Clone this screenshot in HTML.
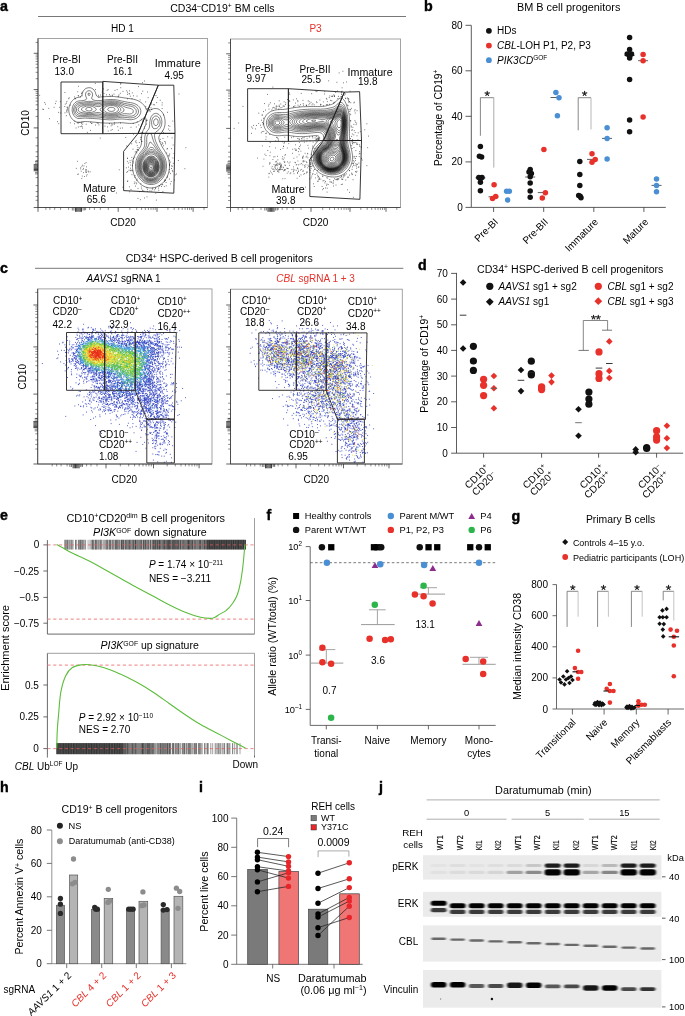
<!DOCTYPE html>
<html><head><meta charset="utf-8"><style>
html,body{margin:0;padding:0;background:#fff;}
svg{display:block;will-change:transform;opacity:0.999;font-family:"Liberation Sans", sans-serif;font-size:10px;}
</style></head><body>
<svg width="685" height="1016" viewBox="0 0 685 1016">
<defs>
<filter id="blur1" x="-20%" y="-50%" width="140%" height="200%"><feGaussianBlur stdDeviation="1.2"/></filter>
<filter id="bb" x="-5%" y="-20%" width="110%" height="140%"><feGaussianBlur stdDeviation="0.9 0.7"/></filter>
<filter id="blur2" x="-20%" y="-50%" width="140%" height="200%"><feGaussianBlur stdDeviation="0.7"/></filter>
</defs>
<text transform="translate(0.0 10.6) scale(0.92 1)" font-size="15.5" font-weight="bold" fill="#000" stroke="#000" stroke-width="0.45">a</text>
<text x="170.2" y="11.6" textLength="104.3" lengthAdjust="spacingAndGlyphs">CD34<tspan dy="-3.5" font-size="6.5">–</tspan><tspan dy="3.5">CD19</tspan><tspan dy="-3.5" font-size="6.5">+</tspan><tspan dy="3.5">  BM cells</tspan></text>
<line x1="38.0" y1="16.5" x2="406.0" y2="16.5" stroke="#555" stroke-width="0.8"/>
<text x="122.5" y="32.0" text-anchor="middle">HD 1</text>
<text x="315.5" y="32.0" text-anchor="middle" fill="#e8312a">P3</text>
<rect x="38" y="38.5" width="169.5" height="169.0" fill="none" stroke="#9a9a9a" stroke-width="0.9"/>
<line x1="38.0" y1="38.5" x2="38.0" y2="207.5" stroke="#444" stroke-width="0.9"/>
<line x1="38.0" y1="207.5" x2="207.5" y2="207.5" stroke="#444" stroke-width="0.9"/>
<line x1="33.7" y1="53.3" x2="38.0" y2="53.3" stroke="#231f20" stroke-width="0.7"/>
<line x1="33.7" y1="89.6" x2="38.0" y2="89.6" stroke="#231f20" stroke-width="0.7"/>
<line x1="33.7" y1="127.9" x2="38.0" y2="127.9" stroke="#231f20" stroke-width="0.7"/>
<line x1="33.7" y1="207.5" x2="38.0" y2="207.5" stroke="#231f20" stroke-width="0.7"/>
<line x1="35.6" y1="78.7" x2="38.0" y2="78.7" stroke="#231f20" stroke-width="0.5"/>
<line x1="35.6" y1="72.3" x2="38.0" y2="72.3" stroke="#231f20" stroke-width="0.5"/>
<line x1="35.6" y1="67.7" x2="38.0" y2="67.7" stroke="#231f20" stroke-width="0.5"/>
<line x1="35.6" y1="64.2" x2="38.0" y2="64.2" stroke="#231f20" stroke-width="0.5"/>
<line x1="35.6" y1="61.4" x2="38.0" y2="61.4" stroke="#231f20" stroke-width="0.5"/>
<line x1="35.6" y1="58.9" x2="38.0" y2="58.9" stroke="#231f20" stroke-width="0.5"/>
<line x1="35.6" y1="56.8" x2="38.0" y2="56.8" stroke="#231f20" stroke-width="0.5"/>
<line x1="35.6" y1="55.0" x2="38.0" y2="55.0" stroke="#231f20" stroke-width="0.5"/>
<line x1="35.6" y1="116.4" x2="38.0" y2="116.4" stroke="#231f20" stroke-width="0.5"/>
<line x1="35.6" y1="109.6" x2="38.0" y2="109.6" stroke="#231f20" stroke-width="0.5"/>
<line x1="35.6" y1="104.8" x2="38.0" y2="104.8" stroke="#231f20" stroke-width="0.5"/>
<line x1="35.6" y1="101.1" x2="38.0" y2="101.1" stroke="#231f20" stroke-width="0.5"/>
<line x1="35.6" y1="98.1" x2="38.0" y2="98.1" stroke="#231f20" stroke-width="0.5"/>
<line x1="35.6" y1="95.5" x2="38.0" y2="95.5" stroke="#231f20" stroke-width="0.5"/>
<line x1="35.6" y1="93.3" x2="38.0" y2="93.3" stroke="#231f20" stroke-width="0.5"/>
<line x1="35.6" y1="91.4" x2="38.0" y2="91.4" stroke="#231f20" stroke-width="0.5"/>
<line x1="35.6" y1="42.4" x2="38.0" y2="42.4" stroke="#231f20" stroke-width="0.5"/>
<line x1="35.6" y1="137.8" x2="38.0" y2="137.8" stroke="#231f20" stroke-width="0.5"/>
<line x1="35.6" y1="177.6" x2="38.0" y2="177.6" stroke="#231f20" stroke-width="0.5"/>
<line x1="35.6" y1="145.8" x2="38.0" y2="145.8" stroke="#231f20" stroke-width="0.5"/>
<line x1="35.6" y1="185.6" x2="38.0" y2="185.6" stroke="#231f20" stroke-width="0.5"/>
<line x1="35.6" y1="151.8" x2="38.0" y2="151.8" stroke="#231f20" stroke-width="0.5"/>
<line x1="35.6" y1="191.6" x2="38.0" y2="191.6" stroke="#231f20" stroke-width="0.5"/>
<line x1="35.6" y1="156.6" x2="38.0" y2="156.6" stroke="#231f20" stroke-width="0.5"/>
<line x1="35.6" y1="196.4" x2="38.0" y2="196.4" stroke="#231f20" stroke-width="0.5"/>
<line x1="35.6" y1="160.5" x2="38.0" y2="160.5" stroke="#231f20" stroke-width="0.5"/>
<line x1="35.6" y1="200.3" x2="38.0" y2="200.3" stroke="#231f20" stroke-width="0.5"/>
<line x1="33.7" y1="164.7" x2="38.0" y2="164.7" stroke="#111" stroke-width="0.8"/>
<line x1="33.7" y1="165.9" x2="38.0" y2="165.9" stroke="#111" stroke-width="0.8"/>
<line x1="33.7" y1="167.1" x2="38.0" y2="167.1" stroke="#111" stroke-width="0.8"/>
<line x1="33.7" y1="168.3" x2="38.0" y2="168.3" stroke="#111" stroke-width="0.8"/>
<line x1="33.7" y1="169.5" x2="38.0" y2="169.5" stroke="#111" stroke-width="0.8"/>
<line x1="33.7" y1="170.7" x2="38.0" y2="170.7" stroke="#111" stroke-width="0.8"/>
<line x1="35.0" y1="161.5" x2="38.0" y2="161.5" stroke="#222" stroke-width="0.6"/>
<line x1="35.0" y1="163.1" x2="38.0" y2="163.1" stroke="#222" stroke-width="0.6"/>
<line x1="35.0" y1="172.3" x2="38.0" y2="172.3" stroke="#222" stroke-width="0.6"/>
<line x1="35.0" y1="173.9" x2="38.0" y2="173.9" stroke="#222" stroke-width="0.6"/>
<line x1="118.2" y1="207.5" x2="118.2" y2="211.8" stroke="#231f20" stroke-width="0.7"/>
<line x1="157.0" y1="207.5" x2="157.0" y2="211.8" stroke="#231f20" stroke-width="0.7"/>
<line x1="193.1" y1="207.5" x2="193.1" y2="211.8" stroke="#231f20" stroke-width="0.7"/>
<line x1="38.0" y1="207.5" x2="38.0" y2="211.8" stroke="#231f20" stroke-width="0.7"/>
<line x1="129.9" y1="207.5" x2="129.9" y2="209.9" stroke="#231f20" stroke-width="0.5"/>
<line x1="136.7" y1="207.5" x2="136.7" y2="209.9" stroke="#231f20" stroke-width="0.5"/>
<line x1="141.6" y1="207.5" x2="141.6" y2="209.9" stroke="#231f20" stroke-width="0.5"/>
<line x1="145.3" y1="207.5" x2="145.3" y2="209.9" stroke="#231f20" stroke-width="0.5"/>
<line x1="148.4" y1="207.5" x2="148.4" y2="209.9" stroke="#231f20" stroke-width="0.5"/>
<line x1="151.0" y1="207.5" x2="151.0" y2="209.9" stroke="#231f20" stroke-width="0.5"/>
<line x1="153.2" y1="207.5" x2="153.2" y2="209.9" stroke="#231f20" stroke-width="0.5"/>
<line x1="155.2" y1="207.5" x2="155.2" y2="209.9" stroke="#231f20" stroke-width="0.5"/>
<line x1="167.9" y1="207.5" x2="167.9" y2="209.9" stroke="#231f20" stroke-width="0.5"/>
<line x1="174.2" y1="207.5" x2="174.2" y2="209.9" stroke="#231f20" stroke-width="0.5"/>
<line x1="178.7" y1="207.5" x2="178.7" y2="209.9" stroke="#231f20" stroke-width="0.5"/>
<line x1="182.2" y1="207.5" x2="182.2" y2="209.9" stroke="#231f20" stroke-width="0.5"/>
<line x1="185.1" y1="207.5" x2="185.1" y2="209.9" stroke="#231f20" stroke-width="0.5"/>
<line x1="187.5" y1="207.5" x2="187.5" y2="209.9" stroke="#231f20" stroke-width="0.5"/>
<line x1="189.6" y1="207.5" x2="189.6" y2="209.9" stroke="#231f20" stroke-width="0.5"/>
<line x1="191.4" y1="207.5" x2="191.4" y2="209.9" stroke="#231f20" stroke-width="0.5"/>
<line x1="204.0" y1="207.5" x2="204.0" y2="209.9" stroke="#231f20" stroke-width="0.5"/>
<line x1="108.3" y1="207.5" x2="108.3" y2="209.9" stroke="#231f20" stroke-width="0.5"/>
<line x1="68.6" y1="207.5" x2="68.6" y2="209.9" stroke="#231f20" stroke-width="0.5"/>
<line x1="100.3" y1="207.5" x2="100.3" y2="209.9" stroke="#231f20" stroke-width="0.5"/>
<line x1="60.6" y1="207.5" x2="60.6" y2="209.9" stroke="#231f20" stroke-width="0.5"/>
<line x1="94.4" y1="207.5" x2="94.4" y2="209.9" stroke="#231f20" stroke-width="0.5"/>
<line x1="54.7" y1="207.5" x2="54.7" y2="209.9" stroke="#231f20" stroke-width="0.5"/>
<line x1="89.6" y1="207.5" x2="89.6" y2="209.9" stroke="#231f20" stroke-width="0.5"/>
<line x1="49.9" y1="207.5" x2="49.9" y2="209.9" stroke="#231f20" stroke-width="0.5"/>
<line x1="85.6" y1="207.5" x2="85.6" y2="209.9" stroke="#231f20" stroke-width="0.5"/>
<line x1="45.9" y1="207.5" x2="45.9" y2="209.9" stroke="#231f20" stroke-width="0.5"/>
<line x1="75.5" y1="207.5" x2="75.5" y2="211.8" stroke="#111" stroke-width="0.8"/>
<line x1="76.7" y1="207.5" x2="76.7" y2="211.8" stroke="#111" stroke-width="0.8"/>
<line x1="77.9" y1="207.5" x2="77.9" y2="211.8" stroke="#111" stroke-width="0.8"/>
<line x1="79.1" y1="207.5" x2="79.1" y2="211.8" stroke="#111" stroke-width="0.8"/>
<line x1="80.3" y1="207.5" x2="80.3" y2="211.8" stroke="#111" stroke-width="0.8"/>
<line x1="81.5" y1="207.5" x2="81.5" y2="211.8" stroke="#111" stroke-width="0.8"/>
<line x1="72.3" y1="207.5" x2="72.3" y2="210.5" stroke="#222" stroke-width="0.6"/>
<line x1="73.9" y1="207.5" x2="73.9" y2="210.5" stroke="#222" stroke-width="0.6"/>
<line x1="83.1" y1="207.5" x2="83.1" y2="210.5" stroke="#222" stroke-width="0.6"/>
<line x1="84.7" y1="207.5" x2="84.7" y2="210.5" stroke="#222" stroke-width="0.6"/>
<path d="M146.9 191.3h.8m-99.3-82.9h.8m6-4.8h.8m39.1 21.5h.8m-21.1-26.2h.8m95.6 49.8h.8m-94.6-56.9h.8m39.8 4.3h.8m50.3 64.2h.8m-6.9-14.5h.8m-33.4 24.9h.8m-61.2-65.6h.8m63.8 70.4h.8m20.2-79.9h.8m-30.1 50.4h.8m40.1-33.7h.8m-31.3 66.8h.8m-8.2 12.7h.8m6.4-11.4h.8m-2.1 5.7h.8m8.2-105.1h.8m-12.6 89.7h.8m-84.2-52h.8m17.1-11.6h.8m98 75.4h.8m-38.6-19.4h.8m22.6-53.5h.8m-14.5 37.9h.8m30.1 9.3h.8m-42 14.7h.8m-61.3-64h.8m84.7 80.7h.8m21.7-13.4h.8m-55.1-91.3h.8m31.6 21.2h.8m8.5 26.4h.8m-96.3-21.4h.8m79.5-17.7h.8m-.1 5.6h.8m-30.6 32.7h.8m12.6 39.9h.8m-9.5-78.8h.8m36.3 50.2h.8m-18.5-58.9h.8m-10 40.7h.8m-33.4-28.4h.8m60.8 47.6h.8m-31.3 1.2h.8m14.6-23.5h.8m-73.4 3.5h.8m2-1.1h.8m94.7-1.6h.8m-1.5 16.8h.8m-35.9-41.8h.8m27 45.4h.8m-32-45.7h.8m10.3 32.8h.8m-15.5 32.1h.8m-50.5-63.8h.8m-35.5 7.3h.8m18.6 8.6h.8m61.6 45.5h.8m34.8-19.8h.8m-81.1-14.3h.8m66.1-14.7h.8m-23.6 62.9h.8m-71.5-71.2h.8m79.8 82.6h.8m21.3 6.5h.8m3.2-46.7h.8m-27.4 7.8h.8m22 34.4h.8m-79.8-63.4h.8m54.4 29.6h.8m2 46.4h.8m-3.4-56.5h.8m-26.1-45.9h.8m58.7 83.1h.8m-15.9-74.3h.8m10.9 81h.8m-22.6-58.9h.8m-2.4-35.7h.8m26.8 82.4h.8m5.2 .4h.8m-123.1-66.7h.8m77.1-8.7h.8m-66.5 17.1h.8m71.3-29.1h.8m-72.3 14.8h.8m100 35.4h.8m-87.1-14.6h.8m59.8 10.2h.8m8.7-28.5h.8m-47.3 22.2h.8m-29.7 1.9h.8m95.9 43.6h.8m-4-7.1h.8m-42.6 16.4h.8m-61.6-68.7h.8m79.6 77.1h.8m-17.8-21.1h.8m21.1 21h.8m-87.8-85.1h.8m51.7 22.6h.8m14.4 22.5h.8m-1.5-56.3h.8m24.2 4.6h.8m-21.8 29.5h.8m9.3-2.9h.8m-19.7-29.8h.8m-83.6 8.3h.8m89.3 54.6h.8m-5.4 5.4h.8m31.2 22.2h.8m-35.5-86h.8m-18.8-4.3h.8m-41.6 4.2h.8m97.2 54.3h.8m2.3-22.4h.8m-59.6-.3h.8m67.2-36.3h.8m-28 97.1h.8m-10.7-49.7h.8m-16.4 26.4h.8m3.9-40.5h.8m-92.1-32h.8m113.8 94.6h.8m-5-78.3h.8m12 79.8h.8m-96.3-82.6h.8m105.1 54.5h.8m-59.6-39.1h.8m-37.1-28.7h.8m11.6 34.9h.8m68.8-30.1h.8m-57.9-3.9h.8m-45.2 16h.8m70 74.4h.8m-63.7-83.7h.8m65 62.4h.8m36.1 4h.8m-67.9-77.5h.8m64 57.1h.8m-5.9-4.7h.8m-44.6-47.8h.8m-26.9 26.7h.8m77.5 38.8h.8m-33.9-40.4h.8m-79.2 2h.8m114.4 29.8h.8m-6.4-24.4h.8m-3.7 14.7h.8m-26.2-43.9h.8m-53.6 32.5h.8m76.8 47.8h.8m-27.7 8.2h.8m-27-64.3h.8m-34.3 2.9h.8m28.5-.1h.8m55.3-11.9h.8m-99.7-8.5h.8m54.7-13.2h.8m7.9 76.9h.8m28.8 17.9h.8m-89.1-65.3h.8m85.6-20.2h.8m-97.8 4.7h.8m78 43h.8m1 49.4h.8m-6.8-16.1h.8m-4.8-87.4h.8m.7 61.2h.8m39.7 13h.8m-40.1-8.8h.8m-51.3-33.5h.8m-16.6-16.9h.8m60.1-19h.8m10.4 32.7h.8m-27.4-29.3h.8m-1.8 30.2h.8m47.5 60.1h.8m-23.6-43.1h.8m9.5 54.1h.8m-66.3-103.4h.8m17.9 44.6h.8m44.8-31.5h.8m-16.3 63.7h.8m-24.5-75.5h.8m70.9 65.7h.8m-23.3 32.7h.8m-81.4-94.7h.8m43-3.6h.8m13.5 68h.8m-25.9-31.9h.8m-10.9-7.7h.8m43.6-2.4h.8m-3.6 70.8h.8m.4-7.9h.8m-63.3-87.8h.8m49.2 71.1h.8m32.9-62.1h.8m-19.1 85.9h.8m-27.5-101.3h.8m51.3 65.6h.8m-87.9-59.4h.8m61.2 22.2h.8m11.4 82.1h.8m-20-50.5h.8m-5.9 25.1h.8m31.5 11.9h.8m-104.3-73.6h.8m100.6-10.2h.8m-88.5-5.8h.8m94.4 66.9h.8m-3.4 13.6h.8m1.4-5.4h.8m-49.6-49h.8m-43.2 .2h.8m83.8 61h.8m-22.2 2.7h.8m-.8-67.7h.8m-61.9 7.3h.8m83.9 53.5h.8m-23.1 10.2h.8m29.5-32.3h.8m-130.3-48.5h.8m100.3 88.5h.8m1.5-77.9h.8m-18.5-26.5h.8m35.6 48.6h.8m-54-47.1h.8m28.6 93.7h.8m-.7-47.4h.8m-59.7-19.3h.8m69-23h.8m10.1 33.6h.8m-23.3 4.5h.8m-60.4-13.5h.8m86.5 31.9h.8m-7.5-47.1h.8m10.2 36.5h.8m-131.1-35.8h.8m111.8 78.8h.8m13.7-61.7h.8m-15.3 62.4h.8m-26.6-94.8h.8m-23.3-3.6h.8m-3.9 3.2h.8m21.9-2.7h.8m15.2 41.8h.8m-39.9-43.7h.8m-23 37.2h.8m52.6 55.9h.8m-16.4-12.2h.8m17.2-24.2h.8m31.7 8.4h.8m-49.9-69.9h.8m24.3 17.8h.8m-14.5 58.2h.8m-54.4-73.8h.8m57.6 66.6h.8m34.6 13.4h.8m-12.7-26.9h.8m-38.6-11.4h.8m24.4-19.4h.8m-69.6 13.7h.8m61.7-28.6h.8m-60.1-1.4h.8m12.5-2.8h.8m37.4 44.6h.8m-76.8-12.4h.8m92.6-13.9h.8m-12.5 34.7h.8m.4-2.8h.8m-26.9-16.9h.8m-24.8-.5h.8m78.4 43.4h.8m-73.2-42.8h.8m18.4 70.1h.8m10.1-31.6h.8m40.5-35.7h.8m-104.5-33.2h.8m70.4 48.2h.8m13 50.2h.8m-14.6-8.1h.8m24.5 3.7h.8m-49.4-61.6h.8m17.1 40.2h.8m-5.7-27.6h.8m39 42.9h.8m-25.6-42.7h.8m-46.3-54.2h.8m31.5 98h.8m6.5-4.3h.8m1.8-27.6h.8m-63.5-28.6h.8m85.3 63.3h.8m-34.1-26h.8m2.6 31.2h.8m-2.3-98.6h.8m-18.1 38.6h.8m-26.8-5.3h.8m4.6-.8h.8m17.2 .3h.8m4.6-33.3h.8m69.1 78.3h.8m-15.3 15.2h.8m-104.2-73.6h.8m99.8 38.2h.8m-54.4-54.4h.8m-32.7 32.6h.8m40 60.5h.8m-2.9-99.5h.8m49.9 80.8h.8m-73.4-43.6h.8m3.1-28.6h.8m67.6 85.2h.8m-.3-15.7h.8m-103.3-68h.8m50.3 30.4h.8m53.4 51.8h.8m-10.9 1.6h.8m-18.3 6.2h.8m-1.1-67h.8m38.5 26.9h.8m-87.9-50.4h.8m34 61.2h.8m11.6-49.7h.8m20.8 67.4h.8m-60.3-86.5h.8m-48.6 12h.8m37.5-6.4h.8" stroke="#333" stroke-width="0.8" fill="none"/>
<path d="M83 172.6h.8m-.7-4.2h.8m-3.6 .5h.8m7.3 3.2h.8m-1.1-.9h.8m-3.3-.3h.8m-9.1 3.4h.8m7.9-1.8h.8m-9.6-11.2h.8m2.4 6.4h.8m4 2.1h.8m.1-3h.8m-1.7 5.2h.8m-4.6 6.6h.8m4-2.6h.8m-5.5-9.7h.8m.3 3.2h.8m3.1 1.7h.8m-5.1-6h.8m-1.1 10.9h.8m-1.9-4.9h.8m4.1-8.6h.8m-2.3 13.9h.8m-9.1-8.1h.8m6.9-2.5h.8m1.6 3.8h.8m-8.7 4.4h.8m7.8 .6h.8m2.3-2.9h.8m-6.1-8.3h.8" stroke="#444" stroke-width="0.8" fill="none"/>
<path d="M153 187.8l-1.8 .2 -1.8-.1 -1.2-.2 -1.8-.4 -1.2-.4 -1.2-.6 -1.2-.6 -1.2-.8 -1-.7 -.8-.7 -1.1-1.1 -.7-.8 -.8-1 -.9-1.2 -.7-1.2 -.6-1.2 -.6-1.2 -.5-1.2 -.4-1.2 -.3-1.3 -.4-1.7 -.2-1.8 -.1-1.2 0-1.8 .1-1.8 .1-1.2 .3-1.8 .3-1.2 .5-1.7 .5-1.3 .5-1.2 .6-1.2 .7-1.2 .7-1.1 .6-.9 .8-1 .9-1.2 .7-1 .6-1 .6-1.4 .3-1.4 .2-1.8 0-1.8 0-1.8 .1-1.8 .1-1.2 .3-1.8 .3-1.2 .5-1.6 .6-1.4 .6-1.2 .6-1.2 .6-1.2 .4-1.2 .3-1.2 .1-1.8 0-1.8 -.2-1.7 -.6-.8 -1.2 .5 -1.2 .8 -.7 .6 -1.1 .8 -1.2 .7 -1.2 .7 -1.2 .6 -1.2 .4 -1.5 .4 -1.5 .3 -1.8 .1 -1.8 0 -1.8-.1 -1.8-.2 -1.2-.1 -1.8-.2 -1.8-.1 -1.8 0 -1.8 .1 -1.8 .1 -1.7 .1 -1.3 .1 -1.8 0 -1.8 0 -1.8 0 -1.8 0 -1.4-.1 -1.6-.1 -1.8-.1 -1.8-.2 -1.8-.1 -1.2-.2 -1.8-.1 -1.8-.2 -1.8-.2 -1.2-.1 -1.8-.1 -1.8-.1 -1.8 .1 -1.2 .2 -1.8 .4 -1.8 .2 -1.8-.2 -1.5-.4 -1.2-.6 -.9-.6 -1.2-1.1 -.6-.7 -.9-1.2 -.7-1.2 -.5-1.2 -.5-1.2 -.4-1.7 -.2-1.3 0-1.8 .2-1.7 .3-1.3 .4-1.2 .6-1.2 .6-1.2 .8-1.2 .9-1 .8-.8 1-.8 1.2-.6 1.2-.5 1.8-.4 1.2-.2 1.2-.5 .8-1.2 .4-1.3 .5-1.7 .5-1.2 .8-1.2 .6-.6 1.2-.9 1.2-.5 1.8-.3 1.8 .1 1.2 .5 1.2 .7 1 1 .8 1.2 .6 1.2 .3 1.2 .4 1.2 .6 1.2 1.1 .8 1.8 .2 1.8-.1 1.8-.1 1.8-.1 1.2-.1 1.8-.1 1.8-.1 1.8 .1 1.8 0 1.2 .1 1.8 .2 1.8 .2 1.6 .2 1.4 .2 1.8 .3 1.2 .2 1.8 .2 1.8 .3 1.2 .1 1.8 .3 1.4 .2 1.6 .3 1.2 .3 1.7 .6 1.3 .5 1.2 .6 1.1 .7 .9 .6 1 .8 1 1 .8 .9 .7 .9 .7 1.2 .7 1.2 .5 1.2 1 1.2 .6 0 1.4-.6 1.1-.6 1.3-.6 1.6-.5 1.2-.2 1.8 .1 1.2 .2 1.2 .6 1.2 .8 .9 .8 .9 1 .6 .8 .7 1.2 .5 1.2 .6 1.7 .3 1.3 .3 1.8 .1 1.2 0 1.8 -.1 1.2 -.3 1.8 -.3 1.2 -.6 1.6 -.6 1.3 -.6 1 -.6 .9 -.9 1.2 -.9 1.1 -.6 .9 -.6 1.3 -.2 1.5 .2 1.4 .5 1.6 .4 1.2 .6 1.2 .5 1.2 .6 1.2 .7 1.2 .7 1.2 .7 1.2 .7 1 .6 1 .6 1 .7 1.2 .7 1.2 .5 1.2 .5 1.3 .6 1.7 .3 1.2 .3 1.7 .2 1.3 .1 1.8 0 1.8 -.1 1.8 -.2 1.5 -.3 1.5 -.3 1.2 -.6 1.8 -.4 1.2 -.6 1.2 -.6 1.2 -.7 1.2 -.7 1 -.6 .8 -1.1 1.2 -.7 .7 -1.2 1.1 -.8 .6 -1 .6 -1.2 .7 -1.2 .6 -1.4 .5 -1.6 .4 -1.2 .2zM133.2 119.4l-1.8 .3 -1.8 0 -1.8-.2 -1.2-.1 -1.8-.2 -1.8-.2 -1.8 0 -1.8 .1 -1.8 .2 -1.2 .1 -1.8 .2 -1.8 .1 -1.8 .1 -1.8 0 -1.8-.1 -1.8-.1 -1.8-.2 -1.2-.1 -1.8-.2 -1.8-.2 -1.2-.1 -1.8-.1 -1.8-.1 -1.8-.1 -1.8-.1 -1.8-.1 -1.7-.1 -1.3-.1 -1.8 0 -1.2 .1 -1.8 .2 -1.8 .1 -1.8-.2 -1.2-.6 -1-.7 -.8-.8 -.8-1 -.6-1.2 -.4-1.2 -.4-1.8 0-1.8 .2-1.8 .4-1.2 .5-1.2 .8-1.2 .9-1 1.1-.8 1.1-.6 1.4-.4 1.6-.2 1.4-.1 1.8-.2 1.4-.3 1.3-.6 .6-1.2 -.5-1.2 -.5-1.2 -.2-1.8 .3-1.4 .7-1 1.1-.8 1.8-.3 1.4 .5 1 .9 .6 1.2 .2 1.5 -.2 1.2 -.6 1.7 0 1.3 .7 .6 1.6 .6 1.3 .3 1.8 .1 1.8 0 1.8-.1 1.8-.3 1.2-.1 1.8-.3 1.8-.1 1.2-.1 1.8-.1 1.8 0 1.3 .1 1.7 .1 1.8 .3 1.2 .2 1.8 .4 1.2 .3 1.8 .4 1.2 .2 1.8 .4 1.2 .2 1.8 .3 1.5 .2 1.5 .3 1.2 .3 1.7 .6 1.3 .6 1 .6 .8 .6 1.1 1.2 .7 .9 .6 1.3 .4 1.4 0 1.8 -.4 1.6 -.6 1.2 -.6 .9 -1 1.1 -.8 .6 -1.2 .8 -1.2 .5 -1.6 .5zM153.6 184.3l-1.8 .2 -1.8 0 -1.8-.3 -1.2-.3 -1.2-.5 -1.2-.5 -1.2-.8 -1.2-.9 -.7-.6 -1.1-1.1 -.6-.7 -.9-1.2 -.7-1.2 -.6-1.2 -.6-1.2 -.4-1.2 -.4-1.4 -.4-1.6 -.2-1.8 -.1-1.2 0-1.8 .1-1.2 .3-1.8 .3-1.4 .5-1.6 .4-1.2 .6-1.2 .7-1.2 .7-1.2 .7-1 .6-.8 1-1.2 .8-1 .6-.8 .8-1.2 .6-1.2 .4-1.4 .2-1.6 0-1.8 0-1.8 -.1-1.8 .1-1.8 .4-1.8 .3-1.2 .6-1.2 .8-1.2 .7-1 .7-.8 .7-1.2 .4-1.2 .2-1.8 .1-1.8 .1-1.8 .2-1.3 .4-1.7 .4-1.2 .5-1.2 .9-1.2 .8-.8 1.2-.7 1.2-.3 1.2 0 1.5 .6 .9 .6 1.1 1.2 .7 1.2 .5 1.2 .3 1.2 .3 1.8 -.1 1.8 -.2 1.8 -.4 1.2 -.5 1.2 -.8 1.2 -.9 1.1 -.8 .7 -1 .8 -1.2 .9 -.7 .7 -.6 1.2 -.2 1.8 .2 1.8 .2 1.2 .5 1.8 .4 1.2 .6 1.2 .5 1.2 .6 1.2 .6 1.2 .7 1.2 .7 1.2 .7 1.2 .6 .9 .6 .9 .8 1.2 .8 1.2 .7 1.2 .6 1.2 .6 1.2 .4 1.2 .4 1.2 .4 1.8 .2 1.2 .2 1.8 0 1.8 -.2 1.8 -.1 1.2 -.4 1.8 -.4 1.2 -.4 1.2 -.6 1.3 -.6 1.1 -.7 1.2 -.9 1.2 -.8 .9 -.9 .9 -.9 .8 -1.2 .9 -1.2 .7 -1.2 .5 -1.2 .5 -1.2 .3zM89.4 95.5l-1.2-.3 -.2-1.6 1.4-.5 .8 1.1 -.6 1.2zM113.4 118.2l-1.8 .1 -1.8 0 -1.8 0 -1.2-.1 -1.8-.2 -1.8-.3 -1.2-.1 -1.8-.3 -1.8-.2 -1.8-.1 -1.2 0 -1.8 0 -1.2 0 -1.6 0 -1.4 0 -1.8-.2 -1.8-.1 -1.8-.1 -1.8 .1 -1.8 .1 -1.8-.1 -1.2-.3 -1.2-.8 -1-1 -.8-1.2 -.4-1.2 -.3-1.2 -.1-1.8 .2-1.2 .6-1.7 .6-1.1 .7-.8 1.1-.9 1.2-.6 1.2-.4 1.8-.2 1.8-.2 1.3-.1 1.7-.3 1.8-.2 1.2-.2 1.8 .1 1.2 .1 1.8 .3 1.2 .2 1.8 .2 1.8 0 1.8-.1 1.2-.2 1.8-.3 1.3-.2 1.7-.3 1.8-.2 1.8-.1 1.2 0 1.2 0 1.8 .1 1.8 .2 1.4 .3 1.6 .4 1.2 .3 1.8 .5 1.2 .3 1.2 .4 1.8 .4 1.2 .2 1.8 .3 1.2 .2 1.8 .4 1.2 .4 1.2 .5 1.2 .7 1.2 1 .6 .8 .6 1 .5 1.8 -.2 1.8 -.5 1.2 -.8 1.2 -.8 .8 -1.2 .8 -1.2 .5 -1.2 .3 -1.8 .3 -1.8-.1 -1.8-.2 -1.2-.1 -1.8-.2 -1.8-.1 -1.8 .2 -1.8 .2 -1.2 .2 -1.8 .2 -1.8 .2zM156 128.6l-1.8 .1 -1.2-.6 -.6-1 -.5-1.7 -.2-1.2 -.1-1.8 .2-1.7 .3-1.3 .6-1.2 .8-1.2 .8-.6 1.7-.5 1.6 .5 .8 .7 .8 1.1 .5 1.2 .4 1.8 0 1.8 -.4 1.8 -.6 1.2 -.7 1 -.9 .8 -1 .6zM152.4 183.1l-1.8 .1 -1.5-.2 -1.5-.3 -1.2-.5 -1.2-.5 -1.2-.8 -1.2-.9 -.7-.6 -1.1-1.2 -.6-.8 -.7-1 -.7-1.2 -.6-1.2 -.5-1.2 -.5-1.7 -.3-1.3 -.3-1.8 0-1.2 0-1.8 .1-1.2 .3-1.8 .3-1.2 .5-1.6 .6-1.4 .6-1.2 .6-1 .6-.9 .8-1.1 1-1.2 .6-.7 .9-1.1 .9-1.1 .6-.9 .6-1.1 .6-1.7 .2-1.2 .2-1.8 -.1-1.8 0-1.8 .1-1.8 .2-1.2 .6-1.3 1-1.1 1.4-.5 1.2 .7 .6 1.3 .4 1.5 .3 1.2 .5 1.6 .5 1.4 .5 1.2 .6 1.2 .6 1.2 .7 1.2 .7 1.2 .6 1 .6 .9 .7 1.1 .8 1.2 .9 1.2 .6 .9 .6 .9 .8 1.2 .7 1.2 .6 1.2 .5 1.2 .4 1.3 .4 1.7 .2 1.2 .2 1.8 0 1.8 -.1 1.8 -.2 1.2 -.4 1.8 -.4 1.2 -.5 1.2 -.6 1.2 -.7 1.2 -.8 1.2 -.7 .8 -.9 1 -.9 .8 -1.2 .9 -1.2 .7 -1.2 .5 -1.2 .4 -1.3 .3zM114 117.1l-1.8 .1 -1.8 0 -1.8 0 -1.8-.2 -1.2-.2 -1.8-.2 -1.2-.3 -1.8-.3 -1.4-.2 -1.6-.1 -1.8-.1 -1.8 .1 -1.6 .1 -1.4 0 -1.8 0 -1.2 0 -1.8-.2 -1.8-.1 -1.8-.1 -1.8 0 -1.8-.1 -1.2-.3 -1.2-.8 -.7-.8 -.7-1.2 -.4-1.4 -.1-1.6 .3-1.2 .4-1.2 .8-1.2 1-.8 1.2-.7 1.2-.3 1.8-.3 1.8-.2 1.2-.2 1.8-.3 1.8-.1 1.8-.1 1.8 .2 1.8 .3 1.2 .2 1.8 .2 1.8 .1 1.8-.2 1.3-.2 1.7-.4 1.2-.2 1.8-.4 1.7-.2 1.3-.1 1.8-.1 1.8 .1 1.5 .1 1.5 .2 1.8 .4 1.2 .3 1.2 .4 1.4 .5 1.6 .6 1.2 .4 1.2 .4 1.8 .4 1.2 .2 1.8 .3 1.2 .3 1.2 .4 1.2 .6 1.2 1 .7 .8 .5 1.2 .1 1.8 -.5 1.2 -.8 1.1 -1 .7 -1.3 .6 -1.3 .3 -1.8 .1 -1.8-.2 -1.7-.2 -1.3-.1 -1.8 0 -1.2 .1 -1.8 .3 -1.7 .3 -1.3 .3 -1.8 .2 -1.2 .2zM156 125.6l-1.2-.3 -.8-1.1 -.4-1.5 0-.9 .5-1.8 .7-.8 1.2-.5 1.2 .5 .6 .8 .4 1.8 -.2 1.8 -.7 1.2 -.8 .6zM153.6 181.8l-1.8 .3 -1.8 0 -1.8-.3 -1.2-.4 -1.2-.5 -1.2-.7 -1-.8 -.8-.7 -1-1.1 -.8-1 -.6-.9 -.7-1.1 -.5-1.2 -.6-1.5 -.4-1.5 -.2-1.2 -.3-1.8 0-1.8 .1-1.8 .2-1.2 .5-1.8 .4-1.2 .5-1.2 .6-1.2 .7-1.2 .9-1.2 .6-.8 .9-1 .9-1 .7-.8 1.1-1.2 .6-.8 .7-1 .7-1.2 .5-1.2 .5-1.3 .6-1.6 .6-.9 1.2 .6 .8 .8 1 1.2 .6 .7 .8 1.1 .9 1.2 .7 1 .6 .8 .9 1.2 .9 1.2 .6 .8 .7 1 .9 1.2 .8 1.2 .6 1.1 .6 1.2 .5 1.3 .4 1.2 .4 1.2 .3 1.8 .1 1.8 0 1.8 -.2 1.8 -.3 1.2 -.5 1.8 -.5 1.2 -.5 1.2 -.7 1.2 -.8 1.1 -.6 .7 -1.1 1.2 -.7 .6 -1.2 .9 -1.2 .7 -1.2 .5 -1.2 .3zM114.6 115.9l-1.8 .2 -1.8 0 -1.8 0 -1.8-.2 -1.2-.2 -1.8-.3 -1.2-.3 -1.8-.4 -1.2-.3 -1.8-.3 -1.8 0 -1.8 .2 -1.8 .2 -1.2 .1 -1.8 .1 -1.8-.1 -1.2-.1 -1.8-.2 -1.8-.2 -1.6-.1 -1.4-.1 -1.8-.5 -.9-.6 -.9-1.2 -.3-1.2 0-1.8 .5-1.2 1-1.1 1.1-.7 1.3-.5 1.2-.2 1.8-.4 1.2-.2 1.8-.3 1.8-.2 1.2 0 1.2 .1 1.8 .2 1.5 .3 1.5 .3 1.8 .3 1.2 0 1.2 0 1.8-.4 1.2-.3 1.7-.5 1.3-.3 1.3-.3 1.7-.2 1.8-.2 1.8 0 1.8 .2 1.4 .2 1.6 .4 1.2 .3 1.2 .5 1.4 .6 1.3 .6 1.2 .6 1.3 .6 1.4 .6 1.2 .3 1.4 .3 1.6 .4 1.2 .4 1.2 .9 .6 .8 0 1.7 -.6 .8 -1.2 .7 -1.8 .3 -1.8-.1 -1.8-.2 -1.8 0 -1.6 .3 -1.4 .3 -1.2 .4 -1.8 .5 -1.2 .3 -1.8 .3zM151.2 181.2l-1.2 0 -1.8-.4 -1.2-.4 -1.2-.6 -1.2-.8 -1-.8 -.8-.8 -.9-1 -.8-1.2 -.7-1.2 -.5-1.2 -.5-1.2 -.3-1.2 -.4-1.8 -.1-1.5 0-1.5 .1-1.2 .2-1.8 .3-1.2 .6-1.7 .6-1.3 .6-1.1 .6-.9 .7-1 1-1.2 .7-.7 1.1-1.1 .7-.7 1.1-1.1 .7-.7 1.1-1.1 .7-.7 1.2-.8 1.8 .2 1.1 .7 .7 .6 1.1 1.2 .7 .7 .9 1.1 .9 1 .7 .8 .9 1.2 .8 1.1 .6 1 .6 1 .6 1.3 .6 1.6 .3 1.2 .3 1.3 .2 1.7 0 1.8 -.1 1.8 -.2 1.2 -.5 1.7 -.5 1.3 -.5 1.2 -.7 1.2 -.7 1 -.6 .8 -1.2 1.2 -.7 .6 -1.1 .8 -1.2 .6 -1.2 .5 -1.8 .4 -1.2 .1zM111.6 115.2l-1.6 0 -1.4-.1 -1.8-.3 -1.2-.2 -1.8-.5 -1.2-.4 -1.2-.5 -1.5-.4 -1.5-.3 -1.8 .1 -1.2 .2 -1.8 .4 -1.2 .3 -1.8 .2 -1.8 0 -1.8-.2 -1.2-.2 -1.8-.3 -1.2-.2 -1.8-.4 -1.2-.4 -1.2-.9 -.5-1.3 .5-1.7 .6-.7 1.2-.7 1.3-.5 1.7-.5 1.2-.3 1.8-.4 1.2-.1 1.8-.1 1.8 .2 1.2 .2 1.5 .4 1.5 .5 1.2 .3 1.8 .2 1.8-.3 1.2-.4 1.2-.4 1.4-.5 1.6-.5 1.2-.3 1.8-.4 1.2-.1 1.8 0 1.8 .1 1.2 .2 1.8 .4 1.2 .4 1.2 .5 1.2 .6 1.2 .8 1 .7 .8 .8 .9 1 0 1.8 -.9 .7 -1.2 .7 -1.2 .7 -1.2 .5 -1.2 .4 -1.8 .6 -1.2 .2 -1.8 .3 -1.4 .1zM153.6 180.1l-1.8 .4 -1.8 0 -1.8-.4 -1.2-.5 -1.2-.6 -1.1-.8 -.7-.6 -1.2-1.2 -.6-.8 -.7-1 -.6-1.2 -.5-1.2 -.6-1.8 -.3-1.2 -.2-1.8 0-1.8 .1-1.8 .4-1.8 .4-1.2 .4-1.2 .6-1.2 .8-1.2 .8-1.2 .6-.7 1.1-1.1 .7-.7 1.2-1.1 .7-.6 1.1-.9 1.2-.8 1.2-.5 1.8 0 1.2 .6 1.2 .9 .8 .7 1 1 .7 .8 1.1 1.2 .6 .8 .7 1 .8 1.2 .6 1.2 .5 1.2 .4 1.2 .5 1.8 .1 1.2 .1 1.8 -.1 1.8 -.1 1.2 -.5 1.8 -.4 1.2 -.5 1.2 -.6 1.2 -.8 1.2 -.7 .8 -1 1 -.8 .7 -1.2 .8 -1.2 .6 -1.2 .4zM114 114l-1.8 .3 -1.8 0 -1.8-.2 -1.2-.2 -1.8-.5 -1.2-.5 -1.2-.5 -1.2-.7 -.9-.7 -.9-1.1 0-.7 1.1-1.2 .8-.6 1.1-.7 1.2-.6 1.2-.5 1.8-.6 1.2-.2 1.8-.2 1.8 0 1.8 .2 1.2 .2 1.6 .6 1.3 .6 .9 .6 1 .9 .6 .9 .2 1.8 -.8 1.1 -.9 .7 -1.1 .6 -1.4 .6 -1.4 .4 -1.2 .2zM91.8 112.3l-1.8 .2 -1.8 0 -1.8-.3 -1.2-.3 -1.2-.4 -1.2-.5 -1.2-.9 0-1.5 .7-.6 1.1-.7 1.2-.5 1.8-.6 1.2-.2 1.8-.1 1.8 .2 1.2 .4 1.2 .5 1.2 .7 1.2 .9 .3 1.2 -.9 .9 -1.2 .7 -1.2 .5 -1.2 .4zM153.6 179.4l-1.8 .4 -1.8 0 -1.7-.4 -1.3-.5 -1.2-.7 -.8-.6 -1-.9 -.8-.9 -.9-1.2 -.7-1.2 -.5-1.2 -.5-1.2 -.3-1.2 -.3-1.8 -.1-1.8 .1-1.8 .4-1.8 .3-1.2 .4-1.2 .6-1.2 .7-1.2 .9-1.2 .7-.8 1-1 .8-.8 1.2-.9 1-.7 1-.6 1.4-.6 1.4-.1 1.2 .3 1.2 .6 1.2 .9 .7 .7 1.1 1 .7 .8 .9 1.2 .8 1.1 .6 1.1 .6 1.2 .5 1.4 .4 1.2 .3 1.8 .1 1.2 -.1 1.8 -.1 1.2 -.4 1.8 -.3 1.2 -.5 1.2 -.6 1.2 -.8 1.2 -.9 1.1 -.7 .7 -1.1 .9 -1.2 .8 -1.2 .5zM114 112.9l-1.8 .3 -1.8 0 -1.8-.2 -1.2-.3 -1.2-.5 -1.2-.7 -1.1-1.1 -.2-1.2 .7-1.2 .6-.6 1.2-.7 1.2-.5 1.8-.5 1.2-.1 1.8 0 1.2 .1 1.8 .5 1.2 .5 1 .7 .8 1 .3 1.4 -.6 1.2 -.9 .7 -1.2 .7 -1.2 .4zM89.4 111l-1.2-.1 -1.6-.5 -.8-.7 0-1.1 1.2-.8 1.8-.4 1.8 .3 1.2 .7 .3 1.4 -.9 .7 -1.8 .5zM153 178.9l-1.8 .3 -1.8-.2 -1.2-.3 -1.2-.5 -1.2-.8 -1.2-1 -.6-.6 -.9-1.2 -.8-1.2 -.6-1.2 -.4-1.2 -.3-1.2 -.3-1.8 -.1-1.8 .1-1.8 .3-1.6 .4-1.4 .5-1.2 .6-1.2 .8-1.2 .7-.9 .8-.9 1-.9 1.1-.9 .9-.6 1.2-.6 1.6-.5 .9-.1 1.5 .3 1.2 .6 1.2 .8 .8 .7 1 1 .7 .8 .9 1.2 .7 1.2 .6 1.2 .5 1.2 .4 1.2 .3 1.8 .1 1.2 0 1.6 -.1 1.4 -.4 1.8 -.4 1.2 -.5 1.2 -.7 1.2 -.8 1.2 -.7 .8 -1.1 1 -.8 .6 -1.1 .7 -1.4 .5zM113.4 111.1l-1.8 .3 -1.8-.2 -1.2-.4 -1-1 .4-1.3 1.2-.8 1.2-.3 1.8 0 1.2 .3 1.2 .7 .4 1.4 -1 1zM151.8 178.3l-1.8-.1 -1.2-.2 -1.2-.5 -1.2-.7 -1.2-.9 -.7-.7 -.9-1.2 -.7-1.2 -.5-1.2 -.5-1.2 -.3-1.6 -.2-1.4 0-1.8 .2-1.6 .3-1.4 .4-1.2 .6-1.2 .7-1.2 .9-1.2 .7-.8 1.1-1 .8-.6 1.1-.7 1.2-.5 1.8-.3 1.8 .3 1.2 .5 1 .7 .8 .6 1.1 1.2 .7 .8 .7 1 .7 1.2 .5 1.2 .5 1.6 .3 1.4 .1 1.8 -.1 1.8 -.3 1.8 -.3 1.2 -.5 1.2 -.6 1.2 -.8 1.2 -.8 .9 -1 .9 -.8 .6 -1.2 .6 -1.8 .6zM153.6 176.5l-1.8 .4 -1.8 0 -1.8-.5 -1.1-.6 -.8-.6 -1.1-1.2 -.6-.8 -.6-1 -.6-1.4 -.5-1.6 -.2-1.2 0-1.8 .1-1.4 .3-1.6 .5-1.2 .5-1.2 .8-1.2 .9-1 .8-.8 1-.7 1.2-.6 1.7-.5 1.3 0 1.2 .3 1.2 .5 1.2 .9 .7 .7 1 1.2 .7 1 .6 1.3 .5 1.3 .2 1.2 .2 1.8 0 1.8 -.3 1.5 -.5 1.5 -.5 1.2 -.7 1.2 -.7 .9 -.9 .9 -.9 .6 -1.2 .7zM151.8 176.4l-1.6 0 -1.4-.3 -1.2-.6 -1.2-.9 -.6-.6 -.9-1.2 -.6-1.2 -.5-1.2 -.4-1.5 -.2-1.5 0-1.8 .2-1.2 .5-1.8 .6-1.2 .7-1.2 .6-.7 1.1-1.1 .8-.6 1.2-.6 1.7-.4 1.8 .1 1.2 .4 1.2 .8 1 .9 .8 .9 .6 .9 .6 1.2 .6 1.6 .3 1.4 .1 1.8 -.1 1.8 -.3 1.2 -.6 1.7 -.6 1.1 -.6 .9 -1 1.1 -.8 .6 -1.2 .7 -1.8 .5zM151.8 175.9l-1.8-.1 -1.2-.3 -1.2-.6 -1.1-.9 -.7-.8 -.7-1 -.6-1.2 -.5-1.7 -.2-1.3 -.1-1.8 .3-1.8 .3-1.2 .5-1.2 .7-1.2 .9-1.1 .8-.7 1-.7 1.2-.5 1.8-.3 1.6 .3 1.2 .6 .9 .6 1.1 1.1 .6 .8 .6 1.1 .6 1.5 .4 1.5 .1 1.8 -.2 1.8 -.3 1.4 -.6 1.6 -.6 1 -.6 .8 -1.2 1.2 -1 .6 -1.4 .5zM152.4 175.3l-1.8 .1 -1.2-.2 -1.3-.6 -1.1-.8 -.9-1 -.8-1.2 -.5-1.2 -.4-1.2 -.2-1.8 0-1.8 .4-1.7 .5-1.3 .7-1.2 .6-.8 1-1 .8-.6 1.5-.6 1.5-.2 1.3 .2 1.3 .6 1 .7 1 1.1 .8 1.2 .6 1.2 .3 1.2 .3 1.6 0 1.4 -.1 1.2 -.5 1.8 -.5 1.2 -.7 1.1 -.6 .7 -1.2 1 -1.2 .7zM152.4 174.7l-1.8 .2 -1.4-.3 -1.2-.6 -1-.8 -.8-1 -.7-1.2 -.4-1.2 -.4-1.8 0-1.8 .3-1.8 .4-1.2 .6-1.2 .9-1.2 .7-.6 1.2-.8 1.2-.4 1.8-.1 1.2 .4 1.2 .7 .9 .8 .9 1.2 .6 1.1 .4 1.3 .3 1.2 .1 1.8 -.2 1.4 -.5 1.6 -.5 1.2 -.8 1.1 -.6 .7 -1.2 .8 -1.2 .5zM153 174l-1.8 .5 -1.8-.3 -1.2-.6 -.9-.8 -.9-1.1 -.6-1.2 -.5-1.3 -.2-1.2 0-1.8 .2-1.2 .5-1.5 .6-1.1 .7-1 1.1-.9 1.2-.7 1.2-.3 1.3 .1 1.5 .6 .9 .6 1.1 1.2 .6 1 .5 1.4 .3 1.2 .1 1.8 -.2 1.8 -.4 1.2 -.6 1.2 -.9 1.1 -.8 .7 -1 .6zM153 173.4l-1.8 .5 -1.8-.3 -1.2-.7 -.8-.7 -.8-1.2 -.6-1.2 -.3-1.2 -.1-1.8 .2-1.6 .5-1.4 .6-1.2 .7-.8 1.2-.9 1.2-.5 1.8-.1 1.3 .5 1.1 .8 .9 1 .6 1.2 .5 1.2 .2 1.8 -.1 1.8 -.3 1.2 -.6 1.3 -.8 1.1 -1 .9zM151.2 173.4l-1.2-.1 -1.2-.5 -1.2-1.1 -.6-.9 -.6-1.4 -.3-1.4 0-1.8 .3-1.3 .6-1.4 .6-.9 1.2-1 1.2-.6 1.8 0 1.2 .4 1.2 1 .6 .8 .6 1.2 .5 1.8 0 1.8 -.4 1.8 -.6 1.2 -.7 .9 -1.1 .9 -1.3 .5zM151.2 172.9l-1.2-.2 -1.2-.5 -1.1-1.2 -.7-1.2 -.3-1.2 -.2-1.8 .4-1.8 .6-1.2 .7-1 1.1-.8 1.3-.4 1.8 .3 1.2 .7 .6 .7 .7 1.1 .5 1.8 .1 1.2 -.2 1.2 -.5 1.6 -.6 1 -1.1 1 -1.3 .6zM151.8 172.2l-1.6 0 -1.2-.6 -.8-.8 -.6-1 -.5-1.8 0-1.8 .5-1.4 .6-1 1.2-1.1 1.2-.4 1.8 .3 .9 .6 .9 1.2 .5 1.2 .2 1.2 -.1 1.8 -.4 1.2 -.7 1.2 -.7 .6 -1.2 .6zM151.2 171.7l-1.2-.2 -1.2-.9 -.6-.8 -.6-1.8 0-.6 .3-1.8 .7-1.2 .8-.8 1.2-.5 1.2 .1 1.2 .7 .8 1.1 .5 1.2 .1 1.8 -.3 1.2 -.7 1.2 -1 .9 -1.2 .4zM152.4 170.5l-1.8 .4 -1.2-.6 -.8-1.1 -.4-1.8 .4-1.8 .8-1 1.2-.6 1.8 .4 .6 .6 .6 1.2 .1 1.8 -.3 1.2 -.9 1.2zM151.8 169.9l-1.8-.1 -.6-.6 -.5-1.8 .5-1.6 1-.8 1.2 0 .8 .6 .6 1.2 0 1.4 -.6 1.2zM151.2 168.5l-.9-1.1 .9-.7 .4 1.3z" fill="none" stroke="#000" stroke-width="0.5"/>
<polygon points="61.0,82.0 102.8,82.0 102.8,133.7 61.0,133.7" fill="none" stroke="#231f20" stroke-width="0.9"/>
<polygon points="102.8,81.4 158.3,85.2 138.1,133.4 102.8,133.7" fill="none" stroke="#231f20" stroke-width="0.9"/>
<polygon points="158.3,85.2 173.8,85.2 175.0,133.4 138.1,133.4" fill="none" stroke="#231f20" stroke-width="0.9"/>
<polygon points="138.1,133.4 175.0,133.4 173.8,193.2 123.6,190.6 123.6,151.4" fill="none" stroke="#231f20" stroke-width="0.9"/>
<text x="52.5" y="62.8">Pre-BI</text>
<text x="54.5" y="74.9">13.0</text>
<text x="107.0" y="62.8">Pre-BII</text>
<text x="113.0" y="74.9">16.1</text>
<text x="154.8" y="67.0" textLength="45.9" lengthAdjust="spacingAndGlyphs">Immature</text>
<text x="164.4" y="78.8">4.95</text>
<text x="82.9" y="192.2" textLength="32.9" lengthAdjust="spacingAndGlyphs">Mature</text>
<text x="86.7" y="203.4">65.6</text>
<text x="28.7" y="123.0" text-anchor="middle" transform="rotate(-90 28.7 123.0)">CD10</text>
<text x="123.0" y="225.5" text-anchor="middle">CD20</text>
<rect x="230.5" y="39" width="170.0" height="168.5" fill="none" stroke="#9a9a9a" stroke-width="0.9"/>
<line x1="230.5" y1="39.0" x2="230.5" y2="207.5" stroke="#444" stroke-width="0.9"/>
<line x1="230.5" y1="207.5" x2="400.5" y2="207.5" stroke="#444" stroke-width="0.9"/>
<line x1="226.2" y1="53.8" x2="230.5" y2="53.8" stroke="#231f20" stroke-width="0.7"/>
<line x1="226.2" y1="90.1" x2="230.5" y2="90.1" stroke="#231f20" stroke-width="0.7"/>
<line x1="226.2" y1="128.4" x2="230.5" y2="128.4" stroke="#231f20" stroke-width="0.7"/>
<line x1="226.2" y1="207.5" x2="230.5" y2="207.5" stroke="#231f20" stroke-width="0.7"/>
<line x1="228.1" y1="79.2" x2="230.5" y2="79.2" stroke="#231f20" stroke-width="0.5"/>
<line x1="228.1" y1="72.8" x2="230.5" y2="72.8" stroke="#231f20" stroke-width="0.5"/>
<line x1="228.1" y1="68.2" x2="230.5" y2="68.2" stroke="#231f20" stroke-width="0.5"/>
<line x1="228.1" y1="64.7" x2="230.5" y2="64.7" stroke="#231f20" stroke-width="0.5"/>
<line x1="228.1" y1="61.9" x2="230.5" y2="61.9" stroke="#231f20" stroke-width="0.5"/>
<line x1="228.1" y1="59.4" x2="230.5" y2="59.4" stroke="#231f20" stroke-width="0.5"/>
<line x1="228.1" y1="57.3" x2="230.5" y2="57.3" stroke="#231f20" stroke-width="0.5"/>
<line x1="228.1" y1="55.5" x2="230.5" y2="55.5" stroke="#231f20" stroke-width="0.5"/>
<line x1="228.1" y1="116.9" x2="230.5" y2="116.9" stroke="#231f20" stroke-width="0.5"/>
<line x1="228.1" y1="110.1" x2="230.5" y2="110.1" stroke="#231f20" stroke-width="0.5"/>
<line x1="228.1" y1="105.3" x2="230.5" y2="105.3" stroke="#231f20" stroke-width="0.5"/>
<line x1="228.1" y1="101.6" x2="230.5" y2="101.6" stroke="#231f20" stroke-width="0.5"/>
<line x1="228.1" y1="98.6" x2="230.5" y2="98.6" stroke="#231f20" stroke-width="0.5"/>
<line x1="228.1" y1="96.0" x2="230.5" y2="96.0" stroke="#231f20" stroke-width="0.5"/>
<line x1="228.1" y1="93.8" x2="230.5" y2="93.8" stroke="#231f20" stroke-width="0.5"/>
<line x1="228.1" y1="91.9" x2="230.5" y2="91.9" stroke="#231f20" stroke-width="0.5"/>
<line x1="228.1" y1="42.9" x2="230.5" y2="42.9" stroke="#231f20" stroke-width="0.5"/>
<line x1="228.1" y1="138.3" x2="230.5" y2="138.3" stroke="#231f20" stroke-width="0.5"/>
<line x1="228.1" y1="177.9" x2="230.5" y2="177.9" stroke="#231f20" stroke-width="0.5"/>
<line x1="228.1" y1="146.2" x2="230.5" y2="146.2" stroke="#231f20" stroke-width="0.5"/>
<line x1="228.1" y1="185.8" x2="230.5" y2="185.8" stroke="#231f20" stroke-width="0.5"/>
<line x1="228.1" y1="152.2" x2="230.5" y2="152.2" stroke="#231f20" stroke-width="0.5"/>
<line x1="228.1" y1="191.8" x2="230.5" y2="191.8" stroke="#231f20" stroke-width="0.5"/>
<line x1="228.1" y1="156.9" x2="230.5" y2="156.9" stroke="#231f20" stroke-width="0.5"/>
<line x1="228.1" y1="196.5" x2="230.5" y2="196.5" stroke="#231f20" stroke-width="0.5"/>
<line x1="228.1" y1="160.9" x2="230.5" y2="160.9" stroke="#231f20" stroke-width="0.5"/>
<line x1="228.1" y1="200.5" x2="230.5" y2="200.5" stroke="#231f20" stroke-width="0.5"/>
<line x1="226.2" y1="165.0" x2="230.5" y2="165.0" stroke="#111" stroke-width="0.8"/>
<line x1="226.2" y1="166.2" x2="230.5" y2="166.2" stroke="#111" stroke-width="0.8"/>
<line x1="226.2" y1="167.4" x2="230.5" y2="167.4" stroke="#111" stroke-width="0.8"/>
<line x1="226.2" y1="168.6" x2="230.5" y2="168.6" stroke="#111" stroke-width="0.8"/>
<line x1="226.2" y1="169.8" x2="230.5" y2="169.8" stroke="#111" stroke-width="0.8"/>
<line x1="226.2" y1="171.0" x2="230.5" y2="171.0" stroke="#111" stroke-width="0.8"/>
<line x1="227.5" y1="161.8" x2="230.5" y2="161.8" stroke="#222" stroke-width="0.6"/>
<line x1="227.5" y1="163.4" x2="230.5" y2="163.4" stroke="#222" stroke-width="0.6"/>
<line x1="227.5" y1="172.6" x2="230.5" y2="172.6" stroke="#222" stroke-width="0.6"/>
<line x1="227.5" y1="174.2" x2="230.5" y2="174.2" stroke="#222" stroke-width="0.6"/>
<line x1="311.0" y1="207.5" x2="311.0" y2="211.8" stroke="#231f20" stroke-width="0.7"/>
<line x1="350.0" y1="207.5" x2="350.0" y2="211.8" stroke="#231f20" stroke-width="0.7"/>
<line x1="386.0" y1="207.5" x2="386.0" y2="211.8" stroke="#231f20" stroke-width="0.7"/>
<line x1="230.5" y1="207.5" x2="230.5" y2="211.8" stroke="#231f20" stroke-width="0.7"/>
<line x1="322.7" y1="207.5" x2="322.7" y2="209.9" stroke="#231f20" stroke-width="0.5"/>
<line x1="329.6" y1="207.5" x2="329.6" y2="209.9" stroke="#231f20" stroke-width="0.5"/>
<line x1="334.5" y1="207.5" x2="334.5" y2="209.9" stroke="#231f20" stroke-width="0.5"/>
<line x1="338.3" y1="207.5" x2="338.3" y2="209.9" stroke="#231f20" stroke-width="0.5"/>
<line x1="341.3" y1="207.5" x2="341.3" y2="209.9" stroke="#231f20" stroke-width="0.5"/>
<line x1="344.0" y1="207.5" x2="344.0" y2="209.9" stroke="#231f20" stroke-width="0.5"/>
<line x1="346.2" y1="207.5" x2="346.2" y2="209.9" stroke="#231f20" stroke-width="0.5"/>
<line x1="348.2" y1="207.5" x2="348.2" y2="209.9" stroke="#231f20" stroke-width="0.5"/>
<line x1="360.8" y1="207.5" x2="360.8" y2="209.9" stroke="#231f20" stroke-width="0.5"/>
<line x1="367.2" y1="207.5" x2="367.2" y2="209.9" stroke="#231f20" stroke-width="0.5"/>
<line x1="371.7" y1="207.5" x2="371.7" y2="209.9" stroke="#231f20" stroke-width="0.5"/>
<line x1="375.2" y1="207.5" x2="375.2" y2="209.9" stroke="#231f20" stroke-width="0.5"/>
<line x1="378.0" y1="207.5" x2="378.0" y2="209.9" stroke="#231f20" stroke-width="0.5"/>
<line x1="380.4" y1="207.5" x2="380.4" y2="209.9" stroke="#231f20" stroke-width="0.5"/>
<line x1="382.5" y1="207.5" x2="382.5" y2="209.9" stroke="#231f20" stroke-width="0.5"/>
<line x1="384.4" y1="207.5" x2="384.4" y2="209.9" stroke="#231f20" stroke-width="0.5"/>
<line x1="396.8" y1="207.5" x2="396.8" y2="209.9" stroke="#231f20" stroke-width="0.5"/>
<line x1="301.0" y1="207.5" x2="301.0" y2="209.9" stroke="#231f20" stroke-width="0.5"/>
<line x1="261.0" y1="207.5" x2="261.0" y2="209.9" stroke="#231f20" stroke-width="0.5"/>
<line x1="293.0" y1="207.5" x2="293.0" y2="209.9" stroke="#231f20" stroke-width="0.5"/>
<line x1="253.0" y1="207.5" x2="253.0" y2="209.9" stroke="#231f20" stroke-width="0.5"/>
<line x1="287.0" y1="207.5" x2="287.0" y2="209.9" stroke="#231f20" stroke-width="0.5"/>
<line x1="247.0" y1="207.5" x2="247.0" y2="209.9" stroke="#231f20" stroke-width="0.5"/>
<line x1="282.2" y1="207.5" x2="282.2" y2="209.9" stroke="#231f20" stroke-width="0.5"/>
<line x1="242.2" y1="207.5" x2="242.2" y2="209.9" stroke="#231f20" stroke-width="0.5"/>
<line x1="278.2" y1="207.5" x2="278.2" y2="209.9" stroke="#231f20" stroke-width="0.5"/>
<line x1="238.2" y1="207.5" x2="238.2" y2="209.9" stroke="#231f20" stroke-width="0.5"/>
<line x1="268.0" y1="207.5" x2="268.0" y2="211.8" stroke="#111" stroke-width="0.8"/>
<line x1="269.2" y1="207.5" x2="269.2" y2="211.8" stroke="#111" stroke-width="0.8"/>
<line x1="270.4" y1="207.5" x2="270.4" y2="211.8" stroke="#111" stroke-width="0.8"/>
<line x1="271.6" y1="207.5" x2="271.6" y2="211.8" stroke="#111" stroke-width="0.8"/>
<line x1="272.8" y1="207.5" x2="272.8" y2="211.8" stroke="#111" stroke-width="0.8"/>
<line x1="274.0" y1="207.5" x2="274.0" y2="211.8" stroke="#111" stroke-width="0.8"/>
<line x1="264.8" y1="207.5" x2="264.8" y2="210.5" stroke="#222" stroke-width="0.6"/>
<line x1="266.4" y1="207.5" x2="266.4" y2="210.5" stroke="#222" stroke-width="0.6"/>
<line x1="275.6" y1="207.5" x2="275.6" y2="210.5" stroke="#222" stroke-width="0.6"/>
<line x1="277.2" y1="207.5" x2="277.2" y2="210.5" stroke="#222" stroke-width="0.6"/>
<path d="M350.3 114.7h.8m-48.2 56.1h.8m14.1-31.9h.8m15.4-42.5h.8m-31.8 8.8h.8m50.6 5.7h.8m-29 74.4h.8m25.1-18.4h.8m-5.3-61.2h.8m12.2 41h.8m-4.9 24.6h.8m-1-27.1h.8m-6.7-23.3h.8m9.8 37.4h.8m-43.3 21.1h.8m31.9-6.2h.8m-18.1-70.9h.8m-7.8 2.3h.8m26.2 57.3h.8m-2.3-18h.8m-55.6-38.7h.8m68.1 18.6h.8m-108.9-10.7h.8m69.1-32.3h.8m11.9 11.1h.8m-39.2 8.5h.8m-42.6 27h.8m99.6 31.4h.8m-20.3-67.4h.8m12.6 69h.8m-48.5-6.5h.8m-8.2-8.8h.8m13.9-7.2h.8m-11.8 2.1h.8m-15.6-47.1h.8m30.5 12.2h.8m28.2 70h.8m-5.7-80.1h.8m-28.6 78.1h.8m-9.5-72.3h.8m44.2 62.4h.8m3.4 1.1h.8m-26.7-68h.8m-19.8 77.9h.8m31.4 .6h.8m-13.7-74.1h.8m22.5 9h.8m-66.1-8.3h.8m28.9 76.7h.8m34-75.9h.8m-55.8 40.1h.8m41.3 36.8h.8m24.7-13.5h.8m-16-29.2h.8m-32.1-32.1h.8m-31.4-9.9h.8m15.8 67.5h.8m42.7-48h.8m17 33.8h.8m-36-51.4h.8m-9.7 92.2h.8m14-92.1h.8m14.1 100.9h.8m-51.3-59.5h.8m55.8 8.4h.8m-10.8-44.3h.8m-2.7-3.9h.8m-62.5 4.8h.8m-20.9 30.8h.8m45.2 32.9h.8m6.8 12.9h.8m-5-4.9h.8m42-34.7h.8m-28.3-39.4h.8m-46.9 5.9h.8m70.7 36h.8m-22.8-47.4h.8m-39.1 8.2h.8m16.7 70.6h.8m-57.4-48.2h.8m62.7-25.5h.8m33.3 47.5h.8m3.4-14.7h.8m-3.2 31h.8m-57-24.4h.8m22.3 50.3h.8m33-23.7h.8m-1.8-43.8h.8m-10 51.6h.8m-108.4-50.8h.8m121.8 24.8h.8m-50.1-42.9h.8m3.3 36.8h.8m-28.5-33.9h.8m48.4-16.8h.8m-13 90.5h.8m15.3-88.6h.8m-81 39.9h.8m86.3 44.4h.8m-83.3-37.8h.8m31.1-38.9h.8m60.8 51.2h.8m-76.2-8.4h.8m74.1 23.6h.8m-50.5-65.2h.8m-6.2 59.9h.8m-34.9-15h.8m-19.1-13.2h.8m31.3 12.9h.8m44.9-48.7h.8m-13 5h.8m-8.9 2.2h.8m-46.3 13.5h.8m90 12.4h.8m-12.4 48.5h.8m-4.6-.8h.8m-40.2-29.4h.8m-17.8-7.3h.8m14.5-3.3h.8m-45.8-10.2h.8m24.5-21.9h.8m25.3 31.4h.8m-25.5-31.2h.8m-11.1-2.2h.8m87.5 40.1h.8m-1.5-21.3h.8m-7.4-31.9h.8m1.2 78.2h.8m-20.2-73.2h.8m20.5 61.8h.8m-.9-33.6h.8m-41.8-20.6h.8m4.7 35.4h.8m22.4-44.7h.8m9.8 46.6h.8m6.2 12.8h.8m-89.6-51.1h.8m3.2 1h.8m85.1 27.9h.8m-88.3-23.7h.8m53.7-6.4h.8m-40.7-2.1h.8m9.7 2.2h.8m54.2 25.6h.8m-84.7-18.2h.8m82.3 65.5h.8m-36.3-72.8h.8m-32.9 40.5h.8m25.6 15.6h.8m44.6 14.4h.8m-65.7-34.6h.8m30.7 38.5h.8m26.9-55.5h.8m-89.1 25.2h.8m47.6 16.9h.8m-12.2-56.5h.8m37.3 73h.8m-72.7-69.3h.8m76.1 74.2h.8m-49.7-47.3h.8m16.8-34.6h.8m-32.7 2.9h.8m61.5 70.9h.8m9.8-27.6h.8m-25.1 29.6h.8m-44.8-72.2h.8m28.2 42.1h.8m38.8-8.4h.8m-29.9-33.9h.8m13.7 74.2h.8m-75.3-56.4h.8m29.2-23.6h.8m70.7 29.9h.8m-3.4 30.3h.8m-62.6-55.4h.8m-6.3 1.2h.8m49.3 69.1h.8m-58.5-27h.8m68.9-12.2h.8m-31.3-31.1h.8m-2.4 78.2h.8m-24.5-89.5h.8m4.5 12.2h.8m-22.5 31.5h.8m13.3 1.7h.8m23.6-36.9h.8m-45.8 38h.8m30.3-2.9h.8m-37.4 32.2h.8m82.8-28.7h.8m-82.5-32.7h.8m1.5 55.1h.8m39.5-24.3h.8m-41.8-32.4h.8m-14.8 8.8h.8m51.1 71.5h.8m7.1 0h.8m-4.2-48.3h.8m7.7 50h.8m26.9-67.5h.8m-2.3 40h.8m-92.8-40.5h.8m90.4 9.6h.8m1.3 12.9h.8m-21-47h.8m-101.2 32.7h.8m43.9-19.4h.8m63.2 70.4h.8m-67.4-71.5h.8m-7.2 26.6h.8m63.8-38.2h.8m33.2 39.8h.8m-18.4-33.4h.8m-96.2 26.2h.8m58-24h.8m33.5-2.8h.8m-46.7 55h.8m21.4-65.4h.8m-59.2 41.4h.8m-5-1.6h.8m58-26.9h.8m-58 26.8h.8m86.7-4.4h.8m-44.2 30.8h.8m48.2-14.6h.8m-1.1 25h.8m-2.5-11.5h.8m-17 22.5h.8m-12.6-1.5h.8m26.2-74.8h.8m-24.7 78.9h.8m19.3-71.8h.8m-1.1 1.5h.8m-88 11h.8m39.8-18.8h.8m9.1 38.4h.8m39.6 21.7h.8m-18.3 21.2h.8m13.7-46.4h.8m-21.8-34.3h.8m-15.9 65.2h.8m.7-78.3h.8m-.2 48.4h.8m34.7 2.3h.8m-2.1-32.3h.8m-38.9 26.9h.8m41.6 29.1h.8m-6.4-64h.8m3.6 33.3h.8m-47.7 6.2h.8m-6-2.6h.8m15.5 1h.8m-8.3 26.9h.8m42.7-10h.8m-48.5-51.2h.8m45.7 58.3h.8m-8-64.9h.8m12.8 58h.8m-31.8 27.9h.8m11.2-7.1h.8m-28.2-39.5h.8m5.5 40.2h.8m-3-86.5h.8m-7.3 68.4h.8m38.3 32.4h.8m5.3-33.9h.8m-60-59.7h.8m-21.5 42.1h.8m19.5 8.4h.8m51.6-48.6h.8m-75.9 68.5h.8m59.5 16.8h.8m-1.3-2.4h.8m25.4-38.9h.8m-91.7-38.7h.8m46.7 33.3h.8m43.2 14.2h.8m-18.6-65.7h.8m5.3 10.9h.8m-3.2 81.3h.8m-37-10.8h.8m37.8-70.2h.8m-24.4-5h.8m-52.1 13.4h.8m35.9 33.5h.8m40.9 4.8h.8m2.7-32.7h.8m-79.3 24.4h.8m75.5 42.3h.8m-75.9-19.8h.8m14.9-53h.8m49-24.1h.8m-65 18h.8m71.2 25.2h.8m4.8 38.4h.8m-55.7-24.3h.8m49.6-6.1h.8m-9.1 42.3h.8m2.9-71.2h.8m-44.2 37.1h.8m32.6-43.5h.8m-11.4 93.4h.8m9-109.8h.8m18.8 74.1h.8m-103.8-31h.8m17.6-15.5h.8m70.2-38.6h.8m11.9 104h.8m-65.6-2.5h.8m44.9 6.8h.8m15-5.5h.8m-27.5 13.9h.8m-61.8-84.4h.8m52.8 33.8h.8m-.7 1.4h.8m-42-1.3h.8m71-28.1h.8m-69.5-1.6h.8m53.5 71h.8m20.3-7.2h.8m-10.6-73.5h.8m-30.3 38.5h.8m41.8 26.5h.8m-28.7 18.9h.8m17-82.9h.8m-71.6 39.4h.8m77.1 12.1h.8m-50.6 6.5h.8m-63.9-50.7h.8m111.4 26.2h.8m1.1-21.9h.8m-99.2 12.7h.8m96.6 1.2h.8m-4.4 18.7h.8m5 24h.8m-11.5 22.5h.8m1-19.1h.8m-39-16.5h.8m35.6 23h.8m2.9-68.8h.8m-20.6 73.8h.8m.9 0h.8m-67.9-45.3h.8m6-49.8h.8m-13.1 38.1h.8m92.3 17.3h.8m-36.8 38.8h.8m23.1-4.5h.8m-39.2-16.3h.8m-21-54.4h.8m43.1-6.9h.8m13.3-2.6h.8m-8.3 6.3h.8m-27.4 53.3h.8m36.1 19.2h.8m-81-63.8h.8m35.3 34.9h.8m2.5 15.3h.8m-41.7-46.7h.8m80.3 62.1h.8m-34.1-73.6h.8m-28.8 4h.8m62.6-13.7h.8m-4.8 90.6h.8m-3-111.6h.8m9.7 97.6h.8m-44.1-65.2h.8m19.9 78.8h.8m-34-77.6h.8m41.2 72.9h.8m-6.8-83.4h.8m-54.4 10.1h.8m6.7 40.3h.8m-.4-44.6h.8m37.5 74.4h.8m29.6-34.2h.8m-68.2-37.5h.8m27.3 79.3h.8m-62.6-56.8h.8m70.5 53.9h.8m-35-75.5h.8m-26.4 19.2h.8m89.7 40.7h.8m-8-83.3h.8m-23.3 98.5h.8m-8-41.7h.8m34.1-8.6h.8m-74.2 10.7h.8m1.7-36.9h.8m31.2 61.7h.8m4.4 11.3h.8m-29.3-76.2h.8m19.6 65.9h.8m-43.1-72.3h.8m61.4 85.2h.8m10.8-83.1h.8m-5 81.9h.8m-2.3-86h.8m-29.4 46.3h.8m10.5 37.7h.8m-1.5-1.2h.8m-29.4-69.4h.8m36.4-7.4h.8m-56.9 44.2h.8m41.7 3.5h.8m20.1 34.6h.8m-58.4-72.1h.8m34.9-14.9h.8m-44.7 56.8h.8" stroke="#333" stroke-width="0.8" fill="none"/>
<path d="M336.4 176.8l-1.8 .2 -1.8 0 -1.8-.1 -1.2-.2 -1.8-.3 -1.2-.3 -1.6-.5 -1.4-.5 -1.2-.5 -1.2-.6 -1.2-.7 -1-.7 -.8-.6 -1.2-1 -.8-.8 -1-1.2 -.6-.8 -.7-1 -.6-1.2 -.6-1.2 -.5-1.4 -.5-1.6 -.3-1.2 -.2-1.8 -.1-1.8 0-1.8 .2-1.8 .3-1.8 .3-1.2 .4-1.2 .5-1.2 .6-1.2 .7-1.2 .8-1.2 .9-1.1 .6-.7 1.1-1.2 .7-.8 .8-1 .5-1.2 -.1-1.2 -1.2-1.2 -1.2-.3 -1.8-.1 -1.8 .1 -1.8 .2 -1.2 .1 -1.8 .2 -1.8 .2 -1.8 .1 -1.8 .1 -1.6 0 -1.3 0 -1.3 0 -1.8-.1 -1.8-.1 -1.8-.2 -1.2-.2 -1.8-.2 -1.8-.3 -1.2-.1 -1.8-.1 -1.8 0 -1.2 .1 -1.8 .2 -1.8 .1 -1.8 0 -1.8-.1 -1.4-.2 -1.6-.4 -1.2-.4 -1.2-.6 -1.2-.7 -1.1-.9 -.7-.6 -1.1-1.2 -.7-1 -.6-1 -.6-1.4 -.5-1.4 -.2-1.2 -.1-1.8 .1-1.8 .3-1.2 .4-1.3 .6-1.3 .6-1 .8-1.2 1-1 .8-.8 1-.7 1.2-.8 1.2-.6 1.2-.4 1.7-.5 1.3-.3 1.8-.2 1.7-.1 1.3-.1 1.8 0 1.8-.2 1.8-.2 1.2-.2 1.8-.3 1.2-.3 1.8-.3 1.2-.2 1.8-.3 1.8-.2 1.2-.1 1.8-.2 1.8-.2 1.8-.1 1.8 0 1.8-.1 1.2 0 1.8-.1 1.8 0 1.8 0 1.8 0 1.8 0 1.8 .1 1.8-.1 1.8-.1 1.8-.2 1.2-.2 1.8-.5 1.2-.3 1.7-.4 1.3-.4 1.2-.5 1.2-.6 1-.9 .8-.7 1-1.1 .8-.8 1.2-1 1.2-.6 1.2-.1 1.2 .4 1 .9 .8 .9 .6 .9 .6 1.2 .6 1.3 .6 1.6 .4 1.3 .4 1.2 .4 1.5 .4 1.5 .3 1.2 .4 1.8 .2 1.2 .2 1.8 .2 1.8 .1 1.2 .1 1.8 0 1.8 0 1.8 -.1 1.8 0 1.2 -.1 1.8 0 1.8 -.1 1.8 0 1.8 .1 1.8 .1 1.8 .1 1.2 .2 1.8 .3 1.8 .2 1.2 .4 1.8 .3 1.2 .3 1.3 .4 1.7 .2 1.2 .3 1.8 .2 1.8 0 1.8 -.1 1.8 -.2 1.8 -.3 1.2 -.5 1.6 -.5 1.4 -.6 1.2 -.7 1.2 -.6 1 -.6 .8 -1 1.2 -.8 .8 -1 1 -.8 .6 -1.2 .9 -1.2 .7 -1.2 .6 -1.2 .5 -1.2 .4 -1.8 .4zM279.4 169.7l-1.8 .4 -1.2-.5 -1.1-1.2 -.4-1.2 .3-1.5 .6-.9 1.2-.7 1.8-.1 1.2 .7 .6 .7 .5 1.8 -.5 1.4 -1 1zM336.4 174.5l-1.8 .2 -1.8 .1 -1.8 0 -1.8-.3 -1.2-.2 -1.8-.5 -1.2-.4 -1.2-.5 -1.2-.6 -1.2-.7 -1.2-.8 -.7-.6 -1.1-1 -.8-.8 -.9-1.2 -.7-1 -.6-1 -.6-1.3 -.6-1.5 -.3-1.2 -.3-1.4 -.2-1.6 -.1-1.8 .1-1.8 .2-1.2 .4-1.8 .4-1.2 .5-1.2 .7-1.2 .8-1.2 .8-1 .7-.8 1.1-1 1-.8 .8-.6 1.2-1.2 .6-.7 .6-1.1 .5-1.8 -.2-1.8 -.4-1.2 -1-1.2 -1-.6 -1.5-.4 -1.8-.2 -1.8 .1 -1.8 .2 -1.8 .2 -1.2 .1 -1.8 .2 -1.8 .2 -1.8 .1 -1.8 .1 -1.2 0 -1.6 0 -1.4 0 -1.8-.1 -1.8-.2 -1.8-.2 -1.2-.2 -1.8-.3 -1.2-.2 -1.8-.3 -1.8-.1 -1.8 .1 -1.8 .2 -1.2 .2 -1.8 .3 -1.8 .1 -1.8 0 -1.8-.3 -1.2-.3 -1.2-.5 -1.2-.7 -1.2-.9 -.8-.8 -1-1.2 -.6-1.1 -.5-1.3 -.3-1.2 -.2-1.8 .2-1.8 .4-1.2 .5-1.2 .7-1.2 .9-1.2 .7-.7 1.2-.9 1.2-.7 1.2-.5 1.2-.4 1.8-.3 1.2-.1 1.8-.1 1.8 .1 1.2 0 1.8 0 1.2-.1 1.8-.2 1.4-.3 1.6-.4 1.2-.2 1.8-.4 1.2-.3 1.8-.3 1.3-.2 1.7-.2 1.8-.2 1.8-.2 1.2-.1 1.8-.1 1.8-.1 1.8-.1 1.8-.1 1.8 0 1.8 0 1.8 0 1.8 0 1.8 .1 1.8-.1 1.8-.1 1.2-.1 1.8-.3 1.2-.2 1.8-.4 1.2-.2 1.8-.5 1.2-.4 1.2-.8 .9-.7 .9-.9 1-.9 .9-.6 1.6-.6 .7 0 1.2 .6 1.2 1.2 .6 1 .6 1.1 .6 1.4 .5 1.3 .3 1.2 .4 1.3 .4 1.7 .3 1.2 .3 1.8 .2 1.8 .1 1.2 .1 1.8 .1 1.8 0 1.8 -.1 1.8 -.1 1.8 -.1 1.8 -.1 1.2 -.1 1.8 0 1.8 -.1 1.8 0 1.8 .1 1.8 .1 1.8 .1 1.2 .3 1.8 .3 1.3 .4 1.7 .3 1.2 .4 1.8 .3 1.2 .3 1.8 .1 1.4 .1 1.6 -.1 1.6 -.1 1.4 -.4 1.8 -.4 1.2 -.4 1.2 -.6 1.2 -.6 1.2 -.8 1.2 -.9 1.1 -.7 .7 -1.1 1.1 -.9 .7 -.9 .6 -1.2 .7 -1.2 .6 -1.2 .5 -1.8 .5zM336.4 173.2l-1.8 .4 -1.8 .1 -1.8 0 -1.8-.3 -1.2-.2 -1.8-.5 -1.2-.4 -1.2-.6 -1.2-.6 -1.2-.8 -1-.7 -.8-.7 -1-1.1 -.8-.9 -.6-.9 -.7-1.2 -.6-1.2 -.5-1.3 -.5-1.7 -.2-1.2 -.2-1.8 0-1.8 .2-1.8 .2-1.2 .5-1.6 .6-1.4 .6-1 .6-.9 .9-1.1 .9-.9 1.1-.9 .8-.6 1.1-.8 1.2-1 .6-.7 .8-1.1 .5-1.2 .3-1.8 0-1.8 -.4-1.5 -.6-1.2 -.8-.9 -1-.8 -1.2-.5 -1.8-.3 -1.8 0 -1.8 .1 -1.8 .2 -1.2 .1 -1.8 .2 -1.8 .2 -1.8 .1 -1.4 .1 -1.6 .1 -1.8 0 -1.8 0 -1.5-.1 -1.5-.1 -1.8-.2 -1.7-.3 -1.3-.2 -1.7-.4 -1.3-.3 -1.8-.3 -1.2-.1 -1.5 .1 -1.5 .2 -1.8 .4 -1.2 .3 -1.8 .3 -1.2 .1 -1.8 0 -1.2-.2 -1.7-.5 -1.2-.6 -.9-.6 -1-.9 -.8-.9 -.7-1.2 -.4-1.2 -.4-1.8 .1-1.8 .4-1.4 .6-1.3 .6-.9 1.1-1.2 .7-.6 1.2-.7 1.2-.6 1.8-.5 1.2-.1 1.8-.1 1.8 .1 1.2 .2 1.8 .1 1.8 0 1.7-.2 1.3-.3 1.3-.3 1.7-.5 1.2-.3 1.7-.4 1.3-.3 1.6-.3 1.4-.2 1.8-.3 1.2-.1 1.8-.2 1.8-.2 1.8-.1 1.2-.1 1.8-.1 1.8-.1 1.8 0 1.8 0 1.8 0 1.8 0 1.8 0 1.8 0 1.8-.1 1.8-.2 1.2-.2 1.8-.3 1.4-.2 1.6-.3 1.2-.3 1.3-.6 1.1-.7 1.2-1 .9-.7 .9-.7 1.2-.5 1.2 0 1.2 .7 1 1.1 .7 1.2 .6 1.2 .5 1.2 .4 1.2 .4 1.6 .3 1.4 .3 1.5 .2 1.5 .2 1.8 .1 1.8 .1 1.8 0 1.8 -.1 1.8 -.1 1.8 -.1 1.8 -.1 1.8 -.2 1.8 -.1 1.2 -.1 1.8 0 1.8 0 1.8 .1 1.8 .1 1.2 .3 1.8 .3 1.4 .4 1.6 .3 1.2 .4 1.8 .3 1.2 .3 1.8 .1 1.2 .1 1.8 -.1 1.6 -.2 1.4 -.4 1.8 -.3 1.2 -.5 1.2 -.6 1.2 -.8 1.2 -.8 1.1 -.6 .7 -1.2 1.2 -.8 .6 -1 .8 -1.2 .7 -1.2 .6 -1.2 .4 -1.6 .5zM335.2 172.7l-1.8 .2 -1.8 0 -1.8-.1 -1.2-.2 -1.8-.5 -1.2-.4 -1.2-.5 -1.2-.6 -1.2-.8 -1.1-.8 -.7-.6 -1.1-1.2 -.7-.8 -.7-1 -.7-1.2 -.5-1.2 -.5-1.4 -.4-1.6 -.2-1.2 -.1-1.8 .1-1.8 .1-1.2 .5-1.8 .4-1.2 .7-1.2 .7-1.1 .6-.8 1.1-1.1 .7-.6 1.2-.9 1.2-.8 .9-.7 .9-.9 .8-.9 .7-1.2 .4-1.2 .3-1.8 0-1.8 -.4-1.8 -.5-1.2 -.7-1.1 -.7-.7 -1.1-.8 -1.2-.5 -1.8-.3 -1.8 0 -1.8 .1 -1.8 .2 -1.5 .1 -1.5 .2 -1.8 .1 -1.8 .2 -1.8 .1 -1.2 0 -1.8 0 -1.8 0 -1.2 0 -1.8-.2 -1.8-.2 -1.2-.2 -1.8-.4 -1.2-.3 -1.8-.5 -1.2-.2 -1.8-.3 -1.8 0 -1.8 .3 -1.2 .4 -1.5 .4 -1.5 .4 -1.3 .2 -1.7 .1 -1.2-.1 -1.8-.5 -1.2-.6 -.9-.7 -.9-.9 -.6-.9 -.6-1.2 -.4-1.8 .1-1.8 .4-1.2 .6-1.2 .9-1.2 .8-.7 1.2-.7 1.2-.6 1.8-.4 1.2-.1 1.8 .1 1.2 .1 1.8 .3 1.5 .2 1.5 .1 1.2-.1 1.8-.3 1.2-.4 1.5-.5 1.5-.5 1.2-.3 1.4-.4 1.6-.4 1.2-.2 1.8-.3 1.8-.3 1.2-.2 1.8-.2 1.8-.1 1.2-.1 1.8-.2 1.8-.1 1.8 0 1.8-.1 1.8 .1 1.8 0 1.8 0 1.8 0 1.8 0 1.8-.2 1.2-.1 1.8-.3 1.8-.3 1.2-.1 1.8-.4 1.2-.5 1.2-.7 1-.7 .8-.7 1.2-.8 1.2-.5 1.5 .2 .9 .6 .9 1.2 .7 1.2 .5 1.2 .5 1.2 .4 1.4 .4 1.6 .2 1.2 .3 1.8 .2 1.8 .1 1.8 0 1.8 -.1 1.8 0 1.8 -.2 1.8 -.1 1.8 -.2 1.8 -.1 1.2 -.1 1.8 -.2 1.8 0 1.8 0 1.8 .1 1.8 .2 1.8 .3 1.2 .4 1.8 .3 1.2 .3 1.3 .4 1.7 .3 1.2 .2 1.8 .2 1.8 -.1 1.8 -.2 1.8 -.3 1.2 -.5 1.6 -.6 1.4 -.6 1.1 -.6 1 -.7 .9 -1.1 1.2 -.6 .6 -1.2 .9 -1.2 .8 -1.2 .6 -1.2 .5 -1.2 .5 -1.5 .3zM335.2 172l-1.8 .3 -1.8 0 -1.8-.1 -1.2-.2 -1.8-.5 -1.2-.4 -1.2-.5 -1.2-.7 -1.2-.8 -.9-.7 -.9-.9 -.8-.9 -.9-1.2 -.7-1.1 -.6-1.3 -.5-1.2 -.3-1.2 -.4-1.8 -.1-1.2 .1-1.8 .1-1.2 .4-1.8 .5-1.2 .6-1.2 .8-1.2 .6-.8 1.1-1 .7-.6 1.2-.9 1.2-.8 .9-.7 .9-.8 .9-1 .7-1.2 .5-1.2 .4-1.2 .2-1.8 -.1-1.8 -.3-1.2 -.5-1.4 -.6-1.1 -.9-1.1 -.9-.8 -1.2-.6 -1.2-.4 -1.8-.2 -1.8 0 -1.8 .1 -1.2 .1 -1.8 .2 -1.8 .2 -1.8 .1 -1.2 .1 -1.8 .1 -1.8 .1 -1.8 0 -1.8-.1 -1.5-.1 -1.5-.2 -1.8-.2 -1.2-.3 -1.8-.4 -1.2-.4 -1.2-.4 -1.6-.5 -1.4-.3 -1.8-.2 -1.8 .4 -1.2 .4 -1.2 .5 -1.2 .4 -1.8 .5 -1.2 .2 -1.8 0 -1.2-.2 -1.3-.5 -1.1-.7 -1.1-1.1 -.7-1.2 -.3-1.2 -.1-1.8 .4-1.5 .6-1.1 .9-1 .9-.7 1.2-.7 1.5-.4 1.5-.2 1.8 .2 1.2 .2 1.8 .4 1.2 .3 1.8 .3 1.8-.1 1.6-.5 1.4-.5 1.2-.5 1.2-.5 1.2-.4 1.6-.5 1.4-.4 1.2-.3 1.8-.3 1.2-.3 1.8-.2 1.8-.3 1.2-.1 1.8-.2 1.8-.1 1.8-.1 1.7-.1 1.3 0 1.8 0 1.8 0 1.2 0 1.8 .1 1.8 0 1.8-.1 1.2-.1 1.8-.2 1.8-.3 1.2-.1 1.8-.3 1.2-.2 1.5-.6 1-.6 1.1-.8 1.2-.8 1.2-.7 1.2-.2 1.2 .4 .9 .9 .8 1.2 .6 1.2 .4 1.2 .4 1.2 .4 1.8 .3 1.2 .2 1.8 .2 1.8 .1 1.2 0 1.8 -.1 1.8 0 1.2 -.1 1.8 -.2 1.8 -.2 1.8 -.1 1.2 -.2 1.8 -.2 1.8 -.1 1.8 0 1.8 0 1.8 .2 1.8 .3 1.5 .3 1.5 .3 1.2 .5 1.8 .3 1.2 .4 1.8 .2 1.2 .2 1.8 0 1.8 -.2 1.8 -.2 1.2 -.5 1.8 -.5 1.2 -.7 1.2 -.7 1.1 -.6 .8 -1 1.1 -.8 .8 -1.2 .9 -1.1 .7 -1.1 .6 -1.4 .6 -1.2 .4 -1.2 .2zM335.2 171.5l-1.8 .3 -1.8 .1 -1.8-.1 -1.8-.4 -1.2-.3 -1.2-.5 -1.2-.5 -1.2-.7 -1.2-.9 -.9-.7 -.9-1 -.7-.8 -.8-1.2 -.7-1.2 -.5-1.2 -.4-1.2 -.5-1.8 -.1-1.2 0-1.8 .1-1.4 .3-1.6 .4-1.2 .6-1.2 .8-1.2 .9-1.1 .7-.7 1.1-.8 1.2-.9 1.1-.7 .8-.6 1.1-1 .7-.8 .8-1.2 .6-1.2 .4-1.2 .3-1.8 0-1.8 -.2-1.8 -.4-1.2 -.6-1.2 -.8-1.2 -.8-.9 -1.2-.9 -1.2-.6 -1.2-.3 -1.8-.2 -1.8 .1 -1.8 .1 -1.8 .2 -1.2 .1 -1.8 .2 -1.8 .1 -1.8 .1 -1.8 .1 -1.8 0 -1.8 0 -1.8-.2 -1.8-.2 -1.2-.1 -1.8-.4 -1.2-.4 -1.3-.4 -1.6-.6 -1.3-.6 -1.2-.5 -1.2-.5 -1.2-.2 -1.2 .1 -1.2 .5 -1.2 .6 -1.2 .7 -1.2 .6 -1.4 .5 -1.6 .3 -1.8 .1 -1.4-.4 -1.2-.6 -1-.9 -.6-.9 -.6-1.8 0-.9 .4-1.5 .7-1.2 .7-.7 1.2-.8 1.2-.4 1.8-.3 1.8 .2 1.2 .3 1.6 .5 1.4 .6 1.2 .4 1.2 .3 1.3-.1 1.5-.6 1.2-.6 1.1-.6 1.1-.6 1.3-.6 1.5-.6 1.2-.4 1.2-.3 1.8-.5 1.2-.2 1.8-.4 1.2-.2 1.8-.2 1.7-.2 1.3-.1 1.8-.2 1.8-.1 1.8-.1 1.8 0 1.8 0 1.8 .1 1.8 0 1.8 .1 1.8-.1 1.8-.2 1.2-.1 1.8-.3 1.8-.2 1.2-.2 1.8-.4 1.2-.5 1.2-.7 .9-.6 .9-.7 1.2-.6 1.8 0 1 .7 .8 1 .6 1.1 .6 1.5 .4 1.2 .3 1.2 .3 1.8 .2 1.2 .2 1.8 .1 1.8 0 1.8 -.1 1.8 -.1 1.8 -.1 1.2 -.2 1.8 -.2 1.8 -.2 1.5 -.2 1.5 -.1 1.8 -.2 1.8 0 1.8 .1 1.8 .3 1.8 .2 1.2 .4 1.8 .3 1.2 .4 1.3 .4 1.7 .3 1.2 .3 1.8 .1 1.8 -.1 1.8 -.2 1.8 -.3 1.2 -.5 1.5 -.6 1.3 -.6 1 -.7 1 -1 1.2 -.7 .7 -1.2 1 -1.1 .7 -1.1 .6 -1.3 .6 -1.3 .4 -1.2 .3zM333.4 171.4l-1.8 .1 -1.7-.1 -1.3-.2 -1.5-.4 -1.5-.5 -1.2-.6 -1.1-.7 -.9-.6 -1-.9 -.9-.9 -.9-1.1 -.6-.9 -.6-1.1 -.6-1.4 -.5-1.5 -.2-1.2 -.2-1.8 0-1.8 .3-1.6 .4-1.4 .5-1.2 .8-1.2 .7-.9 .8-.9 1-.8 1.2-.8 1.1-.8 .9-.6 1-.8 1-1 .8-1.1 .6-1.1 .6-1.4 .3-1.2 .2-1.8 0-1.8 -.4-1.8 -.4-1.2 -.6-1.2 -.8-1.2 -.7-.7 -1.2-1 -1.2-.6 -1.2-.4 -1.8-.2 -1.8 0 -1.8 .1 -1.8 .2 -1.8 .1 -1.2 .1 -1.8 .2 -1.8 .1 -1.8 0 -1.8 .1 -1.8-.1 -1.8-.1 -1.7-.2 -1.3-.2 -1.7-.4 -1.3-.4 -1.2-.5 -1.2-.5 -1.2-.7 -1.2-.9 -.6-.6 -.5-1.8 .7-1.2 1-1 1.1-.8 1-.6 1.2-.6 1.4-.6 1.3-.4 1.2-.4 1.6-.4 1.4-.3 1.7-.3 1.3-.2 1.8-.3 1.2-.1 1.8-.2 1.8-.1 1.8-.1 1.8-.1 1.8 .1 1.8 0 1.8 .1 1.8 0 1.8 0 1.8-.1 1.4-.2 1.6-.2 1.8-.3 1.2-.1 1.8-.3 1.2-.4 1.2-.5 1.2-.8 1.2-.9 1.2-.6 1.2-.1 1.2 .6 .6 .6 .8 1.2 .6 1.2 .4 1.3 .5 1.7 .2 1.2 .3 1.8 .1 1.8 .1 1.8 -.1 1.8 -.1 1.8 -.1 1.8 -.2 1.8 -.1 1.2 -.3 1.8 -.2 1.8 -.2 1.2 -.2 1.8 -.1 1.8 .1 1.8 .1 1.8 .2 1.3 .4 1.7 .3 1.2 .5 1.8 .3 1.2 .3 1.2 .4 1.8 .2 1.7 .1 1.3 -.1 1.8 -.1 1.2 -.4 1.8 -.4 1.2 -.6 1.2 -.6 1.2 -.9 1.2 -.6 .7 -1.1 1.1 -.7 .6 -1.2 .8 -1.2 .7 -1.2 .5 -1.2 .4 -1.8 .5 -1.2 .1zM278.2 127l-1.8 .1 -1.2-.4 -1.2-.7 -.7-.8 -.6-1.2 -.1-1.8 .4-1.2 1-1.2 .8-.6 1.6-.6 1.2-.1 1.2 .1 1.8 .6 1.2 .6 1 .6 .8 .9 .5 1.5 -.6 1.2 -1.1 1.1 -1 .7 -1.1 .6 -1.5 .5zM334.6 170.9l-1.8 .3 -1.8 0 -1.8-.2 -1.2-.3 -1.7-.5 -1.3-.6 -1.1-.6 -.9-.6 -1-.8 -1.1-1 -.7-.9 -.7-.9 -.7-1.2 -.5-1.2 -.5-1.4 -.4-1.6 -.1-1.8 0-1.8 .4-1.8 .4-1.2 .5-1.2 .8-1.2 .8-.9 1-.9 .8-.6 1.2-.9 1.2-.8 1-.7 .8-.7 1-1.1 .8-1.1 .6-1 .6-1.5 .3-1.2 .3-1.8 -.1-1.8 -.3-1.8 -.4-1.2 -.5-1.2 -.8-1.2 -.9-1.1 -.8-.7 -1-.7 -1.2-.6 -1.8-.4 -1.2-.1 -1.7 0 -1.3 .1 -1.8 .2 -1.8 .1 -1.8 .2 -1.2 .1 -1.8 .1 -1.8 0 -1.8 0 -1.8 0 -1.8-.1 -1.2-.2 -1.8-.3 -1.2-.3 -1.7-.5 -1.3-.6 -1-.6 -.8-.6 -.9-1.2 0-1.8 .9-1.2 .7-.6 1.1-.8 1.2-.6 1.2-.5 1.5-.5 1.5-.4 1.2-.3 1.8-.4 1.2-.2 1.8-.3 1.7-.2 1.3-.1 1.8-.2 1.8-.1 1.8 0 1.8 0 1.8 0 1.8 .1 1.8 .1 1.8-.1 1.8-.1 1.8-.2 1.2-.2 1.8-.2 1.6-.2 1.4-.2 1.3-.4 1.2-.6 1.1-.7 1.2-.8 1.2-.6 1.8 .1 1 .8 .8 1.2 .6 1.2 .4 1.2 .3 1.2 .4 1.8 .1 1.2 .2 1.8 .1 1.8 -.1 1.8 -.1 1.8 -.1 1.5 -.2 1.5 -.2 1.8 -.2 1.4 -.2 1.6 -.3 1.8 -.1 1.2 -.2 1.8 0 1.8 .1 1.8 .1 1.2 .4 1.8 .3 1.2 .5 1.8 .4 1.2 .3 1.2 .4 1.8 .2 1.2 .2 1.8 0 1.8 -.2 1.8 -.2 1.2 -.5 1.4 -.6 1.4 -.6 1.1 -.6 .9 -1 1.2 -.8 .8 -1.2 1 -1 .6 -1.1 .6 -1.4 .6 -1.3 .4 -1.2 .3zM278.8 125.9l-1.8 .2 -1.4-.3 -1-.6 -.8-1.2 -.1-1.8 .5-1.2 1-.9 1.2-.5 1.8 0 1.2 .3 1.2 .6 1 1.1 .3 1.2 -.5 1.2 -.8 .9 -1.2 .7zM332.8 170.8l-1.8 .1 -1.2-.1 -1.8-.4 -1.2-.3 -1.2-.5 -1.2-.6 -1.2-.8 -1.2-1 -.6-.6 -1-1.2 -.8-1.1 -.6-1.1 -.6-1.4 -.3-1.2 -.3-1.3 -.2-1.7 .1-1.8 .2-1.2 .5-1.5 .6-1.3 .6-.9 .9-1.1 .9-.8 1.2-.9 1-.7 .9-.6 1.1-.8 1.2-1 .6-.7 .9-1.1 .7-1.2 .6-1.2 .4-1.2 .4-1.8 0-1.2 0-1.3 -.3-1.7 -.4-1.2 -.5-1.2 -.7-1.2 -.9-1.2 -.8-.8 -1.2-1 -1.2-.6 -1.2-.4 -1.2-.2 -1.8-.1 -1.8 .1 -1.2 .1 -1.8 .2 -1.8 .1 -1.8 .2 -1.2 0 -1.8 .1 -1.8 0 -1.8 0 -1.6-.1 -1.4-.1 -1.8-.3 -1.2-.3 -1.5-.5 -1.3-.6 -.9-.6 -1-1.2 -.2-1.2 .5-1.2 .8-.8 1.2-.9 1.2-.6 1.2-.5 1.2-.4 1.6-.4 1.4-.3 1.3-.3 1.7-.3 1.8-.2 1.2-.2 1.8-.2 1.8-.1 1.8 0 1.8 0 1.8 .1 1.8 .1 1.8 0 1.8 0 1.8-.1 1.8-.2 1.2-.2 1.8-.3 1.8-.2 1.2-.2 1.4-.4 1.2-.6 1-.6 1.2-.8 1.2-.6 1.8 .2 .8 .6 .8 1.2 .6 1.2 .4 1.2 .4 1.6 .2 1.4 .3 1.8 0 1.8 0 1.8 0 1.8 -.2 1.8 -.2 1.8 -.2 1.2 -.2 1.8 -.3 1.7 -.2 1.3 -.3 1.8 -.1 1.3 -.1 1.7 .1 1.8 .1 1.2 .3 1.8 .3 1.2 .5 1.7 .4 1.3 .3 1.2 .5 1.8 .2 1.2 .3 1.8 .1 1.8 -.2 1.8 -.3 1.8 -.4 1.2 -.5 1.2 -.6 1.2 -.9 1.2 -.7 .9 -.9 .9 -.9 .7 -1.2 .8 -1.2 .7 -1.2 .5 -1.2 .4 -1.8 .4 -1.2 .1zM278.2 124.7l-1.8 0 -1-.7 -.4-1.2 .5-1.2 .9-.6 1.8-.1 1.2 .7 .5 1.2 -.6 1.2 -1.1 .7zM334.6 170.3l-1.8 .2 -1.8 .1 -1.8-.2 -1.2-.3 -1.7-.5 -1.3-.6 -1-.6 -.9-.6 -1.1-1 -.8-.8 -.9-1.2 -.7-1.2 -.6-1.2 -.4-1.2 -.3-1.2 -.3-1.8 0-1.8 .3-1.8 .4-1.2 .6-1.2 .7-1.2 .8-.9 1-.9 .8-.6 1.2-.8 1.2-.8 1-.8 .8-.6 1.2-1.2 .6-.8 .7-1 .6-1.2 .5-1.2 .5-1.8 .2-1.2 0-1.8 -.2-1.2 -.4-1.8 -.5-1.2 -.7-1.2 -.7-1 -.6-.8 -1.2-1.1 -.9-.7 -1-.6 -1.7-.6 -1.2-.2 -1.8 0 -1.8 .1 -1.2 .1 -1.8 .2 -1.8 .2 -1.8 .1 -1.8 .1 -1.2 0 -1.3 0 -1.7-.1 -1.8-.1 -1.8-.2 -1.2-.3 -1.7-.5 -1.3-.6 -.8-.6 -.8-1.2 .4-1.6 .7-.8 1.1-.7 1.2-.6 1.2-.5 1.8-.6 1.2-.3 1.6-.3 1.4-.3 1.8-.2 1.2-.2 1.8-.1 1.8-.2 1.8 0 1.8 .1 1.8 .1 1.8 .1 1.8 0 1.8 0 1.8-.2 1.8-.3 1.2-.2 1.8-.2 1.7-.2 1.3-.3 1.2-.4 1.2-.7 1.2-.8 1.2-.7 1.2-.3 1.2 .3 1.1 1.1 .6 1.2 .5 1.2 .4 1.2 .3 1.8 .2 1.2 .1 1.8 .1 1.8 -.1 1.8 -.1 1.8 -.2 1.2 -.2 1.8 -.3 1.8 -.2 1.2 -.3 1.8 -.2 1.2 -.3 1.8 -.1 1.8 0 1.8 .2 1.8 .3 1.7 .3 1.3 .4 1.2 .5 1.7 .4 1.3 .3 1.2 .4 1.8 .2 1.2 .1 1.8 0 1.8 -.2 1.3 -.4 1.7 -.5 1.2 -.6 1.2 -.7 1.2 -.8 1 -.8 .8 -1 .9 -1.2 .9 -1.1 .6 -1.3 .6 -1.2 .4 -1.2 .3zM332.8 170.2l-1.8 .1 -1.2-.1 -1.8-.4 -1.2-.4 -1.2-.5 -1.2-.6 -1.2-.9 -.9-.8 -.9-.9 -.7-.9 -.7-1.2 -.6-1.2 -.4-1.2 -.5-1.8 -.1-1.6 0-.8 .2-1.8 .4-1.3 .6-1.4 .6-.9 1-1.2 .8-.7 1.2-.9 1.1-.8 .9-.6 1-.7 1.2-1 .7-.7 1-1.2 .7-1 .6-1 .6-1.3 .5-1.5 .3-1.2 .2-1.8 -.2-1.8 -.2-1.2 -.6-1.6 -.6-1.2 -.6-.9 -.8-1.1 -1-1.1 -.7-.7 -1.1-.9 -1.2-.7 -1.2-.4 -1.8-.3 -1.8 0 -1.8 .1 -1.8 .2 -1.5 .2 -1.5 .1 -1.8 .1 -1.8 .1 -1.8 0 -1.8-.1 -1.7-.2 -1.3-.2 -1.4-.4 -1.5-.6 -.8-.6 -.5-1.2 .6-1.2 .7-.6 1.1-.7 1.3-.5 1.7-.5 1.2-.3 1.6-.4 1.4-.2 1.8-.3 1.2-.1 1.8-.1 1.8-.1 1.8 .1 1.8 .1 1.2 .1 1.8 .1 1.8 0 1.8-.1 1.2-.2 1.8-.4 1.2-.2 1.8-.2 1.8-.3 1.2-.3 1.2-.5 1.2-.8 1.2-.7 1.2-.6 1.8 .3 .8 .8 .7 1.2 .5 1.2 .4 1.5 .3 1.5 .2 1.8 0 1.8 0 1.8 -.1 1.8 -.2 1.8 -.2 1.3 -.3 1.7 -.3 1.6 -.3 1.4 -.3 1.5 -.3 1.5 -.2 1.8 0 1.8 .2 1.8 .3 1.8 .3 1.2 .4 1.2 .5 1.7 .4 1.3 .4 1.2 .4 1.7 .2 1.3 .2 1.8 .1 1.8 -.3 1.8 -.2 1.2 -.6 1.6 -.6 1.2 -.6 1 -.8 1 -1 1.1 -.8 .7 -1 .7 -1.2 .7 -1.2 .6 -1.2 .4 -1.8 .5 -1.2 .1zM334.6 169.6l-1.8 .3 -1.8 .1 -1.8-.2 -1.2-.3 -1.6-.5 -1.2-.6 -1-.6 -1-.7 -1.1-1.1 -.7-.8 -.7-1 -.7-1.2 -.5-1.2 -.5-1.8 -.2-1.2 0-1.8 .2-1.7 .4-1.3 .5-1.2 .8-1.2 .7-.8 1.1-1 .8-.6 1.1-.7 1.2-.8 1.2-.9 .7-.6 1.1-1.1 .7-.7 .9-1.2 .8-1.2 .6-1.2 .5-1.2 .4-1.2 .3-1.7 0-1.3 -.1-1.2 -.4-1.8 -.5-1.2 -.6-1.2 -.8-1.2 -.6-.9 -.8-.9 -1-1.1 -.8-.7 -1-.7 -1.2-.8 -1.2-.4 -1.8-.3 -1.8 0 -1.8 .3 -1.2 .1 -1.8 .3 -1.8 .1 -1.8 .1 -1.8 0 -1.8-.1 -1.8-.2 -1.2-.2 -1.6-.6 -.8-.6 0-1.5 1-.9 1.3-.6 1.3-.4 1.2-.4 1.8-.4 1.2-.2 1.8-.2 1.8-.1 1.8 0 1.8 .2 1.8 .1 1.5 .2 1.5 .1 1.8-.1 1.2-.2 1.8-.4 1.2-.2 1.8-.4 1.2-.1 1.8-.3 1.2-.3 1.2-.6 1.2-.7 1.2-.8 1.2-.5 1.7 .3 .7 .7 .7 1.1 .5 1.3 .4 1.7 .2 1.2 .2 1.8 0 1.8 0 1.8 -.2 1.7 -.2 1.3 -.3 1.8 -.2 1.2 -.4 1.8 -.3 1.2 -.4 1.8 -.2 1.2 -.3 1.8 0 1.8 .2 1.8 .3 1.3 .5 1.7 .3 1.2 .4 1.2 .6 1.7 .4 1.3 .3 1.2 .4 1.8 .2 1.2 0 1.8 -.1 1.8 -.2 1.2 -.4 1.3 -.6 1.4 -.6 1.1 -.7 1 -1.1 1.2 -.6 .6 -1.2 .9 -1.2 .8 -1.2 .6 -1.2 .4 -1.2 .3zM332.8 169.7l-1.8 0 -1.5-.1 -1.5-.3 -1.2-.4 -1.2-.5 -1.2-.7 -1.2-1 -.8-.7 -1-1.2 -.6-.9 -.6-1.2 -.6-1.5 -.3-1.2 -.2-1.8 0-1.8 .4-1.8 .5-1.2 .7-1.2 .7-.9 1-.9 .8-.7 1.2-.8 1.2-.8 1-.7 .8-.7 1.2-1 .6-.7 1.1-1.2 .7-1 .6-.9 .7-1.1 .5-1.2 .6-1.7 .3-1.3 0-1.8 -.3-1.6 -.4-1.4 -.6-1.2 -.7-1.2 -.7-1.1 -.6-.8 -1-1.1 -.8-.9 -.9-.9 -.9-.8 -1.2-1 -1-.6 -1.2-.6 -1.4-.3 -1.5 .3 -1.5 .3 -1.2 .3 -1.8 .4 -1.8 .2 -1.2 .1 -1.8 0 -1.2-.1 -1.8-.3 -1.2-.4 -.8-1.1 .8-.8 1.2-.6 1.2-.4 1.8-.4 1.3-.2 1.7-.1 1.8 0 1.2 .2 1.8 .3 1.2 .3 1.8 .4 1.8-.1 1.2-.4 1.7-.6 1.3-.4 1.2-.4 1.8-.3 1.2-.2 1.8-.3 1.2-.5 1.2-.7 1.2-.8 1.1-.6 1.3-.3 1.2 .5 .8 1 .6 1.2 .4 1.4 .3 1.6 .2 1.8 0 1.8 0 1.8 -.2 1.8 -.3 1.8 -.2 1.2 -.4 1.8 -.3 1.2 -.3 1.2 -.5 1.8 -.3 1.2 -.2 1.8 0 1.8 .2 1.8 .3 1.2 .5 1.6 .5 1.4 .4 1.2 .4 1.2 .5 1.5 .4 1.5 .3 1.2 .3 1.8 .1 1.8 -.2 1.8 -.3 1.5 -.5 1.5 -.6 1.2 -.7 1.2 -.6 .8 -.9 1 -.9 .8 -1.2 .8 -1.2 .7 -1.2 .5 -1.2 .4 -1.8 .4zM334.6 169.2l-1.8 .3 -1.8 0 -1.8-.1 -1.5-.4 -1.5-.6 -1.2-.6 -.9-.6 -.9-.7 -1-1.1 -.8-1 -.6-1 -.6-1.2 -.5-1.6 -.3-1.2 -.1-1.8 .2-1.8 .3-1.2 .5-1.2 .8-1.2 .9-1.1 .8-.7 1-.7 1.2-.9 1.2-.8 .8-.6 1-.8 1.1-1 .7-.7 .9-1.1 .9-1.1 .6-.9 .6-1 .7-1.2 .5-1.2 .5-1.8 0-1.8 -.3-1.8 -.4-1.2 -.6-1.2 -.7-1.2 -.8-1.2 -.7-.9 -.7-.9 -1.1-1.2 -.6-.7 -1-1.1 -.8-1 -.6-1 0-1 1.2-1 1.2-.6 1.2-.4 1.8-.3 1.2-.3 1.7-.4 1.2-.6 1-.6 .9-.6 1.2-.7 1.8-.1 .9 .8 .7 1.2 .5 1.2 .3 1.4 .2 1.6 .1 1.8 0 1.8 -.2 1.8 -.1 1.2 -.4 1.8 -.2 1.2 -.5 1.8 -.4 1.2 -.4 1.2 -.5 1.8 -.3 1.2 -.1 1.8 .2 1.8 .2 1.2 .5 1.8 .4 1.2 .5 1.2 .4 1.2 .6 1.6 .5 1.4 .3 1.2 .4 1.8 .2 1.2 0 1.8 -.1 1.8 -.2 1.2 -.5 1.4 -.6 1.4 -.6 1 -.7 1 -1.1 1.1 -.8 .7 -1 .8 -1.2 .6 -1.2 .6 -1.2 .4zM315.4 121.1l-1.8 .3 -1.8-.2 0-.9 1.8-.3 1.8 .1 .6 .5zM334 169.1l-1.8 .2 -1.8 0 -1.8-.2 -1.2-.4 -1.2-.5 -1.2-.6 -1.2-.9 -.8-.7 -1-1.1 -.6-.9 -.6-1 -.6-1.4 -.4-1.6 -.2-1.2 0-1.8 .2-1.2 .4-1.4 .6-1.3 .6-.9 1.2-1.2 .7-.6 1.1-.8 1.2-.8 1.1-.8 .8-.6 1.1-.9 .9-.9 .9-.9 .8-.9 1-1.2 .6-.8 .8-1 .8-1.2 .6-1.2 .4-1.2 .2-1.8 -.4-1.8 -.3-1.2 -.5-1.2 -.6-1.2 -.8-1.2 -.8-1.2 -.6-.7 -.9-1.1 -.9-1.1 -.6-.8 -.8-1.1 -.4-1.2 .3-1.2 .9-.7 1.2-.6 1.8-.4 1.2-.3 1.2-.4 1.2-.6 1.2-.8 1.2-.8 1.2-.5 1.5 .3 .9 1.1 .6 1.3 .3 1.2 .3 1.8 0 1.2 .1 1.8 -.1 1.2 -.2 1.8 -.3 1.8 -.3 1.2 -.4 1.4 -.6 1.6 -.4 1.2 -.5 1.2 -.4 1.2 -.4 1.8 .1 1.8 .4 1.8 .3 1.2 .4 1.2 .5 1.2 .6 1.5 .6 1.5 .4 1.2 .4 1.2 .4 1.3 .4 1.7 .2 1.8 0 1.2 -.1 1.2 -.3 1.8 -.3 1.2 -.6 1.2 -.6 1.2 -.9 1.2 -.8 .8 -1.1 1 -.9 .6 -1 .6 -1.3 .6 -1.7 .6zM338.8 135.1l-1.3-.3 -.7-1.2 -.6-1.2 -.6-1.2 -.6-1.2 -.7-1.2 -.7-1.2 -.8-1.1 -.6-.8 -.9-1.1 -.7-1.2 -.4-1.2 .4-1.2 1-.7 1.2-.5 1.5-.6 1.1-.6 1-.7 1.2-.9 1.2-.7 1.2-.2 1.2 .7 .6 1.1 .5 1.3 .2 1.2 .2 1.8 0 1.8 -.2 1.8 -.1 1.2 -.4 1.8 -.3 1.2 -.5 1.4 -.6 1.3 -.6 1 -.9 1.1zM332.8 169l-1.8 .1 -1.2-.1 -1.8-.4 -1.2-.4 -1.2-.6 -1.2-.7 -1-.9 -.8-.8 -.8-1 -.7-1.2 -.5-1.2 -.4-1.3 -.3-1.7 0-1.8 .3-1.4 .6-1.6 .6-1.1 .6-.7 1.2-1.2 .7-.6 1.1-.8 1.2-.8 1.1-.8 .8-.6 1.1-.9 .9-.9 .9-.9 .9-.9 .9-.9 .8-.9 1-1 .9-.8 .9-.6 1.3 0 .8 1.2 .6 1.2 .5 1.2 .6 1.2 .5 1.2 .5 1.2 .6 1.4 .6 1.5 .5 1.3 .3 1.2 .4 1.5 .2 1.5 .1 1.8 -.1 1.8 -.3 1.2 -.5 1.5 -.6 1.3 -.6 .9 -.8 1.1 -1 1 -1 .8 -.9 .6 -1.1 .6 -1.5 .6 -1.5 .4 -1.2 .2zM339.4 132.6l-1.5-.2 -.9-1 -.6-1 -.6-1.1 -.6-1.1 -.7-1.2 -.7-1.2 -.7-1.2 -.6-1.2 .3-1.6 .8-.8 1-.7 1.2-1 .8-.7 1-.8 1.2-.8 1.8 .2 .7 .8 .5 1.2 .4 1.8 .2 1.8 -.1 1.8 -.2 1.8 -.3 1.5 -.5 1.5 -.5 1.2 -.7 1.2 -.7 .8zM334.6 168.4l-1.8 .4 -1.8 .1 -1.8-.2 -1.2-.3 -1.6-.6 -1.1-.6 -.9-.6 -1.2-1.1 -.6-.7 -.8-1.2 -.7-1.2 -.4-1.2 -.4-1.8 -.1-1.2 .1-1.2 .3-1.8 .6-1.2 .7-1.2 .7-.8 1.1-1 .8-.6 1.1-.8 1.2-.8 1.1-.8 .7-.6 1.2-1 .9-.8 .9-.8 1-1 .8-.7 1.2-.9 1.2-.7 .9-.1 1.2 .6 .9 1.1 .6 .9 .6 1.2 .6 1.2 .6 1.2 .6 1.4 .6 1.4 .4 1.2 .3 1.2 .4 1.8 .1 1.2 0 1.8 -.1 1.2 -.4 1.8 -.5 1.2 -.6 1.2 -.8 1.1 -.6 .7 -1.2 1.2 -.8 .6 -1 .6 -1.2 .6 -1.7 .6zM338.8 130.7l-1-.7 -.8-1 -.6-1.1 -.6-1.2 -.6-1.4 -.3-1.3 .2-1.8 .7-1.2 .6-.8 .9-1 .9-.8 1.2-.5 1.2 .5 .6 .9 .5 1.7 .2 1.2 0 1.8 -.1 1.2 -.4 1.8 -.3 1.2 -.6 1.2 -1.1 1.2zM333.4 168.4l-1.8 .2 -1.8-.1 -1.2-.2 -1.5-.5 -1.3-.6 -.9-.6 -1.1-.9 -.8-.9 -.9-1.2 -.6-1.2 -.5-1.2 -.3-1.2 -.2-1.8 .2-1.8 .4-1.2 .5-1.2 .8-1.2 .8-.8 1.2-1 .8-.6 1-.7 1.2-.9 1.1-.8 .8-.6 1.1-.9 1-.9 .8-.7 1.2-.9 1.2-.8 1.2-.4 1.8 .4 .7 .6 .9 1.2 .8 1.2 .6 1.2 .6 1.2 .5 1.2 .5 1.2 .4 1.2 .4 1.5 .3 1.5 0 1.8 -.1 1.8 -.3 1.2 -.5 1.5 -.6 1.2 -.6 .9 -1 1.2 -.8 .8 -1.2 .9 -1.2 .7 -1.2 .5 -1.2 .4 -1.2 .3zM340 127.6l-1.8 0 -.6-.9 -.6-1.4 -.2-1.3 .2-1.8 .6-1.2 .6-.8 1.2-.6 1.2 .8 .4 1.2 .1 1.8 -.2 1.8 -.3 1.3 -.6 1.1zM334 167.9l-1.8 .3 -1.8 .1 -1.8-.3 -1.2-.4 -1.2-.6 -1.2-.7 -1-.9 -.8-.9 -.7-.9 -.6-1.2 -.5-1.3 -.4-1.7 0-1.8 .4-1.8 .5-1.2 .7-1.2 .6-.7 1.2-1.1 .8-.6 1-.7 1.2-.9 1.1-.8 .8-.6 1.1-.8 1.2-1 .9-.6 .9-.6 1.2-.6 1.8-.3 1.2 .5 1.1 1 .7 .9 .6 .9 .7 1.2 .5 1.2 .6 1.3 .6 1.7 .3 1.2 .2 1.8 0 1.8 -.2 1.8 -.4 1.2 -.5 1.3 -.6 1.1 -1 1.2 -.8 .9 -1.1 .9 -1 .6 -1.1 .6 -1.6 .6zM332.8 167.8l-1.8 .1 -1.5-.1 -1.5-.4 -1.2-.4 -1.2-.7 -1.1-.9 -.7-.7 -.8-1.1 -.7-1.2 -.5-1.2 -.3-1.8 0-1.8 .4-1.8 .5-1.2 .8-1.1 .6-.7 1.2-1 1-.8 .9-.6 1.1-.8 1.2-.9 1-.7 .8-.6 1.2-.8 1.2-.7 1.2-.5 1.8-.1 1.2 .5 1.1 1 .7 .8 .6 1 .7 1.2 .6 1.2 .5 1.4 .4 1.6 .2 1.2 .1 1.8 -.1 1.6 -.3 1.4 -.4 1.2 -.6 1.2 -.9 1.2 -.8 .9 -1 .9 -.8 .6 -1.2 .7 -1.2 .5 -1.8 .5zM332.8 167.3l-1.8 .1 -1.7-.2 -1.3-.3 -1.2-.6 -1.2-.7 -.9-.8 -.9-1.1 -.6-.9 -.6-1.4 -.3-1.4 -.1-1.8 .3-1.8 .6-1.2 .7-1.1 .6-.7 1.2-1.1 .9-.7 .9-.6 1.2-.9 1.2-.8 1-.7 1-.6 1-.6 1.7-.6 1.3-.1 1.2 .4 1.2 .8 .7 .7 .8 1.2 .7 1.2 .6 1.2 .4 1.2 .4 1.8 .1 1.2 -.1 1.8 -.2 1.2 -.4 1.2 -.6 1.3 -.7 1.1 -1.1 1.2 -.6 .6 -1.2 .9 -1.2 .6 -1.2 .5 -1.5 .4zM332.2 166.6l-1.8 0 -1.2-.1 -1.4-.5 -1.1-.6 -1.1-.8 -.9-1 -.8-1.2 -.5-1.2 -.2-1.2 -.1-1.8 .3-1.2 .5-1.2 .8-1.2 .9-.9 1-.9 .8-.6 1.2-.9 1.2-.8 1.1-.7 1.1-.6 1.4-.6 1.2-.3 1.8 .2 1.2 .7 .7 .6 .9 1.2 .7 1.2 .5 1.2 .3 1.2 .3 1.8 -.1 1.8 -.3 1.5 -.6 1.5 -.6 1.1 -.6 .8 -1.1 1.1 -.8 .6 -1.1 .7 -1.2 .5 -1.8 .5zM334 165.5l-1.8 .4 -1.8 0 -1.8-.3 -1.2-.6 -1.1-.8 -.7-.7 -.8-1.1 -.5-1.2 -.3-1.8 .2-1.8 .5-1.2 .8-1.2 .7-.8 1.1-1 .8-.6 1.1-.8 1.2-.8 1.2-.6 1.2-.5 1.2-.4 1.7 .1 1.3 .5 .8 .7 1 1.2 .6 1.2 .4 1.2 .3 1.2 .1 1.8 -.2 1.2 -.6 1.8 -.6 1.1 -.6 .9 -1 1 -.8 .6 -1.2 .8 -1.2 .5zM333.4 164.8l-1.8 .4 -1.8-.2 -1.2-.3 -1.2-.7 -1.1-1 -.7-1 -.5-1.4 -.1-1.2 .1-1.2 .5-1.2 .7-1.2 1.1-1.1 .8-.7 1-.8 1.2-.7 1.2-.7 1.2-.4 1.8-.3 1.7 .5 .9 .6 .9 1.2 .6 1.2 .4 1.2 .1 1.8 -.3 1.8 -.5 1.2 -.7 1.2 -.7 .8 -1.2 1 -.9 .6 -1.4 .6zM332.2 164.3l-1.8 0 -1.2-.2 -1.2-.7 -1.1-1 -.7-1.2 -.2-1.2 .2-1.8 .5-1.2 .7-1 .8-.8 1-.8 1.2-.8 1.2-.6 1.2-.4 1.8-.2 1.2 .4 1.2 1 .6 .9 .5 1.7 .1 1.2 -.1 1.2 -.5 1.4 -.6 1 -1 1.2 -.8 .6 -1.2 .7 -1.3 .5zM333.4 163.1l-1.8 .4 -1.8-.2 -1.2-.6 -.9-.9 -.6-1.2 0-1.8 .5-1.2 .8-1.2 .8-.7 1.2-.9 1.2-.6 1.2-.4 1.8 0 1.2 .7 .6 .7 .6 1.3 .1 1.7 -.2 1.2 -.6 1.2 -1 1.2 -.7 .6 -1.2 .7zM332.2 162.4l-1.8 0 -1.2-.6 -.6-.7 -.4-1.7 .4-1.3 .8-1.1 1-.9 1.2-.6 1.2-.3 1.2 0 1.2 .8 .6 1.2 0 1.6 -.4 1.2 -.8 1 -.9 .8 -1.4 .6zM332.8 160.6l-1.8 .3 -1-.9 .4-1.8 .7-.6 1.7-.5 1.2 1 0 .9 -.6 1.1z" fill="none" stroke="#000" stroke-width="0.5"/>
<path d="M280.8 164.2h.8m-5.6-2.9h.8m-3.2 3.3h.8m9.4-6.7h.8m-13.2 10.2h.8m12.3 1.5h.8m-15.8-13.9h.8m9.3 8h.8m-7.4 7.7h.8m9.2-3.7h.8m-4.7 1.3h.8m5.3 .8h.8m-5.7-.3h.8m-10.2 3.3h.8m10.6-3.4h.8m-14-5.3h.8m11.9-5.3h.8m-5.4 12.8h.8m-5.9 2.6h.8m7.6-7.9h.8m-1.8 3.6h.8m-1.8 2.3h.8m-4.3-7.1h.8m6.9 2h.8m-9.5 4.2h.8m9.8-6.3h.8m-13.6 1.4h.8m4.7-.7h.8m6.2-3.3h.8m-1.4-1.1h.8m-10 8.5h.8m7.8 1.1h.8m-4.3-3.3h.8m-1.7 2h.8m-2.3-1.4h.8m2.6-1.2h.8m0 2.5h.8m4.8-1h.8m-11.7-3.2h.8m1 5.9h.8" stroke="#444" stroke-width="0.8" fill="none"/>
<path d="M293 166.9h.8m-12.7-1.5h.8m22.1 0h.8m-13.3 4.2h.8m9.9-11.8h.8m-13.3 4.2h.8m4.1 .4h.8m-38.3-4.3h.8m55.2-6.8h.8m-16.9 21.2h.8m13 5.4h.8m-39.1-18.4h.8m19.6 9.7h.8m20.6-20.7h.8m-6.9-.4h.8m-8.4 26.8h.8m-5.6-10h.8m13.4-.5h.8m-14.1 13.9h.8m16.2-18.2h.8m-2.8 .2h.8m-12.5 9.8h.8m.5-.7h.8m-27-21.5h.8m31.3 5.5h.8m-25.4-5.1h.8m33.6 22.2h.8m2.3-16.9h.8m-22.9-2h.8m10.7 27.3h.8m-25.7-.3h.8m27.4-17.4h.8m-45.2 15.9h.8m27.4-20.1h.8m6.6 10.1h.8m15.7-14.3h.8m-6.3 25.1h.8m4-16.7h.8m-33.8 12h.8m12.1-9h.8m18.9-3.8h.8m-56.7-1.3h.8m5.9 12.1h.8m31.8-14.3h.8m-5.7 14.4h.8m.5 5h.8m-2.9-2.9h.8m22.5 5.7h.8m-33.3-7.3h.8m-18.8-19.6h.8m-2.1 21.5h.8m10.1-10.8h.8m14.8-.2h.8m-6.8 2.6h.8m16.1 7.7h.8m-11.8-22.6h.8m-6.1 23.3h.8m-17.2-16.7h.8m39 13.9h.8m-15.8 .2h.8m1.6-19.9h.8m-26.8 5.4h.8m36.5 .7h.8m-28.1-2h.8m-10.3 6.5h.8m4.5 4.8h.8m-18.5-.3h.8m25-22.7h.8m19.7 16.6h.8m-45.2-6h.8m37.1 4.2h.8m6.5 12.1h.8m-2.5-4.2h.8m9.2 3.3h.8m-7.4 6.5h.8m-18.7-17.8h.8m10.7 28.9h.8m-21.7-17.3h.8m21.5 2.1h.8m-22.8-9.9h.8m17.2 9.2h.8m-5.7-10.3h.8m-15.5-1.6h.8m27.8 4.6h.8m-27-9.4h.8m21.3 13.2h.8m-11.1 .4h.8m-29 5.1h.8m33.3-17.3h.8m14.2 25.1h.8m-41.7-24.8h.8m24.6 8.5h.8m-11.2-11.5h.8m-12.7-3.8h.8m4 16.1h.8m-20.1-10.1h.8m30.7 12.7h.8m-10.8-6.4h.8m17 5h.8m1.9-1.7h.8m-15.3 5.8h.8m4.8-16.2h.8m-10.9 8.3h.8m7 1.6h.8m.8 .2h.8m-2.8-14.4h.8m7.5 23.1h.8m-.6-12.4h.8m-.6-7.8h.8m-35.9 10.3h.8m13.6 6.8h.8m-2.4 8.4h.8m9.1-29.5h.8m-6.6 18.9h.8m18.2-3.4h.8m14 5.3h.8m-23.4-1.1h.8m14.9-16.8h.8m-18.4 18.1h.8m-3 3.4h.8m12.5-1.6h.8m-12.9 16.4h.8m21-27.7h.8m-18 28.2h.8m-7.3-17.3h.8m19-8.6h.8m-33 1.8h.8m22.1 9.4h.8m5.5-11.1h.8m.3 5.2h.8m-10.5-4.8h.8m-7.6 6.3h.8m-12.9-13.2h.8m15.1-8.3h.8m-11.1 20.3h.8m17.9-6.2h.8m-12.8-13.7h.8m19.1 5.4h.8m-20-9.4h.8m13.7 27.6h.8m-41-9.9h.8m37.2-17.1h.8" stroke="#444" stroke-width="0.8" fill="none"/>
<polygon points="247.6,88.7 288.4,88.7 288.4,141.4 247.6,141.4" fill="none" stroke="#231f20" stroke-width="0.9"/>
<polygon points="288.4,88.7 344.4,92.1 323.5,140.5 288.4,141.4" fill="none" stroke="#231f20" stroke-width="0.9"/>
<polygon points="344.4,92.1 359.6,91.7 361.5,140.5 323.5,140.5" fill="none" stroke="#231f20" stroke-width="0.9"/>
<polygon points="323.5,140.5 361.5,140.5 359.9,199.3 309.8,196.5 309.8,159.5" fill="none" stroke="#231f20" stroke-width="0.9"/>
<text x="245.0" y="71.8">Pre-BI</text>
<text x="246.5" y="81.6">9.97</text>
<text x="299.5" y="73.0">Pre-BII</text>
<text x="301.5" y="82.7">25.5</text>
<text x="347.6" y="76.0" textLength="45.0" lengthAdjust="spacingAndGlyphs">Immature</text>
<text x="358.0" y="85.4">19.8</text>
<text x="271.5" y="192.5" textLength="33.1" lengthAdjust="spacingAndGlyphs">Mature</text>
<text x="276.0" y="203.5">39.8</text>
<text x="315.5" y="225.5" text-anchor="middle">CD20</text>
<text transform="translate(424.0 10.6) scale(0.92 1)" font-size="15.5" font-weight="bold" fill="#000" stroke="#000" stroke-width="0.45">b</text>
<text x="517.0" y="11.3" textLength="103.4" lengthAdjust="spacingAndGlyphs">BM B cell progenitors</text>
<line x1="471.3" y1="25.4" x2="471.3" y2="207.4" stroke="#333" stroke-width="0.8"/>
<line x1="471.3" y1="207.4" x2="665.8" y2="207.4" stroke="#333" stroke-width="0.8"/>
<line x1="465.5" y1="207.4" x2="471.3" y2="207.4" stroke="#333" stroke-width="0.8"/>
<text x="462.7" y="210.9" text-anchor="end">0</text>
<line x1="465.5" y1="161.9" x2="471.3" y2="161.9" stroke="#333" stroke-width="0.8"/>
<text x="462.7" y="165.4" text-anchor="end">20</text>
<line x1="465.5" y1="116.3" x2="471.3" y2="116.3" stroke="#333" stroke-width="0.8"/>
<text x="462.7" y="119.8" text-anchor="end">40</text>
<line x1="465.5" y1="70.8" x2="471.3" y2="70.8" stroke="#333" stroke-width="0.8"/>
<text x="462.7" y="74.3" text-anchor="end">60</text>
<line x1="465.5" y1="25.3" x2="471.3" y2="25.3" stroke="#333" stroke-width="0.8"/>
<text x="462.7" y="28.8" text-anchor="end">80</text>
<line x1="493.6" y1="207.4" x2="493.6" y2="211.9" stroke="#333" stroke-width="0.8"/>
<line x1="543.7" y1="207.4" x2="543.7" y2="211.9" stroke="#333" stroke-width="0.8"/>
<line x1="593.8" y1="207.4" x2="593.8" y2="211.9" stroke="#333" stroke-width="0.8"/>
<line x1="643.9" y1="207.4" x2="643.9" y2="211.9" stroke="#333" stroke-width="0.8"/>
<text x="498.6" y="222.5" text-anchor="end" transform="rotate(-45 498.6 222.5)">Pre-BI</text>
<text x="548.7" y="222.5" text-anchor="end" transform="rotate(-45 548.7 222.5)">Pre-BII</text>
<text x="598.8" y="222.5" text-anchor="end" transform="rotate(-45 598.8 222.5)">Immature</text>
<text x="648.9" y="222.5" text-anchor="end" transform="rotate(-45 648.9 222.5)">Mature</text>
<text x="442.0" y="117.8" text-anchor="middle" transform="rotate(-90 442.0 117.8)" textLength="96.4" lengthAdjust="spacingAndGlyphs">Percentage of CD19<tspan dy="-3.5" font-size="6.5">+</tspan></text>
<circle cx="488.9" cy="30.8" r="2.9" fill="#111"/>
<text x="497.0" y="34.3">HDs</text>
<circle cx="488.9" cy="45.6" r="2.9" fill="#e8312a"/>
<text x="497.0" y="49.1"><tspan font-style="italic">CBL</tspan>-LOH P1, P2, P3</text>
<circle cx="488.9" cy="60.2" r="2.9" fill="#4a8fd4"/>
<text x="497.0" y="63.7"><tspan font-style="italic">PIK3CD</tspan><tspan dy="-3.5" font-size="6.5">GOF</tspan></text>
<line x1="475.4" y1="177.8" x2="485.4" y2="177.8" stroke="#333" stroke-width="0.8"/>
<line x1="488.5" y1="196.8" x2="498.5" y2="196.8" stroke="#333" stroke-width="0.8"/>
<line x1="525.2" y1="177.0" x2="535.2" y2="177.0" stroke="#333" stroke-width="0.8"/>
<line x1="537.8" y1="192.6" x2="547.8" y2="192.6" stroke="#333" stroke-width="0.8"/>
<line x1="550.5" y1="97.5" x2="560.5" y2="97.5" stroke="#333" stroke-width="0.8"/>
<line x1="587.0" y1="159.4" x2="597.0" y2="159.4" stroke="#333" stroke-width="0.8"/>
<line x1="602.0" y1="138.4" x2="612.0" y2="138.4" stroke="#333" stroke-width="0.8"/>
<line x1="624.6" y1="55.5" x2="634.6" y2="55.5" stroke="#333" stroke-width="0.8"/>
<line x1="638.1" y1="60.7" x2="648.1" y2="60.7" stroke="#333" stroke-width="0.8"/>
<line x1="651.5" y1="185.4" x2="661.5" y2="185.4" stroke="#333" stroke-width="0.8"/>
<circle cx="480.4" cy="146.5" r="2.75" fill="#111"/>
<circle cx="479.4" cy="156.3" r="2.75" fill="#111"/>
<circle cx="481.6" cy="157.1" r="2.75" fill="#111"/>
<circle cx="478.8" cy="177.5" r="2.75" fill="#111"/>
<circle cx="482.0" cy="177.5" r="2.75" fill="#111"/>
<circle cx="480.4" cy="178.5" r="2.75" fill="#111"/>
<circle cx="480.4" cy="182.3" r="2.75" fill="#111"/>
<circle cx="480.4" cy="190.7" r="2.75" fill="#111"/>
<circle cx="494.1" cy="184.7" r="2.75" fill="#e8312a"/>
<circle cx="492.5" cy="198.4" r="2.75" fill="#e8312a"/>
<circle cx="495.7" cy="196.5" r="2.75" fill="#e8312a"/>
<circle cx="506.6" cy="191.2" r="2.75" fill="#4a8fd4"/>
<circle cx="509.3" cy="191.2" r="2.75" fill="#4a8fd4"/>
<circle cx="507.7" cy="200.0" r="2.75" fill="#4a8fd4"/>
<circle cx="530.2" cy="169.5" r="2.75" fill="#111"/>
<circle cx="529.0" cy="171.9" r="2.75" fill="#111"/>
<circle cx="531.4" cy="173.5" r="2.75" fill="#111"/>
<circle cx="530.2" cy="176.7" r="2.75" fill="#111"/>
<circle cx="530.2" cy="183.1" r="2.75" fill="#111"/>
<circle cx="530.2" cy="190.9" r="2.75" fill="#111"/>
<circle cx="530.2" cy="197.3" r="2.75" fill="#111"/>
<circle cx="543.9" cy="149.4" r="2.75" fill="#e8312a"/>
<circle cx="545.4" cy="192.8" r="2.75" fill="#e8312a"/>
<circle cx="542.3" cy="197.9" r="2.75" fill="#e8312a"/>
<circle cx="555.9" cy="92.4" r="2.75" fill="#4a8fd4"/>
<circle cx="559.0" cy="97.7" r="2.75" fill="#4a8fd4"/>
<circle cx="557.4" cy="115.7" r="2.75" fill="#4a8fd4"/>
<circle cx="579.8" cy="161.4" r="2.75" fill="#111"/>
<circle cx="579.8" cy="174.5" r="2.75" fill="#111"/>
<circle cx="579.8" cy="185.4" r="2.75" fill="#111"/>
<circle cx="578.7" cy="195.4" r="2.75" fill="#111"/>
<circle cx="580.2" cy="196.2" r="2.75" fill="#111"/>
<circle cx="581.0" cy="197.8" r="2.75" fill="#111"/>
<circle cx="592.0" cy="153.7" r="2.75" fill="#e8312a"/>
<circle cx="595.2" cy="159.6" r="2.75" fill="#e8312a"/>
<circle cx="592.0" cy="162.2" r="2.75" fill="#e8312a"/>
<circle cx="607.1" cy="127.8" r="2.75" fill="#4a8fd4"/>
<circle cx="607.1" cy="138.4" r="2.75" fill="#4a8fd4"/>
<circle cx="607.1" cy="159.0" r="2.75" fill="#4a8fd4"/>
<circle cx="629.6" cy="37.4" r="2.75" fill="#111"/>
<circle cx="629.6" cy="49.4" r="2.75" fill="#111"/>
<circle cx="627.2" cy="53.9" r="2.75" fill="#111"/>
<circle cx="631.5" cy="53.9" r="2.75" fill="#111"/>
<circle cx="629.6" cy="56.3" r="2.75" fill="#111"/>
<circle cx="629.6" cy="57.9" r="2.75" fill="#111"/>
<circle cx="629.6" cy="79.6" r="2.75" fill="#111"/>
<circle cx="629.6" cy="120.1" r="2.75" fill="#111"/>
<circle cx="629.6" cy="131.8" r="2.75" fill="#111"/>
<circle cx="643.1" cy="54.4" r="2.75" fill="#e8312a"/>
<circle cx="643.1" cy="60.7" r="2.75" fill="#e8312a"/>
<circle cx="643.1" cy="116.9" r="2.75" fill="#e8312a"/>
<circle cx="656.5" cy="179.0" r="2.75" fill="#4a8fd4"/>
<circle cx="656.5" cy="185.4" r="2.75" fill="#4a8fd4"/>
<circle cx="656.5" cy="191.7" r="2.75" fill="#4a8fd4"/>
<polyline points="480.4,135.8 480.4,97.7 493.8,97.7" fill="none" stroke="#555" stroke-width="0.7"/>
<line x1="493.8" y1="97.7" x2="493.8" y2="167.6" stroke="#888" stroke-width="0.7"/>
<path d="M487.20 93.60L487.20 91.30M487.20 93.60L489.39 92.89M487.20 93.60L488.55 95.46M487.20 93.60L485.85 95.46M487.20 93.60L485.01 92.89" stroke="#222" stroke-width="1.1" stroke-linecap="round"/>
<polyline points="578.2,130.3 578.2,97.7 591.0,97.7" fill="none" stroke="#555" stroke-width="0.7"/>
<line x1="591.0" y1="97.7" x2="591.0" y2="129.4" stroke="#999" stroke-width="0.7"/>
<path d="M584.60 93.60L584.60 91.30M584.60 93.60L586.79 92.89M584.60 93.60L585.95 95.46M584.60 93.60L583.25 95.46M584.60 93.60L582.41 92.89" stroke="#222" stroke-width="1.1" stroke-linecap="round"/>
<text transform="translate(0.0 273.1) scale(0.92 1)" font-size="15.5" font-weight="bold" fill="#000" stroke="#000" stroke-width="0.45">c</text>
<text x="125.7" y="262.3" textLength="187.0" lengthAdjust="spacingAndGlyphs">CD34<tspan dy="-3.5" font-size="6.5">+</tspan><tspan dy="3.5"> HSPC-derived B cell progenitors</tspan></text>
<line x1="35.0" y1="268.3" x2="403.4" y2="268.3" stroke="#555" stroke-width="0.8"/>
<text x="123.6" y="282.0" text-anchor="middle"><tspan font-style="italic">AAVS1</tspan> sgRNA 1</text>
<text x="315.6" y="282.0" text-anchor="middle" fill="#e8312a"><tspan font-style="italic">CBL</tspan> sgRNA 1 + 3</text>
<rect x="37.7" y="288.9" width="174.3" height="175.10000000000002" fill="none" stroke="#9a9a9a" stroke-width="0.9"/>
<line x1="37.7" y1="288.9" x2="37.7" y2="464.0" stroke="#444" stroke-width="0.9"/>
<line x1="37.7" y1="464.0" x2="212.0" y2="464.0" stroke="#444" stroke-width="0.9"/>
<line x1="33.4" y1="305.0" x2="37.7" y2="305.0" stroke="#231f20" stroke-width="0.7"/>
<line x1="33.4" y1="346.9" x2="37.7" y2="346.9" stroke="#231f20" stroke-width="0.7"/>
<line x1="33.4" y1="394.1" x2="37.7" y2="394.1" stroke="#231f20" stroke-width="0.7"/>
<line x1="33.4" y1="464.0" x2="37.7" y2="464.0" stroke="#231f20" stroke-width="0.7"/>
<line x1="35.3" y1="334.3" x2="37.7" y2="334.3" stroke="#231f20" stroke-width="0.5"/>
<line x1="35.3" y1="326.9" x2="37.7" y2="326.9" stroke="#231f20" stroke-width="0.5"/>
<line x1="35.3" y1="321.7" x2="37.7" y2="321.7" stroke="#231f20" stroke-width="0.5"/>
<line x1="35.3" y1="317.6" x2="37.7" y2="317.6" stroke="#231f20" stroke-width="0.5"/>
<line x1="35.3" y1="314.3" x2="37.7" y2="314.3" stroke="#231f20" stroke-width="0.5"/>
<line x1="35.3" y1="311.5" x2="37.7" y2="311.5" stroke="#231f20" stroke-width="0.5"/>
<line x1="35.3" y1="309.1" x2="37.7" y2="309.1" stroke="#231f20" stroke-width="0.5"/>
<line x1="35.3" y1="306.9" x2="37.7" y2="306.9" stroke="#231f20" stroke-width="0.5"/>
<line x1="35.3" y1="379.9" x2="37.7" y2="379.9" stroke="#231f20" stroke-width="0.5"/>
<line x1="35.3" y1="371.6" x2="37.7" y2="371.6" stroke="#231f20" stroke-width="0.5"/>
<line x1="35.3" y1="365.7" x2="37.7" y2="365.7" stroke="#231f20" stroke-width="0.5"/>
<line x1="35.3" y1="361.1" x2="37.7" y2="361.1" stroke="#231f20" stroke-width="0.5"/>
<line x1="35.3" y1="357.4" x2="37.7" y2="357.4" stroke="#231f20" stroke-width="0.5"/>
<line x1="35.3" y1="354.2" x2="37.7" y2="354.2" stroke="#231f20" stroke-width="0.5"/>
<line x1="35.3" y1="351.5" x2="37.7" y2="351.5" stroke="#231f20" stroke-width="0.5"/>
<line x1="35.3" y1="349.1" x2="37.7" y2="349.1" stroke="#231f20" stroke-width="0.5"/>
<line x1="35.3" y1="292.4" x2="37.7" y2="292.4" stroke="#231f20" stroke-width="0.5"/>
<line x1="35.3" y1="403.2" x2="37.7" y2="403.2" stroke="#231f20" stroke-width="0.5"/>
<line x1="35.3" y1="433.8" x2="37.7" y2="433.8" stroke="#231f20" stroke-width="0.5"/>
<line x1="35.3" y1="409.4" x2="37.7" y2="409.4" stroke="#231f20" stroke-width="0.5"/>
<line x1="35.3" y1="439.9" x2="37.7" y2="439.9" stroke="#231f20" stroke-width="0.5"/>
<line x1="35.3" y1="413.9" x2="37.7" y2="413.9" stroke="#231f20" stroke-width="0.5"/>
<line x1="35.3" y1="444.4" x2="37.7" y2="444.4" stroke="#231f20" stroke-width="0.5"/>
<line x1="35.3" y1="418.5" x2="37.7" y2="418.5" stroke="#231f20" stroke-width="0.5"/>
<line x1="35.3" y1="449.0" x2="37.7" y2="449.0" stroke="#231f20" stroke-width="0.5"/>
<line x1="33.4" y1="421.6" x2="37.7" y2="421.6" stroke="#111" stroke-width="0.8"/>
<line x1="33.4" y1="422.8" x2="37.7" y2="422.8" stroke="#111" stroke-width="0.8"/>
<line x1="33.4" y1="424.0" x2="37.7" y2="424.0" stroke="#111" stroke-width="0.8"/>
<line x1="33.4" y1="425.2" x2="37.7" y2="425.2" stroke="#111" stroke-width="0.8"/>
<line x1="33.4" y1="426.4" x2="37.7" y2="426.4" stroke="#111" stroke-width="0.8"/>
<line x1="33.4" y1="427.6" x2="37.7" y2="427.6" stroke="#111" stroke-width="0.8"/>
<line x1="34.7" y1="418.4" x2="37.7" y2="418.4" stroke="#222" stroke-width="0.6"/>
<line x1="34.7" y1="420.0" x2="37.7" y2="420.0" stroke="#222" stroke-width="0.6"/>
<line x1="34.7" y1="429.2" x2="37.7" y2="429.2" stroke="#222" stroke-width="0.6"/>
<line x1="34.7" y1="430.8" x2="37.7" y2="430.8" stroke="#222" stroke-width="0.6"/>
<line x1="106.0" y1="464.0" x2="106.0" y2="468.3" stroke="#231f20" stroke-width="0.7"/>
<line x1="153.5" y1="464.0" x2="153.5" y2="468.3" stroke="#231f20" stroke-width="0.7"/>
<line x1="199.1" y1="464.0" x2="199.1" y2="468.3" stroke="#231f20" stroke-width="0.7"/>
<line x1="120.3" y1="464.0" x2="120.3" y2="466.4" stroke="#231f20" stroke-width="0.5"/>
<line x1="128.7" y1="464.0" x2="128.7" y2="466.4" stroke="#231f20" stroke-width="0.5"/>
<line x1="134.6" y1="464.0" x2="134.6" y2="466.4" stroke="#231f20" stroke-width="0.5"/>
<line x1="139.2" y1="464.0" x2="139.2" y2="466.4" stroke="#231f20" stroke-width="0.5"/>
<line x1="143.0" y1="464.0" x2="143.0" y2="466.4" stroke="#231f20" stroke-width="0.5"/>
<line x1="146.1" y1="464.0" x2="146.1" y2="466.4" stroke="#231f20" stroke-width="0.5"/>
<line x1="148.9" y1="464.0" x2="148.9" y2="466.4" stroke="#231f20" stroke-width="0.5"/>
<line x1="151.3" y1="464.0" x2="151.3" y2="466.4" stroke="#231f20" stroke-width="0.5"/>
<line x1="167.2" y1="464.0" x2="167.2" y2="466.4" stroke="#231f20" stroke-width="0.5"/>
<line x1="175.3" y1="464.0" x2="175.3" y2="466.4" stroke="#231f20" stroke-width="0.5"/>
<line x1="181.0" y1="464.0" x2="181.0" y2="466.4" stroke="#231f20" stroke-width="0.5"/>
<line x1="185.4" y1="464.0" x2="185.4" y2="466.4" stroke="#231f20" stroke-width="0.5"/>
<line x1="189.0" y1="464.0" x2="189.0" y2="466.4" stroke="#231f20" stroke-width="0.5"/>
<line x1="192.0" y1="464.0" x2="192.0" y2="466.4" stroke="#231f20" stroke-width="0.5"/>
<line x1="194.7" y1="464.0" x2="194.7" y2="466.4" stroke="#231f20" stroke-width="0.5"/>
<line x1="197.0" y1="464.0" x2="197.0" y2="466.4" stroke="#231f20" stroke-width="0.5"/>
<line x1="97.0" y1="464.0" x2="97.0" y2="466.4" stroke="#231f20" stroke-width="0.5"/>
<line x1="67.1" y1="464.0" x2="67.1" y2="466.4" stroke="#231f20" stroke-width="0.5"/>
<line x1="91.0" y1="464.0" x2="91.0" y2="466.4" stroke="#231f20" stroke-width="0.5"/>
<line x1="61.1" y1="464.0" x2="61.1" y2="466.4" stroke="#231f20" stroke-width="0.5"/>
<line x1="86.6" y1="464.0" x2="86.6" y2="466.4" stroke="#231f20" stroke-width="0.5"/>
<line x1="56.7" y1="464.0" x2="56.7" y2="466.4" stroke="#231f20" stroke-width="0.5"/>
<line x1="82.1" y1="464.0" x2="82.1" y2="466.4" stroke="#231f20" stroke-width="0.5"/>
<line x1="52.2" y1="464.0" x2="52.2" y2="466.4" stroke="#231f20" stroke-width="0.5"/>
<line x1="73.1" y1="464.0" x2="73.1" y2="468.3" stroke="#111" stroke-width="0.8"/>
<line x1="74.3" y1="464.0" x2="74.3" y2="468.3" stroke="#111" stroke-width="0.8"/>
<line x1="75.5" y1="464.0" x2="75.5" y2="468.3" stroke="#111" stroke-width="0.8"/>
<line x1="76.7" y1="464.0" x2="76.7" y2="468.3" stroke="#111" stroke-width="0.8"/>
<line x1="77.9" y1="464.0" x2="77.9" y2="468.3" stroke="#111" stroke-width="0.8"/>
<line x1="79.1" y1="464.0" x2="79.1" y2="468.3" stroke="#111" stroke-width="0.8"/>
<line x1="69.9" y1="464.0" x2="69.9" y2="467.0" stroke="#222" stroke-width="0.6"/>
<line x1="71.5" y1="464.0" x2="71.5" y2="467.0" stroke="#222" stroke-width="0.6"/>
<line x1="80.7" y1="464.0" x2="80.7" y2="467.0" stroke="#222" stroke-width="0.6"/>
<line x1="82.3" y1="464.0" x2="82.3" y2="467.0" stroke="#222" stroke-width="0.6"/>
<path d="M149.7 354h.9m-33.6 43.3h.9m31.1-36.7h.9m6.9 41.6h.9m-25 13h.9m-24.3-29.9h.9m7-48.8h.9m13.2 7.3h.9m-56.4 12.8h.9m8.7 21.3h.9m42.8-33.2h.9m26.6 9.3h.9m-1.7 81.6h.9m11.7-82.4h.9m3.3 67.3h.9m-68.5-10.1h.9m50.7-9.1h.9m-29.6-5.6h.9m-20.1-.7h.9m-29.3 11.3h.9m73.4-6.6h.9m-1.6-51.6h.9m-6.9-10.2h.9m1.1 65.9h.9m-59.6-65h.9m68.1 70h.9m-97.6-45.2h.9m92.3 47.2h.9m-.4-26h.9m-39.5 3.8h.9m-11.4-15.3h.9m51.7 34.6h.9m-7.1-54.4h.9m10.6 83.3h.9m-4.3-38.7h.9m-91.1-38h.9m39.3 45.4h.9m32.3-29h.9m-4.2-33h.9m-32.7 37.2h.9m67.2 33.8h.9m-17.9-13.8h.9m-56.5-59.9h.9m-24.3-8.9h.9m91.1-2.4h.9m-59.2 46.6h.9m47.5 48.4h.9m-34-33.4h.9m-19-4.1h.9m-38.2-27.2h.9m70.5 37.5h.9m7.6 19h.9m-14.2-70.5h.9m-52.7-9.8h.9m-2.4 1.5h.9m37.3 85.7h.9m13.1-61h.9m-40.4-20.3h.9m28.8 52.2h.9m14.2-32.5h.9m-81.7-8.8h.9m48.9 18.4h.9m-35.7-26.9h.9m25.8 33.5h.9m-5.2-38.4h.9m34.7 49.7h.9m12.5-17.8h.9m-60.7-1.3h.9m57.3-8.9h.9m-50.7 38.8h.9m-15-25.6h.9m28.5 27.7h.9m37.4-45.5h.9m-19.5 17.5h.9m-22.1-42.3h.9m-46.9 28.6h.9m74.4 42.7h.9m-5.1-63.1h.9m-30.1 59.2h.9m10.2-6.7h.9m-1.1-49.4h.9m25.1 77.1h.9m-61.8-82.5h.9m56.8 55.8h.9m-42.2-11.2h.9m47.9 18.7h.9m-10.9-7.9h.9m-18.6-10.7h.9m-5.1-4.6h.9m-3.2 20.6h.9m-20.6-31h.9m46.1 30.3h.9m13.9 7.9h.9m-9.4 32.8h.9m-65.8-104.7h.9m17.2 38.6h.9m60.1 3.7h.9m-49.5 8.2h.9m-37.8-7.6h.9m14.5 6.8h.9m4.3 50.1h.9m14.1-90.9h.9m42.1 53.6h.9m-7-37.7h.9m-27.1 33.4h.9m-31-59.3h.9m57.2 2.5h.9m-10.2 7.3h.9m18.7 19h.9m-21.6-13.4h.9m27.9-6.6h.9m-51 51.7h.9m35.7-41.5h.9m-13.2 46.5h.9m-8.4-4.7h.9m11.3-5.1h.9m-18.9-4.9h.9m-14.2 22.2h.9m-25.2-11.7h.9m-17.3-35.9h.9m26.5 46.2h.9m37.5-66.4h.9m-38.4 45h.9m-5.8-6h.9m21.5 13.9h.9m-19.1-.3h.9m14.2-61.6h.9m13.4 77.3h.9m-35-73.3h.9m41.6 100.9h.9m-30.4-94.7h.9m40.7 .8h.9m-29.4 3.9h.9m29 108.3h.9m-9.7-50.7h.9m-78.7-12.8h.9m28.6-15.6h.9m-34.2-13.6h.9m85.2-17.8h.9m-25 43.7h.9m-4.7-2.3h.9m-59.5-29.9h.9m92.9 91.7h.9m-37-41h.9m42.4-4.9h.9m-16.6-.5h.9m-20.5 2.2h.9m-8.3-53.9h.9m17.3 57.3h.9m-20.9 10.1h.9m10.6 .9h.9m-63-56.6h.9m86.8-1.4h.9m-84.1 6.8h.9m67.6 49.1h.9m15.2-59.9h.9m-18.4 3.7h.9m-13.1 56.6h.9m-53.2-79.3h.9m-3 11.7h.9m19 51.6h.9m8.6-69.3h.9m43.8 65.1h.9m-2.8-37.2h.9m-59.2 36.5h.9m59.1 67.9h.9m-9.4-75.5h.9m-2.7-.7h.9m-11 39.7h.9m6.9-41h.9m1.2 24h.9m15.6-11.7h.9m-2.9-23.6h.9m-13.7 26.6h.9m-1.1 2.8h.9m-75.7-51.4h.9m18.1-22h.9m57.6 43.9h.9m9.5-26.7h.9m-59.3-12.4h.9m27.2 61h.9m38.2 24h.9m-.9-75.2h.9m-57.7 39h.9m-7-6.9h.9m42 33.4h.9m-75.9-35.6h.9m75.3 47.1h.9m-4.6-40.6h.9m-33.4-8.5h.9m26.4 29.6h.9m7.8 1.7h.9m-39.4-74.7h.9m44.2 92.8h.9m-40.4-27.6h.9m33.8-9.4h.9m-16.8-39.3h.9m5.6 78.7h.9m-4.2-6.1h.9m9-49h.9m-63.4-25.1h.9m69.6 60.1h.9m8.6 34.4h.9m-60.7-26h.9m47.8-67.6h.9m3.9 53.4h.9m-7.9-16.2h.9m-5.1 9.6h.9m-6.4 11.2h.9m-33-23.2h.9m-5.8 22.4h.9m51 23.8h.9m-56.7-45h.9m59.7 17.4h.9m-23.3 2.8h.9m13.2-7.5h.9m-72.8-33.8h.9m50.3 41.6h.9m-4.5-46.4h.9m9.6 32.9h.9m1.3-32.7h.9m-17.4 31.1h.9m1 5.5h.9m10.3 13.1h.9m28-6.1h.9m-70.6-9.6h.9m6-12.4h.9m12.6 28h.9m21-58.7h.9m-52.2-3.8h.9m64.2 12.5h.9m7.3 66.5h.9m-62.4-38.4h.9m60.2-33.7h.9m-62-10.6h.9m36.6 73h.9m6.5-61.9h.9m21.4 86.3h.9m-33-48.9h.9m27.9-16.7h.9m-57.5 18.2h.9m14.5 28.8h.9m25.9-4.7h.9m-6.4-45.8h.9m-57 17.1h.9m31.8 26.1h.9m-21.8-10.3h.9m34.3-49.8h.9m21 93.5h.9m-1.9-102.6h.9m-64.8-.6h.9m-19.5 22.2h.9m3.3 17.6h.9m41.3 5.2h.9m23.1-48.8h.9m-65 18.3h.9m26.8 39.2h.9m14.6 14.3h.9m-23-32.7h.9m39.3 10.3h.9m-53-55.4h.9m70.4 53.9h.9m-15.1-46.1h.9m-50.2 5.1h.9m39.1 2.9h.9m-5.5-15.8h.9m-15.4 71.4h.9m-25.9-61.1h.9m61.7 22.4h.9m-.1 39.6h.9m-26.6 7.5h.9m22.6 40h.9m16.4-41.9h.9m-7.2 17.4h.9m-77.9-54.2h.9m63.1 30.2h.9m-41.8-2.4h.9m9.5-21h.9m-2.7 22.6h.9m-5.1-58.2h.9m30.2 43.4h.9m-59.9-1.5h.9m57.6-4.5h.9m4.2-10.9h.9m-26.3-22.6h.9m-34.3 35.4h.9m67.7 10.1h.9m-23.3-10.1h.9m-28.7-35.2h.9m-37.5 17.1h.9m72.9 23.4h.9m-36.7-44.7h.9m51 23.1h.9m-59.2 31.3h.9m62.4 6.7h.9m-12-19.9h.9m-12.8 45.2h.9m-5-45.4h.9m20.1 37.9h.9m-.6-69.2h.9m-56.2 50.8h.9m19.7-53.1h.9m-15.4-9.8h.9m44.1 15.2h.9m-56.7-13.5h.9m23.6 40.3h.9m39 70h.9m-17.3-61h.9m-.2-.4h.9m7.3-3.6h.9m-2.3 60.5h.9m-53.4-70.1h.9m8.6 2.8h.9m19.6 34.2h.9m-29.1-23.6h.9m-16.3 22.2h.9m52.7 10.7h.9m-52.2-35.4h.9m74.9 41.2h.9m-86.7-61h.9m61.3-14.3h.9m35.7 36.6h.9m-68.7 9.9h.9m-25.3-34.3h.9m52.5 16.2h.9m-31.2-1.6h.9m26.9-33.1h.9m2 11.1h.9m-43 49.9h.9m12.6-.7h.9m4.4-16.7h.9m8.9 19.8h.9m13.6-10.2h.9m20.9 31.2h.9m-8.5-87.9h.9m-19.5 10h.9m-26.4-13.4h.9m25.6 30.9h.9m-46.9-36.4h.9m58.9 10.8h.9m-5.4 57h.9m3.7 53.6h.9m18.6-62h.9m-93.6-14.7h.9m65.7 3.2h.9m-27.3 14.4h.9m19.6-40.4h.9m6 69.7h.9m-24.7-30.7h.9m-31.3-15.7h.9m84.4 22.4h.9m-47.1-6.9h.9m21.9-48.4h.9m-38.2 3.3h.9m34.9 41.6h.9m-6.4 0h.9m-42.5-14.1h.9m-18.1-7.1h.9m65.5 54h.9m-32.7-28.1h.9m15 22.6h.9m6.8-55.6h.9m-34.4 44.9h.9m-15.8-8.3h.9m-22.7-65h.9m10.3 38.7h.9m55.6-6.6h.9m9.8 35.5h.9m-18-13.5h.9m-7 18.2h.9m-33.3-33.7h.9m39 13.4h.9m-65.1-24.3h.9m50-16.7h.9m23.1 52.3h.9m-43-14h.9m3.5 10.5h.9m-2.4 .1h.9m26.2 16.5h.9m8.5-3h.9m-45.6-30.8h.9m19.9 7.8h.9m-12.1-.8h.9m-20.2-11.6h.9m63.5 56.6h.9m-87-70.6h.9m10.8 46.5h.9m46.7-21.3h.9m-22.6 29.3h.9m26.2-19.6h.9m-23.2-56.8h.9m27.5 77.5h.9m-43.2-81.4h.9m8 68.2h.9m7.4-9.5h.9m-46.2-34.9h.9m14.3 43.1h.9m46.5 15.2h.9m-12.2-27.7h.9m12.5-1.8h.9m24-1.5h.9m1.4-19.2h.9m-25.5 22h.9m-1.4 22h.9m-34 2.3h.9m13.4-26.3h.9m-10.4-40.8h.9m20.4 52.7h.9m8.5 8.2h.9m10.8-53h.9m-25.9 43.4h.9m-42.5-1.7h.9m68.7-12.9h.9m-43.2-7.8h.9m7.7 18.3h.9m-11.9-50.7h.9m37.1 58.5h.9m20.5-14.5h.9m-26.2 4h.9m-73.4-28.8h.9m15.7-27.1h.9m67 75.4h.9m-17.9-16.5h.9m21.6-25.4h.9m-86.3-6.1h.9m39.4 56.9h.9m46.1-63.6h.9m-8.1 29.6h.9m.6 10.9h.9m-12.6 28.2h.9m-24.2-17.1h.9m-23.5-60.4h.9m26.4 41.2h.9m24.3 43.1h.9m-3.1-40.5h.9m-47.5 3.6h.9m6.3-17.5h.9m37.2 21.3h.9m-5.6 22.6h.9m-45.9-29.5h.9m38.4-26.8h.9m23.1-10.6h.9m-18.4-10.2h.9m-74.8 23.2h.9m-4.1-15.5h.9m72.4 58.7h.9m6.6-50.3h.9m-11.5 33.6h.9m-17-52.7h.9m-3.7 4.7h.9m-44.9 1h.9m87.7 97.6h.9m-110.8-85.8h.9m49.3 40.6h.9m35.5-.4h.9m1-12.9h.9m-36.7-4.1h.9m41 35h.9m15.1 5.9h.9m-29.2-27.8h.9m-52.6-19.6h.9m35.1 25.7h.9m18.6-44h.9m-17.1 58.2h.9m17.3-68.7h.9m5.2 57.9h.9m3.7 4.9h.9m-17.2-60.3h.9m4.6-1.3h.9m-7.2 40.9h.9m-21.1 18.8h.9m-27-30.4h.9m57.1 10.3h.9m-57.5-2.3h.9m15.1 19.7h.9m40.6-30.2h.9m-13.9 19.4h.9m-47.5-54.1h.9m-17.6 14.6h.9m33.9 20.8h.9m-9.1 20.8h.9m20.1 3.4h.9m31.6 26.3h.9m5.8-70.4h.9m-33 31.2h.9m-14 1.7h.9m-40.1-36h.9m63.5 .3h.9m-32.3 40.6h.9m25.1 .5h.9m-25.3-18.5h.9m-13.7 7.3h.9m53.4-8.2h.9m-16.4 13h.9m9.1 12.6h.9m-28.1-45.6h.9m-16.9 54h.9m5-75.8h.9m-20.9 52.5h.9m71.3 28.3h.9m-6.7-72h.9m-52.4 4.6h.9m37.6 1.4h.9m-49.7 58.1h.9m59.9 21.3h.9m3.4-20.5h.9m1.3-12.7h.9m2.7 8.7h.9m-21.6-36.1h.9m15 42.9h.9m-9.9-50.8h.9m1.9 84.3h.9m-60.5-43.4h.9m15.5 7.1h.9m-24.9-33.4h.9m29.9 38.5h.9m-27.2 1.7h.9m10.7-9.1h.9m37.7-1.8h.9m-35-2.1h.9m-31.3-50.3h.9m10.5 27.5h.9m-13.9-45h.9m.1 25.8h.9m30.7 49.8h.9m24.6 4.9h.9m-52.2-31.6h.9m-6.3-21.1h.9m15.8-17.5h.9m61.1 64.5h.9m-55.9-65.5h.9m2.9 32.1h.9m44.4-11.7h.9m-35.6 15.4h.9m-49.4-22.3h.9m33.5 56.3h.9m-27.7-57h.9m71.1 28h.9m-30.5 23h.9m-28.7-33.5h.9m22.5-25.9h.9m33.7 23.8h.9m-72.3-3.7h.9m12.1 9.3h.9m-8.5-4.7h.9m72 61.6h.9m-80.1-60.1h.9m44.9-26.7h.9m11.7 4.9h.9m20.6 15h.9m-49.2-24.1h.9m6.9 2.6h.9m-18.7 65.1h.9m63.6-54.5h.9m-22.3-3.3h.9m25.4 78.7h.9m-12.1-72.8h.9m-6.5 62.6h.9m-30-72.3h.9m28 72.6h.9m1-23.7h.9m-18.9-9.2h.9m-.1-38.6h.9m-34.8 57.7h.9m-25.3-50.9h.9m74.4 67.4h.9m12.3-3.2h.9m-44.3-29.3h.9m33.8 15.5h.9m-86.9-51.7h.9m35.6 22h.9m28.9 30.9h.9m32.7-18.1h.9m-42.1-37.1h.9m13.1 29.5h.9m-63.2-9.2h.9m1 13.4h.9m61.3-3.6h.9m5.5-28.3h.9m-15.9-2.2h.9m20 35.1h.9m14.5 24.5h.9m-13.7-40.6h.9m-69.3 .8h.9m-4.4-26.3h.9m38.3 6.9h.9m-16.3 44.9h.9m27.2-42.7h.9m-.7 28h.9m11.2 26.4h.9m-37.5-30.2h.9m-46.4 12.9h.9m57-7.7h.9m27.7-23h.9m-54.3 37.3h.9m42.9-37.7h.9m-1.2 1.9h.9m3.4-10h.9m-69.7-13.6h.9m-6.2 15.3h.9m9.9 54.1h.9m46.4-.7h.9m27.4-45.2h.9m-59.2 23.4h.9m-10.8 12.2h.9m54.1-40.7h.9m3.5 72.5h.9m-34.3-33.2h.9m5.1-8.9h.9m5.5-43h.9m14.9 59.9h.9m-5.8-16.2h.9m8 15.5h.9m-55.5-21.6h.9m-22.7-28.5h.9m-3.3 .2h.9m33.7 55.5h.9m32.4-68.8h.9m-19.4 68.6h.9m5.2-19h.9m16.4 1.5h.9m-1.9 24.6h.9m-21.9-.2h.9m-38.9-45h.9m68 30.9h.9m-100.1-46.1h.9m103.8 47.2h.9m-4.5-8.9h.9m-11.4-24.2h.9m-38.1 45.2h.9m10.7-72.7h.9m-10.9 65.8h.9m26.6-25h.9m-4 63.8h.9m-.4-100.9h.9m20.2 23.9h.9m-35.9-20.3h.9m34.9-6.3h.9m-18.6 40.5h.9m1.5-.1h.9m4.8 7.2h.9m-7.7-39h.9m-40.3 41.4h.9m17.1-9.6h.9m-8.3 32.3h.9m-6.6-36.3h.9m29.5 21h.9m1.5-4.9h.9m16.4-38.1h.9m-33.7-8.2h.9m-23.2 58h.9m62.6 31.4h.9m-21.1-44.5h.9m-74.3-36.7h.9m48 41.7h.9m-23.3 5.7h.9m34.7-17.7h.9m17 29.5h.9m-24.1-13h.9m-3.2-5.8h.9m1.1-51.6h.9m37.7 6.1h.9m-19.1 61.2h.9m-29-68h.9m-4.7 1.8h.9m-27.2 33.8h.9m64.5-32.7h.9m-20 47.5h.9m-17.6-56h.9m-45.2 24.8h.9m56.8 25.2h.9m4.5-47.9h.9m2.3 83.4h.9m-24.6-32.9h.9m1.4 6.4h.9m-10.1-7.7h.9m10.3-43h.9m43.8 65h.9m-22.3-60.5h.9m-27 36.2h.9m15.8 9.1h.9m-16.3-55h.9m26.3 42h.9m-47.4-39.4h.9m29.1 60h.9m-41.4-64.2h.9m9.1 39.1h.9m47 46.5h.9m-51.8-28.9h.9m42.3-51.4h.9m-6 49.8h.9m46.5 5.4h.9m-58.6-68.6h.9m35.2 96.2h.9m-22-29.7h.9m-30 1.5h.9m33.8 45.9h.9m-13.8-55h.9m22.7-45.6h.9m-40.7 3.1h.9m39.3 54.7h.9m-12.2-59.1h.9m-2.5 89.7h.9m-11.5 20.6h.9m-13.3-69.3h.9m-37.5-5.5h.9m30 21h.9m49.6 20.8h.9m-30.8-74.8h.9m.9 41.2h.9m21.5-10.5h.9m-.8-25.5h.9m-74.5 21.9h.9m23.9 33.5h.9m-32.1-74.2h.9m79.4 31.4h.9m-21.1 16.4h.9m-28.1-32.6h.9m29 44h.9m4.3-26.4h.9m5.3 74.1h.9m-58.1-38.4h.9m3.1-29.3h.9m-30.5-3.6h.9m82.4-9.7h.9m-60.1 14h.9m49.2 35.5h.9m-11.7-11.9h.9m-55.2 13.4h.9m29.6-29.4h.9m5.2-35.8h.9m33.9 18.2h.9m5.2 59.2h.9m-7.8 21.7h.9m-74.2-77.2h.9m33.3 20h.9m29-31.6h.9m-1.8 2.3h.9m-48.8-15.2h.9m31-7.8h.9m1.5 51.8h.9m-25.5 21.1h.9m4.7-31h.9m36.3 14.7h.9m5.7 37.8h.9m10.2-56.1h.9m-79.1 .5h.9m35.8-27.1h.9m-36.7 26h.9m-3.9-2.1h.9m6.4 33.2h.9m23.3-16.2h.9m34 50.6h.9m3.1-7.3h.9m-19.4-40.8h.9m6.8-52.2h.9m-16.3 93.6h.9m-25.1-27.4h.9m15.6-64.5h.9m30.6 57h.9m-38.7-15.3h.9m31.6 33.1h.9m-22.1-77.4h.9m19.4 63.4h.9m11.9-48h.9m2.4 101.6h.9m-85.9-120.5h.9m38.2 55.6h.9m29.1-16.6h.9m11.8 15.7h.9m-80.8-20.9h.9m-15.5-11.1h.9m87.6 72.4h.9m-36.4-29.7h.9m30.4-10.9h.9m-27.7 19.2h.9m19.5-43.8h.9m10.5 33.5h.9m-5.5 9.4h.9m-58.5-23.6h.9m10.4-4h.9m1.5 12.8h.9m40.3-4.9h.9m-17.5 20.3h.9m7.7-2.9h.9m-34.2-12.7h.9m-5.8-21.2h.9m41.9-15.7h.9m-28.8 48.7h.9m31.8-19h.9m.7 46.8h.9m-1.8-81.4h.9m-4.6 65h.9m-35.5-76.9h.9m49.1 .9h.9m-63.5 34h.9m46.8 30.5h.9m11.5 33.8h.9m-22.8-51.1h.9m-40.5-1.6h.9m49.1-38.4h.9m-69.8 16.9h.9m60.2 28h.9m9.5 5.2h.9m-24.4-56.9h.9m19.9 66.6h.9m-31.2-19.4h.9m14.1 17.9h.9m-62.3-36.4h.9m35 3.1h.9m13.2 22.4h.9m14.1-4.8h.9m2.3-42.1h.9m5.9 12h.9m2.3 24h.9m-43.1 21.2h.9m-28.2-35.2h.9m30.7-23.3h.9m-.7 4.3h.9m33.3-9.9h.9m-15.9 59.6h.9m21-21.2h.9m-52.5 27.7h.9m34.4-20.3h.9m29.3 4.3h.9m-22.3-12.6h.9m-49.2-2.1h.9m59.5 7.4h.9m21.6-47.8h.9m-18.5 68.2h.9m-37.7 1.8h.9m-4.4 5.3h.9m-22.2 3.6h.9m-12.5-28.7h.9m9 6.5h.9m51-38.7h.9m-30.2-2.8h.9m16.6-8.5h.9m-64.5 18.7h.9m72.4 19.2h.9m-41-.4h.9m42.8 18.1h.9m-38.5-5.9h.9m31.8 35.9h.9m-6.6 7.3h.9m-37.6-41.5h.9m37.4-26.1h.9m-35.8 48.3h.9m35.8-19.6h.9m3 14.9h.9m1.2 9.2h.9m-19.3-18.9h.9m-4.7-51.9h.9m-36.9-7h.9m49.7 78.5h.9m6.1-29.5h.9m-2.9 37.9h.9m-13.1-18.9h.9m9.9-53.5h.9m-56.2 55.9h.9m65-4.2h.9m-72.3-24.7h.9m70.4 31.7h.9m-19 7h.9m-19.3-71.2h.9m-30.5-9.4h.9m17.2 34.9h.9m50.5 48.2h.9m-46.6-38.1h.9m-10.2-12.2h.9m47.2-18.6h.9m-16.7-14.8h.9m-26.6-10h.9m15 13.7h.9m0 60.5h.9m-54.8-32.3h.9m80.8-2.9h.9m2 33.6h.9m-20.8-9.2h.9m7.6-37.2h.9m13.1 66.2h.9m-42.6-77.2h.9m26.9 9.3h.9m-41.5-7.6h.9m38.4 32.8h.9m-49-39.6h.9m30.5 2.9h.9m31.9 19.8h.9m-14.7 20.1h.9m-57.5 2.9h.9m51 2.8h.9m-38.8 9.3h.9m-1.8-4.6h.9m30.4 27.1h.9m22.9 9.3h.9m-67.6-50h.9m38.8 28.2h.9m-33.3-74.1h.9m63.3 53.5h.9m-22.4-43h.9m-59.8 31.6h.9m73.9 20.1h.9m-56.2-6.6h.9m-10.9-17.5h.9m51.2 56.2h.9m-39.8-48.7h.9m-5.4 .4h.9m62.1 39.1h.9m-88.1-20.7h.9m54.3-7.9h.9m18 16.8h.9m-30.1-62.7h.9m-31.1 31.9h.9m71.9 30.7h.9m-15.8-7.9h.9m2.9 31.6h.9m-56.4-91.8h.9m43.4 75.7h.9m-16.1-6.6h.9m-23.7-23.1h.9m46.3-43h.9m-63-2h.9m0-7h.9m37.3 7.2h.9m-23 72.5h.9m6.5-3.2h.9m23-16.2h.9m24.6-27.5h.9m-36.5 35h.9m-11.7-1.1h.9m-9-8.3h.9m62.2 2.2h.9m-64.3-4.2h.9m-34.3-47.3h.9m59.7 54.2h.9m-31 14.3h.9m20.4-69.1h.9m-51.9 10h.9m49.4 58.3h.9m-2.3-68.9h.9m-12.7 49.2h.9m5-41.8h.9m6.2 35.3h.9m-46.7-50.9h.9m61 7.7h.9m-25.7 48.9h.9m32.4 1.4h.9m-26.6 38.5h.9m20.2-41.4h.9m-12.8 27.8h.9m27.7 3.1h.9m-27.6-15.6h.9m4.7 25.6h.9m-19.2-79.8h.9m-27.4 32.8h.9m-23.6-12.4h.9m81.4 72.9h.9m-34.2-40.6h.9m21.2-11h.9m-85.6-44.9h.9m82.6 43.7h.9m3-33.2h.9m4.3 77.8h.9m-.5 9.6h.9m-41.9-35.7h.9m45 14.2h.9m-58.3-21.6h.9m50.1-48.3h.9m-23.7 32.7h.9m37.7 39.1h.9m-81.3-16.3h.9m-15-66.7h.9m42 34.7h.9m22 19.2h.9m3.5 6.5h.9m-19.6 .1h.9m11.2 22.2h.9m16.1-76.7h.9m-9.2 36.8h.9m-40.2 .1h.9m7.3 22.4h.9m36.6-25.9h.9m5.6 8.1h.9m-45.5 30.8h.9m.9-81.2h.9m46.1 66.4h.9m-11.1-57.4h.9m-24.5 47.5h.9m-62.6-50h.9m80.3 .1h.9m-61.7 59.8h.9m19 12.4h.9m-3.9-76.8h.9m52.3 111.7h.9m-21.2-88.8h.9m-6.1 47.3h.9m7.2-27.8h.9m6.6-36.5h.9m-18-4.1h.9m-23.3 72h.9m-1.5-15.6h.9m.9-49.2h.9m39.8 75.4h.9m-76.6-70.2h.9m77.3 51.7h.9m-2.5-34.8h.9m-21.9-38.1h.9m-19.7 64.3h.9m4.9 3.5h.9m-4.8-19.5h.9m41.2 19.6h.9m.4 17.6h.9m-47.3-74.2h.9m51.8 90.7h.9m-38-47.1h.9m23.3 6.6h.9m1.9-31.6h.9m6.2-15.7h.9m-15.3 16.5h.9m-21.4 41.1h.9m33.3 54.7h.9m-32.6-115.7h.9m7.4 58h.9m-18-6.4h.9m29.1 26.8h.9m-21.1-11.8h.9m-18.2-13.8h.9m33.4-33h.9m-.2 39.3h.9m-8.7-3.9h.9m-31.9 3.8h.9m1.7 4.4h.9m.5-5.1h.9m-13.2-18.5h.9m52.3 19.3h.9m-50.3 14.3h.9m50 23.3h.9m-53.2-97h.9m47.1 7.4h.9m11.6 78.3h.9m-18.9-53.7h.9m-46.7-39.1h.9m24.6 11.8h.9m33.5 12.1h.9m-18.2-18.1h.9m1.3 88.1h.9m-21-81.2h.9m10.8 41.7h.9m1.4 13.7h.9m-3.2 7.3h.9m20.4-39.7h.9m-11.8 50.8h.9m-38.5-22h.9m49.5 47.2h.9m8.5-46.4h.9m-14-30.3h.9m-75.5 5.8h.9m47.5 19.5h.9m-59.8-23.7h.9m47.8 19.5h.9m30.3 7.9h.9m-76.4-38.1h.9m46.3 20.5h.9m-45.1-40.9h.9m53.5 51.5h.9m14.5-11.7h.9m-9.6 49.6h.9m-23.7-50.2h.9m-35 37.2h.9m30.3-18.3h.9m38.9 19.5h.9m-40.6-9.1h.9m-1.8-61.7h.9m38.8 25.7h.9m-46.4 5.5h.9m16.6 24.8h.9m37.6 7.5h.9m-13.4 .6h.9m-58.6-79.7h.9m-36.6 28.2h.9m113.2-8.5h.9m-47.6-7.7h.9m17.3 58.7h.9m-59.7-63.9h.9m13 2.6h.9m31.7 55.1h.9m-47.2-60.9h.9m35.6 69.6h.9m-16.9-11h.9m8.1-53.5h.9m-42.3 21.9h.9m94.1-.8h.9m-17.2-11.5h.9m21 34.5h.9m-44.8 10.4h.9m2 18.3h.9m18.7-56.6h.9m-43.1 26.6h.9m-7.9 15.9h.9m-25.8-65.3h.9m61.2 22h.9m24 60.3h.9m-61.7-11h.9m32.5-5.1h.9m-57.7-49.8h.9m69.5-4.9h.9m-.2 26.2h.9m-1.3-26.1h.9m-16.1 18h.9m21.5 2h.9m-86.5-4.5h.9m76.8 .1h.9m-58.1 13.1h.9m37.4 10.2h.9m26.6-40.1h.9m-31.9 37.9h.9m13.3 11.4h.9m-27.3 .8h.9m36.3 30.4h.9m-33.1-30.7h.9m-17.2 1.2h.9m49.3-1.6h.9m-48.5-5.7h.9m-10.9-15.6h.9m-1.2 3.8h.9m41.9 10.1h.9m-69.1-24.8h.9m93.6 101.9h.9m-36.3-70.7h.9m-6.6 18.1h.9m13.3-60.6h.9m17.7 64.3h.9m-41.5-13.8h.9m-.8-56.7h.9m-6.1 44.2h.9m39.9-2.4h.9m-36-3.8h.9m42.2 35.4h.9m-70.2-22.6h.9m18.1-7.8h.9m-21.2-5.3h.9m-4.9 32.5h.9m62-19.7h.9m-22.9 7.2h.9m-24 7.6h.9m49.2-43.5h.9m3.5-7.9h.9m-5.3-3.1h.9m2.8 3.9h.9m.2-17.3h.9m-68.6-3.1h.9m5.8 56.5h.9m10.6 11.6h.9m12.1-30.8h.9m15.4 12.4h.9m8.2 4.5h.9m.6 14.3h.9m-12.4-56.8h.9m6.4 27.9h.9m-5.4 5.1h.9m-60.7-15.6h.9m35.4 51.4h.9m32.1-44.7h.9m-24.1 32.1h.9m39.4-64.9h.9m-11.2 88.5h.9m-49.5-41.5h.9m41.1 30.3h.9m-2.1-45.8h.9m-35.2-24.6h.9m27.5-.9h.9m-13.8 41.1h.9m-44.2-48.8h.9m22.5 82.5h.9m52.3-61.5h.9m-8.2 83.7h.9m-4.5-98h.9m-25.8 69h.9m-20.8-80.2h.9m32.8 71.6h.9m.6 10.4h.9m3.9-79h.9m-50.5 .9h.9m39.3 10h.9m11.7 72h.9m-43.1-39.1h.9m-44-19.3h.9m98-15.6h.9m-16 87.5h.9m-33-28.7h.9m44.5 12.3h.9m.3-5.2h.9m-7-62.4h.9m-42.2-11.2h.9m-18.3 50.6h.9m18.8-2.1h.9m24.9-7.6h.9m-27.4-2.4h.9m36.1-12.2h.9m-82.9-10.6h.9m69.4 59.6h.9m-58.7-49.6h.9m10.9 36.3h.9m32.3-4.4h.9m10.9-45.9h.9m-39.5-15h.9m60.6 5.5h.9m-.4 70.1h.9m-71.4-21.8h.9m8.3 11.2h.9m45.7-4.9h.9m-6.5-28.1h.9m20.3 29.5h.9m-18.6 13.2h.9m-69.7-47.6h.9m70.5 1.5h.9m-57.3 10.5h.9m5 5h.9m50.4-35h.9m-19.8 89.8h.9m28.3-39.2h.9m-70.1-22.4h.9m60.4-14.1h.9m-7-13.2h.9m-28.4-12.8h.9m-20.1 9.4h.9m14.3-11.5h.9m30.1 73.9h.9m1.4-47.6h.9m-47.4-20.4h.9m35.4 49.7h.9m14.2-24h.9m-75-10.5h.9m52 35.7h.9m1.3-39.6h.9m-21 32.7h.9m43.6 30.1h.9m-56.6-13.5h.9m-1.3-12.4h.9m-3.5 28.7h.9m45.6-26.8h.9m-80.5-24.1h.9m77.8 41.4h.9m-13.6-18h.9m32.2 40.3h.9m-28.7 12.7h.9m7.8-43.2h.9m6-44.7h.9m-.1 63h.9m-52.2-14.6h.9m8.8-66h.9m27.6 57.4h.9m-3.9 24.2h.9m-12.6-26.2h.9m2.6 6.5h.9m22.3 41.7h.9m-14.4-103.4h.9m-29 42.1h.9m29.9 2.1h.9m22.8 44.2h.9m-7.1-15.7h.9m-12.8-53.8h.9m-43.9 46.8h.9m42.8-7.4h.9m-15.2-6.4h.9m-21.4-48.4h.9m39.4 .5h.9m-32 57.3h.9m30.6-34.8h.9m-14.3 23.2h.9m-5.6-39.8h.9m-50.6-7.7h.9m67.5 27.8h.9m.6 1.7h.9m-35.2-22.4h.9m-35.1 46.2h.9m30.4 20.6h.9m49.5-58.5h.9m-10 79.7h.9m9.1-22.7h.9m-82.4-34.8h.9m37.5 30.1h.9m-26.6-28h.9m54.9 51.1h.9m-74.2-83.1h.9m25 44.4h.9m-1.7-5.1h.9m26.7 17.1h.9m13.7-59.3h.9m9 58.3h.9m-33.8-13.8h.9m-18.4-7.5h.9m-32.8-15.4h.9m38.1 21.5h.9m-3.7 7.4h.9m49.8-40.7h.9m-95.2 6.8h.9m80 75.4h.9m-26.4-33.4h.9m-32.9-10h.9m-9.3-19h.9m76.8 76.3h.9m-8.2-1.7h.9m-21.8-53.2h.9m4.5 12h.9m-63.9-39.2h.9m28.6 10.6h.9m33-20.1h.9m10.5 40.2h.9m-7.5 6.9h.9m2.8-6.8h.9m4.9-52.2h.9m-30.4 57.6h.9m-48.8-58.4h.9m67.1 16.9h.9m1.1-10.1h.9m-17 42.3h.9m18.8-2.4h.9m-63.3-10.8h.9m23-36h.9m-37.4 36.3h.9m49.4 33.4h.9m-31.9-1.8h.9m58.1 3.9h.9m21.6-65h.9m-62.9 32.8h.9m-12.7-7.5h.9m15.9 10h.9m-41.4 14.3h.9m39.5 14.1h.9m-47.2-42.9h.9m71.8 15.3h.9m-9.8 9.5h.9m13.3-20.7h.9m-26.7-35.9h.9m-10.1 7.3h.9m27.4 27.1h.9m-8 52.6h.9m-59.1-43.4h.9m74.9 31.9h.9m-18.9-.3h.9m-56.9-43.4h.9m52.2-5.5h.9m7.8 5.9h.9m-65.9 33.4h.9m64.9-46.1h.9m10.5 8.4h.9m-72.5 9.8h.9m29.4 2.8h.9m26-18.8h.9m3 45.9h.9m-57.9-71.9h.9m11.6 2.2h.9m42.9 10.5h.9m9.6-8.2h.9m-31.1 55.4h.9m33.2 14.7h.9m-27.7-28.6h.9m-58.7-32.5h.9m.2-9.7h.9m37.1 50.9h.9m28.1 22.6h.9m-3.3-63.2h.9m-25.6 27h.9m39 20.8h.9m-38.6-47.4h.9m-22.6-8.7h.9m39.5 63.2h.9m-39.3-61.1h.9m7.6 41.6h.9m-29.8-39.5h.9m74.1-3.7h.9m-17.7 8.5h.9m11.4 38.7h.9m-7 49.4h.9m-1-91.4h.9m-2.9 25.8h.9m-71.4-21.5h.9m75.7 9.1h.9m-41.1 17.7h.9m-12.6 13h.9m48.7-5.6h.9m5.3-14.8h.9m-54.3 11.9h.9m-21.6-33.4h.9m68.6 38.1h.9m11.2 31h.9m-42.7-25.7h.9m35.8 13.5h.9m-12.9-60.6h.9m3.8 83.6h.9m-17.8-11.1h.9m10.6-25.7h.9m-80.3-38.3h.9m76.6 52.3h.9m9.7-40.6h.9m-76.2-22.6h.9m2.4 22.2h.9m7.4-24.3h.9m65.8 7h.9m-3.7 41h.9m-60.6-17.7h.9m13.9 18h.9m69.7-33.7h.9m-34.4 30h.9m-13.4-31.7h.9m-45.4 15.6h.9m19.7 25.1h.9m48.7 12.9h.9m-47-15.8h.9m45.4 2.2h.9m-57.1-12.7h.9m55.2 35.6h.9m-12.9-10.6h.9m.4-1.1h.9m-3.2-60h.9m1 26.8h.9m16.4 59.8h.9m-85.2-59h.9m77.2 8.9h.9m-72.9-40.6h.9m-9.7-1.9h.9m72.8 54.1h.9m-3.3-33.7h.9m-82.6 6.5h.9m78.5 47.8h.9m-17.2-15.1h.9m-37.6-17.1h.9m16.9-36.9h.9m12.5-3.5h.9m-7.4 53.9h.9m42.9-42.4h.9m-49.5-11.9h.9m24.3 49.8h.9m-46-56.4h.9m68.2 61.2h.9m-20.6-21.7h.9m-43.8 21.2h.9m45.7-11.2h.9m-46.3 20.8h.9m42.1-51.5h.9m-67.9-3h.9m94.9 49.1h.9m-22.6-39h.9m-53.1 16.5h.9m18.9 20.6h.9m-13.6-16h.9m.4 14.6h.9m37.2-43.5h.9m-89.3 9.8h.9m119.8-11.4h.9m-25.8 35.7h.9m-29.1 2.5h.9m51.3 15.9h.9m-51.5-4.2h.9m-21.8-20.2h.9m33-32.3h.9m4.6 22.7h.9m10.1-22.3h.9m6.4 97.9h.9m-9.5-57.6h.9m-17-2.6h.9m-46.6 29.4h.9m56.6-3.3h.9m-42.4-63.7h.9m-.5-4.5h.9m3.3 38h.9m12.8 15.1h.9m7.2-11.8h.9m22.7 36.2h.9m-48.2-87.1h.9m-13.8 56.1h.9m22.3-43.7h.9m11.7-5.1h.9m-33 41.4h.9m-27.4-18.3h.9m62.9 19.9h.9m5.5 2.8h.9m10 46.5h.9m-1.2-23.9h.9m-7.2-30.4h.9m19.5-28.6h.9m-86.3 25.2h.9m48.1 29.4h.9m9.7-35.5h.9m-41-24.8h.9m47.5-13.3h.9m-45.6 61.2h.9m27.4-45.7h.9m-54.6 21.3h.9m-7.3-9.5h.9m95.3 89.7h.9m-82.3-118h.9m48.3 24.4h.9m26.8 4.3h.9m-10.7 32.7h.9m-30.1-45.6h.9m44.9 84h.9m-4.4-22.6h.9m-62.7-7.2h.9m35.2-33.7h.9m.6-16.4h.9m-42.3 59.2h.9m38.7-24.2h.9m-24.1 0h.9m-32.3-5.5h.9m36.8-29h.9m-11.2-8.4h.9m7.7 55.8h.9m27.3-39.4h.9m23.4-14.8h.9m-51.8-1h.9m20.9 54.5h.9m-39.1-50.3h.9m58.7 38.5h.9m-71.2 9.2h.9m14 22.7h.9m43.2-18.7h.9m-67.5 1.1h.9m48.7-17h.9m-48-10.8h.9m.8 7.6h.9m52.9-.3h.9m-50.1 .5h.9m-25.6 17.9h.9m70.9-17.5h.9m-15.8 33.9h.9m15-69.2h.9m-48.1 59.2h.9m47.5-50.4h.9m4.2 49.8h.9m-43.5-15h.9m40.3 57.7h.9m-3.9-3.1h.9m1.3-14.1h.9m-73.9-58.5h.9m42.4 41.4h.9m27.1-25.4h.9m-12.4-41.7h.9m17.8 3.8h.9m-33.8 45.6h.9m-51.9-42.5h.9m63.4 50.2h.9m1.2 10.2h.9m-59.9-47.7h.9m67.4 1.5h.9m2.4 48.1h.9m-18.1-17.5h.9m10.5-53h.9m-14.9 39.3h.9m-4.4 17.4h.9m-31.6-13.7h.9m-17.2-15.6h.9m66.5-4.4h.9m2.2-7.3h.9m-78-15.8h.9m67.6 .1h.9m-51.4 31h.9m50.3 52.6h.9m3.2-49.3h.9m-22.4-32.5h.9m-32.7 48.6h.9m30.4-44.1h.9m-11.9-.5h.9m-5.2 48.8h.9m-5.8-8.3h.9m56.1-48.8h.9m-61.2 58.4h.9m-15.3-55.6h.9m55.9 49.3h.9m-41.1-10.5h.9m48 36h.9m1.4 27.9h.9m-34.6-107.8h.9m-21.3 57h.9m38.4-17.8h.9m-16.9 23h.9m-25.5-19.1h.9m17.8-43.9h.9m23.5 13.7h.9m-1.6 46.6h.9m1.3-50.3h.9m-12.3-8.9h.9m-31.6 50.9h.9m40.8 27.7h.9m-13.7-25.2h.9m-3.9 11.4h.9m30.4-.7h.9m-43.8-63h.9m-29.3 38.3h.9m29.3 31.2h.9m37 5.3h.9m9.9 49.9h.9m-40.1-80.4h.9m1.8 24.1h.9m15.6 21h.9m-4.8-57.3h.9m9.7 19.5h.9m3.2-12.7h.9m-21.4-35.2h.9m-2.2 72.8h.9m-54.7-7.8h.9m5.4-26.6h.9m-27.6-27.2h.9m82.6 66.4h.9m-23.5-38.7h.9m-14.3-1h.9m27 20.1h.9m6.3-40.2h.9m-45.8 15.7h.9m28.1 23.9h.9m23.4-56.7h.9m-14 36.2h.9m-24.8 9.9h.9m35.9-46.9h.9m-20.3 61.5h.9m-43.6-72.5h.9m49.9 77h.9m10.2-73.3h.9m-45 57.3h.9m7.1-1.6h.9m38.1-16.3h.9m-24.6 53.1h.9m7.3-25.2h.9m.4-32h.9m-39 8.9h.9m28.2-30.8h.9m-31.8 25.3h.9m22.5-30.1h.9m-50.6 4.1h.9m63.6-13h.9m13.6 18.2h.9m5.3 75.4h.9m-80.8-61.9h.9m26.8 27.8h.9m56.9 61.2h.9m-5-15.3h.9m-46.2-51.5h.9m47.4-22.9h.9m-90-5.9h.9m49.2 37.9h.9m-21.5-22.7h.9m34.5 37.4h.9m-76.4-49.1h.9m28.8 11.8h.9m-6.2 1h.9m38.8-46.6h.9m-21.7 58.8h.9m11.4-43.6h.9m-10.2 31.1h.9m32.4 46.3h.9m8.3 30.8h.9m-81.5-109.4h.9m26.3-1.6h.9m56.1 74h.9m-1.7-3.7h.9m-69.9-40.4h.9m28.9 15.5h.9m12.7 31.1h.9m13.6-80.5h.9m25 54.6h.9m-32.8 4.2h.9m-22-3.3h.9m2.6 .5h.9m14.5 18.5h.9m-46.4-73h.9m42.6 4.8h.9m-21.3 50.7h.9m-22.2-24.7h.9m41.6 53.9h.9m17.2-6h.9m-51-35.7h.9m57.8 3.6h.9m-22.6-53.1h.9m7.2 111.2h.9m-86.1-92.7h.9m34.2 28h.9m40.6-34.2h.9m9.6 50.3h.9m-76.4-34.9h.9m79.6 49.3h.9m9.3-11.4h.9m-80.3 4.7h.9m-26.5 14.3h.9m34.3-76.6h.9m-19.9 22.3h.9m66.6 50.2h.9m13.4-29h.9m-2.3 17.6h.9m-74.4-61.3h.9m58.7 57.1h.9m-66.1-27.4h.9m67.8 25.3h.9m-74.3-42.3h.9m48.6 56.5h.9m-61.7-72h.9m38.8 64.2h.9m41.5-29.7h.9m-25.1 21.2h.9m18.1-18.7h.9m-47-5.6h.9m41.8 27.6h.9m-9-53.1h.9m-10.8-8.5h.9m-3.4 53.9h.9m-53.5-19.2h.9m76.6-.3h.9m-28.2 19.6h.9m37.1 58.1h.9m-23.6-98.8h.9m15.6 19.3h.9m-58 3.6h.9m19.3 19.4h.9m40.7 7h.9m-60.6 1h.9m-2.6-25.2h.9m73.1 41.3h.9m-15.6-31.1h.9m-58.3 3h.9m55.5-11.8h.9m.6 29.8h.9m-57-32.4h.9m60.8 24.8h.9m-62.4-64.7h.9m54.3 38.5h.9m-65-8.7h.9m67.3 72.7h.9m-8.4-65.1h.9m-16-27h.9m.8 34.5h.9m3.8-39.4h.9m16.5 13.6h.9m-20.4 38.9h.9m20.1 22.8h.9m-60.4-14h.9m-18.3-36.1h.9m81.2 27h.9m-25.1-3.8h.9m3.2-42.7h.9m-17.8 37.9h.9m-3.9-8.8h.9m5.5-49.1h.9m18.7 46.7h.9m-1.9-33.5h.9m-9.9 3.7h.9m-70.9 8.7h.9m75.1 15.1h.9m-77.8-4.9h.9m42.9 17.5h.9m14-27.2h.9m35.8 9.8h.9m-16 9h.9m-34.3-30.8h.9m-5.4 40.5h.9m48.8 13.9h.9m-5.1-50.5h.9m-.5-5.9h.9m1.8-1.6h.9m-25.6 13.3h.9m-34.8 52h.9m58.8-35h.9m-82-25.5h.9m82 63.4h.9m-15.3-27.9h.9m-45.9 3h.9m32.8-35.6h.9m6.9 58.3h.9m-38.6-26.4h.9m41.3 9.1h.9m-.6 2.6h.9m-44.5-.4h.9m40.9 25.5h.9m-69.4-66.6h.9m68.5 42.3h.9m12.6-12.4h.9m-63.7 2.3h.9m39.6 37.1h.9m-76.2-67.5h.9m89.6 9.9h.9m-42.5-18.5h.9m39.9 89.5h.9m11.6-73h.9m-53.5 21.6h.9m39.6 15.9h.9m-18.5-47.9h.9m2.1 63.9h.9m-12.8-16.5h.9m23.9-41.1h.9m-32.7 37.6h.9m32-40.9h.9m7.3 67.9h.9m-16.9-31.4h.9m-26.6 23.8h.9m19.7-30.4h.9m-20.1-42.3h.9m35.1 19.8h.9m-6.4-9.4h.9m-77.5 24.6h.9m21.3 10h.9m-31.8-37.5h.9m69.5 40.6h.9m-25.1-7h.9m53 26.5h.9m-73.4 7.4h.9m-5.7-39.7h.9m7.4 41.7h.9m72.6-35.6h.9m-35.9-27.6h.9m7.3 40h.9m-25.4 10.5h.9m44.1 56h.9m1.5-37.4h.9m-76.2-24.5h.9m62.8 20.4h.9m-57.9-73.7h.9m5.1 .6h.9m-10.3 36.8h.9m39.2-43h.9m14.8 81.3h.9m-46.6-30.9h.9m43.4-26.9h.9m-10.5-23.4h.9m2.4 44.5h.9m-41.7 6.2h.9m43.6-38.8h.9m-68.7 .1h.9m2.3 61.3h.9m-5.1-49.4h.9m42.2 38h.9m-23.7-5.2h.9m46.1 11.7h.9m-16.7-60.6h.9m27.4 57.4h.9m-88.6-50.9h.9m11.6 36.4h.9m23.3 2.7h.9m39.1-12.1h.9m3.7 3h.9m-56.8 4.1h.9m12.7-49.3h.9m-6.7 52.5h.9m-27.4-32h.9m75.1 75.5h.9m21.6-44h.9m-75.9 10.9h.9m14.7-6.8h.9m25.8-38.2h.9m-45.8 23.2h.9m26.5 24.8h.9m23.3-3.4h.9m5.3 43h.9m-1.3-18.3h.9m-63-44.2h.9m19.1 14.7h.9m34.3-13.3h.9m-64.7-10.8h.9m34.9 16.5h.9m-21.2-4.9h.9m-20.5-8.9h.9m58.7 35.1h.9m15.8-60.8h.9m-43.8 38.7h.9m-.3 .3h.9m22.9-36.7h.9m10.1 54.6h.9m-12.5-6.6h.9m15.1 53.8h.9m-2.2-98.8h.9m-32.5 57.7h.9m11.4-5.9h.9m2.2 8.1h.9m-31.8-21.8h.9m35.9 16.8h.9m9.6-23.7h.9m-65.6-35.7h.9m6 30.1h.9m-22.6-19.3h.9m62.2 33.3h.9m19.7 40.9h.9m-44.9-31.8h.9m25.6-20.5h.9m-13 18h.9m-26.3-21.6h.9m12 14.2h.9m-.2 10.2h.9m-23-57.1h.9m.1-.9h.9m47.4 12.6h.9m-8.1 42.6h.9m-4.4-50.9h.9m13 38.9h.9m-6.4-45.1h.9m-4.6 69.7h.9m-16.8-71.1h.9m-5.8 58.3h.9m-25.8-59.3h.9m46.2 8h.9m-14.7 49.2h.9m25.5 27.8h.9m-44.2-32.8h.9m-34.3-21.2h.9m.5-20.4h.9m49.9 63h.9m16 12.7h.9m5-32h.9m-56-9.1h.9m45.2-35.6h.9m-59.5 .5h.9m18 47.8h.9m-4.7 15.1h.9m-21.8-11.2h.9m13.3-26.2h.9m30.8 14.2h.9m-7 22h.9m51.7-.8h.9m-9-20.8h.9m-73.5-16.4h.9m13.6 5.7h.9m43.9 1h.9m-28.4 7.8h.9m5.9-35.4h.9m26 35.1h.9m-54.3 9.5h.9m41.2-25h.9m-27.4 11h.9m29.8 15.7h.9m6.9 23.3h.9m-14.8-40.4h.9m20-47.1h.9m-40.2 9.1h.9m35.2 7.5h.9m-14.8 10.1h.9m6.6-6.6h.9m-74.9 13.2h.9m20.9 11.6h.9m-27.4-21.3h.9m41 38.9h.9m27-47.9h.9m11.3 45.9h.9m-44.2 8.8h.9m26.4-10.8h.9m-44.1-20.6h.9m34.1 36.9h.9m-2.9 2.2h.9m20.7-56.2h.9m15.1 39.8h.9m-22.3 28.7h.9m-27.5-18.2h.9m18.2-54.6h.9m12.6-7.4h.9m-.5 81.1h.9m-71.3-70.3h.9m70.5 35.8h.9m-58.8 6.9h.9m61.7 16.5h.9m-69.2-36.4h.9m67.9 28.6h.9m-5-49.1h.9m-38.9-10.6h.9m-44.5 12.2h.9m1.9 53h.9m63.6-12.4h.9m17.5 68.2h.9m-15.3-72.2h.9m10.8 46.4h.9m-5.9-98.3h.9m-71.8 53.5h.9m69.9-1.1h.9m-2.9-34.8h.9m-3.8 15.3h.9m2.4-10.3h.9m-68.5-8h.9m47.1 28.5h.9m10.5-29.6h.9m-17.3-4.5h.9m-19 32.9h.9m18.2 19h.9m-16.5 11.3h.9m50.3-57.1h.9m-23.4 33.6h.9m-59.2-3.1h.9m21.5-7.8h.9m46.4-29.3h.9m2.7 8.1h.9m-12.6 48.4h.9m-43.1-.5h.9m25.5-54h.9m19.4 38h.9m-65.7-29.9h.9m28.9 18.9h.9m-33.9-20.4h.9m51.6 24.8h.9m-47.3-9.9h.9m53.7 43.1h.9m-22-67.5h.9m-42.2 12h.9m70.4 45.7h.9m-36.9-12.2h.9m67.3-32.7h.9m-49.9 59.2h.9m21.7-80h.9m-74 17h.9m62.5 17.5h.9m-14.6-30.6h.9m34.6 107.9h.9m-56.8-71.3h.9m7.5-43.3h.9m21.8 39.3h.9m-38 27.3h.9m60.1 55.1h.9m-45.7-117.5h.9m45.4 8.1h.9m-46.3 36.7h.9m23.2-37.7h.9m-40.9 39.8h.9m49.2-3h.9m-2.6 4.6h.9m-10.3 21.8h.9m-31.4-16.8h.9m46.7 33.2h.9m-86.3-72.2h.9m90.5 99.2h.9m-35.5-120.9h.9m-32 70.6h.9m13.6 5h.9m33.8-25.3h.9m-6.5 .3h.9m-13.3 2.2h.9m21.7 33.3h.9m-7.1-7.5h.9m-49.3-9.5h.9m62.7 27.3h.9m3.2-83h.9m-27.6 69.2h.9m25.2-83.6h.9m-52.1 89.3h.9m38.6-17.6h.9m2-47.7h.9m-8.4 32.7h.9m-1.1-5.6h.9m-6.4 18.4h.9m5.7-1.8h.9m-1.1 15.6h.9m-2.5-61.8h.9m-77 3.2h.9m50.2 26.4h.9m-25.4 11.5h.9m46.6-8.5h.9m-39.3-11.4h.9m6.1 16.9h.9m41.7-1.9h.9m-55.4-47.5h.9m24.4 11.6h.9m29.7-5.5h.9m-63.9 36.4h.9m66.4 28.2h.9m-2.1-59.3h.9m1.6 80.4h.9m4.7-10.7h.9m-47.8-21.3h.9m33.1 16.4h.9m.6-42.7h.9m-49.2 10h.9m44.3 70.2h.9m-55.1-86.3h.9m46.6-9.9h.9m21.4 51.5h.9m-36.7-25.1h.9m-15-.8h.9m13.3-31.7h.9m28.3-4.3h.9m-53.6-7.2h.9m31.6 5.9h.9m6.9 25.3h.9m-6.2 38.6h.9m-40.5-33.7h.9m0 17.7h.9m52.3 23.1h.9m-12.4-3.2h.9m-33.8-75.4h.9m-59 23h.9m99.7 74.5h.9m-90.5-61.6h.9m41.2 10.8h.9m30.6 14.7h.9m1.1 34.5h.9m-17.2-34.6h.9m-10.2-4.2h.9m23.6 11.9h.9m19.2-21.9h.9m-64.5 1.6h.9m47.3 38.9h.9m-47-52.6h.9m-25.3 17.6h.9m48.2-40.4h.9m10.4 24.4h.9m-14.7 33.4h.9m9.1-67.1h.9m-51.9 24.7h.9m18.5-27.9h.9m60.9 94.6h.9m-8.1-86.1h.9m-3.8 86.9h.9m-22.8-78.7h.9m20.8-22.8h.9m-9 28.4h.9m-18.1 39.7h.9m20.4 26.7h.9m-10.4-75.8h.9m-35.1 46h.9m-39.9-35.5h.9m75.5-.7h.9m-21.4 39.6h.9m35.2-1.4h.9m-88.9-35.9h.9m14-24.1h.9m62.6 8.8h.9m-71.1-3.8h.9m25.6 50.2h.9m16.3 10.2h.9m4.5-18.7h.9m29.3 19.9h.9m-17.4-3.8h.9m-22-18.7h.9m16.9-36h.9m6.4-13.9h.9m-22.7 7.3h.9m-16.8 62.3h.9m37-12.4h.9m7.9-21.3h.9m-1.4 9.3h.9m-71.2-7.7h.9m60.2 29.1h.9m1.2 33.1h.9m-11-32.8h.9m-30.2 23h.9m34-60.4h.9m17 77.9h.9m1.4-23.7h.9m-17.2-44.8h.9m4.8 17.5h.9m-6.9-39.6h.9m-67.3 16.7h.9m73.3 57.8h.9m-31.5-36.1h.9m-62.3-36.5h.9m35.3-18.4h.9m57.4 94.1h.9m-9.9-17.2h.9m-2.5-36.5h.9m9.1-2.2h.9m-49.9 16.5h.9m30.4 35.8h.9m-35.1-82.7h.9m38.9 5.2h.9m-30.5 35.3h.9m.3-43.8h.9m1.4 41.6h.9m18 10.5h.9m31.6 12.4h.9m-25.1-46.3h.9m-34.2 39.9h.9m13.6-3.9h.9m6-61.6h.9m38.2 25.9h.9m-28.5 39.6h.9m-.7-29.2h.9m-4.4-9.9h.9m-45.9 25.8h.9m18 25.2h.9m27.6-42.6h.9m-3.8-24.3h.9m9.5 75.8h.9m-4.4 15.2h.9m-19.8-53.3h.9m21.7-4.8h.9m-8.4 9.8h.9m3.5-3.4h.9m-3.5 29.6h.9m-41.9-19.7h.9m29 9.6h.9m-44.6-19.3h.9m7.2 23.1h.9m51-19.1h.9m-13.7-39.3h.9m-70.1-.9h.9m.3 9.7h.9m84.9 30.3h.9m-64.3-11.2h.9m29.9 23.9h.9m-31-27.1h.9m42.6 28.2h.9m-75.8-27.8h.9m94-7.6h.9m-2.1-21.5h.9m-87.6 47.9h.9m81.1-29h.9m-56.1 16.4h.9m29.5 13.2h.9m-9.4 9.6h.9m40.7-53.7h.9m-13.6 55.2h.9m.1-60.1h.9m-23.4-2h.9m-10-3.1h.9m12.7 .5h.9m16.8 71.2h.9m-20.7-64.3h.9m-16.3 47.5h.9m33.1-15.1h.9m5.5 72.7h.9m-61-23.1h.9m-4.3-92.5h.9m2.3 36.1h.9m-16.7 10.7h.9m51.5 32h.9m-21.2-12.3h.9m36.9-33.9h.9m-4.5 33.9h.9m-20.6-11.3h.9m10.6 18.7h.9m-5.8-5.3h.9m-57.6-49.8h.9m60.4 25.6h.9m25.5 19.2h.9m-59.6-58h.9m60.5 70.8h.9m-39.4-29.5h.9m28.1 37.6h.9m-49.5-12.3h.9m55.9-52.4h.9m-21.5-4.7h.9m-77.2 19.5h.9m8.5 2.2h.9m19 13.8h.9m-16.8-45.7h.9m28.3 5.3h.9m45.4 58.7h.9m.6-40.3h.9m-70.8-23.7h.9m30.6 56.2h.9m43.8-23.9h.9m-35.2 11.7h.9m36.3 15.5h.9m-85-24.9h.9m65.9-9.2h.9m1.7-18.8h.9m-18.1 37.1h.9m-26-42.4h.9m9 40.1h.9m-29 11.2h.9m64.9-33.6h.9m-65.4 21.6h.9m48.1 15.1h.9m-27 1.2h.9m-1.7 3.2h.9m9.7-2.5h.9m31.5 21.3h.9m-5-25.1h.9m-8.4 37.5h.9m-11.7-38.7h.9m-33.1-19h.9m37.2-28.6h.9m13.2 9.5h.9m-78.4 22.7h.9m57.5 36.5h.9m8.5-50.8h.9m5-6.5h.9m18.8 36.9h.9m-19.5-38.7h.9m-49 37.1h.9m27.8-1.4h.9m5.3-15.3h.9m-49.3 3.7h.9m21.5 32.8h.9m32.6-29.5h.9m-24 21.1h.9m-17.2-18.6h.9m8.7-.1h.9m-5.2 27.6h.9m26.6-63.1h.9m5 27.2h.9m-35.8 19.6h.9m31.5-26.8h.9m1.4 41.6h.9m9.3-11h.9m-14.6-49.1h.9m-8-16.5h.9m12.5 79.7h.9m10.2-68.5h.9m-24 45.5h.9m6.9-33.5h.9m10.9 15.8h.9m-63.8 6.1h.9m51.8 26h.9m17.8-56h.9m-8.4 5.5h.9m-2.4 60.7h.9m-70.8-79.4h.9m60.2 35.5h.9m-60.1-34.8h.9m4.2 53.5h.9m58.6 7h.9m-60.2-8.3h.9m65.8 15.7h.9m-59.8-66.9h.9m18.2 55.1h.9m-8-12.3h.9m45.9 9.4h.9m-23.1-36.1h.9m-39.4 20.9h.9m10.4 10.2h.9m18.5-43.8h.9m-40.8 57.9h.9m6.8-20.7h.9m44.2 29.4h.9m-76.4-38.1h.9m84.2-41.4h.9m-11.9 70.1h.9m8.2-41.2h.9m.6 21.7h.9m-37.1 .7h.9m4.8 8.1h.9m49-1.8h.9m-95.3-38.5h.9m38.6 54.8h.9m10.4-62.8h.9m-3.6 66.5h.9m35.9-1.6h.9m-4.4-2.5h.9m-5.8-45.3h.9m-8.6 4.7h.9m-36.7-25.7h.9m20.9 63.7h.9m-18.4-8.3h.9m23.8-8.7h.9m11.6-20.3h.9m-43 20.8h.9m-22-10.1h.9m32.1 30.8h.9m-17.2-27.2h.9m45.3 31.6h.9m-49.7-33.7h.9m45.5-34.1h.9m-6.8 89.2h.9m-58.8-59.2h.9m16.4 18.9h.9m-3.8-57.7h.9m3 65.2h.9m49.2-34.2h.9m-29.7 29.8h.9m29.4 35.2h.9m-20-37.9h.9m2.7-44.5h.9m16.6 36.2h.9m-9.6 11.4h.9m-43.9-54.2h.9m-6.6 51.1h.9m-19.3-50.9h.9m55.9 46.5h.9m17.8 26.4h.9m-73.5-5.3h.9m67.6-54.5h.9m-59-16.4h.9m29.4-.2h.9m41.5 28.6h.9m-30.8 49.5h.9m-5.5-73h.9m13.5 60.1h.9m-2.6-2.3h.9m11.8 34.6h.9m-58.2-58.4h.9m51.1 18.3h.9m-14-53.3h.9m-58.4 10.2h.9m28.5 39.2h.9m27.8-31h.9m-23.2-11.5h.9m25.8-9.3h.9m6.7 52.5h.9m-42-47.4h.9m4.8 1.2h.9m38.8 95.3h.9m-69.1-35h.9m51.5 .8h.9m-16.2-10.6h.9m19.6-11.8h.9m-35.4-34.3h.9m10 48.5h.9m8.2-50.2h.9m.4 1.8h.9m1 40.4h.9m-19.1-1.4h.9m30.3 39.4h.9m3.7-4.2h.9m17.8-13.2h.9m-12.4 3.1h.9m-57.2-21.2h.9m25.5-43.9h.9m26.9 2.9h.9m-59.9 41.1h.9m-12.1-47.3h.9m19.9 31.3h.9m-35.7-18.6h.9m62.5-6.6h.9m-56.3-6.2h.9m69.3 40.1h.9m-70.3-43.1h.9m-7.6 20.5h.9m55.8 53.5h.9m45.6-64.6h.9m-19 19.3h.9m-41.9 41.4h.9m22.3-58.4h.9m-33.6-9.2h.9m61.9 3.2h.9m-32 50.2h.9m2.8 6.3h.9m-43.3 6h.9m59.4-10.5h.9m3.6 47.4h.9m-22.3-83.7h.9m4.1-1.2h.9m19.7 26.9h.9m-1.5 21h.9m-50.1-23.6h.9m-35-9.4h.9m15.4 19.2h.9m50.4 22.1h.9m12.4-82.3h.9m-50.1 59.6h.9m24.7-26.2h.9m-14.9 34.5h.9m-35.5-67.6h.9m60.7 75.4h.9m-80.6-70.6h.9m48.7 2.2h.9m16 43h.9m-62.9-12.4h.9m26.7 1.9h.9m9.8 16.4h.9m-40.2-22.8h.9m21.5 21.7h.9m5-.6h.9m8.5 6.4h.9m-.2-46.4h.9m32.3 101.8h.9m-41.9-66.8h.9m56.6-40h.9m-73.3 56.7h.9m11.5-52.8h.9m-12-12.8h.9m45.8 46.7h.9m-35.7-10.2h.9m-20.3-27.2h.9m69.7 37h.9m-11 60.9h.9m-68.6-73.5h.9m35.7-21.9h.9m-22.1-6.1h.9m38 49.9h.9m-71.1-45h.9m36.4 28.8h.9m-21.2 6.2h.9m20.7 15.4h.9m41.6-8.7h.9m-32.1 17.7h.9m-39.7 4h.9m78.5-60.3h.9m-51.9 51h.9m22.4 22.2h.9m-5.8-23.1h.9m-59.2-35h.9m72.1 13.7h.9m1.9 25.1h.9m-35.4-10.3h.9m8.2-1.2h.9m-12.4-19.3h.9m-2.9-34.3h.9m32.3 62h.9m-14.1-5.8h.9m15.5-50.8h.9m-63.3 20.9h.9m61-20h.9m12.7-11.5h.9m-1.2 30.2h.9m-19.8 34.6h.9m16.6-42.9h.9m0 18.6h.9m1.4 40.6h.9m1.9-61.2h.9m-.2 74h.9m-70.8-4.1h.9m-.9-51.8h.9m65.8 30.9h.9m-3.8-3.1h.9m-6.4 14.7h.9m15.8-43.2h.9m-20.1 28.5h.9m4.1-16h.9m7.1-20.6h.9m-51.5 29.8h.9m5.8-2.1h.9m26.4-41h.9m-17.5 44.3h.9m14.8 32.7h.9m3.6-23.7h.9m2.5-36.4h.9m-10.8-21.9h.9m7.5 39.2h.9m-42.2 5.1h.9m19.4-44.2h.9m-33.7 28h.9m48.2 22.8h.9m3.7-10.3h.9m-60.1 14.1h.9m72.1-48.9h.9m-13.4 21h.9m-18.8 35.3h.9m31.1-48.7h.9m-74 39.8h.9m41.5-11.7h.9m-32.5-5.1h.9m43.9 30.2h.9m-61.3-70.1h.9m72.2 26.6h.9m-55.6 34h.9m61.8 17.2h.9m-19.4-42.4h.9m-75.2-14.8h.9m66.4 26.6h.9m14.4-18.1h.9m-15.3 23h.9m20.7 53.7h.9m-65.1-62.2h.9m48.6 45.1h.9m-5.3-21.5h.9m1.1 1.3h.9m9.5-46.4h.9m-11.2 51.7h.9m-7.4-15.1h.9m-27.4 8.3h.9m46.4-15.2h.9m-66.3-19.5h.9m62.2 85.7h.9m12-18.2h.9m-93.6-88.8h.9m37.9-3.9h.9m44.5-.2h.9m-16.9-1.3h.9m6.6 2.7h.9m-24.9-7.8h.9m16.4 19.8h.9m-1 20.6h.9m-40.4-.6h.9m41.8-24.5h.9m-1.6 45.3h.9m-44 5.3h.9m37.4 6.7h.9m11.2-53.7h.9m-66.7 13.9h.9m60.9-13.3h.9m-19 23.3h.9m-48.2-11.7h.9m31.4 22h.9m-17.5 6.9h.9m40.3-28.3h.9m10.7 23.6h.9m-38.6-.3h.9m34.1 39.2h.9m3.2-82.3h.9m-49.3 37.4h.9m57.8-37h.9m-19 16h.9m-42.5-28h.9m7.4-2.6h.9m-9.1 41.2h.9m45.7 42.3h.9m-42.4-34.9h.9m29.4-37.1h.9m-23.6 38.9h.9m15.8-43.3h.9m16.8 63h.9m-16.4-70.9h.9m-20 42.7h.9m19 .3h.9m-35.6 10.9h.9m41.4 23.5h.9m-43.9-36.1h.9m7.2 18.1h.9m24.5-5.8h.9m-68.6-41.3h.9m83.3 41.5h.9m-37.6 36.1h.9m16.7-80h.9m-25.7-6.5h.9m39.5 30.4h.9m-35-25.6h.9m31 58.4h.9m-4.4 3.7h.9m-50.6-33h.9m42.7 46.1h.9m-57.9-74.3h.9m76.7 57.2h.9m-72.7-6.3h.9m20.1-58.4h.9m39.2 77.7h.9m-73.2-29.2h.9m80.8-31.7h.9m8.8 0h.9m-10 34.4h.9m-26.6-39.9h.9m20 83.8h.9m-51.1-22.5h.9m38.6-61.1h.9m17.2 19h.9m-19.9 32.6h.9m8.6-26.9h.9m-13.4 13.8h.9m-28.9-6.7h.9m28.6 8.8h.9m-25.7-41.7h.9m-8.6 62.1h.9m65.4-21.1h.9m-95.6-14.6h.9m7.4 19.2h.9m36-13.2h.9m9-27.8h.9m10.8-3.7h.9m-9.5-7h.9m25.6 70.2h.9m-51.5-5.8h.9m46.7 1.8h.9m-10.6-2.7h.9m-25.2-3.7h.9m-47.4-37h.9m37.6 22.9h.9m-21.8-54h.9m73 76.3h.9m-48.9-69.2h.9m-20.8 42.7h.9m61.5-33.5h.9m-25.2 47.8h.9m-39.5-2.8h.9m16.7-.6h.9m18.1 7.9h.9m18.2 3.4h.9m7.3-61.9h.9m-73.7-5.2h.9m-4.6 81.2h.9m11.5-16.5h.9m19.9-55.7h.9m5.3-9h.9m22.1 60.7h.9m-13.4-55h.9m-15.3 65.4h.9m34.9 9h.9m-62.3-27h.9m2.9 19.8h.9m.6-8.4h.9m4.2-63.7h.9m-12.3 56.2h.9m39.7-60h.9m-8.2 40.7h.9m23.9 12.2h.9m-39.1 15.1h.9m37.2 12.6h.9m-41.4-68.5h.9m7.2 54h.9m-10.6 7.6h.9m32.4-56.6h.9m4.8 2.6h.9m-62.6 63.1h.9m44-19.4h.9m-68.7-41.1h.9m78.9 10h.9m-3.6-18.7h.9m2.4 30.2h.9m16.4-3.4h.9m-44.8 3.1h.9m7.4 16.6h.9m6.2-57.8h.9m26.3 18.3h.9m-49.8 42.5h.9m-1.7-1.6h.9m3.6-24.2h.9m21 4h.9m9.6-36.4h.9m-7.5 2h.9m-60.5-3.8h.9m41.6 59.8h.9m10-3.9h.9m-16.5 2.7h.9m11.7-58.9h.9m14.8 70.6h.9m-54.3-15.5h.9m15.4-51.4h.9m-19.1 32.4h.9m33.9 17.7h.9m6.1-34.1h.9m22.2 55.8h.9m-47.6-71.1h.9m30.9 74.8h.9m-33-35.5h.9m25.5 40.4h.9m-57.9-50h.9m18.6 27.3h.9m41.9-26.5h.9m1.4-7.1h.9m-83.5-9.2h.9m65.2-13.1h.9m-3.7 73.8h.9m6.3-71.4h.9m-39.2-12.5h.9m47.2 41.4h.9m-109.1-10.1h.9m68.5 34.1h.9m34.9 .4h.9m-4.2-31.6h.9m-8.2-20.4h.9m23.5 93.4h.9m-33.9-98.7h.9m14.2 55.3h.9m-5.9-2.1h.9m-18.3-56.6h.9m-31 70h.9m58.8-29.1h.9m12.3 43.8h.9m-47.8-34.8h.9m20.9-44.1h.9m-53.5 22.6h.9m81.5 46.6h.9m-22.4-3.7h.9m17.4-60.7h.9m-63.1-13.9h.9m59.5-.6h.9m-36 3.5h.9m-16.2 46.8h.9m-7.3 6h.9m57.8-39.5h.9m-7.3 44.7h.9m-56.8-11.6h.9m57.7-28.1h.9m-73.3 45h.9m34.2-5.2h.9m32.2-26.2h.9m-47.8-30.1h.9m47.2 17.5h.9m-74.2 12h.9m53.9 56.7h.9m-36-87.4h.9m40.7 70.8h.9m-57.9-16.4h.9m-9.9-35.4h.9m76.3 65.4h.9m4.5-11.5h.9m-10.3-75.3h.9m-8.7 42.6h.9m10.3 35.3h.9m-1.8-56.3h.9m-42.8 45.3h.9m29.5 6.4h.9m11.1-1.6h.9m-52.2-19.1h.9m29.3 7.2h.9m28.9 4h.9m-28.4-60.1h.9m-26.4 55.2h.9m1.7 15.7h.9m-40-48.2h.9m-7.4-16.8h.9m56.1 .1h.9m-33.5 55.5h.9m28.9-23.2h.9m3.8 14.4h.9m-9.5 4.8h.9m25.4 22.8h.9m5.2 8.7h.9m-44.8-55.1h.9m-9.5 2.5h.9m46.7-44.6h.9m-2.3 37.3h.9m-39-31.9h.9m28.8 63h.9m-57.7-36.2h.9m47.2-14.9h.9m21.9 5.4h.9m11.8 87.4h.9m-46.1-51h.9m12.4-49.7h.9m21.1 29.1h.9m.6-24.4h.9m-7.4 34.3h.9m-78.7-29.8h.9m85.5 45.8h.9m-50.7-4h.9m44.2-4.6h.9m-13.4-53.7h.9m-25 47.4h.9m41.7-31.1h.9m15.4 73.2h.9m-23.1-8.2h.9m-52.3-27.7h.9m17.4-3h.9m32.5 11.7h.9m-40.1 .7h.9m-29-28.9h.9m17.4 24h.9m41.3 5h.9m-71.2-52.1h.9m74 46h.9m-1.6 17.3h.9m.7-24.7h.9m-15 8.5h.9m-29.5 4.1h.9m46.5-17.5h.9m-13.3 29.7h.9m12.1 15.2h.9m-1.9-31h.9m-49.3-14.4h.9m-30.6-13.8h.9m58 22.9h.9m-40.3-52h.9m50.1 48.7h.9m7.5 6.1h.9m-82.9-24.2h.9m57.1 36.7h.9m10.3-60.7h.9m-39.7 3.6h.9m34.1 30.8h.9m-20.1 13h.9m-16.9-5h.9m38.1-18.7h.9m-60.2 35.8h.9m83 44.4h.9m-15.7-36.5h.9m19.3 1.6h.9m-27.5-7.6h.9m-15.2-7.8h.9m5.7-40.6h.9m-13.2 48.1h.9m-32.4-22h.9m38.2-36.5h.9m-60 19.4h.9m79.9 34.3h.9m-34.6-20.8h.9m-4.7-1.8h.9m44.1 68.6h.9m1.8-100.6h.9m-14.3 18.6h.9m-42.5 17.5h.9m40.1 38.4h.9m-26-14.7h.9m-41.3-4.3h.9m61.4 1h.9m-7.7-7.8h.9m-31.6-48h.9m-17.6 31.3h.9m43.3 14.1h.9m-41-9.9h.9m37.9-7.1h.9m35.2-34.4h.9m-108.7 40.5h.9m86.8-33.7h.9m-3.3 110.2h.9m-26.1-71.2h.9m20.5 27.4h.9m-53-23h.9m1.9 44.1h.9m66.4-35.6h.9m-67.6-12.6h.9m68.3 58.4h.9m-85.7-64.2h.9m4-40.8h.9m-11.7 8.9h.9m76.5 89.6h.9m-23.2-89.3h.9m-8.5 48.5h.9m-3.6-2.3h.9m-4.7 4.5h.9m-28.9-63h.9m29.3 45.5h.9m45.5-41.1h.9m-85.8 26.7h.9m81.1 38.4h.9m-82.4-30.3h.9m33.9-30.4h.9m17.9 63h.9m20.8-59h.9m-6.3 61.7h.9m-78.9-55.9h.9m72.8 60.7h.9m-40.5-30.1h.9m33.7-6.1h.9m-40.3-45.7h.9m60.7 70.5h.9m-23.8-46.3h.9m10.9 56.2h.9m-13.3-4.5h.9m-43.5-34.1h.9m-5.1 29h.9m12.8 9.1h.9m48.4-20.2h.9m3.8 71.7h.9m-59.1-66.2h.9m48.2 44.5h.9m-38.4-55.5h.9m38.4 10h.9m-23.4-45.5h.9m-33.7-13h.9m39.6 42.5h.9m-31.6-9h.9m35.2 24.4h.9m-41.1 10.1h.9m42.9-20.6h.9m10.4 31.9h.9m-77-26.1h.9m61.8 12.1h.9m-24.3 6h.9m-4-11.4h.9m34.5 58.2h.9m4.4-15.3h.9m-47.3-56.4h.9m-11.3-1.2h.9m31.4-30h.9m-9.9 53.2h.9m-41.8-65.6h.9m-6.3 26.1h.9m37.3-21h.9m27.8 72.3h.9m-38.5-35.1h.9m-29.9-23h.9m28.8-21.4h.9m31.9 61h.9m15.5-33.6h.9m-10.1 13.3h.9m5.3 52.8h.9m-14.8-62.8h.9m-22.8-32.6h.9m21 69.2h.9m-14.6-14.6h.9m-3.7 .1h.9m28.7-46.4h.9m-13.1 40.6h.9m-60.8-42.4h.9m39.4 49.1h.9m20.5 20h.9m-8.9 15.5h.9m8.7 1.2h.9m-10.6-42.8h.9m10.3-12h.9m-32.6 23.7h.9m-19.6-6.9h.9m19.2 1.6h.9m-46.6-31.4h.9m9 4.4h.9m43.5 31.3h.9m20 17h.9m11.2-57.1h.9m-78.4-12.1h.9m23.5 48.4h.9m-27.9-53.1h.9m65.3 21.3h.9m-54 21.9h.9m44.8 28.6h.9m-7.6-64.7h.9m-9.3 2.4h.9m22.9 64.4h.9m9.8 31.7h.9m-84.8-110.1h.9m39.9 43h.9m-29.4-42.4h.9m31.6 62h.9m-5.2-14.2h.9m41.7-5.7h.9m-21.3-28.1h.9m14 52.8h.9m-14.6 12.3h.9m-27.8-28.9h.9m44.7 31.6h.9m-15.5-32.1h.9m13.8 17.6h.9m-20.7-16.8h.9m-23.1 26h.9m14.6-67.3h.9m17.8 61.8h.9m-7.7-24.3h.9m-13.4 25.5h.9m-9.5-2.8h.9m37.2-57h.9m-9.7 50.4h.9m-41.9-55.9h.9m-36.2 5h.9m70.2 57.4h.9m7.7 2.8h.9m-13-34h.9m-40.5 3.6h.9m38.1 22.5h.9m-2.3-56.5h.9m33.4 60h.9m-64.9-12.6h.9m25.5-1h.9m-28.4-14.6h.9m45.2-28.5h.9m-54.4 65.7h.9m-.5-74h.9m25.5 6.8h.9m2.4 72.6h.9m39.9-70.6h.9m-29.1 18.3h.9m-43.9 7.6h.9m51.7 2.1h.9m-2.1 26.6h.9m-79.6-61.3h.9m92-8.8h.9m-68.6 37.1h.9m39 42.5h.9m-67-43.8h.9m-4.8-8h.9m11.1-13.1h.9m63.6-1h.9m1.2 29.3h.9m6.1 42.1h.9m-7.9-33h.9m-59.9-3.3h.9m45.6 20.7h.9m23.1-60.7h.9m-10 71h.9m1.3-25.2h.9m5.4 20.8h.9m-70.2-26.8h.9m23.6-10h.9m8.6 16.7h.9m4.7 5.3h.9m-45.7-12.2h.9m25.4-5.6h.9m-37.2-10.7h.9m75.6 69.8h.9m-1.8-95.5h.9m-1.9 22.5h.9m-72.6-11.1h.9m69.4-2.4h.9m-30.2 5h.9m28.1 17.5h.9m-9.3-31.3h.9m21 79.3h.9m-85.1-20.7h.9m34.4-12.3h.9m50.1 38.9h.9m-22.6-49.8h.9m-36.1 24.6h.9m-10.5-22h.9m61.8 23.2h.9m-13.9-46.7h.9m-31.7 43.2h.9m19.3 4.3h.9m10-58.2h.9m12.5 49.7h.9m-25.6 11.7h.9m-19.6 15.6h.9m25-41.1h.9m30.5-32.8h.9m-57.7 29.9h.9m21.3-13.7h.9m-19.8 44.3h.9m-25.7-16.2h.9m33.9 5.9h.9m23.8-34.6h.9m-73.5 14.4h.9m40.8-30.2h.9m-8.3 51.8h.9m12.3 31.1h.9m31.1-27.4h.9m-69.8-70.7h.9m68.7 9.6h.9m-8.1 23.9h.9m-30.1 22.1h.9m-33.4-9.9h.9m59.4 1.8h.9m-17.9-34.3h.9m-53.4 54.6h.9m49.2-13.4h.9m-2.8-40h.9m-19.9-6h.9m15.4 50.1h.9m-9.5 3.5h.9m18.2-33.3h.9m-32.9 15.9h.9m-33.2-17.8h.9m-8 18.4h.9m104.5-41.6h.9m-20 85.3h.9m-3.8 7.1h.9m17.8-75.6h.9m-27.5 29.7h.9m26.2-48h.9m-10.8 110.3h.9m-31.5-51.4h.9m22 10.2h.9m-94.7-57.2h.9m83.1 80.1h.9m-34.1-31.6h.9m46-44.4h.9m-4.3 5.5h.9m-39 36.6h.9m29.9-57.8h.9m-7.2 50.1h.9m-26.7 4.8h.9m30.5-22.3h.9m-35.4 38h.9m33.3-31h.9m-1.7-8.9h.9m9.1 53.5h.9m6.7-50h.9m12.4-25.8h.9m-60.7 52.1h.9m-6-11.3h.9m-5.7 15.7h.9m-44.6-31h.9m79.2-14.5h.9m-66-3.6h.9m3.5 .1h.9m41.5 35.4h.9m9 6.5h.9m1.6-5.6h.9m-59.5-22.9h.9m85.4-13.2h.9m-24.9 60.8h.9m-33 2.1h.9m16.6-10.7h.9m13.8-50.3h.9m-47.8 24h.9m.4-3h.9m58.5-21.9h.9m-14.2 17h.9m-.3-22.1h.9m14.7 37.2h.9m-79.2-41.4h.9m65 60.8h.9m-2 3.1h.9m1.8-15.1h.9m-1.1 8.4h.9m-11.7-47.6h.9m-55-2.3h.9m61.6 48.9h.9m-59.9-1.1h.9m66.1-52.8h.9m-42.1-4.6h.9m-5 35.3h.9m57.9 63.9h.9m-48.5-60.8h.9m-21.7 39.8h.9m55.4-1.5h.9m5.1-62.7h.9m-7.9 80.1h.9m-38.5-63.8h.9m49.7 51.5h.9m-72.5-43.1h.9m-14.9-4.4h.9m87.5 27.3h.9m-33.9-7.1h.9m-16.4-49.4h.9m33.1 44.4h.9m-1.6 33.1h.9m-65.5-46.4h.9m64.5 6.7h.9m-54.1-42.3h.9m-8 31.8h.9m57.3 36.5h.9m7.4 33.6h.9m4-5.9h.9m-15.7-57.9h.9m2.7 65.4h.9m-8.7-59.3h.9m6-32h.9m-62.5 15.5h.9m29.2 27.5h.9m-9.6-4.5h.9m32.2-56.5h.9m-40.1 49.5h.9m49.9-35.4h.9m1.3 75.5h.9m-12.2-40.9h.9m-41.9 .1h.9m-3.5 8.7h.9m-6.3-47.6h.9m44.4 60.1h.9m-8.2-18.5h.9m-44.2-3.9h.9m57.3 58.9h.9m17.2-31.5h.9m-34.7-21.8h.9m26.6 16.4h.9m-14.1-46.8h.9m-19.4 38.4h.9m3.1 16.5h.9m-8.5-29.4h.9m-37.4-41.2h.9m37.9 65.4h.9m27.5 18.4h.9m-10.4 21.1h.9m-5.7-52.3h.9m-52.1-4.8h.9m46.8 18.8h.9m17.6-42h.9m-46.5 17.1h.9m8.7 16.6h.9m22.6-68.7h.9m-3.4 18.8h.9m-26.2 36.2h.9m9.3 21.5h.9m20.1-.4h.9m-29.5-9.5h.9m45.9-36.4h.9m-54.7 23.2h.9m32.2-2.9h.9m-10.4 7.8h.9m-65.7-12.4h.9m33.8-45.7h.9m-19.4 7.2h.9m39.1 81.9h.9m-48.7-48.9h.9m23.8 13.3h.9m40.5-39.3h.9m-26.1 2.7h.9m36 42h.9m-.5 16.3h.9m-76-31.6h.9m37.5-26.7h.9m21 63.2h.9m-5-2.1h.9m-14.4 3.5h.9m-20.3-13.2h.9m-20.8-1.7h.9m41.3-3.8h.9m-5.3 2.1h.9m-28.6 4.9h.9m61.5 25.8h.9m5.5-83.3h.9m-31.4 5.4h.9m-51 21.8h.9m53.8 32.1h.9m-69.6-17.2h.9m86.1 13.9h.9m-19.5-66.4h.9m13 39.1h.9m-63 11.1h.9m63 41.2h.9m-14.1-2.8h.9m-46-34.3h.9m57.4 3.1h.9m-1.7 .1h.9m-9.5-41.2h.9m-70.3 22.2h.9m9-2.2h.9m29.5 15.8h.9m28.6-20.5h.9m-7.1 12h.9m23.9 31.4h.9m-80.5-65.4h.9m15.6 64.7h.9m50.2-9.1h.9m-20.9 17.9h.9m2.8 16.8h.9m-53.5-91.5h.9m56.6 84.5h.9m-2.4-23.6h.9m27.3-35.8h.9m-70.8-27.7h.9m57.2 62h.9m-9.7-33.7h.9m19.2-11.3h.9m-52 33.4h.9m-20.6-52h.9m-9.7 64.4h.9m51.5 9.3h.9m-45.5-22h.9m30.9 16.9h.9m24.2-61.8h.9m-9.1 67.8h.9m-8.3-8.9h.9m13.9-13.3h.9m-19 1.3h.9m13.2-31.6h.9m-11.6 71h.9m-23.6-44.3h.9m-18.4-7.7h.9m11.9 1.3h.9m25.9-38.7h.9m14.7 94.1h.9m-28.8-37.5h.9m41-33.6h.9m-78 12.7h.9m30.6 14.3h.9m-6.7-44.9h.9m-54.8 12.8h.9m33.7-17.9h.9m28.2 72.5h.9m-28.2-38.6h.9m-21.8-29.6h.9m73.5-6.6h.9m-5.9 8h.9m-1.9 10.6h.9m7.1-16.6h.9m-52.1 39.4h.9m10.9 16.5h.9m-.6 6.3h.9m23.2 44.3h.9m12.7-39.9h.9m-53.5-24.6h.9m39.8-29.9h.9m-66.8 54.7h.9m32.3-32h.9m-3.4 35h.9m-25.7-67.9h.9m79.8 97.9h.9m-28.4-54.7h.9m-46.4 1.9h.9m41.7 .5h.9m-20.5-52.2h.9m39.6 32.1h.9m1.1 42.3h.9m1.5 14.9h.9m-85.4-80.1h.9m26.6 56.7h.9m27.7-6.8h.9m33.7-27.7h.9m-23 20.9h.9m-10.8-47.1h.9m19.8 79.2h.9m-78.5-61.8h.9m78.1 27.5h.9m-35.3-43.3h.9m-24.1-.7h.9m33.4 73.4h.9m25.4-43.6h.9m-54.1 33h.9m70.8 2.3h.9m-68.2-67.2h.9m-1 50.5h.9m-5.4 12.4h.9m41 39.6h.9m-45.7-68.6h.9m51 35.4h.9m-48.5-33.1h.9m-8.3-3.6h.9m-22.2-21.7h.9m76.6 37.9h.9m5.2 17.7h.9m-7.2 40.1h.9m-54.5-103.4h.9m48.1 36.6h.9m-61.5-38.2h.9m18 55.7h.9m20.8-54.3h.9m22.3 10.1h.9m6.8 30.9h.9m-97.7-34h.9m92.8 64.2h.9m-1.7 24.6h.9m-76.1-106.9h.9m2.6 9h.9m64.7 67.9h.9m-32.9-17.2h.9m-37.5-64.5h.9m87.4 24.6h.9m-9.8 72.1h.9m-20-79.7h.9m11.8 73h.9m-17 1.9h.9m13.5 12.5h.9m22-13.2h.9m-30.8-65h.9m-15.6 47.9h.9m13.2-37.9h.9m1.9 61.6h.9m12.3-10.4h.9m-13-45.2h.9m-3.7-23.7h.9m10.9 25.2h.9m-6.1 .8h.9m-17.2 34.8h.9m-60.9-19.4h.9m65.1 18.9h.9m-49.5-6h.9m-5.6-17.3h.9m36.8 14.6h.9m-6.2-5.5h.9m-14.5-12.7h.9m33.6 22.4h.9m6.9-11.6h.9m-36.6 20h.9m56.2-70.9h.9m-61 4.4h.9m25.5 70.7h.9m2.5-66.8h.9m3.4 35.6h.9m3.6-29.1h.9m-60.3-21.9h.9m39.8 45.6h.9m-10.9 29.4h.9m6.4-76.2h.9m19.1 16.2h.9m-19.9 49.8h.9m6-15.4h.9m-26.2 15.8h.9m2.2 8.2h.9m2.3-19.2h.9m32.4-24.1h.9m-17.7-16.9h.9m-9.2 43.6h.9m28.7-39.6h.9m-44.8 49.6h.9m20.9-66.1h.9m6.1 17.2h.9m9.4 33h.9m-92.3-29.6h.9m27.1 18.2h.9m65 50.2h.9m-57.6-80.9h.9m44.8 60.2h.9m-14.6 .1h.9m-31.6 11.9h.9m56.2-76h.9m-12.1 22.2h.9m-51.6 34.3h.9m14.4-19.8h.9m-36.2-24.1h.9m89.4 39.8h.9m-37.3 2.1h.9m-27.1-7.8h.9m66.9-3.1h.9m-30.7-9.1h.9m14.7 45h.9m-40.5 3.5h.9m50-6.3h.9m2.7 47.1h.9m-23.4-72.6h.9m-39.5-46.3h.9m-26.3-6.6h.9m70.7 90h.9m-83.6-77.6h.9m59.9-2.5h.9m28.6 60.7h.9m-43.7 2.4h.9m36.1 28h.9m1.1-41.9h.9m-10.1 7.8h.9m-34.9-14.3h.9m25.5-34.2h.9m-27.4 40.1h.9m25.2-43.6h.9m7.7 23.9h.9m-73.5-17.9h.9m13.6 26.5h.9m18 9.1h.9m24.2-46.8h.9m3.7 15.8h.9m14.5 75.1h.9m-31-26.9h.9m32.3-28.4h.9m5.5 13.9h.9m-12 13.9h.9m-19.2-63.9h.9m-34.9 30.6h.9m41.9-13.3h.9m5.3 48.9h.9m-9 34.7h.9m-22.9-39.4h.9m36.9-7.3h.9m-16.4-6.5h.9m-26.5 17h.9m-33.4-70h.9m-2.7 9.7h.9m41.6-3.5h.9m10.7 56.7h.9m13-48.6h.9m2.6-4.6h.9m6.5 33.5h.9m-18.6 4.8h.9m-11.5 11.2h.9m-13.5-51.5h.9m-7.5 62.3h.9m7.1-23.5h.9m33.2-13.3h.9m-19.8 44.3h.9m3.8-71.2h.9m17.3 34.5h.9m-92.1-15.4h.9m26.1-22.4h.9m7.2 59.6h.9m-10.3-8.4h.9m77.3-22.7h.9m-72.2 42.3h.9m43-56.3h.9m19 58.1h.9m-22.2-68.6h.9m19.4 90.5h.9m-87.8-57.5h.9m69.1-16.6h.9m18.2-15.1h.9m-24.7 45.6h.9m-14.9-43.6h.9m-1 40.6h.9m14 61.1h.9m-45.5-110.4h.9m.2 47.7h.9m-3.3 31.2h.9m49.6-68.1h.9m6.2 50.5h.9m-6.2-46.9h.9m-24.4 52h.9m-3.7-16.1h.9m-42.1-19.4h.9m.2-30.2h.9m65.1 27.7h.9m6.1-32.1h.9m-42.5 56.5h.9m-6.9-47h.9m48.6 27.6h.9m-63.6-1.7h.9m27.4-26h.9m-1.8 43.3h.9m15.3 27.1h.9m-7.2-78.7h.9m.8 7.3h.9m11.1 77.8h.9m5.6-15.8h.9m-42.5-33.6h.9m45.2 1h.9m-19.1 24.2h.9m6.6 2.3h.9m15.7 5.2h.9m-32.3-50.9h.9m6.9 33.7h.9m3.3-6.2h.9m-8.8-37.4h.9m-29.4 31.6h.9m16.9 34.4h.9m42.6-12.1h.9m-88.8-27.4h.9m9.8 .6h.9m52.9-21h.9m-.4 13.5h.9m-22.4 37.2h.9m29.7 32.9h.9m-13.4-57.4h.9m2.3-24.7h.9m-61.5 25.6h.9m41.8 7.7h.9m30.6-31.4h.9m-3.9 83.6h.9m-34-92.1h.9m15.9 49.5h.9m-6.9-7.7h.9m-70.6-36.2h.9m86.8 45.2h.9m-58.3-13.3h.9m48.8 35h.9m-21.1-75.8h.9m-22.7 56.1h.9m-7.3-62.4h.9m47 42.1h.9m13.7-34.8h.9m-17.3 59.6h.9m.2-7.4h.9m-65.6-18.2h.9m50.7 9.2h.9m37.7 26.4h.9m-14.6-28.9h.9m-50.6 17.1h.9m45.8-13.4h.9m-7.4 48.7h.9m9.6-67.1h.9m-6.7-13.4h.9m-57.7 13.8h.9m42-24.6h.9m-18.6-5.6h.9m20 73.1h.9m-10.2-13.5h.9m-50.4-55.3h.9m68.1 72.6h.9m-33.6-8.2h.9m19.7-16.8h.9m23.5 47.9h.9m-1.3-5.2h.9m-21.2-75.8h.9m-4.7 64.6h.9m4.2-51.9h.9m-21.7 40.2h.9m32.4-8.5h.9m-14.7 12.6h.9m13.4-32.5h.9m-16.1 17h.9m-16.9-14.4h.9m-11.8 2.2h.9m-57.6-41.8h.9m32.6 24.6h.9m57.1 25h.9m-71.5-43.9h.9m73.4 13.1h.9m-37.9 23.6h.9m28 34.9h.9m.8-33.2h.9m-25.4 26.4h.9m31.5-69.9h.9m-8.7 54.4h.9m17.7-54h.9m-63.6-3.2h.9m26.2 47.9h.9m16.8 17.9h.9m.1 25.7h.9m3.9-83.5h.9m-49 49.7h.9m21.3-57.8h.9m16.4 77h.9m-56.6-48.5h.9m-7.6-24.6h.9m10.1 44.3h.9m55 18.1h.9m2.7-25.9h.9m-62.5-45.4h.9" stroke="#2f3fbf" stroke-width="0.9" fill="none"/>
<path d="M139.8 348.6h.9m-48.9 22.2h.9m13.9-1.3h.9m12.4-16.8h.9m-24.4-10.7h.9m45.5 30.6h.9m-.8-18.2h.9m-53.3 10.2h.9m-8.8-1.7h.9m-5.9-16.4h.9m74-3.2h.9m-12.1 9.3h.9m7.6 9.1h.9m-13.5-11.1h.9m7.1 3.2h.9m-38.2-10.7h.9m37.5 5.8h.9m-29 .9h.9m3.4-1.9h.9m5.3 41.5h.9m1.5-23.5h.9m1.5 5.8h.9m-9.2-23.5h.9m-23 21.6h.9m24.6 23.9h.9m6.1-41.6h.9m-5.9 18.8h.9m-44.8-5.8h.9m24.4-21.4h.9m14.8 36.9h.9m-26.8-38.7h.9m-22.4 13.4h.9m.3 6.1h.9m60-12.4h.9m-4.8 25.2h.9m-50.8-10.4h.9m55.8 0h.9m-38-21.3h.9m37.7-2.2h.9m-12 9.9h.9m5.3 34.4h.9m-19.8-16.3h.9m-17.7-.9h.9m35.2 5.8h.9m-31.1-4.1h.9m.8-22.5h.9m-21.1 23.2h.9m35.9 8.6h.9m12.5-24.3h.9m-53.4 13.8h.9m29.8 13.9h.9m-11.1-13.5h.9m27.3-16.9h.9m-18.5 33.6h.9m22.2-4.5h.9m-7.5-9.4h.9m-4.2-26.1h.9m-23.7 33.5h.9m29.2-27.9h.9m-13.8-4.3h.9m-3.1 2.3h.9m-9.1 26.9h.9m17-27.9h.9m-25.6 5.7h.9m2.9-5.1h.9m14.6-.6h.9m-1.3 37.6h.9m-15.6-12.3h.9m-30.5-9.1h.9m25.6 12.2h.9m-17.2-34.4h.9m-16.9 18h.9m.7-13.3h.9m40.2 3.1h.9m-29.3-9.6h.9m-9.5 4.8h.9m54.5 11.7h.9m-7.3 18.7h.9m2.7 6.3h.9m-21.1-7.3h.9m8.7-12.6h.9m6.3-.1h.9m-15.7 7.6h.9m-29.8-4.2h.9m48.6-4.4h.9m-6.6-10.1h.9m-2-1.3h.9m-34-5.4h.9m22.2 32.1h.9m-1.4 6.6h.9m-33.9-40h.9m41.4 31.4h.9m-42.1-2.8h.9m32.5 5h.9m-33.1-11.1h.9m43.5 13.8h.9m-31.6-8h.9m15.8 19.2h.9m13.1-12.2h.9m-20.5-28.7h.9m14.8 36h.9m-47.2-40.6h.9m4.4 19.6h.9m-9.5-18.2h.9m34.2 25h.9m19.7 2.5h.9m-.2-16.4h.9m-6.8-.7h.9m-10.1 19h.9m-3.7-3.3h.9m12.1-18.1h.9m-8.5 32.8h.9m-50.6-34.3h.9m55.2 18.9h.9m.8 8h.9m-13.2-28.6h.9m-41.9 15h.9m24.3-24.4h.9m24.8 7.8h.9m-18.8 34.5h.9m30.3-36.4h.9m-21.9 31.5h.9m18.2-26.3h.9m-6.8 1.8h.9m-36-9.3h.9m-27.1 7.5h.9m16 15.6h.9m-4.1-4.1h.9m17.8 3.7h.9m.7-21.7h.9m26.1 33.5h.9m-10.7 1.3h.9m-50-26.5h.9m29.5 18.6h.9m16.8-24.6h.9m-35.4-6.1h.9m34.8 30.6h.9m-37.8-35.4h.9m29.8 10.5h.9m14.3 3.5h.9m-4.4 5.9h.9m-49.7-17.4h.9m12.6 3.5h.9m28.6 20.1h.9m10.5-14.4h.9m-7.8 8.4h.9m12.3-3.9h.9m-68.2-3.2h.9m30.1 14.4h.9m-19 2.1h.9m-10.8-6.5h.9m50.4 12h.9m-25.5 3.5h.9m14.3-.6h.9m10.2 10h.9m-19.2-39.3h.9m23.3 7.7h.9m-27.3-4.3h.9m-20.4 17.6h.9m48.6-20.3h.9m-50.1 23.8h.9m21.7 5.8h.9m24.2-20.1h.9m-19 24h.9m-14.7-31.1h.9m5-6.3h.9m-5.3 24.9h.9m-11 .1h.9m7.1-1.1h.9m-22-22.7h.9m0-2.1h.9m43.9 23h.9m-8.8 10.7h.9m21.8 25h.9m-5.5-44.3h.9m-12.1-2.7h.9m-17.5-2.9h.9m6.5 14.5h.9m-9.3-19h.9m-36.1-.3h.9m34.7 34.4h.9m-14-36.9h.9m19.8 9.6h.9m-.7-3.2h.9m-21.5 20.2h.9m5.7-23.4h.9m34.2 49.7h.9m-13.7-26.7h.9m-12.1-17.3h.9m-22.5-11.2h.9m-10.7 25.5h.9m26.9-21.4h.9m28.6 23.3h.9m-28.9 17.3h.9m16.5-38.4h.9m-.2 1h.9m16.3 60.8h.9m-71.3-43.5h.9m41.4-12.2h.9m15.7-6.3h.9m-33.3 25h.9m14-24.2h.9m-10.3 1.8h.9m-37.8 4.6h.9m64 18.5h.9m-26.7 16.3h.9m17.6-13.4h.9m-45.4-6.1h.9m50.4-13.4h.9m-.6-.3h.9m-6.5 19.4h.9m-4.8 .9h.9m-16.3 .4h.9m1.4-8.3h.9m-42.9-7.8h.9m64.8-7.3h.9m-3.1-2.1h.9m-4 13.3h.9m-1.3 6.1h.9m-15 8.9h.9m-35.4-10.2h.9m20.5-.7h.9m-25.1-2.3h.9m48.4-15h.9m-58.4 11.6h.9m49.1 20.1h.9m4.5-18.1h.9m-48.4-22.7h.9m47.8 8.4h.9m-7.8 10.2h.9m-7.4 10.4h.9m14.7-23h.9m-30.6 20.4h.9m16.1-18.6h.9m-29.2 20.7h.9m-20.9-23.7h.9m65.3 20.6h.9m-40.9-22.3h.9m14.5-.3h.9m25.9 8h.9m-68.1 4.6h.9m47.5-7.7h.9m-14.8-3.2h.9m-20 23h.9m32.3 11.7h.9m-49.7-23h.9m13 6.3h.9m27.6 7.6h.9m-8.5-4.7h.9m-1.2 20h.9m11.4-19.9h.9m13 15.4h.9m-61.3-37.6h.9m66.3 4.9h.9m-22.9 .9h.9m14.9 25.4h.9m-57.1-31.6h.9m30.5 25.6h.9m11.6-17.7h.9m-49.9 1.5h.9m38.6 19.5h.9m-15.9-28.6h.9m21.4 36.6h.9m-43.2-37.5h.9m-5.5 19.3h.9m-3.1-6.5h.9m40 20.5h.9m7.2-29.9h.9m8 9.1h.9m10.3 16.9h.9m-5.1-10.3h.9m-13.7-5.8h.9m-15.9 9.2h.9m-37.5-17.2h.9m13.5 17.5h.9m32.3-23.3h.9m-15.6 2.9h.9m35 14.1h.9m-15.3 16.2h.9m-24.5-31.8h.9m25.3 3.8h.9m-30.3 25.2h.9m27.3-18.9h.9m-43.9-14.6h.9m25.3 49.5h.9m3-38.6h.9m12.2 36h.9m-24-16.1h.9m-25.7-27.6h.9m-3.4-.7h.9m-.5 18.5h.9m27.9-11.3h.9m-17-7.3h.9m46.1 12h.9m-28.2 20.7h.9m-39.8-19.8h.9m33.1 20h.9m20.2-27h.9m5.2 38.5h.9m-17-37.4h.9m14.5 19.3h.9m-58.6-26.7h.9m54.1 5.9h.9m.6 22.2h.9m10.5-11.1h.9m-63-18.3h.9m59.8 9.6h.9m-18.5-1.3h.9m-19.9 22.8h.9m21 6.3h.9m-29.1-37.7h.9m18.3 7.5h.9m-4.1 29.9h.9m-5.3 11.6h.9m-3-43.5h.9m9.6 30.5h.9m-28.9-10.4h.9m36.9-15.5h.9m-22-3.4h.9m-3.1 30.4h.9m15.7 3.6h.9m-19.8-12.2h.9m-21.7-4.7h.9m54.2-14.1h.9m-2.8 24.5h.9m-27.9-1.4h.9m12.8 15.4h.9m-7.8-41.8h.9m16.5 15.1h.9m-40.6-19.7h.9m-7.6 23.4h.9m21.1-22.1h.9m20.5 33.8h.9m-7.1 1.6h.9m5.2-13.6h.9m8.2-12.1h.9m-37 12.9h.9m11.9-9.6h.9m3.4-6h.9m-36.6 19.9h.9m-10.9-14.5h.9m46.3 24.6h.9m10.7-20h.9m-20.3 12.3h.9m-2.5 12.8h.9m5.7-18h.9m-11.1-23.2h.9m-7.5-1.2h.9m29.8 14.1h.9m-26.6-10.7h.9m-4.9-1.2h.9m22 28.8h.9m-4.4 10.1h.9m11.8-19.9h.9m-9.8-7.7h.9m9.2 9.8h.9m-13.2 14.3h.9m-3.5-8.1h.9m-13.8-26.7h.9m8.5 5.9h.9m3.4 26.6h.9m17.3-16.5h.9m-25.2-8.1h.9m21.5 15.5h.9m-4.3-15.8h.9m-36.5 7.8h.9m18.9-12.4h.9m-16.4 20.1h.9m9.2 20.3h.9m23.7-15.2h.9m-13.5-26.8h.9m15.8 13h.9m-20.1 19.6h.9m-46.9-33.4h.9m7.4 17.7h.9m19.6 6.9h.9m23.6-21h.9m-22.7 14.7h.9m-9.1-25.2h.9m-26.1 19.6h.9m36.4 7h.9m-38-8.2h.9m50.2-6.4h.9m3.6 25.8h.9m-12.9 5.3h.9m9.2-4.5h.9m3.6-16.1h.9m-57-5.4h.9m49.5-2.7h.9m-8.5-3.7h.9m-7.9 40.5h.9m-9.7-44.8h.9m27.9 11h.9m-18.6-8.2h.9m5.6 19.4h.9m17.7 8.4h.9m-12.2 16.3h.9m-18.9-46.8h.9m3.4 38.3h.9m3.2-35.6h.9m-47.8-.5h.9m40 17.9h.9m11-15.1h.9m-21.7 32.5h.9m21.5-6.2h.9m-13.4-25.9h.9m-39.7 7.3h.9m31.5-14.7h.9m21.6 .4h.9m-5 35.8h.9m-30.7-13.2h.9m-13.3-26.9h.9m14.8 2.2h.9m43.9 6.9h.9m-18.4 31.6h.9m-3-8.5h.9m.3 15h.9m-44.1-24.9h.9m53.2 .3h.9m4.2 .7h.9m-70-5.7h.9m29.6 12.6h.9m-27.4-26.7h.9m20.3 25.9h.9m11.6 1.2h.9m24.4-21.4h.9m-12.1 4.3h.9m-32.7-13.5h.9m41.6 20.8h.9m-35.8-16h.9m18.9 39.6h.9m8.8-6.1h.9m-13.8-6.5h.9m8.4 20h.9m8-18.1h.9m-63.4-19.2h.9m61.1 12.6h.9m-12.3 16.9h.9m5.2-14h.9m-19.9-5.2h.9m29.5-1.6h.9m-25.2 10.1h.9m-14.8 13.3h.9m33.2-29.1h.9m-11.8-5.7h.9m3.6 38.5h.9m-1.8-14.8h.9m8.8-18h.9m-12.2 21.4h.9m-10-3h.9m-25.9-37.1h.9m-3.5 .4h.9m1.2 25.6h.9m11.4 3.3h.9m-21.4-1.4h.9m15.8 .1h.9m-22.9-23.8h.9m34.4 28.9h.9m23.6-19.1h.9m-48.6 12.6h.9m29.2-11.3h.9m15.2 15.8h.9m-17.3-15.5h.9m4.6 36.1h.9m-12.1-11.9h.9m-6.9-2.4h.9m-1.6-7.9h.9m-21.9-28.7h.9m50.9 33.4h.9m-58.4-29.1h.9m33.8 36.9h.9m-39.9-17.9h.9m67.2-12.4h.9m-26.6 25.8h.9m19-8.7h.9m-53.3-.2h.9m-.1-.9h.9m24.5 7.5h.9m-25.5-7.4h.9m25.3 3.8h.9m-3.5 5.2h.9m11.8-28.4h.9m-14.7-2.1h.9m22 20.8h.9m-2-14h.9m-8.2 .3h.9m-31.8 12.7h.9m37.6-13.3h.9m-54.9-6.7h.9m55.6-.5h.9m-32.6-1.6h.9m27.4 15.1h.9m-31.9 12.2h.9m36-12.9h.9m-16.3-9.3h.9m-45.1-7.1h.9m54.1 40h.9m-43.2-40.2h.9m5.9 27.9h.9m-16-.3h.9m35.3 5h.9m-5.6 6.8h.9m-27.8-10.4h.9m50.2 15.1h.9m-25.9-6.3h.9m10.6-30h.9m-3.1 18.4h.9m-12.5-19.3h.9m-6.6-.3h.9m1.3 21.9h.9m-29.5-24.9h.9m52.5 18.4h.9m-21.2 6.7h.9m5.9-21.3h.9m10.8 23.1h.9m-46.7-8.9h.9m49.6-3.1h.9m-4.3-5.1h.9m-25-8.6h.9m29.3 14.5h.9m-6.9 11.9h.9m4.1-17.6h.9m-14.8-4h.9m-15.5-5.9h.9m10.9 40.5h.9m2.4-43.7h.9m-16.1 8h.9m-26.8-8.8h.9m33.8 33.8h.9m9.7-.1h.9m4-25.2h.9m-14.4 30.8h.9m-44.5-33.3h.9m-2.3 16.3h.9m42.7 24.9h.9m-1 5.7h.9m9.6-25.4h.9m-6.8 11.1h.9m-27.4-38.2h.9m-11.1 25.3h.9m37.6 11.8h.9m-1.5 9.7h.9m13.5-37.1h.9m-69.5 5.7h.9m42.8 27.5h.9m-14-12.7h.9m18.4 10.3h.9m13.6-15.4h.9m-21.1-20.7h.9m-15.4-.2h.9m-29.6 0h.9m59.7 23.9h.9m-19.9-22h.9m1.6 25.4h.9m17.1-20.1h.9m-44.6-11.8h.9m11.7 2.7h.9m-26.9 7.7h.9m55.1 13.6h.9m-42.6 3.9h.9m14-18.7h.9m14.6-3.5h.9m-27.4-2.7h.9m37.6 28.8h.9m-1.2-23.1h.9m-32.3 18.9h.9m-17.8-28.6h.9m17.4 21.7h.9m10.5 12.8h.9m-1.8-28.6h.9m-9.3 1.1h.9m1.1-.8h.9m8.2 28.3h.9m-12.2-33.2h.9m-19.5 .1h.9m50.3 23.2h.9m-16.1-12.7h.9m15.9 26.4h.9m-18-3.1h.9m2.4 8.3h.9m3.2-3.7h.9m-11.7 3.1h.9m-6.5 14h.9m-30.2-53.3h.9m50.8 13.6h.9m-10 17.2h.9m-7.5-8.4h.9m7.8 15.4h.9m-24.7-14h.9m-17-28.1h.9m3.5 28.2h.9m20.6 20h.9m14.6-31.9h.9m13.8 .9h.9m-16.3 20.7h.9m-37.9-7.7h.9m33.3-17.4h.9m-.6 17.7h.9m5.1 4.2h.9m.2-3.8h.9m-10.2 8.2h.9m-48.9-18.4h.9m54.3-8.5h.9m-33.1-4.6h.9m40.2 11.9h.9m-5.5 20.6h.9m-35.5-32.9h.9m26.7 24.8h.9m-15.6 8.2h.9m-18.6-37.1h.9m37.7 8.2h.9m-26.7 28.1h.9m5.3-34.1h.9m23.3 27h.9m-57.7-30h.9m50.8 24.9h.9m-25.5 5.7h.9m22.9 1.2h.9m-26-25.9h.9m25 .3h.9m-55.8 15.2h.9m56.8-7.5h.9m-1 20.7h.9m-64.6-16.6h.9m68.6-8h.9m-13.8 5h.9m.8 16.5h.9m-16.2 7.4h.9m15.6-4.9h.9m-57.5-28.8h.9m40 1.8h.9m12 21.6h.9m-18.6 6.1h.9m-5.3 7.3h.9m16.6-10.8h.9m-1.2-21.2h.9m-27.3-6.2h.9m34.9 7.4h.9m-7.1-3.7h.9m-48.9-11.1h.9m10.2 29.9h.9m28.8-17h.9m-.5-2h.9m-13.2-1.8h.9m22.2 10.7h.9m-28.9-11.9h.9m10.4 46.4h.9m17.9-26.6h.9m-14.8 20.4h.9m-11-14.2h.9m-34-12.3h.9m38.8 24h.9m12.5-6.3h.9m17.3 22.7h.9m-19.9-22.2h.9m5-11.5h.9m-1.5 .4h.9m11.6 39h.9m-75.2-44.7h.9m51.3-6.5h.9m-3.1-5.8h.9m6.7 11.3h.9m-4.7 16.4h.9m-53.3-16.5h.9m57.1-2.9h.9m3.8 7.7h.9m-22.5-14.1h.9m-41 .9h.9m45 22.2h.9m-3.2 .3h.9m16-25.2h.9m-15.6 39.8h.9m3.6-9h.9m1.4-29.2h.9m-15.9 19.3h.9m-25.2-3.7h.9m-17.6-20.4h.9m53 30.3h.9m-19.4-2.7h.9m4.8-26.3h.9m-3 4.2h.9m-9.6-4.6h.9m31 17.3h.9m-27.5 1.2h.9m-5.3 7.4h.9m32-30.3h.9m-5.7 8.9h.9m-21.7 38.1h.9m-37.6-31.7h.9m54.3 8.8h.9m-57.4-17.2h.9m34.3 46.6h.9m11.7-18.9h.9m16.8-29.4h.9m-45.7-5.7h.9m24 8.4h.9m9.6 24.1h.9m.5 .4h.9m8.7-17.4h.9m-33.9 21.2h.9m.9-31.3h.9m22.7 6.8h.9m.2 7.1h.9m-12.2-15h.9m-25 23h.9m31.4 2.3h.9m-13.9 4.3h.9m-6.7-1.7h.9m13.1-24.9h.9m-4.3 31.7h.9m-53.6-28.2h.9m36.4 15.4h.9m14.3-22.5h.9m-16.4-1.2h.9m-36.4 9h.9m63 6.3h.9m6.7-2.9h.9m-54.6-17.1h.9m45 26.3h.9m-18.9 3.9h.9m-4.6-.7h.9m22.6-5.1h.9m-54.5-22.9h.9m-9.4 15.8h.9m60.7-7.5h.9m.2 12.7h.9m-23.6-15.8h.9m-26.8-7.4h.9m39.4 31.9h.9m-2.3-17.3h.9m2.4 15.1h.9m-24.3-22.8h.9m15.8 30.6h.9m-13.6-27h.9m-2 1.4h.9m-1.1 53.5h.9m28.2-26.7h.9m-27.9-3.1h.9m10.5 10.6h.9m12.7-22.8h.9m-58.7 3.8h.9m-10.3-14.3h.9m38.6 14.2h.9m9.3 24.2h.9m17.7-29.5h.9m-42.7 11.7h.9m23.4-23.7h.9m-2.9 18.9h.9m-10.6 3.9h.9m30.8-6.2h.9m-12.5-14.3h.9m-53 10h.9m23.4-15.2h.9m7.8 18.9h.9m25.9-6.8h.9m-.8 16.5h.9m-25.8-22.9h.9m6.3 15.4h.9m9.1 2.4h.9m-46.3-26.7h.9m16.4 24.9h.9m21.6-15.2h.9m12.9 23.5h.9m-20.3 3.7h.9m-21.2-36.6h.9m19.4 46.8h.9m-17-43.1h.9m-14.4-5h.9m3.2 30.7h.9m22 1.2h.9m22.1-16.3h.9m-17-8.3h.9m-4.9 2.1h.9m14.9 12.8h.9m-58.3-12.9h.9m50.4 4.6h.9m-1.5 23h.9m-13.5-31.2h.9m13.1 30.6h.9m-12.5-3.3h.9m-38.8-8.2h.9m59.7 6.7h.9m-34.7-6.9h.9m27.9-8.2h.9m-53.4-17.1h.9m36.6 7.6h.9m-3.6-.4h.9m14.5 10.8h.9m-58.4-14.7h.9m22.2 27.8h.9m17-.2h.9m5.2 10.7h.9m8.6-4.8h.9m.4-24h.9m-18.3 24.7h.9m14.5-8.8h.9m-9.3-19.3h.9m-29-8.3h.9m10 27.1h.9m-29.7-25.4h.9m59.5 18.7h.9m-65.9-11.6h.9m72.3 39.5h.9m-51.6-19.7h.9m17.1 20.2h.9m-5.7-17.3h.9m21.1 2.6h.9m-45.8-10.6h.9m40.3 16.5h.9m-6.1 2.9h.9m-8.7 8.7h.9m10.3-39h.9m-46.5-12.5h.9m46.5 34.3h.9m-21.6-9.4h.9m12.5-15.2h.9m5.4-2.2h.9m-26.1 15.5h.9m23.5-14.8h.9m8.6 13.6h.9m-21 12h.9m15.2 14.8h.9m-8.5-40.5h.9m-1.4 27.2h.9m11.6-28.4h.9m3.7-1.4h.9m-66.2 14.4h.9m10.9 5.9h.9m11.7 1.6h.9m-.1-1.4h.9m33.1 10.8h.9m-8.9-5.5h.9m-41.6-8.3h.9m-8.7-6.5h.9m29.2-14.3h.9m22.2 20.4h.9m3.1-13.4h.9m-33 24.4h.9m23.8-20.2h.9m-46.1 10.3h.9m34.9-16.7h.9m23.1 32h.9m-5.8-6.3h.9m-41.7-4.3h.9m21.9-22h.9m12.9 1.9h.9m-38.1 18.8h.9m15.6-6.7h.9m.4-14.6h.9m11.8 34.2h.9m-53-33.9h.9m62.6 16.5h.9m-38.7-21.2h.9m-19.6 .1h.9m-3.4 2h.9m58.4 17.8h.9m-5.1-11.7h.9m3.5 2.1h.9m-36.9-7.5h.9m9.4 .7h.9m23.6 37.2h.9m-31.3-19.2h.9m31.3 22h.9m-52.6-44.1h.9m20.2 33.7h.9m10.4 4.6h.9m-11.9 5.4h.9m-10.6-15.6h.9m5.2-24.4h.9m7 22.9h.9m19.9-9.8h.9m-28.5-18h.9m-5.8 36.8h.9m44.5 33.2h.9m-4.1-3.2h.9m-5.3-51.6h.9m5.9 48.6h.9m-44.9-35.3h.9m-10.9-27.6h.9m-5.6-3.2h.9m-3 3.8h.9m-7.2-.5h.9m19.4-.3h.9m4.6 47.9h.9m-9.7-49.6h.9m-19.8 6.4h.9m25.6 15.7h.9m31.2 11h.9m-15.8-.5h.9m16-3.4h.9m-38.7-27.5h.9m14.1 5.3h.9m19.9 29.4h.9m-.3 2.9h.9m-32.1-11.9h.9m30.3-14.8h.9m-60.5 5h.9m20.1 12.4h.9m5-26.6h.9m11.6 20.4h.9m-18.4-21h.9m-17.6 21.1h.9m42.4 19.4h.9m-8.9-35.4h.9m-19.1 20.2h.9m16.9 23.5h.9m16.6-36.2h.9m-31.2 10.9h.9m11.2 4.9h.9m-39.9-25.6h.9m47.8 25.9h.9m-4.7 10h.9m-2.9 4.3h.9m14.2-34.6h.9m1.3-7.8h.9m-8.2 43h.9m-21.5-38.2h.9m.2 1.6h.9m25.5 7.4h.9m-63.4-9.3h.9m48.3 27.5h.9m-28.8-29.8h.9m12.8 22.4h.9m13.3-16.9h.9m-10.8 17.8h.9m27.9-4.9h.9m-29.4 28.8h.9m-15.1-24.2h.9m26.2-21.6h.9m1 32.7h.9m-19.5-8.1h.9m1.6-1.9h.9m12.9-15.9h.9m8.3 21.2h.9m-29.6-27.9h.9m12.1 33.4h.9m10.9-27.4h.9m6.6 23.3h.9m-42.7-34h.9m30.6 44.7h.9m8.1-17.8h.9m5.2-19.1h.9m-27.8-2.4h.9m-1.1 24.6h.9m23.4-4.5h.9m-2.4-21.1h.9m-19.6 29.9h.9m-25.3-36.9h.9m-18.7 5.9h.9m36.6 36.2h.9m-34.4-39.7h.9m29.2 26.8h.9m14.2 7.1h.9m-27.3-32.8h.9m-23 16.2h.9m16.8 7.3h.9m-5.4 2.9h.9m39.3-3.2h.9m-55.5-4.6h.9m53.2 6.4h.9m-6.8 18.1h.9m-40.9-21.7h.9m45.6-8.1h.9m1.7-6.2h.9m-42.9 18.9h.9m39.5-.4h.9m-6.1-20.4h.9m-13.3 33.7h.9m-19-14.7h.9m30 12.6h.9m8.5-16.2h.9m-60.6-3.6h.9m18.7-16.3h.9m29.5 8.7h.9m-55 4.5h.9m44.2-11h.9m23.6 16.7h.9m-67.1-5.8h.9m58 13.2h.9m-3.9 1.4h.9m-7.5 3.7h.9m7-14.6h.9m-12.8 14h.9m-8.3-3.4h.9m17-10.3h.9m-27.5 9.1h.9m14.1-19.3h.9m-30.6-7.2h.9m35.5 38h.9m12.4-24.6h.9m-8 10.1h.9m-11.4 12.1h.9m13.5-21.5h.9m-29 28.4h.9m-20.3-47.4h.9m23.5 9.2h.9m-39.3 13h.9m19.6-18.8h.9m36.4 22.4h.9m-57.8-2.9h.9m13 4.2h.9m19.4 9h.9m16-26.8h.9m-52.6-.4h.9m37.2 35.5h.9m19.5-13.9h.9m-53.4-23.7h.9m37.5 28.3h.9m23.8 33.8h.9m-20.7-34.8h.9m2-20.6h.9m-26.3 21.6h.9m-4.8-33h.9" stroke="#3aa0e0" stroke-width="0.9" fill="none"/>
<path d="M111.3 361.1h.9m6.6 2.7h.9m-26.9-3.1h.9m33.3-5.5h.9m8.4 10.4h.9m-4.3-8.5h.9m-21.7-2.9h.9m-18.6-9.2h.9m33.6 14.1h.9m3.8-1.9h.9m-12.6 .9h.9m-1.7-2.7h.9m-36.2-5.2h.9m32.3 10.3h.9m6.1-.6h.9m-12 6.6h.9m10 9.7h.9m-42.4-16.7h.9m52.4 7h.9m-22.8 4.9h.9m16.3-19.1h.9m-3.5-.4h.9m-8.9 3.8h.9m-36.5-9.4h.9m-1.4 10h.9m17.5 11.3h.9m37.5 6.1h.9m-45-32.9h.9m0 3.7h.9m28.5 43.7h.9m-42.6-44.5h.9m-2.7 13.9h.9m32.7-1.2h.9m7.6 3.9h.9m.7 13.4h.9m-25.2-8.6h.9m29.5-2.2h.9m7-6.4h.9m-54 6.6h.9m36.7-12.8h.9m.7 14.6h.9m-37.6-23.7h.9m16.2 5.5h.9m5.5 22.8h.9m-33.9-12.4h.9m54.8 .9h.9m-9.4 20.7h.9m-2-14.8h.9m-14 .2h.9m-2.3-15.1h.9m7.1 17.5h.9m-12.5-5.1h.9m22.1 8.1h.9m-2-14h.9m-9.7 11.7h.9m13.4-8.9h.9m-4.4 8.5h.9m-15.5-14.2h.9m9.4 20h.9m-17.6-12.9h.9m13.5-4.7h.9m-10.5-.7h.9m9.3 8.7h.9m-43.3 1.2h.9m42.7-9.7h.9m-42.3 9.1h.9m11.5-3.1h.9m-14.6-13.2h.9m23.4 22.8h.9m17.8 11.2h.9m-29-36.2h.9m7.4 15h.9m7.3-2.8h.9m-29.3 5.7h.9m30.3-11.5h.9m-20.2 13.5h.9m-1.6-17.3h.9m0-1.6h.9m-12.1-1.5h.9m34.8 10.5h.9m-42.4-6.1h.9m47.8 16.1h.9m-6.4-9h.9m-34.3 8h.9m36.6-3.1h.9m-12.4 2.9h.9m9.5 7.5h.9m-2.2-14.8h.9m-15.4 9h.9m9.5 5h.9m-6.8-13.7h.9m11.8-1.8h.9m-16.9 10.5h.9m10.2-13.1h.9m7.9 2.2h.9m-47.9-11.1h.9m22.1 14.4h.9m21.4 2.8h.9m-2.1 10.5h.9m-5.5-10.8h.9m-3.4-15.3h.9m-11.1 7.4h.9m8.8 30.3h.9m-4.4-15h.9m-34.4-21.3h.9m23.6 21.4h.9m18.1-6h.9m-28.7-2.1h.9m-3.3 8.6h.9m11.9-6.9h.9m15.9 14.5h.9m-52.4-27.4h.9m28.9 .5h.9m12 18.7h.9m5.9 0h.9m-5.6-1.5h.9m2-.4h.9m-32.4-19.9h.9m1.1-2h.9m-13.2 2.9h.9m47.1 15.1h.9m-47.3-12.3h.9m49.6-1.8h.9m-41.5 18.1h.9m-4-21h.9m36.1 24.7h.9m-17.3-19.1h.9m16.5 9.2h.9m9.9 8.2h.9m-60.3-19.8h.9m40.5 17.6h.9m3.5-5.1h.9m-7.9-6.3h.9m-37.8-9.5h.9m36.3 9.7h.9m-11.6-6.2h.9m-16.8 16.1h.9m37.6 2h.9m-35.5 2.9h.9m17.3-3.4h.9m-37.5-18.3h.9m57.4 17.7h.9m-51.2-1.3h.9m32.7 9.3h.9m7.8-16.3h.9m-13.6 20.1h.9m-29-13.8h.9m34.5 1.4h.9m-16.5-14.9h.9m-8.1-2.1h.9m8.4 6.5h.9m-12.7 11.1h.9m24.9 4.2h.9m-33.8-25.5h.9m32 20h.9m-45.9-15.3h.9m51.1 20.4h.9m-2.1-12.5h.9m-22.9-10.8h.9m18 9.6h.9m-32.3-10.9h.9m14.7 5.2h.9m-10.9 9.8h.9m-13.3 6.2h.9m43.5-11.2h.9m-36.8 7.4h.9m25.4-9h.9m-14.1 3.3h.9m-14.2 7.8h.9m36.2-5.5h.9m-28.1-4.5h.9m28.8 14.9h.9m-8.9 13.6h.9m-5.2-22.4h.9m2.9 2.5h.9m-5.9 8.1h.9m-25.2-24.6h.9m6.4 13h.9m2.9-8.8h.9m-3.1 9h.9m13.5 1.1h.9m-12.9-5.5h.9m-8.7 13.4h.9m16.7-7.2h.9m-10.3 7.9h.9m21.9-8.1h.9m-22.1 7.5h.9m1.3-18h.9m14.6 10.1h.9m-28.2 5.1h.9m17.6 5.1h.9m6.6-.2h.9m-46.5-6.3h.9m-.6-3.1h.9m-4.1-13.1h.9m34.1 8.6h.9m12.2 1.6h.9m-18.1-2.3h.9m17.9 14.3h.9m-30.1-8.8h.9m28.7 6.1h.9m-47.6-18.2h.9m46.6 27.7h.9m-9.5-5.2h.9m15.3-12.6h.9m-5.8 2.6h.9m-39.1 2.8h.9m18.8 2.9h.9m21.7-5.5h.9m-17.3 18.6h.9m-2.4-25.4h.9m-22.6-10.1h.9m3.9 5.5h.9m6.9 11.6h.9m18.9-.1h.9m-34.3 1.6h.9m-12.2-17.3h.9m10.6-1h.9m22.9 6.9h.9m-24.6-8.4h.9m10.1 8.3h.9m-27.4 11.5h.9m10.8 6.6h.9m30.6-4.1h.9m6.4-15.3h.9m-3.3 9.7h.9m-15.4-5.8h.9m6.6 .9h.9m-17.8-7.5h.9m17.1 12.8h.9m-22.7-.5h.9m28.2-4.3h.9m-4.5 26.2h.9m-36.2-19.1h.9m-9.8-1.6h.9m12.6 1.9h.9m30.4-2.6h.9m-31.4-13h.9m-13.2 1.8h.9m46.8 11.7h.9m-52.6-11.6h.9m34.7 10h.9m-3.7 1h.9m-15.9 3.4h.9m31-11.7h.9m-6.3 20.1h.9m-29.6-26.5h.9m29.5 12.9h.9m-3.1-7.4h.9m8.2 7.2h.9m-11.9 14.8h.9m-7.9-4.1h.9m3.8-12.3h.9m-8.3 9.2h.9m1.4-15h.9m-18.9 17.2h.9m12.8-5.7h.9m-29.4 1.6h.9m48.7 5.4h.9m-31.9-25.4h.9m15.7 29.4h.9m-.5-2.9h.9m-.3-15.4h.9m-20.5-10h.9m14.3 21.2h.9m-34.6-14.4h.9m30.7 20.2h.9m11.6-7.3h.9m-41.8-23h.9m-2.4 6.9h.9m21.3 1h.9m-13.4 15.8h.9m14.1-4h.9m-4.4-10.2h.9m21.3 .5h.9m-24.6-6.3h.9m7.6 23h.9m-9.6-17.9h.9m35.3 .2h.9m-44.4 10h.9m25.7 6.3h.9m-5.5 .2h.9m5.8 .5h.9m-43.2-11.6h.9m48 7.8h.9m-28-5h.9m-16.5-13.5h.9m41.6 7.6h.9m-43.6 7.8h.9m19.3 9.6h.9m2.3-21.4h.9m-3-.3h.9m.9 15.7h.9m1.1-10.4h.9m2.3 17h.9m-1.2-10.9h.9m-.6 8.8h.9m-.6-12.6h.9m9.3-2.9h.9m-49.3-7.3h.9m45.6 20.3h.9m-7.9-13.1h.9m14.5 18.5h.9m-34.3-26h.9m38.4 14h.9m2-3.9h.9m-32.4-8.5h.9m-3.7 16.9h.9m-.6 1.2h.9m24.9 8h.9m-23.4-22.8h.9m4.5 9h.9m-5 8.5h.9m-31.6-11.2h.9m24.1-2.8h.9m-20.5 9.1h.9m6.6-18h.9m31.2 27.6h.9m-2.4-9.5h.9m-10.3 3.7h.9m-24.6-28.2h.9m-.6 23.6h.9m41.9 6.7h.9m-.9-9.8h.9m-26.5-11.5h.9m17.6 8.3h.9m-45 8.1h.9m42-10.8h.9m-28.4 10.2h.9m19.5-9.7h.9m-33.7-12.4h.9m34.1 21.1h.9m-18.1-4.9h.9m-.9 7.7h.9m10.2 0h.9m-33.4-6.9h.9m42.3 6.6h.9m-49.5-11.1h.9m55.8 17.7h.9m-23.1-23.2h.9m8 5.3h.9m-7.6-4.4h.9m-27.5-5.3h.9m14.3 20.6h.9m26.6-3.7h.9m-2.4 5.4h.9m-48.2-19.1h.9m-3.2 3.4h.9m40.9 15.1h.9m9.9-2.4h.9m-30.6-13.5h.9m20.9 16h.9m-14.8-5.1h.9m10.8 5.7h.9m2.6-6.9h.9m-24-11.9h.9m-3.4 15.3h.9m-10.6-.4h.9m-12.1-8h.9m33.5 14.8h.9m-7.3-8.8h.9m-10.5 .5h.9m21.5 11.7h.9m-42.1-21.4h.9m37.8 6.9h.9m-34.2 3.5h.9m44.5 4.5h.9m4.8-8.8h.9m-31.8 8h.9m-24.1-14.2h.9m28-8.5h.9m22.1 26.6h.9m-39.2-6.6h.9m34.8 7.7h.9m-2-1.4h.9m-49.6-7.9h.9m47.5-4.6h.9m-34.1-13h.9m-2.1-.2h.9m5.5 2.2h.9m28.1 16.3h.9m3 10.8h.9m-19.1-5.7h.9m-34.2-3.8h.9m26.2-5.6h.9m.8-7h.9m17.6 6.9h.9m-7.4 4.3h.9m-36.7-17.8h.9m37.7 8.4h.9m-7.5 21h.9m6.2 .8h.9m-14.6-20.5h.9m9 24.8h.9m-29.8-13h.9m24.7-11.9h.9m-23.8-10.5h.9m34.6 38.7h.9m-20.9-33.1h.9m15.3 26.6h.9m-42.1-11.3h.9m6.1-.5h.9m10.6-15h.9m17 17.4h.9m-18.1-19.7h.9m15.3 14.2h.9m-16.7 3.8h.9m-30.3-13.6h.9m52.5 18.4h.9m-15.2-7.8h.9m6.2 4.2h.9m2.7-8.3h.9m-10.2-6.5h.9m-37.3 9.9h.9m21.6 4.5h.9m6.8-16.9h.9m-32.9 2.6h.9m40.9 4.1h.9m-33.7-10.7h.9m-5.8 15.1h.9m42.7-6.5h.9m-38.2-10.2h.9m-11.9 15.4h.9m58.7 5.1h.9m-41.5 1.5h.9m20.9-9.5h.9m-17.8-8.8h.9m15.9 2.7h.9m-39.3-.8h.9m28.6 15.4h.9m16.5-15.7h.9m-41.8 13.6h.9m19.2 5.9h.9m23.6 1.3h.9m-28-3.2h.9m27.3 7.1h.9m-11.6-7.8h.9m1.2-2.5h.9m-.9 9.9h.9m6.4-17.5h.9m-44.1 6.7h.9m-7.5-14.1h.9m44.8 10.5h.9m-17.7 2.3h.9m-23.1-17.7h.9m-3.2 .4h.9m16.9 4.8h.9m-13.4 16.3h.9m-13.1-10.5h.9m34.9 11.7h.9m-35.8-9h.9m4 3.2h.9m39.7-7h.9m-25.9-5.7h.9m17.7 9.7h.9m-39.5 2.3h.9m2.2-5.7h.9m45.6 11.7h.9m-26.2-1.2h.9m3.2 0h.9m-11.6-21.1h.9m25.1 9.2h.9m-39.9 7.9h.9m38.7-1.6h.9m4.7 9.1h.9m-21.9 1.6h.9m1.5-9.5h.9m15.7 11.9h.9m-24.6-14.4h.9m-2.6-4.7h.9m-2.5-7.6h.9m23.9 27.3h.9m-17.2-13.7h.9m-11.8-13.6h.9m18 15.3h.9m3.3 13.9h.9m-6.8-10.1h.9m7.8-8.8h.9m-31.3 15.3h.9m-17.3-17.3h.9m26.5 12.4h.9m27.2-5.4h.9m1-10.3h.9m-26.7 17.2h.9m-4.7-9.2h.9m5.5-3.4h.9m11.7 7.9h.9m-13.9 2.1h.9m2.9-12.6h.9m6.5 8.9h.9m18.7-10.6h.9m-9.4 16.9h.9m-3.8-6.8h.9m-19 15h.9m-2.9-25.8h.9m2.7 12.4h.9m-16.7 3.8h.9m-.7-14.7h.9m20.8 2.3h.9m-43 2h.9m6.7-6.9h.9m34.2 14.1h.9m-2.5-8.3h.9m-8.8 5.4h.9m-31.4-4.9h.9m43.2 8h.9m-46-9.4h.9m34.6 12.8h.9m17.2-2.9h.9m-12.9 2.3h.9m-38.6-17.8h.9m-2.9 14h.9m25-10.7h.9m7.3 17.4h.9m-27.9-6.2h.9m19.5-.4h.9m14.6 7.8h.9m-4.4-19.7h.9m5.1 21.2h.9m-36.8-27.8h.9m23.4 18h.9m9.3 3.8h.9m-4.5-13.6h.9m-21.6-5.5h.9m23 5.8h.9m-13.8-.9h.9m13.4 8.6h.9m8 3.3h.9m-56-4.7h.9m43.2 19.9h.9m-12.5-13.1h.9m-6.4-3.2h.9m17.9 7.5h.9m-1.1 7.5h.9m6.6-6.3h.9m-56.9-24.8h.9m40.4 16.6h.9m-35-.1h.9m38 15.7h.9m-15.1-16.6h.9m14.8 13.7h.9m-19.9-25h.9m13 10.6h.9m-20.5 5.3h.9m27.3 9.6h.9m-45.1-11.8h.9m38.2-9.5h.9m-23.1 10.5h.9m1-18.4h.9m12.8 3.5h.9m-16.7 14.6h.9m19.8 9.9h.9m-21.9-27.8h.9m-25.4 2.4h.9m5.8 11.8h.9m20.5-14.1h.9m11.5 6.6h.9m-20.1-7.6h.9m7.5 15.1h.9m10.4 .9h.9m-10.2-11.1h.9m-12.9 15.8h.9m-7 .5h.9m35.9-12.5h.9m-40.3 9.6h.9m22.9-9.8h.9m8.9 18.7h.9m8.4-8.3h.9m-37.7-2.6h.9m20.2 1.9h.9m-29.6-18.7h.9m10.3 18.2h.9m16.7-10.4h.9m.4 6.2h.9m-3.1 4.3h.9m-10.4-16.2h.9m13.2 11.9h.9m-47-4.6h.9m35 3.1h.9m5.9 7.5h.9m1.5-4h.9m-.3-1.4h.9m10.5 2.2h.9m-12.6-4.9h.9m-17.8-8h.9m-2.5 17.8h.9m2.8-15.1h.9m-24.4 1.2h.9m42.5 20.2h.9m-6.2-17.1h.9m-16.8-8.8h.9m-15.5-1.9h.9m11.5 16.6h.9m2.2-15.3h.9m20.1 12.8h.9m-11.5-6.6h.9m6.4 14.8h.9m-8.3-17.6h.9m19.1 24.5h.9m-5.5 4.9h.9m-51.7-33.4h.9m40.7 9.4h.9m-16 1.6h.9m12.6 10h.9m6.6 7.8h.9m-16.3-26.6h.9m16.4 18.5h.9m-3.4 1h.9m-46.1-13.5h.9m35.9-5.6h.9m-8.1 2.6h.9m11.1 18.4h.9m-16.7-18.5h.9m19.3 1.4h.9m-15.7-2.7h.9m-14.7-4.8h.9m4.2 2.5h.9m29.4 28.3h.9m-25-16.9h.9m-5.1 10.9h.9m-22.4-11.8h.9m33.8 8.3h.9m-3.4-9.4h.9m-26.4 7.7h.9m35.5-.6h.9m-8.6 4.5h.9m13.6 .9h.9m-48.6-22.3h.9m42.5 32.7h.9m-23.5-18.2h.9m1.8 4.5h.9m-3.8-16.8h.9m-20.1-5.4h.9m47.4 21.1h.9m-20.2 1.3h.9m11.3-8.2h.9m3.8-9.5h.9m-3.1 5.9h.9m1.8 4.2h.9m-15 3.8h.9m7 9.9h.9m1.5-11.1h.9m-47.7 .9h.9m30.3-4.6h.9m-14.1 2.1h.9m26.8-6.7h.9m-21 13.9h.9m19.9-5h.9m-19.9 4.6h.9m-11.9-23h.9m19.1 13.7h.9m-37.2-9.2h.9m39.4 18.4h.9m13.3-6.9h.9m-8.4 13.6h.9m-16.9-14.6h.9m15 19.1h.9m-22.9-30.2h.9m23.7 21.8h.9m-53.1-18.4h.9m38.6 11.2h.9m13.7 5.1h.9m-40.9-20.6h.9m37.5 15.3h.9m-7.5-8.6h.9m-24.5-5.3h.9m35.7 10.5h.9m-21.5 8.8h.9m6 3.9h.9m-.8-12.6h.9m-6.3-8.9h.9m7.1 23.8h.9m-.9-7.5h.9m-23.9-19.6h.9m26.2 19.6h.9m-14.8-5.6h.9m-37.9-13.3h.9m38.3 9.1h.9m14-1.1h.9m-22.8 .8h.9m-7.5-5.3h.9m13.3 12.3h.9m.4-11h.9m9.9 12h.9m-24.9 1.2h.9m23-6.6h.9m-5.1 9.9h.9m-18.1 2.1h.9m-28.9-27.2h.9m45.7 32.7h.9m3.4-17.9h.9m-.1 11h.9m-13.6-1.9h.9m4.6 7.7h.9m-32.1-11.1h.9m35.5-6.4h.9m-20-2.6h.9m20.1 7.5h.9m-20.5 4.9h.9m13.9 8h.9m-18-10.8h.9m-8.9 0h.9m-26.4-3.6h.9m51.4 8.6h.9m-7.1-10h.9m-11.3 14h.9m-33.3-13.6h.9m-4-.8h.9m-.9-9.9h.9m30.4 6.4h.9m4.6 7.8h.9m.2 7.7h.9m-22.7-26h.9m10.5 22.2h.9m20.9-1.1h.9m-32.1-22h.9m.8 24.8h.9m16.4 6.8h.9m-1.9-16.1h.9m-12-13.2h.9m-15.4 17.3h.9m-2.5 .1h.9m1.7 1.3h.9m18.4-10.4h.9m1.2 12.4h.9m-9.2-15.2h.9m19.4 14.1h.9m-40.6-18.7h.9m23 18.3h.9m23.6 6.5h.9m-27.4-1.1h.9m5.1-2.5h.9m7.4-16.4h.9m-8.9-2.4h.9m18.7 18.8h.9m-2.2-8.9h.9m-25.2 8.1h.9m10.7-5.4h.9m3.6 4.1h.9m-26.6 .7h.9m-18.9-12.4h.9m26.4 8.2h.9m16.4 10.3h.9m7-9.3h.9m-48.2-4.8h.9m22.7-8.9h.9m20.3 26.1h.9m-44.7-32.5h.9m42.5 25.1h.9m-27.8-5.2h.9m19.4-7.1h.9m-40.3-10.7h.9m29.9 6.2h.9m11 3.7h.9m-46.2 7.4h.9m43.6-8.5h.9m-4.1 20.8h.9m12.1-8.1h.9m-43.7-1.9h.9m17.5 2.1h.9m-16.7-24.1h.9m36.7 33.9h.9m-19.1-4.8h.9m-25.6-30.9h.9m41.9 17.6h.9m-55.8-1.5h.9m3.9-12.5h.9m53.6 20.9h.9m-51.1-18.8h.9m14.8 .2h.9m-14.6 9.9h.9m-3.2 7.5h.9m21.9-.4h.9m12.6-3.1h.9m-19.9 4.9h.9m20.6-14.3h.9m-12 15.1h.9m9.8 13.4h.9m-3.1-12h.9m-1-3.4h.9m-13.3-.1h.9m-24-21.7h.9m38.6 18.2h.9m5.8-5.7h.9m-7.1 .9h.9m1.7-.5h.9m-3.4 .6h.9m6.3 24h.9m-27.8-30.9h.9m-33 5.8h.9m54.8 15.7h.9m-2.8-17.6h.9m-10.4 1.5h.9m6.6 .9h.9m6.5 17.9h.9m-37.8-8.4h.9m28.3-.9h.9m1.9-.7h.9m-39.3 5.5h.9m19.2 .1h.9m-.6-22.3h.9m13.2 21.2h.9m-47-11.8h.9m11.5-12.6h.9m28.7 22.5h.9m6.5-14.3h.9m-39.5 10.9h.9m37.9 7.6h.9m-49-15.9h.9m34.1 11.3h.9m12.9 5.6h.9m-6.9-16.8h.9m-21.2 6.7h.9m-26.5-5.6h.9m33.2-8.2h.9m-29.9 10.3h.9m47.4 .9h.9m-34 5.3h.9m28 3.7h.9m-17.9-17.8h.9m17.4 25.4h.9m-5.9-2.9h.9m-16.6-5.5h.9m-22.6-6.3h.9m36.2 6h.9m-42.5-10.9h.9m21.5 3.5h.9m14.5 24.9h.9m9.5-26.6h.9m4.6 13h.9m-27.6-6.5h.9m22.3-10.8h.9m-14.4 17.7h.9m-38.7-21.8h.9m47.9 17.3h.9m-29.8-3.5h.9m30.9 9.4h.9m-36.7-4.9h.9m-18-9.8h.9m32.4 4.9h.9m25.4-9.5h.9m-38.5-5.9h.9m33.7 16.7h.9m-9.1 4.1h.9m-9-.9h.9m7.2-14.3h.9m-6.8 8.7h.9m12.5 13h.9m-34.6-26.7h.9m4.6 13.2h.9m-19.7-17.6h.9m42.6 8.4h.9m-26.2 11.7h.9m16.4 8.7h.9m-.2 .1h.9m.7 11.2h.9m2.5-16.7h.9m-31.9-23.3h.9m25.8 9.5h.9m2.8 26.3h.9m-11.7-22.1h.9m6.9-4.2h.9m-3.7 10.3h.9m6.4 7.5h.9m2.6-6.7h.9m-38.9 .6h.9m3.5-3.8h.9m15.8-8.7h.9m-43.3 4.2h.9m49.8 25.7h.9m-22.1-35.3h.9m5.1 12.5h.9m-5.2-8.6h.9m8.3 4.9h.9m-28.1 6.8h.9m10.3 1.2h.9m23.4-3.6h.9m5.5-.2h.9m-37.6 1.7h.9m31.2-3.5h.9m5.7 3.4h.9m5-2.9h.9m-25.6-2.3h.9m-8.5 8.7h.9m15.6-7.7h.9m-18.8 7.3h.9m21.4-2.7h.9m15.4-7.1h.9m-17.3 11.7h.9m-10.3-7.3h.9m.6-8.4h.9m17.7 16.6h.9m-27.3-10.1h.9m4.9 9.7h.9m13.4-18.4h.9m-50.6 5.8h.9m49.2 12.9h.9m-14.3 2.2h.9m-39.3-17.5h.9m35.7 1.6h.9m-13 8.7h.9m-21.4-5.4h.9m21.7 10.2h.9m-27.5-15.5h.9m28.8-.3h.9m-25.3 9.1h.9m14.7 8.8h.9m13.8-8h.9m-32.4-13.4h.9m5.6-5.2h.9m31.5 19h.9m3.7 6.9h.9m-20.8-19h.9m25.1 9.7h.9m-26.7-12.2h.9m-31.1 1.4h.9m12.9-2.2h.9m-2.4 19h.9m19.8-7.9h.9m12.9 2.6h.9m.1-2.7h.9m-14.6 3.7h.9m13.9-3.7h.9m-37.1-13h.9m-10.1 2.4h.9m27.7 21h.9m22.5 4.5h.9m-15.1-22h.9m1 31.9h.9m6.7-13.6h.9m-35.1 .2h.9m41.1-1.7h.9m-18.8-.4h.9m9.8 2.4h.9m.5-.2h.9m-5.4-4h.9m4.8 4.1h.9m-22.3-16.9h.9m16.9 10h.9m-14.3-8.3h.9m-12.7-6.5h.9m23.5 27.7h.9m-22.2-25.7h.9m20.8 4.1h.9m-11.8 21.3h.9m1-22.3h.9m.1 9.2h.9m-14.5-2.2h.9m34.4 3.5h.9m-12.5 5.8h.9m-16.6 5.1h.9m8.3-13.4h.9m-5.4 9.9h.9m7.8-12.3h.9m-47.6-8.5h.9m10.2-7.9h.9m29.8 12.5h.9m4 17.6h.9m-44.1-20.1h.9m50.5 18.6h.9m1.1-9h.9m-26.3-5.5h.9m5.1 1.2h.9m7.9 16.2h.9m-45.8-9.4h.9m28.4 5.7h.9m-4.9-13.2h.9m13.5 7.5h.9m6.1 12.8h.9m-48.7-21.5h.9m46.7-1.9h.9m-34.3-9.9h.9m24.1 11h.9m10.6-1h.9m-19 2.5h.9m1.5-6.4h.9m18 19.4h.9m-49.8-8.9h.9m52.2 5.4h.9m-16.9 2.4h.9m12.6-12.1h.9m-14.9 19.4h.9m-17.6-8.6h.9m-21.2-19.6h.9m25.2 19.5h.9m8.4-10h.9m-43.3-.1h.9m40.2 1.7h.9m23.6-1h.9m-9 8.3h.9m-27.7-.3h.9m14.6-1.6h.9m-12-.8h.9m-24.2-.5h.9m49.7 13.4h.9m-20.8-5.6h.9m8-3.5h.9m-13 .1h.9m5.5 9.2h.9m-5.3-11.4h.9m-12.9 1.6h.9m24.3-7.5h.9m-34.3-13.7h.9m20.2 7h.9m-.8 12.4h.9m-6.3 3.7h.9m-8.2-.4h.9m28.1 6.9h.9m-44.7-8.7h.9m20-7.4h.9m8.8 .5h.9m-28 5h.9m3.5-15.5h.9m-19-.8h.9m47 11.4h.9m-3.8 3.1h.9m-22.5 .8h.9m18.2 .5h.9m-35.9-17.6h.9m35.1 26.7h.9m-27.7-30.9h.9m6.5 9.9h.9m10.9 16.6h.9m12.7-13.4h.9m.7 3.1h.9m-52.9 .6h.9m32.5-2.4h.9m-21.9-7.7h.9m22.2 10.7h.9m-24.9 .2h.9m-5.6-17.3h.9m-6 6.1h.9m-3.7 9.8h.9m31.2-3.1h.9m-13.9-8.5h.9m8.4 16.8h.9m-17.4 2.5h.9m33.2 5.7h.9m-18.6-19.9h.9m25.4 11.2h.9m-28.6-5.3h.9m5.3 4.9h.9m-20.9-19.1h.9m12.2 21.1h.9m-5.8-15.6h.9m15.4 24.2h.9m11.4-7.4h.9m-14.2-10.4h.9m-8.7-4.1h.9m-7.4 16.4h.9m-9-2h.9m12.4-4.5h.9m-31.2-10.3h.9m30.8 14.1h.9m1.9 3.7h.9m14.4-16.6h.9m-48.3 7.5h.9m15.9-17.6h.9m22.2 24.5h.9m8.9 5.6h.9m-17.8-14.4h.9m20.5 4.5h.9m-20 6.3h.9m-13.1-15.6h.9m24.8 22.2h.9m-5.7-7.4h.9m-5.1-16.2h.9m9.3 20h.9m-19.5-15.5h.9m-31.9 6.5h.9m33.5-8.6h.9m-7.7 .6h.9m7.3-.1h.9m-31.1-8.4h.9m35.2 7.6h.9m14.7 3h.9m-22.3-3.5h.9m20.8 12h.9m-54.4-13.4h.9m12.3-5.1h.9m4.4 16.4h.9m1.1-.8h.9m-17.3 1.6h.9m-1.6-.2h.9m24.3-14.4h.9m10.8 21.8h.9m-38.3-8.5h.9m38.6-1.1h.9m2.3-7.2h.9m-44.6-9.6h.9m8 .7h.9m10.8 23h.9m23.3-7h.9m-41.8-13.7h.9m36.1 24.8h.9m-2-4.1h.9m-45.2-17.8h.9m25.6-1.6h.9m15.8 14.7h.9m9.6 9.4h.9m-4.4-.3h.9m-9.9-4.9h.9m-2.6 5.1h.9m-5-11.1h.9m-39.7-9.1h.9m29.7 7.2h.9m7.9-5.7h.9m1.5 13h.9m.5 .1h.9m-3.8 19.8h.9m15.8-17.8h.9m-26.4-5.3h.9m16-2.6h.9m1.1-7.4h.9m-17.3 5.3h.9m7-1.3h.9m-3 5.3h.9m-43.9-9.8h.9m55.7 12.6h.9m2.8 3.9h.9m-32.3-10.5h.9m31.1 9.5h.9m-56.8-17.5h.9m30.6-5.4h.9m-4.2 10.6h.9m-25.7 3.1h.9m26.4-9.5h.9m-9.6-5.2h.9m23.8 11.2h.9m-1.6 .7h.9m1.3 25.6h.9m-.1-21.8h.9m-4.1 2.8h.9m-40.7-18.2h.9m37.6 10.9h.9m-9.4 17.6h.9m-4-9.3h.9m-23.1-19.2h.9m26.9 25.4h.9m-13.6-20.9h.9m17.9 25.9h.9m-31.1-9.2h.9m20.3 1.8h.9m-21.1-22.4h.9m13.2 9.6h.9m18.1 17.8h.9m9.6-16.6h.9m-15-.4h.9m-11.6 7h.9m-4.5-2.9h.9m7.4 8.9h.9m-23-5.9h.9m26.9 1.5h.9m9.3-7.5h.9m-54 2.7h.9m4.1-13h.9m14.2 18.9h.9m21.9-5.7h.9m-47.3-8.1h.9m56.2 11.1h.9m-39.3-18.2h.9m20.2 5.5h.9m8 18.9h.9m-47.3-10.7h.9m40 11.7h.9m6.8-14.5h.9m-6.3 16.7h.9m-3.6-6.6h.9m.3-11.3h.9m-3.1 13.9h.9m-15.2-5h.9m-31.2-8.7h.9m56.3 10.3h.9m-49.3-19.1h.9m25.7 20.3h.9m-7.4-2.4h.9m30.8-5.3h.9m-11.5 5.7h.9m-23.6 1.5h.9m10.4 2.2h.9m12.1-10.2h.9m2.9 5.4h.9m-9 7.2h.9m-42.8-19h.9m26.9 10.8h.9m23.3 15.9h.9m-36.3-12.5h.9m2.8-1.5h.9m-21.9-10.9h.9m53.4 5.8h.9m-40.5 7.9h.9m32.8-8.8h.9m-23.5-4.8h.9m7.7-1.2h.9m-3.8 10.5h.9m9 21.3h.9m-4.3-19.1h.9m9.4-2.3h.9m2.5 12.3h.9m-4.7-12.4h.9m4.2 6.5h.9m5.8-5h.9m-19.5 7.2h.9m-9.8-6.7h.9m22.5 10.3h.9m-13.5-3.1h.9m-6.9-4.8h.9m-2.1-1.8h.9m2.8 5.1h.9m-8.6-.6h.9m-28.7-8h.9m47.9 1h.9m-23.5 1.2h.9m7 6.8h.9m-5.3-15.2h.9m14.2 9.5h.9m-32.5-19.5h.9m14.9 15h.9m-23.3-17.3h.9m20 22.2h.9m18.8 3.8h.9m-10-10.6h.9m-5.1 23.5h.9m3.1-26.2h.9m-42.9-7.2h.9m41.6 4.9h.9m-1 9.6h.9m-5.4-.5h.9m-10.1-2h.9m-28.9-8.9h.9m43.4 16.5h.9m9.2-5h.9m-28.2-13.7h.9m-18.9 16.7h.9m18.8-14.4h.9m15.8 13.7h.9m-9.8 9h.9m1.6-20h.9m-32.3 6h.9m48.6 2.8h.9m-21.7 1.9h.9m11.9 .3h.9m-44.7-19.3h.9m39.3 25.9h.9m-2.5-12.3h.9m-1.6-.9h.9m2.6-8.2h.9m-43-6.4h.9m52.4 13.2h.9m-19.4 8h.9m-.4 1.4h.9m2.2 4.6h.9m5.3-2.9h.9m0-10.2h.9m-37.1-14.1h.9m29 16.3h.9m-37.4 7.3h.9m39.9 3.2h.9m-15.5-2.7h.9m-34.1-7.4h.9m57.9-4.2h.9m-48.4-12.5h.9m29.3 19.7h.9m-41.5-15.9h.9m.1 1h.9m3.2 14.1h.9m-6.3-15h.9m35.9 11.1h.9m-31.9-14.3h.9m21.7 7.3h.9m-14.9 13.6h.9m21.6-9.4h.9m-23.5 9h.9m34.7-10h.9m-38.7-13.4h.9m42.2 21.9h.9m-34.7-18.5h.9m9.7 7.4h.9m6.4 4.1h.9m.7 21.9h.9m-36.6-15h.9m47.9 4.2h.9m-7.6-2.5h.9m-27.2 1h.9m21.9 11.7h.9m-47.4-24.6h.9m39.7-.7h.9m-5.1 14.1h.9m-9.3-10.2h.9m18.9 14h.9m-51.7-13.6h.9m44 10.3h.9m-16.7-16.4h.9m-28.1 4.5h.9m1.6-8.3h.9m47.8 9.1h.9m-30.1 6.4h.9m29.4-5.9h.9m-11.3 9.7h.9m7-4h.9m-23-12.8h.9m2.4 12.2h.9m17.2-6.7h.9m-49.9-.9h.9m29.7-4.9h.9m-1.9-1.7h.9m-8.3 0h.9m27 23.6h.9m-.6-18.9h.9m-11.6 3.2h.9m-14.1 10.1h.9m-24.6-4.4h.9m36.7-3h.9m-1.5-7.1h.9m12 20h.9m-38.9-27.4h.9m-13.1 6.4h.9m48.5 11.9h.9m-3.5-4.1h.9m-3.6 5.5h.9m-6-1.5h.9m9.6-2.6h.9m4.8 16.7h.9m-45.5-12.1h.9m17.6 5.7h.9m9.8-14h.9m6.7-8.1h.9m-30.1 2.3h.9m34.8 12.8h.9m-15.6-3.4h.9m-15-12h.9m-23.3 3.8h.9m46.8 24.2h.9m-19-6.4h.9m8.5-12.8h.9m2.2 7.9h.9m-12.3 2.9h.9m13.5 4.9h.9m-25.1-23.9h.9m27.9 26.4h.9m-32.3-28.3h.9m-6.8-.5h.9m-16.3 6.4h.9m.8-5.6h.9m42.8 15.6h.9m-6.7 4h.9m9.9 7.9h.9m-22.2-8.8h.9m7.8 2.8h.9m4.6 11.4h.9m-11-4.1h.9m18.7-14.7h.9m-20-7.4h.9m-30.9 9.5h.9m-6-9.5h.9m36.9 10.4h.9m7.4-7.8h.9m-41.9-10.1h.9m-5.7 13.6h.9m54.7 18h.9m-9.7-18.7h.9m-7.3 4h.9m-10.3 1.6h.9m-22.2-20.5h.9m-13.6 9.2h.9m56.1 6.4h.9m-52.4-8.8h.9m55.6 18h.9m-11-8.3h.9m-51 .2h.9m45.3 3.6h.9m-24.6-3.7h.9m32.8 1.5h.9m-10.7-4.8h.9m11.6 11.3h.9m-17.2-7.2h.9m-41.2-15.3h.9m50.4 14.9h.9m-11 4h.9m-35.6-18h.9m-2.9 10h.9m33.6 2.8h.9m4.3 2.5h.9m-26.8-.5h.9m-9 2.9h.9m43.4-.1h.9m-13.7 9.5h.9m-2.3-13.2h.9m6.9-7h.9m-22-4.4h.9m20.9 23.7h.9m.1-7h.9m-4.4 11.4h.9m-1.4-20.9h.9m-10.6 13.8h.9m-13.7-6.2h.9m31 15.3h.9m2-20.4h.9m-20.9-9.1h.9m-28.1 15.9h.9m-5-22.7h.9m-8.3 14.6h.9m6.3-8.5h.9m30.8 11.1h.9m8.9-7.4h.9m-.6 1h.9m-6.9 .2h.9m-11.4 12.6h.9m-.7-3.5h.9m20.4 8.3h.9m-19.3-22.2h.9m19 9.5h.9m-15.6 9.2h.9m-14.1-.5h.9m-10-2.9h.9m23.8 .5h.9m.4-5.8h.9m-44.1-13h.9m37.1 26.9h.9m.1-9.4h.9m-10.3 2.3h.9m9.6 7.5h.9m19.1-10.9h.9m-57.5-18.9h.9m36.5 39.7h.9m-2.7-28.5h.9m-20 5h.9m23.1 21.7h.9m2.3-11.6h.9m-29.8-20.6h.9m3.2-1.5h.9m12.9 21h.9m-27.3-24.3h.9m34.7 1h.9m-16.9 17.7h.9m21.4 9.7h.9m18.5-23.5h.9m-51.1-1.8h.9m17.5 7h.9m-7.6 11.3h.9m.3-12.2h.9m8.2 18h.9m-11.9-23.4h.9m-19.3-4.1h.9m40.8 23.7h.9m-7.2-2.2h.9m-15.8 11.8h.9m6.3-20.5h.9m1.5-6.1h.9m-8.2 7.4h.9m9.4 7h.9m-8.9-3h.9m-30.4-16.7h.9m32.8 31.9h.9m4.7-3h.9m-37.4-28.3h.9m5.7 1.9h.9m-11.9-1.8h.9m-6.8 1.3h.9m53.4 19.2h.9m-18.5 3.7h.9m16-.3h.9m-37.7-6.2h.9m-12.9-19.2h.9m39.7 15.9h.9m-42.9 1.1h.9m47.6 8.1h.9m-8.4-3.8h.9m-2.7 .9h.9m-8.2-12.5h.9m-4.5 9.6h.9m-18.6-18.9h.9m20.8 25.7h.9m15.9 2.7h.9m-23.1-9.6h.9m-9-3.9h.9m34.3 3h.9m-21.9-5.4h.9m-26.8 6.4h.9m-12.1-4.3h.9m39.3 13.4h.9m-15.2-8.1h.9m-24.4-17.8h.9m37.2 28.8h.9m3.7-6.2h.9m-17.9-3.2h.9m9.5-5.1h.9m-25.6 5.9h.9m9.4-22.1h.9m19.1 29.4h.9m-9.6-12.8h.9m1.8 10.1h.9m-26.3-10.2h.9m29.9-4.8h.9m-47.5 1.3h.9m3.5 4.2h.9m7.3-17.1h.9m39.1 21.8h.9m-45.9-2h.9m46.6-3.2h.9m-5.3 11.6h.9m-42.8-27.8h.9m27.2 12.5h.9m20.1 3.2h.9m-29.6 .9h.9m-14.8-18.7h.9m-11.9 14.3h.9m39.2 8.7h.9m-12.1-7.1h.9m12 11.3h.9m-1.9-19.4h.9m-33 11.9h.9m-12.6-7.5h.9m54.8-.3h.9m-25.4 4.2h.9m3.6 7.8h.9m-36.7-22h.9m31 23.4h.9m19.8-.8h.9m-54.3-16.5h.9m4.5 10h.9m47.3 10.7h.9m-1.5-7h.9m-20.5-13.5h.9m18-.7h.9m-18.9 9.9h.9m-7.8 10.7h.9m6.6-16.5h.9m3.1 2.3h.9m9.8 15.7h.9m-14.7-20.9h.9m4.8-.6h.9m-34.9 9.2h.9m27.1 7h.9m20.8-14.5h.9m-18.6 1.2h.9m-37.6 5.7h.9m14 5.3h.9m34.9 4.3h.9m-7.7 .7h.9m-6.1-8.1h.9m-8.6 3.4h.9m16.3 3.5h.9m-51.9-15.9h.9m33.9-4.8h.9m26 3.3h.9m-22.5 5.8h.9m17-3.7h.9m-31.3-.4h.9m-8.2-7.1h.9m17.7 23.6h.9m-23.4-5.4h.9m-12.1-18.3h.9m26.9 8.8h.9m-13.3 8.8h.9" stroke="#5cc04a" stroke-width="0.9" fill="none"/>
<path d="M98 357h.9m-.1-10h.9m-.1 .6h.9m-6.6 13.6h.9m12.6-5h.9m-1.3 3.3h.9m1.9-2.1h.9m-25.7-5.9h.9m22.3 5h.9m8.8-1.1h.9m-27.9 .2h.9m7.9-8h.9m-10.9 13.2h.9m-2.3-5.9h.9m24.5-.5h.9m-25.8-3.4h.9m16.3 9.1h.9m-1.4-2.9h.9m-21.4 1.2h.9m7.3-12.3h.9m.4 13.7h.9m31.5 1.5h.9m-22.5-12.6h.9m27.1 15.4h.9m0-5.9h.9m-31.3-5.1h.9m2.4-1h.9m-2.9 8.7h.9m-2.1 4.2h.9m-9.4-18.7h.9m11.8 10.1h.9m-4.5 7.6h.9m-18.1-10.5h.9m30.4 2.3h.9m-21 8.5h.9m16.3-3h.9m1.2-.3h.9m20.9-4.5h.9m-37.2 4.4h.9m-14.6-4.2h.9m13.7-3.1h.9m-1.2 8.3h.9m14.2-1.7h.9m-23.8-17.3h.9m18.1 14h.9m-4.1-1.6h.9m8.6 5.1h.9m-31.1-11.3h.9m9.7 15.8h.9m4.3 .6h.9m-10.5-5.5h.9m30.9-4.4h.9m-43.2-4.4h.9m18.5 3.7h.9m3.2-1.9h.9m-22.3-7.9h.9m18.6 11.1h.9m24.9 7.2h.9m-46.3-17.9h.9m9.5 5.8h.9m-13.3 .8h.9m-2.5 2.9h.9m48.2 1.7h.9m-11.5 11.9h.9m3.8-1.2h.9m-21-16.4h.9m15.5 12.9h.9m-29.1-19.1h.9m8 6.2h.9m14.2 7.4h.9m-34.2-.3h.9m35.6 9.7h.9m-21.6-5.4h.9m-2.4-13.4h.9m-10.6 12.1h.9m12.2 .6h.9m11.9 2.9h.9m12.8 7.7h.9m4.5-7.8h.9m-36.6-20.3h.9m-3.2 .9h.9m20.8 10.5h.9m-13.2-4.5h.9m-13.3 10h.9m1.8-12.6h.9m-.9-2.4h.9m28.9 9h.9m-35.2 8.9h.9m37.4-3.7h.9m-26.8-.8h.9m4.7-6.7h.9m16.9 7h.9m-19.5 1.6h.9m-9.8-3.4h.9m-8.5-13.8h.9m20.3 14.6h.9m-10.7-5.4h.9m-12.3-3.5h.9m11.4 10.2h.9m22.4 1.5h.9m-13.5 8h.9m-9-7.3h.9m-18.8-1.8h.9m12.1 .1h.9m-6.1 .2h.9m-2-14.3h.9m24.2 19.7h.9m10.9 3.1h.9m-25.9-16.4h.9m-13.2 7.1h.9m3.2 3.3h.9m-12.6-16.5h.9m10.8 3.3h.9m11.8 2h.9m12.8 13.2h.9m-13.4-8.5h.9m1-2.3h.9m10.6 8h.9m-22.7-14.6h.9m-21-1.4h.9m24.7 10h.9m-27.1-8.1h.9m.3-.8h.9m-.6 14.5h.9m33.4-2.1h.9m-31.3-1.7h.9m9.1-11.3h.9m7.9 11.9h.9m-16.6-8h.9m13.5 8.6h.9m-24.9-8.2h.9m13.6-3.8h.9m-7.1 14.7h.9m-3.7-5.7h.9m19.5-1.2h.9m14.8 3.6h.9m-40.1-1.7h.9m6.4 2.6h.9m30.5-7.3h.9m-9.5-.8h.9m-21.2-6.8h.9m1.2 17.6h.9m19.9-2.2h.9m-12.6-1.5h.9m.2-2.2h.9m-10 5.8h.9m1.2-13.2h.9m-.2 6.9h.9m24.9-.2h.9m-38.2 3.1h.9m-6.9-5.8h.9m50.8 7h.9m-50.1-1.6h.9m19.6 3.5h.9m-25.9-5.4h.9m18.4-8.5h.9m-18.5 11.5h.9m21.1-4.9h.9m-1.3-5.8h.9m0 4.5h.9m-10-5h.9m-5.4 15.7h.9m21.3-6h.9m-18.1 4.7h.9m14.9-2.3h.9m5.6-3.6h.9m-13.6 4.1h.9m1.3-6.2h.9m-13.5-7.9h.9m20.6 8.7h.9m-15.2-4.4h.9m-20.6 8.6h.9m45.1 2h.9m-18-3h.9m-16.3-8.8h.9m-3.8 10h.9m23.9 9.4h.9m-8.2-5.8h.9m-27.5-12.2h.9m8.8 9.9h.9m3.5-13.4h.9m22.8 13.8h.9m-34-15.7h.9m17.4 18.1h.9m-27.9-13.2h.9m23.7 7h.9m-23.8-6.1h.9m-2.1-1.7h.9m38.4 11.5h.9m-9.5 0h.9m-15.8-13.5h.9m6.1 10.3h.9m-1.2 2.1h.9m-19-11.5h.9m38.2 8.8h.9m-11.8-2.1h.9m-21.8 7h.9m5-2.3h.9m9.9 2h.9m-20.1-3.6h.9m-2.6 4.9h.9m17.3-3.7h.9m-3.9 1.7h.9m-20.2-1.4h.9m16.6-9.5h.9m23 15.2h.9m-25.9-4.8h.9m-4.6-11h.9m-3.7 11.1h.9m14.6-4.8h.9m-26.7-7.4h.9m9.6 10.4h.9m-9.7 1.3h.9m6.7 1.4h.9m-9-7.1h.9m-.3-2.3h.9m5.5-6.8h.9m10.9 11.8h.9m-7.3 3.2h.9m-1.2 .4h.9m-8.9-12h.9m-5.5 4.6h.9m15.5-3.3h.9m-9.3 9.4h.9m28 7.8h.9m-17.3-13.3h.9m5.1-1.7h.9m-4.6 .8h.9m-15.4 7.7h.9m16.2-4.8h.9m-12-7.2h.9m-13.1 7.7h.9m14.4-10.4h.9m-20.2 12.5h.9m17.1-9.5h.9m22.7 13.8h.9m-24.2-3.3h.9m-6.1-.4h.9m-2.3 1.3h.9m-15.5-10.2h.9m37.5 13.6h.9m-14.6-11h.9m5.4 4.3h.9m-18.7 2.1h.9m10.5-6.5h.9m-17-9.5h.9m35.1 18h.9m-32.6-1.4h.9m5-.4h.9m.6-7.2h.9m1.6 6.6h.9m-5.9-8.8h.9m-.5 6.3h.9m-9.2-8.5h.9m14.7 12.8h.9m-6.9-15.4h.9m.2 6.2h.9m17.6 14.2h.9m6.6-.9h.9m-14.2-9.7h.9m-32.8-5.8h.9m8.8 13.4h.9m19.1-4.8h.9m-.5-8h.9m-8.2 13.9h.9m-20.4-7.6h.9m38.4 16.7h.9m-2.2-17.6h.9m0 .5h.9m-3.1-1.8h.9m-38-3.8h.9m5.4-5.2h.9m5.9 9.8h.9m4.6 7.1h.9m-2.6-13.7h.9m6.2 9.4h.9m-27.3-5.8h.9m15.7-7h.9m-9.4 7.3h.9m-2.1 4.3h.9m9.6-8.6h.9m-3.5 14.2h.9m6.6-12.6h.9m24 23.3h.9m-15.8-11.2h.9m-33.7-11.6h.9m14.7 12.3h.9m5.1-4h.9m24-.1h.9m-25.1-.3h.9m4.6-.4h.9m-17.4 5.1h.9m-6.1-14.2h.9m-3.2 2.2h.9m6.7 12.4h.9m-1.9-17.5h.9m.5 3.4h.9m11.4 3.8h.9m-9.7 7h.9m26.8 6.4h.9m-26-6.2h.9m-20.1-5.8h.9m2.1 3.7h.9m0-7.9h.9m3.9-3.1h.9m-.3-3.2h.9m5 18.9h.9m-5.7-20.7h.9m17.2 11.2h.9m-11.8 6.2h.9m3.6-7h.9m9.2 2h.9m-5.6 6.1h.9m18.3 8.5h.9m-38.5-13.8h.9m7.1-.6h.9m-14-5.4h.9m24.6 11.1h.9m-9.7-1.4h.9m-.2-7.7h.9m9.2 10.7h.9m13.5-5.8h.9m-41.1-9.6h.9m0 9h.9m38 5.1h.9m1.2 2.3h.9m-27.1-8.5h.9m-2.4-4.5h.9m2.8 5h.9m-17.9-6.2h.9m9.6-.9h.9m-.2 7.6h.9m-6.8 5.2h.9m37.6 2.5h.9m-49.9-9.2h.9m12.1 4.5h.9m-14.2-4.2h.9m42.7 13.3h.9m8.3-3.8h.9m-30.2-7.8h.9m26.4 11h.9m-30.5-11.2h.9m3.3-5.5h.9m-5.9 8h.9m17.9-2.8h.9m-9.9 .6h.9m-28.4 3.9h.9m19.8-7.8h.9m-7 8.4h.9m-10.6-1h.9m12.5-6.9h.9m17.8 4.3h.9m-9.5-2h.9m5.7 2.7h.9m-17.3-1.6h.9m11.8 .9h.9m-18.9-3.3h.9m14.5 5.2h.9m-31.8-.8h.9m9.1 4.7h.9m7.9-14.8h.9m-6 5.9h.9m18.3 2.9h.9m-32.2-7.1h.9m12.2 10h.9m-12.5-11.4h.9m10.8-1.5h.9m-14.4 1.4h.9m9.1 11.1h.9m32.5 5.6h.9m-21.6-13.6h.9m2.5 4.7h.9m-10.2 2.6h.9m5.5-2.9h.9m2.7 5.8h.9m-19.1 1.2h.9m1.1-16.2h.9m17.7 2.8h.9m21.4 13h.9m-34.3-11.3h.9m2 7.4h.9m11.8-4.2h.9m-19.5 6.1h.9m31.5 7.3h.9m-28.3-14.5h.9m3.5 2.9h.9m-20.4-10.9h.9m.9 17.3h.9m.7-20.3h.9m.5 6.3h.9m23.4 13h.9m-25.4-1.5h.9m34 7.3h.9m-22.9-5.5h.9m2-7.5h.9m-25.8-.2h.9m39.2 6.2h.9m-15.1 1.9h.9m1.1 2.1h.9m-8.1-13h.9m-22.2 3.6h.9m23.8 .3h.9m7.4 2.8h.9m-33-2.7h.9m9.4 6.5h.9m25.2-2.4h.9m-32.8-10.6h.9m29.3 16.1h.9m-3.1-9.3h.9m-20.9 6.4h.9m28.7-4.9h.9m-15.2-.6h.9m-20.1-7.4h.9m28 12h.9m-28.8-13.5h.9m-10.7 7.4h.9m32 8.3h.9m-18.2-2.9h.9m-11.4-14.9h.9m1 15.7h.9m9.7-4.5h.9m1.3-7.7h.9m-22.2 1.1h.9m1.1 7.6h.9m42.6 1.4h.9m-13.1-4.8h.9m-1 8.9h.9m-29.1-1.1h.9m40.7 7h.9m-45.2-18.4h.9m9.6-2.3h.9m31.7 6.7h.9m-44.7-2.3h.9m1.6 6.9h.9m3.2 3.5h.9m18.2-5.4h.9m16 6.3h.9m-30.7-18.9h.9m7.2 11.7h.9m-14.2-5.8h.9m10.1 2.2h.9m-8.4 6.5h.9m1.4-11.8h.9m-.4 13.5h.9m31-5.1h.9m-46.5-4.5h.9m3.4-8.3h.9m-.3 2.8h.9m12 10.5h.9m-9.1-12.6h.9m5.1 1.2h.9m-10.1 14.9h.9m15.2 2.8h.9m-5.4-13.1h.9m1.3 2.5h.9m25.3 6.2h.9m-30.7-2.1h.9m-15.7 3h.9m11.9-10.5h.9m6.8 8.1h.9m-13.6-10.9h.9m1.2-.4h.9m2.2 11.4h.9m-12.9-7.1h.9m30.8 13.2h.9m-9-1.4h.9m.6-2.7h.9m-18.2-12.6h.9m-15.1 7.3h.9m25.7 3.2h.9m-5.9 2.8h.9m-12.8-14h.9m-5 1.8h.9m8.3-1.1h.9m13.5 10.7h.9m-23.9-7.4h.9m11.1-1h.9m-13.2 8h.9m-3.3-2.2h.9m-3 1.5h.9m3 1.2h.9m-6.3-9.2h.9m23 5.2h.9m-7-8.4h.9m-11.7 5.2h.9m-5-2h.9m17.9 1.7h.9m-19 .7h.9m10.7 13.8h.9m26.3-11.3h.9m-18.8 2.3h.9m23.3 6.3h.9m.5 3h.9m-19.2-6.3h.9m-15 8h.9m8.3-7.3h.9m-22.3-.6h.9m8.8 3.4h.9m-3.3-18h.9m-9 10.2h.9m22-5h.9m-11.1 1.7h.9m15 2.7h.9m-22.3 1.2h.9m34.3-.2h.9m-45.4-5.2h.9m2.1 8.3h.9m6.6 2.7h.9m6.4 1.5h.9m-16.7-14.5h.9m35.1 16.5h.9m-32.6-17.9h.9m12.8 5.7h.9m-24.1 2.2h.9m24.1-3h.9m5.6 8.7h.9m-9.1-3.6h.9m2 .1h.9m.7 .8h.9m-9.3 1h.9m8.4 1.6h.9m-22.8-.2h.9m2.1 2.1h.9m18.8-3.3h.9m-17 .8h.9m7 1.5h.9m-5.5-1.4h.9m14.1-5h.9m-21-9.1h.9m32.7 25.9h.9m-28.1-24.2h.9m4.7 12.1h.9m-23.1-.7h.9m31.5 0h.9m-14.6 1.6h.9m5.9-9.6h.9m-1.1 5.5h.9m-22.4 5.4h.9m6.3-15.3h.9m12.5 14.7h.9m14.3-3.4h.9m-28.8-10.7h.9m-8.1 9.9h.9m2.6-7h.9m-9.7 1.4h.9m48.6 7.3h.9m-25.9-2.8h.9m18.9 6.4h.9m-8.5-3.3h.9m-33.7-6.5h.9m9.6-4.5h.9m31.9 10.6h.9m-15.2-5.2h.9m4.9 14.7h.9m-22.1-21.1h.9m-5.4 16.9h.9m15-4.5h.9m-19.2-.9h.9m12.6 2.2h.9m14.6-.2h.9m-24-8h.9m-9.1 .9h.9m8.2 8.5h.9m-2.6-3.8h.9m6.4-5.7h.9m-16.5 6.8h.9m35.7-.1h.9m2.8-6.2h.9m-26.9 3.3h.9m.7-1.3h.9m-13.5-6.5h.9m10.7 9.1h.9m3.2 6.8h.9m-9.6-10.2h.9m-6.7 3.4h.9m39.8 1.6h.9m-49.8-8.5h.9m18.6 10.8h.9m5.1-4.4h.9m7 6.5h.9m-25.9-16.1h.9m29.6 20.7h.9m10-8.8h.9m-45.7-7.1h.9m-2.8 8.8h.9m21.6-5.1h.9m17 14.6h.9m-46.4-13.4h.9m42.7 2.6h.9m-22.3-7.7h.9m14.5 8.2h.9m-28.2-3.8h.9m-.6-7.9h.9m9.1 6.8h.9m21.5 6.2h.9m-39.3-2.4h.9m17.8 1.2h.9m-11.8 3.1h.9m7.1-8.2h.9m11.7 2.5h.9m3.5-.2h.9m-.9-1h.9m-23.3 6.6h.9m-2.3-2.2h.9m7.3 1.6h.9m-1.7-6.7h.9m26.9 8.8h.9m-26.2-11.3h.9m-8.5 7.7h.9m16.5-3.9h.9m-27.3-1.5h.9m28.9 4.9h.9m-15.2 .7h.9m-17.1 1.7h.9m38.1-2h.9m-19-6.9h.9m15.6 11.8h.9m-1.4-10.1h.9m-31.5 7.5h.9m30.1-5h.9m-14.1-3.3h.9m-30.5-2.4h.9m6-4.9h.9m14.9 9.3h.9m3.1 5.8h.9m-24.6-7.6h.9m16.9 9.6h.9m-4.6-2.9h.9m-9.2-1.8h.9m-1.7 0h.9m5 4.8h.9m5.7-5.1h.9m-6-4.3h.9m4.4 5.3h.9m2.9 1.6h.9m-2.2-7.2h.9m-22-6.6h.9m17.5 14.6h.9m-9.3-19h.9m-3.8 4.8h.9m1.5 12.3h.9m-6.6-12.7h.9m13.1 10.4h.9m-1.3 1.6h.9m-18.6-7.7h.9m.5-2.7h.9m-.4 .2h.9m10.2 7h.9m23.1 4.9h.9m-13.4-4h.9m-9.4-7.9h.9m16.7 16.5h.9m-35.9-14.3h.9m35.1 13h.9m-13.8-6.9h.9m2.5-7.1h.9m5.8 10.9h.9m-9.3-7.7h.9m5.4 .2h.9m-12.9-5.3h.9m-17.7 2.5h.9m12.2 6.5h.9m-13.3 1.6h.9m8-12h.9m-13.8 2.9h.9m30.4 2.2h.9m10.6 9.4h.9m2.9 1.5h.9m-6.8 5.1h.9m-6.2-5.8h.9m-31.6-11.3h.9m5.4-4.3h.9m-.6 2.8h.9m2.5 9.7h.9m-12.6-6h.9m25.3 5.6h.9m-10.9-4.8h.9m-20.1 .5h.9m42.9 3.4h.9m-32.9 3.8h.9m15-.5h.9m-24.2-5.2h.9m14.5 3h.9m9.7 3.6h.9m11.5 4.4h.9m-17.8-11.8h.9m16.7 1.8h.9m-20.3 4h.9m-21.3-.6h.9m33.7-4.2h.9m10.7 18.9h.9m-44.4-29.7h.9m.4 17.5h.9m-7.4-14.9h.9m16.5 10.3h.9m-11.5 6.1h.9m16.7-4h.9m-.3 .5h.9m13.9 .2h.9m-1.2 .4h.9m-33.6-.9h.9m-2.2-15.2h.9m-3.4 14.5h.9m13.9-9.4h.9m-7.8-1.6h.9m12.5 11.5h.9m-4-1.9h.9m-5.3-5.8h.9m-19.2-2.9h.9m23.9 7.4h.9m13.5 8.7h.9m-26.2-16.1h.9m10.8 8.3h.9m-7.4-3.1h.9m5.2 5.3h.9m12.4-1.6h.9m2.5 2.7h.9m-3.6-3.1h.9m-21.7 1.8h.9m3.1-1.4h.9m4.9-3h.9m8.5 1.5h.9m-4.6-8.6h.9m-31.4 9.2h.9m15.4-9.3h.9m7.5 2.3h.9m-6.2 1.7h.9m-1.7-5h.9m24.8 9.9h.9m-41.9 .9h.9m25.3-1.9h.9m-29.2-8.5h.9m5.1 .4h.9m3.3 .9h.9m11.5 6.6h.9m5.6-3.5h.9m-18.5 9.3h.9m10-1.4h.9m-14.4-.1h.9m11.9-8.5h.9m-2.8-3.7h.9m-2.2 15h.9m21.2-4.9h.9m-22.4-2.8h.9m3.9 5.7h.9m-17.8-11.7h.9m-.6-.7h.9m13.6 8.2h.9m-7.9 1.8h.9m-23.2-8.5h.9m17.5-3.2h.9m27.7 7.3h.9m2.6 20.1h.9m-49.7-23.6h.9m45.9 9.9h.9m-27.7-7.4h.9m27.5 6.5h.9m-30 1.7h.9m.9-11.2h.9m-11.3 10.2h.9m-4.3-14.9h.9m29.1 8.2h.9m-6.6 1.4h.9m-6.4-2.6h.9m-19.8-3.9h.9m11.8 .5h.9m-22.7 3.7h.9m3.1-6.7h.9m.3 8.8h.9m26.7 3.4h.9m-5.2 1.7h.9m19.4 4.5h.9m-40.4-17.6h.9m10 11.5h.9m17.4 2.4h.9m-25.4-16.6h.9m4.7 16.5h.9m-8.3-.6h.9m-1.1-13.5h.9m13.1 9.3h.9" stroke="#e8e030" stroke-width="0.9" fill="none"/>
<path d="M93.4 359.5h.9m3.3-4.4h.9m-7.8-2.8h.9m5.3 7.5h.9m-8.9-5.7h.9m8 1.1h.9m6.3-1.4h.9m-16.1 6.4h.9m17-3.4h.9m-16.3-3.8h.9m-1.5 4h.9m.2 3h.9m6.3-4.8h.9m-8 3.1h.9m24.5-1.4h.9m-25.1-5.6h.9m.9 6.6h.9m.2-7h.9m-1 1.8h.9m1.5-2h.9m-2.5 8.2h.9m26 1.5h.9m-23.7-6.9h.9m3.6 5.3h.9m-20.6-5.7h.9m13.9 1.5h.9m-2.4-1.7h.9m-10.7-1.7h.9m21.7 5.7h.9m-17.1-7.1h.9m-5.4-.7h.9m7.2 .3h.9m1 10.4h.9m1.6-1.6h.9m-12.1-6.4h.9m11.1 7.2h.9m-10-11.5h.9m9.5 9.3h.9m-16.9-3.6h.9m10.5 3.1h.9m-4.7-4.2h.9m-4 5.8h.9m1.8-9.1h.9m-.2 4.7h.9m6.4 6.3h.9m22 2.5h.9m-28.9-5.1h.9m3.7-2.2h.9m-16.9-5.1h.9m8.7 2.1h.9m-9.7 3.1h.9m9.3-.3h.9m-10.5 1.4h.9m23.5 1h.9m-24-5.5h.9m-2.5 1.1h.9m8 .2h.9m7.6 5.2h.9m-1.8-1.3h.9m-2.3-2.9h.9m-14.9 5.5h.9m7.2-9.1h.9m13.9 9.8h.9m-22.2-3.2h.9m-5.6 1.9h.9m4.4-9.3h.9m-6 2.9h.9m16.3 1.8h.9m-10.4 4.9h.9m3.7-6.9h.9m-7.1-2.1h.9m-5.6-2.4h.9m4.1 8.7h.9m8.5-1.3h.9m-14.6-4.4h.9m6.7 6.1h.9m3 1.9h.9m-3.9-9.2h.9m-12.7 .7h.9m6.5 9.4h.9m8.2-3.1h.9m-.9-2.3h.9m-14.2 .4h.9m-4.1 1.9h.9m19.8 1.5h.9m-16.8-9.7h.9m-.1 4.8h.9m9.5 1.9h.9m-3-1.3h.9m-7.7-4.6h.9m3.7-1.6h.9m-6 1.4h.9m4.5 2.9h.9m-11 3.3h.9m5.3-1.9h.9m5.8-1.3h.9m-13.3 5.9h.9m1.8 1.8h.9m3.5-11.6h.9m4.5 2.3h.9m-8 3.2h.9m-3.9-1.6h.9m.4-6.4h.9m3.9 9.6h.9m-3.4-.4h.9m5.6 .7h.9m-11.4-5.4h.9m6.4 8.6h.9m3.8-4.8h.9m-15.2 3.8h.9m12.7-3.7h.9m-9.3-5h.9m10.1 8.9h.9m-15.3-4.8h.9m13.9 9.6h.9m-19.2-9.8h.9m9.3 4.6h.9m4.2-1.3h.9m-3.7-4.8h.9m-5.5-3h.9m-2.8 14.3h.9m7.1-3.5h.9m-.1-3.3h.9m-14.5 .1h.9m9.3-1.3h.9m-10.7-.5h.9m12.1 2.6h.9m-6-4.9h.9m-5.2-.5h.9m8.5 .3h.9m-8.1-.4h.9m4.1 1.8h.9m-8.3 4.4h.9m10.1-2.4h.9m-5.9 1.1h.9m2.6-.9h.9m2.8 2.7h.9m-15.8-5.2h.9m18.9 3.9h.9m-8.1-3.2h.9m-7 5.1h.9m-8.9-5.7h.9m3.5 4.8h.9m4.7-3.4h.9m-.7 4.5h.9m-3.2 .3h.9m-10.5-3.9h.9m.1 4h.9m-1.2-6.2h.9m6.3 3.8h.9m8.5 2.5h.9m-14.6-6.6h.9m3.3-.2h.9m-.5 4.2h.9m2.5 .3h.9m9.9 .9h.9m-13.6-5.7h.9m-2.7 .5h.9m-1.4-1.1h.9m2.7 2.5h.9m-6.6-4.7h.9m9.4 2.1h.9m5.9 5.7h.9m-8.9-3.8h.9m-9.2 0h.9m8.8 3.1h.9m0 1.3h.9m-5.5-1h.9m-5.1-4.8h.9m-1.7 4.3h.9m0 1.6h.9m-.3 .6h.9m-.1-3.5h.9m-6.8-5.3h.9m-.3 4.7h.9m7.2-5.6h.9m-6.4 6.4h.9m-1.9 4.2h.9m3.9-6.5h.9m2.9 4.6h.9m-7.6-10.4h.9m.6 9.9h.9m-11.6-7.3h.9m16.8 10.6h.9m1.4-5.4h.9m-6.4-7.4h.9m-12.8 7.5h.9m12.8-3.9h.9m-12.2 6.7h.9m.2-1.1h.9m-.3-6.4h.9m4.3-.5h.9m-6.5 3.7h.9m6.9 4.9h.9m7 1.1h.9m-10-8.9h.9m-10.1-.5h.9m.1-.3h.9m-4.2 2h.9m5-3.7h.9m3 3h.9m-3.4 7.7h.9m13.8-5.2h.9m-12-1.9h.9m3.7 4.4h.9m-13.3-4.9h.9m-.3 7.7h.9m8.4-5h.9m-8.1 8.9h.9m9.8-5h.9m-17.7-6.7h.9m-3.3 3.9h.9m18-2h.9m-8.5-2.1h.9m.1 4.5h.9m-3.5-2.5h.9m4.1 3.8h.9m-4.9-6.7h.9m8.4 8.1h.9m-16.3-9.2h.9m2.1 9.1h.9m1-5.2h.9m-3.4 6.3h.9m10-5.7h.9m-10.9-3.9h.9m9.8 10.9h.9m-8.5-11h.9m9.4 8h.9m-18.8-3.2h.9m5.1-2.6h.9m3.8 6.5h.9m-14.4-8.8h.9m9.9 9.2h.9m-7.8-1.8h.9m8.5 4.3h.9m-1.1-5.2h.9m-1.4-5.3h.9m3.1 1.9h.9m2.3-1.4h.9m-4.3 7.6h.9m2.5-.9h.9m-11 .7h.9m-4.1 1.7h.9m16.7-6.5h.9m-14.9-1.5h.9m-1 7.1h.9m0-6.5h.9m-3 5.2h.9m9.9-4.6h.9m-4.4-1.5h.9m-4.7 .4h.9m6.4 8.8h.9m-9.4-12.3h.9m2.2 9.1h.9m6-2.1h.9m-8.8-4.7h.9m-5.7 4.7h.9m7.2-2.9h.9m-8.5-3.3h.9m7.2 6.2h.9m-12.6-1.2h.9m9.7-1.5h.9m-.9-2.3h.9m1.1 2.1h.9m-6.2-5.5h.9m-2.4 11.2h.9m6.9-5.1h.9m-14.9-.1h.9m9.6 5.5h.9m-12.7-3.2h.9m4.5-6.4h.9m10.2 12.2h.9m-12-2.4h.9m-4.8-8.6h.9m-3.5 5.9h.9m10.8-6.9h.9m-11.2 4.4h.9m15.3 3.7h.9m-10-7.6h.9m4.5 7.6h.9m2.9-5.7h.9m-4.4 4.3h.9m-11.3-1.3h.9m5.7-3.1h.9m-1.1 7h.9m-8.3-3.3h.9m11.3-1.8h.9m5.7 .4h.9m-21.1-1.9h.9m6.2 4.6h.9m2.7 .3h.9m-5 1.6h.9m-2 .9h.9m-.7-4.9h.9m-9.3-.7h.9m10.2-6.8h.9m5.6 8.5h.9m3.9-.7h.9m-19.2-7.2h.9m2.1 7h.9m32.8 6.9h.9m-36.7-7.7h.9m6.8-4h.9m-9.1 2.9h.9m13.5 4.6h.9m-19.2-1.1h.9m15 .7h.9m-5.9 4.7h.9m3.4-4.4h.9" stroke="#f59a20" stroke-width="0.9" fill="none"/>
<path d="M104.9 357.2h.9m-7.7-2.7h.9m-9.2 1.2h.9m6.4-3.8h.9m-7.7-.3h.9m2-.3h.9m9.7 2.9h.9m-12.7-.6h.9m6.1-3.4h.9m-7.3 3.2h.9m8.1 4.3h.9m-5.7-2.1h.9m-.9-2.8h.9m-2.4 .7h.9m-1.6 3.4h.9m8-1.1h.9m-10.1-3.2h.9m-4.2-.2h.9m2.1 4h.9m5.6-4.3h.9m-5.5 2.7h.9m3.3-2.9h.9m-7.5 .6h.9m1.2 2.8h.9m6.7-.1h.9m-7.8-1.2h.9m-4.5-.5h.9m-2.1 4.1h.9m-.4-4.2h.9m-2.9-2.2h.9m9.3 6.4h.9m-10.3-2.3h.9m5.1-.8h.9m3.4-2.7h.9m-4.9 2.1h.9m2.4-1.3h.9m-1 .4h.9m-3.4 1.3h.9m-1.1 2.8h.9m-1.3-5.6h.9m-6.5 .1h.9m1.7 2.7h.9m4.3 3.2h.9m-5.1-4.6h.9m1.2-2.4h.9m-.2 .5h.9m-3.7 1h.9m-2.9-4.6h.9m5 5.7h.9m-7.6 2.9h.9m1.2-5.7h.9m3.2 1.9h.9m.2 2.5h.9m-2.3-7.3h.9m-6.1 10h.9m6.5-5.4h.9m-6.5 4h.9m3.2-4.8h.9m.1 .8h.9m-4.7 3.8h.9m-5.6 0h.9m2.4 1.3h.9m6.6 .1h.9m-6.5-4.2h.9m-3.5-.6h.9m-1.2 4.7h.9m-6.1-6.8h.9m4.7 .5h.9m2.8 4.3h.9m-5.9-3.8h.9m6.2 2.8h.9m-4.9 1.4h.9m-6.9-.9h.9m4 .7h.9m-3.3-2.7h.9m-1.7 1.4h.9m11.3 2.7h.9m-2.7 5.4h.9m-4.8-8.3h.9m-.1-2h.9m3.4 2h.9m-12.1-4.3h.9m4.9 1.6h.9m1 .6h.9m-3.6-.9h.9m4.6 7.2h.9m-13.1-1.5h.9m12.5-1.5h.9m-4.6-4.8h.9m2.9 9.7h.9m-6.8-3.4h.9m-5-4.7h.9m-1.2 1.2h.9m5.3 5h.9m-7.7-4.3h.9m1.9 6.7h.9m-4.9-8.6h.9m2-.3h.9m1.1 1.2h.9m1.8 1.6h.9m-8.6-2.1h.9m6.1 3h.9m-.6-2.1h.9m-8.6 1.1h.9m-.2 1.4h.9m2.8-2.4h.9m-.3-.8h.9m.1 3h.9m1.4-4.7h.9m-.4 .1h.9m6.4 8.9h.9m-5.6-6.1h.9m-.8 2.4h.9m-9.2-4h.9m-4.3 5.7h.9m5 .4h.9m-5.2-8.8h.9m6.9 6h.9m-7.1-3.6h.9m.1 6h.9m5.3-2.4h.9m-11.1-.1h.9m2.1 3.2h.9m-.9-7.7h.9m2.2 3.2h.9m-3.3-5.6h.9m0 2.3h.9m-1.2 3.6h.9m2.6 2.8h.9m-4.3 1.8h.9m-.5-1.1h.9m-7.8-1.7h.9m7.4 3.1h.9m4.6-2.9h.9m-14.9-4h.9m6.9 3.6h.9m-2.7-7.3h.9m-1.5-.1h.9m3.3 7h.9m-3-2.9h.9m-5.7 2.3h.9m-3.5-5.8h.9m3.3 7h.9m2.1-2.4h.9m-1.5-3.9h.9m5.5 7h.9m-2.7 2.8h.9m-1.3-6.3h.9m3.1 4.4h.9m-7.2-.9h.9m-1.5-1.4h.9m0-5.3h.9m-1.2 6.1h.9m-2.4 .1h.9m.8-3.1h.9m-3.7 4.4h.9m-.4-5.8h.9m5.1 2.9h.9m-9 .6h.9m6.4-.4h.9m-4.1 .8h.9m-4.9-3.4h.9m1.2 2.8h.9m-2.9 4.8h.9m4.9-3.5h.9m-10.1 1h.9m6.1-2.2h.9m-2.5 1.4h.9m1.2-3.2h.9m-.5 6.8h.9m-.2-2.9h.9m.7-4.7h.9m-12.6-.7h.9m4.1 2.8h.9m-3.1-1.8h.9m5.4-.5h.9m-6.7 1.7h.9m4.6-1.5h.9m-3.7 2.5h.9m-1.4-3.9h.9m-1.8 2.3h.9m1 3.2h.9m-.5-2.9h.9m1-2.5h.9m-3.3 7.9h.9m6.9-9h.9m-6.3 4h.9m.7 .6h.9m-3.1-2.5h.9m-.9-1.5h.9m-2.4 1.7h.9m6.2 5.6h.9m-10.6-2.6h.9m6.6-3.1h.9m1.1 4.2h.9m-2.6 .7h.9m-3 .7h.9m-2.2-3.9h.9m2.3 2.2h.9m4.3 4.4h.9m-11.2-10.5h.9m-7.2 1.1h.9m4.8 .3h.9m2.3 1.8h.9m.1 3h.9m-1.9-1.3h.9m-.9-5h.9m-5.9 1.7h.9m7.9 1.7h.9m-.9-4.3h.9m-8.9 7.1h.9m1.8-2.9h.9m2.4 4.2h.9" stroke="#e82a1a" stroke-width="0.9" fill="none"/>
<polygon points="66.5,332.5 104.7,332.5 104.7,390.3 66.5,390.3" fill="none" stroke="#231f20" stroke-width="0.9"/>
<polygon points="104.7,332.5 135.2,332.5 135.2,390.3 104.7,390.3" fill="none" stroke="#231f20" stroke-width="0.9"/>
<polygon points="135.2,332.5 176.3,332.5 174.4,419.2 146.8,419.2 135.2,390.3" fill="none" stroke="#231f20" stroke-width="0.9"/>
<polygon points="146.8,419.2 174.4,419.2 174.4,462.9 146.8,462.9" fill="none" stroke="#231f20" stroke-width="0.9"/>
<text x="53.0" y="304.3">CD10<tspan dy="-3.5" font-size="6.5">+</tspan></text>
<text x="52.5" y="314.8">CD20<tspan dy="-3.5" font-size="6.5">–</tspan></text>
<text x="52.5" y="327.7">42.2</text>
<text x="110.8" y="304.3">CD10<tspan dy="-3.5" font-size="6.5">+</tspan></text>
<text x="109.2" y="314.8">CD20<tspan dy="-3.5" font-size="6.5">+</tspan></text>
<text x="109.2" y="327.7">32.9</text>
<text x="157.4" y="304.6">CD10<tspan dy="-3.5" font-size="6.5">+</tspan></text>
<text x="157.4" y="317.4">CD20<tspan dy="-3.5" font-size="6.5">++</tspan></text>
<text x="157.4" y="330.3">16.4</text>
<text x="98.9" y="437.9">CD10<tspan dy="-3.5" font-size="6.5">–</tspan></text>
<text x="98.9" y="447.5">CD20<tspan dy="-3.5" font-size="6.5">++</tspan></text>
<text x="98.9" y="460.3">1.08</text>
<text x="25.7" y="376.8" text-anchor="middle" transform="rotate(-90 25.7 376.8)">CD10</text>
<text x="124.4" y="482.8" text-anchor="middle">CD20</text>
<rect x="230.5" y="289.2" width="171.8" height="174.8" fill="none" stroke="#9a9a9a" stroke-width="0.9"/>
<line x1="230.5" y1="289.2" x2="230.5" y2="464.0" stroke="#444" stroke-width="0.9"/>
<line x1="230.5" y1="464.0" x2="402.3" y2="464.0" stroke="#444" stroke-width="0.9"/>
<line x1="226.2" y1="305.0" x2="230.5" y2="305.0" stroke="#231f20" stroke-width="0.7"/>
<line x1="226.2" y1="346.9" x2="230.5" y2="346.9" stroke="#231f20" stroke-width="0.7"/>
<line x1="226.2" y1="394.1" x2="230.5" y2="394.1" stroke="#231f20" stroke-width="0.7"/>
<line x1="226.2" y1="464.0" x2="230.5" y2="464.0" stroke="#231f20" stroke-width="0.7"/>
<line x1="228.1" y1="334.3" x2="230.5" y2="334.3" stroke="#231f20" stroke-width="0.5"/>
<line x1="228.1" y1="326.9" x2="230.5" y2="326.9" stroke="#231f20" stroke-width="0.5"/>
<line x1="228.1" y1="321.7" x2="230.5" y2="321.7" stroke="#231f20" stroke-width="0.5"/>
<line x1="228.1" y1="317.6" x2="230.5" y2="317.6" stroke="#231f20" stroke-width="0.5"/>
<line x1="228.1" y1="314.3" x2="230.5" y2="314.3" stroke="#231f20" stroke-width="0.5"/>
<line x1="228.1" y1="311.5" x2="230.5" y2="311.5" stroke="#231f20" stroke-width="0.5"/>
<line x1="228.1" y1="309.1" x2="230.5" y2="309.1" stroke="#231f20" stroke-width="0.5"/>
<line x1="228.1" y1="306.9" x2="230.5" y2="306.9" stroke="#231f20" stroke-width="0.5"/>
<line x1="228.1" y1="379.9" x2="230.5" y2="379.9" stroke="#231f20" stroke-width="0.5"/>
<line x1="228.1" y1="371.6" x2="230.5" y2="371.6" stroke="#231f20" stroke-width="0.5"/>
<line x1="228.1" y1="365.7" x2="230.5" y2="365.7" stroke="#231f20" stroke-width="0.5"/>
<line x1="228.1" y1="361.1" x2="230.5" y2="361.1" stroke="#231f20" stroke-width="0.5"/>
<line x1="228.1" y1="357.4" x2="230.5" y2="357.4" stroke="#231f20" stroke-width="0.5"/>
<line x1="228.1" y1="354.2" x2="230.5" y2="354.2" stroke="#231f20" stroke-width="0.5"/>
<line x1="228.1" y1="351.5" x2="230.5" y2="351.5" stroke="#231f20" stroke-width="0.5"/>
<line x1="228.1" y1="349.1" x2="230.5" y2="349.1" stroke="#231f20" stroke-width="0.5"/>
<line x1="228.1" y1="292.4" x2="230.5" y2="292.4" stroke="#231f20" stroke-width="0.5"/>
<line x1="228.1" y1="403.2" x2="230.5" y2="403.2" stroke="#231f20" stroke-width="0.5"/>
<line x1="228.1" y1="433.8" x2="230.5" y2="433.8" stroke="#231f20" stroke-width="0.5"/>
<line x1="228.1" y1="409.4" x2="230.5" y2="409.4" stroke="#231f20" stroke-width="0.5"/>
<line x1="228.1" y1="439.9" x2="230.5" y2="439.9" stroke="#231f20" stroke-width="0.5"/>
<line x1="228.1" y1="413.9" x2="230.5" y2="413.9" stroke="#231f20" stroke-width="0.5"/>
<line x1="228.1" y1="444.4" x2="230.5" y2="444.4" stroke="#231f20" stroke-width="0.5"/>
<line x1="228.1" y1="418.5" x2="230.5" y2="418.5" stroke="#231f20" stroke-width="0.5"/>
<line x1="228.1" y1="449.0" x2="230.5" y2="449.0" stroke="#231f20" stroke-width="0.5"/>
<line x1="226.2" y1="421.6" x2="230.5" y2="421.6" stroke="#111" stroke-width="0.8"/>
<line x1="226.2" y1="422.8" x2="230.5" y2="422.8" stroke="#111" stroke-width="0.8"/>
<line x1="226.2" y1="424.0" x2="230.5" y2="424.0" stroke="#111" stroke-width="0.8"/>
<line x1="226.2" y1="425.2" x2="230.5" y2="425.2" stroke="#111" stroke-width="0.8"/>
<line x1="226.2" y1="426.4" x2="230.5" y2="426.4" stroke="#111" stroke-width="0.8"/>
<line x1="226.2" y1="427.6" x2="230.5" y2="427.6" stroke="#111" stroke-width="0.8"/>
<line x1="227.5" y1="418.4" x2="230.5" y2="418.4" stroke="#222" stroke-width="0.6"/>
<line x1="227.5" y1="420.0" x2="230.5" y2="420.0" stroke="#222" stroke-width="0.6"/>
<line x1="227.5" y1="429.2" x2="230.5" y2="429.2" stroke="#222" stroke-width="0.6"/>
<line x1="227.5" y1="430.8" x2="230.5" y2="430.8" stroke="#222" stroke-width="0.6"/>
<line x1="296.0" y1="464.0" x2="296.0" y2="468.3" stroke="#231f20" stroke-width="0.7"/>
<line x1="343.5" y1="464.0" x2="343.5" y2="468.3" stroke="#231f20" stroke-width="0.7"/>
<line x1="389.0" y1="464.0" x2="389.0" y2="468.3" stroke="#231f20" stroke-width="0.7"/>
<line x1="310.3" y1="464.0" x2="310.3" y2="466.4" stroke="#231f20" stroke-width="0.5"/>
<line x1="318.7" y1="464.0" x2="318.7" y2="466.4" stroke="#231f20" stroke-width="0.5"/>
<line x1="324.6" y1="464.0" x2="324.6" y2="466.4" stroke="#231f20" stroke-width="0.5"/>
<line x1="329.2" y1="464.0" x2="329.2" y2="466.4" stroke="#231f20" stroke-width="0.5"/>
<line x1="333.0" y1="464.0" x2="333.0" y2="466.4" stroke="#231f20" stroke-width="0.5"/>
<line x1="336.1" y1="464.0" x2="336.1" y2="466.4" stroke="#231f20" stroke-width="0.5"/>
<line x1="338.9" y1="464.0" x2="338.9" y2="466.4" stroke="#231f20" stroke-width="0.5"/>
<line x1="341.3" y1="464.0" x2="341.3" y2="466.4" stroke="#231f20" stroke-width="0.5"/>
<line x1="357.2" y1="464.0" x2="357.2" y2="466.4" stroke="#231f20" stroke-width="0.5"/>
<line x1="365.2" y1="464.0" x2="365.2" y2="466.4" stroke="#231f20" stroke-width="0.5"/>
<line x1="370.9" y1="464.0" x2="370.9" y2="466.4" stroke="#231f20" stroke-width="0.5"/>
<line x1="375.3" y1="464.0" x2="375.3" y2="466.4" stroke="#231f20" stroke-width="0.5"/>
<line x1="378.9" y1="464.0" x2="378.9" y2="466.4" stroke="#231f20" stroke-width="0.5"/>
<line x1="382.0" y1="464.0" x2="382.0" y2="466.4" stroke="#231f20" stroke-width="0.5"/>
<line x1="384.6" y1="464.0" x2="384.6" y2="466.4" stroke="#231f20" stroke-width="0.5"/>
<line x1="386.9" y1="464.0" x2="386.9" y2="466.4" stroke="#231f20" stroke-width="0.5"/>
<line x1="287.8" y1="464.0" x2="287.8" y2="466.4" stroke="#231f20" stroke-width="0.5"/>
<line x1="260.2" y1="464.0" x2="260.2" y2="466.4" stroke="#231f20" stroke-width="0.5"/>
<line x1="282.2" y1="464.0" x2="282.2" y2="466.4" stroke="#231f20" stroke-width="0.5"/>
<line x1="254.8" y1="464.0" x2="254.8" y2="466.4" stroke="#231f20" stroke-width="0.5"/>
<line x1="278.1" y1="464.0" x2="278.1" y2="466.4" stroke="#231f20" stroke-width="0.5"/>
<line x1="250.6" y1="464.0" x2="250.6" y2="466.4" stroke="#231f20" stroke-width="0.5"/>
<line x1="274.0" y1="464.0" x2="274.0" y2="466.4" stroke="#231f20" stroke-width="0.5"/>
<line x1="246.5" y1="464.0" x2="246.5" y2="466.4" stroke="#231f20" stroke-width="0.5"/>
<line x1="265.5" y1="464.0" x2="265.5" y2="468.3" stroke="#111" stroke-width="0.8"/>
<line x1="266.7" y1="464.0" x2="266.7" y2="468.3" stroke="#111" stroke-width="0.8"/>
<line x1="267.9" y1="464.0" x2="267.9" y2="468.3" stroke="#111" stroke-width="0.8"/>
<line x1="269.1" y1="464.0" x2="269.1" y2="468.3" stroke="#111" stroke-width="0.8"/>
<line x1="270.3" y1="464.0" x2="270.3" y2="468.3" stroke="#111" stroke-width="0.8"/>
<line x1="271.5" y1="464.0" x2="271.5" y2="468.3" stroke="#111" stroke-width="0.8"/>
<line x1="262.3" y1="464.0" x2="262.3" y2="467.0" stroke="#222" stroke-width="0.6"/>
<line x1="263.9" y1="464.0" x2="263.9" y2="467.0" stroke="#222" stroke-width="0.6"/>
<line x1="273.1" y1="464.0" x2="273.1" y2="467.0" stroke="#222" stroke-width="0.6"/>
<line x1="274.7" y1="464.0" x2="274.7" y2="467.0" stroke="#222" stroke-width="0.6"/>
<path d="M314.1 396.2h.9m-8.6-24.8h.9m2.6 13.2h.9m-20.7-32.3h.9m6.9 5.3h.9m54.6 89h.9m-78.5-113.6h.9m85.9 110.7h.9m-99.8-79.3h.9m55.5 41.3h.9m30.8-9.3h.9m-27.1-41.8h.9m-21.7 22.8h.9m44.5 38.6h.9m-9.6-53.2h.9m-3.7 52.8h.9m-25.1-79h.9m-6.4 33.6h.9m-38.9-13.9h.9m7.9 3h.9m49.3 23.8h.9m16.1-10.2h.9m-22.2-26.5h.9m-14.8 26.6h.9m-6.5 5.7h.9m47.1 51.2h.9m-28.1-40.6h.9m36.3 54.9h.9m-20.2-47.6h.9m-14-3.6h.9m-8.9-22.9h.9m-5.3-23.3h.9m-2.7 10.9h.9m-10.6 7.6h.9m42.8 20.4h.9m-52.3-44.4h.9m12.8 39.4h.9m11.8 19.3h.9m-.5-34.2h.9m-22.3-6.8h.9m48.4 102.2h.9m-4.4-49.1h.9m-4 11.8h.9m-20.1-54.5h.9m-46.1-5.7h.9m67.4 41h.9m-20.8-45.7h.9m-4.6 40.5h.9m-30-35.7h.9m35.1 33.4h.9m-50.6-52.4h.9m40.6 17.6h.9m-77.5-.3h.9m78.8 10h.9m-15.8 4.7h.9m12.7-30.9h.9m33.5 76.3h.9m-94-83.8h.9m60.5 55.2h.9m-58-55.2h.9m49.5 62.1h.9m6.1-29.4h.9m-1-21.4h.9m16 100.5h.9m-5.2-53.8h.9m-20.7-28.2h.9m19 71.5h.9m-69.9-86.7h.9m69.6 61h.9m-10.5-35.5h.9m-44.7 40.2h.9m64.3 25.6h.9m-24.4-10.2h.9m-1.9-55.4h.9m-47.1-24.6h.9m41.3 52.9h.9m-40.5-42.6h.9m31.2 36.6h.9m-17.7-23.9h.9m25-9.4h.9m2 14.6h.9m21.8 43.5h.9m-12.8 3.1h.9m-58.9-67.3h.9m29.6 24.9h.9m-40.5-40.5h.9m70.1 18.8h.9m-33.1-14.9h.9m-2.4 23.2h.9m10.3-7.3h.9m-33.9-26.5h.9m34.4 8h.9m-35.1 16.4h.9m-23.8-13.9h.9m77.7 36h.9m-25.7-14.6h.9m8.3 22.8h.9m-6.7-23.4h.9m-29.5-21.9h.9m-25.6-4.8h.9m70.5 70.1h.9m14.1 7.9h.9m-112.9-68.6h.9m40.4-2.7h.9m1.5 32.1h.9m64.4 62.7h.9m-54.3-64.1h.9m17-15.1h.9m29.4 41h.9m-37-21.9h.9m-6.7 28.6h.9m11.7-41.7h.9m5.3-15.1h.9m-23.5-9.2h.9m24.9 11h.9m-21.8-12.5h.9m20.1 77.3h.9m20.7-51.6h.9m-78.6-7.4h.9m28-20.3h.9m-8.4 23.8h.9m42.6 40.1h.9m10 12.2h.9m-52.7-40.1h.9m48.5-6.3h.9m-81.4-1.1h.9m57.1-1.5h.9m-39-6.4h.9m-15.5-11.6h.9m25.4 32.7h.9m18.3 10.4h.9m16.5 20.7h.9m-9.2-38.4h.9m-6.8-11.3h.9m-14.2 3.2h.9m11.2-4.7h.9m-23.2 1.8h.9m47.4 68.7h.9m-41.3-25.2h.9m32.4 7.6h.9m-49.9-48.9h.9m7.6-18.5h.9m-3.8 7.5h.9m11.6 .8h.9m9.5 47.4h.9m27.2-52.4h.9m-40.1 52.4h.9m32.4-63.8h.9m-68.8-12.2h.9m44.2 66.7h.9m35.9-23.4h.9m-8.2 75.3h.9m-17.7-37.4h.9m30.6-62.6h.9m-12.7 4.4h.9m-44.7 29.3h.9m27.7-29.5h.9m-9.5 3.4h.9m-1.5 .5h.9m-23.3 35h.9m-13.8-60.3h.9m52.3 61.3h.9m-53.3-53.9h.9m-8.4 37.2h.9m-6.3-56.4h.9m52.9 93.9h.9m-44.5-38.8h.9m7.3-12h.9m49.6 7.6h.9m-7.8 11.2h.9m-27.9-24h.9m44.3 70.7h.9m-99.6-83.3h.9m61.5 36.4h.9m6 42.4h.9m7.5-58.3h.9m-9.2-33.9h.9m-52.5 16.8h.9m61.3 61.1h.9m-25-21.9h.9m19.8 26h.9m-58.7-49.2h.9m47.7 40.4h.9m-9.8-16.6h.9m-2.4-43.6h.9m20.6 22.3h.9m3.2 29.8h.9m-16.5-18.2h.9m22.7 29.9h.9m-75.4-50.6h.9m34.5 28.9h.9m-.2 1.9h.9m17.8 41.6h.9m-24.4-95.3h.9m45.5 2.3h.9m-20.9 35.5h.9m-.1-24.8h.9m-29.3 57.7h.9m26.6 15.5h.9m-35.9-65.3h.9m-4.2-23.7h.9m44.4 14.2h.9m-30.8 48.6h.9m30.7 47.1h.9m-22.5-85.2h.9m4.9 43.2h.9m-41.6-30.5h.9m8.8 45h.9m51.6-53.9h.9m-17.5 3.9h.9m26.2 69.8h.9m-5.4-13.3h.9m-36.8-65.6h.9m2.9 38.1h.9m-6.4 26.6h.9m15.3-56.1h.9m12.9 7.4h.9m-43-44h.9m-14.7 16.5h.9m45.7 59.1h.9m-23.9-40.6h.9m-53.7-13.9h.9m64.3 25h.9m14.6 54.7h.9m-12.9-34.6h.9m26.4-24.2h.9m-19.8 87h.9m-8.2-88.5h.9m-33.1 38.8h.9m1.8-66.6h.9m16.4-15.9h.9m-6.6-1.5h.9m26.1 59.4h.9m-23.9 23.2h.9m-57.8-61.5h.9m1.5 12.2h.9m56 33h.9m-45.1-27.5h.9m26.9 2.1h.9m.6-16.6h.9m40 106.3h.9m-19.9-85h.9m-30.4-22.4h.9m9.3 52.3h.9m29.3 13.9h.9m-17.4-29.5h.9m40 59h.9m-109.6-78.8h.9m76.4 7.9h.9m-38.8-4.1h.9m-23.4-12h.9m85.7 99.1h.9m-74.3-73.9h.9m29.3 39.9h.9m-35.7-74.5h.9m37.7 49.9h.9m-6.7-53.1h.9m29.6 99.2h.9m-68.2-86.7h.9m68.8 61.3h.9m-8.7-19.3h.9m-51.2-27.8h.9m.9-20.4h.9m33.3 12.5h.9m-35.1-17.6h.9m29.5 24.4h.9m-12.7-14.6h.9m.8 5.9h.9m-27.8-1.9h.9m62.6 82.7h.9m-44.6-97.5h.9m36.3 53.6h.9m-23.9 2.6h.9m16.2-47.2h.9m-63.6-5.8h.9m58.6 43h.9m-64.8-69h.9m-.5 12.8h.9m58.3 69.1h.9m9-39.2h.9m-46.2-3.7h.9m42.9 73.4h.9m-15.9-78.1h.9m-.9 18h.9m-25.6 11.7h.9m-6.1-31h.9m-1.2 13.5h.9m-8.9-9.3h.9m27.1 20h.9m-6.5 .9h.9m-30.6-23.5h.9m66.7 12.1h.9m12.5 59.7h.9m-34.2-64.5h.9m28 58.7h.9m-22.7-55.7h.9m-33.4-7.6h.9m-2.8-10.2h.9m26.8 10.5h.9m-52.7-.2h.9m54.4-.2h.9m-9.7 23.1h.9m-12.3 31.1h.9m-26.8-47.7h.9m71.4 79.6h.9m-38-24.5h.9m-23.6-60.6h.9m8 57.8h.9m56 5h.9m-36.4 2.5h.9m-13.5-58.3h.9m44.2 69.7h.9m-47.5-18.6h.9m28.4-20.7h.9m-66.2-30.6h.9m45.1 15.9h.9m-19.9-37h.9m-23.9 18.3h.9m7.4-22.5h.9m64 80.1h.9m-18.1-12.2h.9m-18-23.5h.9m-7.9-4.3h.9m16.9 8h.9m-46.1-19.3h.9m39.3 13.7h.9m32 40.9h.9m-54.5-42.8h.9m5.2-3.9h.9m-32.1-10.5h.9m-16.1-40.5h.9m46.7 42.9h.9m-30.2-16.9h.9m31.3 36.4h.9m39.4 24.3h.9m-30.2-2.5h.9m-4.9-43.8h.9m6.6 6h.9m4.8-46.2h.9m15.3 130.7h.9m-33.1-136.1h.9m9.4 96.8h.9m-59-72.4h.9m44.5 11.1h.9m27.2 49.1h.9m-73.8-44.6h.9m22.9 8.1h.9m52.3 52.1h.9m3.7-67.3h.9m-4.4-13.8h.9m-71.9-14.3h.9m63 38.7h.9m7.6 56.4h.9m-40.8-2.7h.9m29.2 6.4h.9m-21.2-33.7h.9m20.6-30.4h.9m7.9 23.9h.9m-61.8-23.6h.9m63.9 8.1h.9m-31.8-35.1h.9m-21.3 3.8h.9m5.2 16.6h.9m7 11.5h.9m6.5 .4h.9m1.8 42.1h.9m-12.9-53.1h.9m-22.3 18.5h.9m-7.6-2.2h.9m-14.2-19.8h.9m76.5 85.4h.9m-16.6 1.6h.9m.6-68.2h.9m-47.2-18.1h.9m49.7 50h.9m23.9 17h.9m-54-68.5h.9m5.6 45.5h.9m-26.2-33.9h.9m-26.1-12.5h.9m93.2 102.9h.9m-85.8-114.2h.9m34.8 49.9h.9m-51.3-47.4h.9m57.9 29.5h.9m-14.1 21.9h.9m-25.5-25h.9m8.4-36.1h.9m52.4 107.8h.9m-53-71h.9m44.9-8.2h.9m-44.1 9.3h.9m15.1-8.6h.9m-36.2-24.5h.9m-7.4 12h.9m43.3-8.9h.9m-27.1 30.6h.9m69.2-11.6h.9m-90.7-18.1h.9m78.8 87.9h.9m-42.6-83.6h.9m33.5 106.6h.9m1.8-49.1h.9m-43.3-24.7h.9m34.4 1.9h.9m-.7-4.7h.9m-27.1-14.9h.9m19.8 28.5h.9m-18.1-32.2h.9m47 32.4h.9m-9.9-25.7h.9m-70.5 11.7h.9m48.9 4.9h.9m6.8 1.3h.9m.5-14.8h.9m-26.7-23.6h.9m27.1 47.4h.9m-25.6-9.7h.9m-38.8-36.7h.9m66.8 51.6h.9m-12-26.1h.9m-8.4 75.9h.9m-10.1-47.5h.9m-.7-41.7h.9m-52.2 9.7h.9m56.5-18.3h.9m5.3 39h.9m3 17.8h.9m-22.1-17.6h.9m-12.3 10.8h.9m16.2-33.1h.9m-.4 43.4h.9m11.7-36.5h.9m8.1 58.1h.9m-42.5-67.6h.9m-36.7-5.6h.9m17.1-1.4h.9m53 26.4h.9m-61.6-35.3h.9m31.9 20.8h.9m43.4 57.4h.9m-48.4-47.2h.9m44 58.2h.9m-30.7-42.4h.9m-39.8-16.1h.9m-32.1-15h.9m17.7-14.3h.9m40.1 6.3h.9m26.6 4.8h.9m-3.9 14.2h.9m1.8-32.4h.9m-51.1 17.3h.9m45.4 7.6h.9m10.1 21.5h.9m-21-34.7h.9m-56.9-2.3h.9m67.5 43.7h.9m20.9-20.8h.9m-88.3-18.9h.9m4.3 .4h.9m49 39.3h.9m-55.4-35.4h.9m61.5 31.9h.9m-53-27.8h.9m10.2-6.2h.9m33.2 2.9h.9m-.7 63.9h.9m8.9-66.3h.9m-9.4 6.8h.9m12.2 66.7h.9m-63.1-81.8h.9m64.4 78.9h.9m-72.8-57.8h.9m-4.2-20.7h.9m26.6 7.8h.9m37.9 40.4h.9m-9.6-9.4h.9m-49.6-27.4h.9m51.1 49.8h.9m-13.6-38.9h.9m13.2-33.4h.9m-28.2 67.8h.9m-8.4-32.1h.9m-4-1.7h.9m-5.6-18.7h.9m59.4 8.3h.9m-4.4 50.2h.9m-42.7-13.8h.9m37.5 40.2h.9m15.8-50.5h.9m-8.8 43.9h.9m-83.2-66.8h.9m60.2 14.3h.9m11.6 22.8h.9m-67.5-51.7h.9m25 12.8h.9m48.6 64.6h.9m-24.4-29.1h.9m6.8-35.2h.9m-64.6-1.6h.9m43.9 16.8h.9m-31.6 20.7h.9m66.4 39.9h.9m-50.3-78.5h.9m43.6 82.7h.9m-44.6-98.2h.9m-28.3 1.2h.9m20.2 4.3h.9m-26.7 5.1h.9m34.2 11.8h.9m15.4 27h.9m-24.2-40.3h.9m-2.8 6.2h.9m36.9 30.7h.9m-24.6-4h.9m4.1-23.9h.9m20.1 64h.9m-56.2-20.2h.9m15.1-58.7h.9m14.2 62.6h.9m27.6 5.6h.9m-20.9-62.4h.9m-8.1 54.4h.9m-12.2-63.4h.9m35.5 29.9h.9m10.1 41.7h.9m-9 9.5h.9m-65.5-69.2h.9m19 23.6h.9m29.8-11.7h.9m-15.2-25.6h.9m-7.4 55.5h.9m5.8-30h.9m-14.5 13.8h.9m42.8-24.7h.9m-71.9-23.1h.9m11.5 26.3h.9m65.8 87.9h.9m-11.9-29.8h.9m-.8-5.9h.9m-24.8-7.9h.9m-22.9-49.4h.9m-24.8 1.7h.9m52.4-2.9h.9m18.7 57.1h.9m-17-12.4h.9m-36.1-43.3h.9m-10.7 32.2h.9m-12.1-28.4h.9m18.6 14.7h.9m46.8 19.9h.9m-41 6.5h.9m-3.8-39.5h.9m-18.5 10.9h.9m8.7-12h.9m47.1 8.2h.9m-9.1 52.1h.9m26.7-51h.9m-72.6-9.1h.9m49.9 42.9h.9m-58.4-36.2h.9m-2.8-12.5h.9m43-3.6h.9m-10.5 4.4h.9m-4.7-1.6h.9m-41.2-2.1h.9m19.5 49h.9m23.7 6.4h.9m-19.5 7h.9m17.7-62.6h.9m30.6 83.6h.9m-46.8-47.9h.9m50.2 58.4h.9m-4.4-79.1h.9m-22.5 39.7h.9m5.7-10h.9m-74.1-43.5h.9m34.8-7h.9m49.9 93.1h.9m-18.6-61h.9m-51.4-30.4h.9m31.6 21.4h.9m3.6-8.4h.9m-14.3-.4h.9m46.2 23h.9m-70.8-18h.9m69.3 25.5h.9m-79.6-36.5h.9m77.3 2.4h.9m-26.5-16.4h.9m-28.6 7.1h.9m31.4 19.7h.9m6.7 4.8h.9m-3.2-35.9h.9m-9.6 67.3h.9m18.9-10h.9m-68.7-50.2h.9m54.3 43.7h.9m-17.2-2.8h.9m-19-21.7h.9m44.4 29.6h.9m-54.1-15h.9m72.1 73.9h.9m-12.3-90.1h.9m-2 89.7h.9m-53.1-80.9h.9m59.2 56.8h.9m-76.3-67.4h.9m57.4 70.7h.9m1.2-61.4h.9m13.2 37.5h.9m-21.6 13.2h.9m-10.5-77.1h.9m-50.1 21.7h.9m55.3-22.3h.9m-1 27.3h.9m-57.4-16.4h.9m80.7 49.9h.9m-53.2-21.1h.9m-15-18.4h.9m-17.2-26.3h.9m27.6 31.7h.9m-33.2-15.4h.9m65.3 20.8h.9m-36.1-20.6h.9m34.5-12h.9m-29.3 82.7h.9m13.4-79.5h.9m-11.4 38.7h.9m42.5 30h.9m3.3 39.9h.9m-93.9-90.4h.9m54.8 12.6h.9m-33.1-34.3h.9m23.8 41h.9m-30.9-20.7h.9m32.7 1.9h.9m-48.5-5.2h.9m24.7 3.4h.9m11.5 43.2h.9m-13.5-52.3h.9m-44.8 16.6h.9m98.9 65.6h.9m-59-86.6h.9m-32.7 6.6h.9m71.6 57.4h.9m19.6-7h.9m-46.1 15h.9m3.7-57h.9m-47-16.5h.9m2.8 31.8h.9m20.3-25.2h.9m54.3 50.1h.9m-34.3-49.9h.9m-15.6-7.8h.9m-25-3.7h.9m30.7-6.2h.9m43.9 53h.9m-40 11.6h.9m-17.4-19.7h.9m15.2-22h.9m-.1 5.1h.9m-22.5-9.6h.9m3.9 64h.9m50.4 32.6h.9m-4.4-30.7h.9m-64.6-49.9h.9m-5.3-20.9h.9m74.9 102.7h.9m-8.5-95.1h.9m-8.6 1.5h.9m-1.1 14.1h.9m-79.1-16.9h.9m45.4 10.7h.9m53.2 65.7h.9m-30.3-66.6h.9m4-20.1h.9m-4.2 12.5h.9m13 51.3h.9m-38.3-32.4h.9m-37.8-17.2h.9m-7.7-7.8h.9m20.3 13.4h.9m28.3-17.9h.9m-56.1-6.9h.9m.5 4.4h.9m53 64.5h.9m19.3-27.6h.9m-30.4-5.7h.9m31.2 9h.9m21.8 70.1h.9m-45.7-85.1h.9m34.3-4.1h.9m-21.5 5.4h.9m-34.1-15.3h.9m26.6 19.1h.9m20.6 16.2h.9m15.9 45.2h.9m-69.5-48h.9m7.8-48.8h.9m50.6 20.2h.9m2.8 99.9h.9m-16.8-28.3h.9m-20.4-30.8h.9m10 7.6h.9m-54-54.5h.9m18.8 .7h.9m49 69.6h.9m-10.9-41.4h.9m5.6 13.3h.9m-59.6-41.8h.9m52.3 20.9h.9m-38.2-19.8h.9m-20.2 14h.9m9.3-3h.9m-12.5-7.8h.9m-15-7.6h.9m38.7 17.3h.9m38.2 32.6h.9m-27.9 9h.9m-29.2-54.4h.9m-3.2 40.7h.9m24.1 3.1h.9m-40.4-45.9h.9m-4.2 23.1h.9m70.8 65.6h.9m-84.8-114.2h.9m69 40.8h.9m-26.5-2.9h.9m-38.9-17.2h.9m64.4 43.4h.9m1.2-21.4h.9m-1-7.1h.9m-40.1-.8h.9m15.3-14h.9m30.4 74.5h.9m-15-32.1h.9m-17.4-13.7h.9m-9.2 39.1h.9m13.1-61.7h.9m-21.2 12.3h.9m11.3-17.8h.9m-10.8 64h.9m18.1-28.4h.9m-7.9-9.9h.9m38.9-13.8h.9m-77.1-3.6h.9m64.2 2.4h.9m-78.6-9.5h.9m71.8 39.5h.9m-34.9-26.1h.9m-9-9.1h.9m14.6 50h.9m40.8-39.5h.9m-29 5.7h.9m-38.6-7.6h.9m34.6 46.8h.9m-31.3-71.5h.9m6 71.6h.9m23.2-11.4h.9m40.3 28.2h.9m-29.1-72.8h.9m.3 8.7h.9m15.8 76.7h.9m-45-17.5h.9m16.6-69.1h.9m-41.5-2.1h.9m2.7 57.3h.9m3.3-64.9h.9m8.8 54.1h.9m20.1 19.1h.9m-46-57.2h.9m30.7-16.1h.9m3.2 13.5h.9m10.6 40.2h.9m11.5-50.5h.9m-3.6 75.1h.9m-31.7-69.8h.9m2 1.2h.9m25.2 21.2h.9m-.2 10.7h.9m16.6-30.6h.9m-52.2 46.9h.9m.2-36.4h.9m-12.4-7.7h.9m61.7 9.4h.9m-72.1 55.2h.9m1.7-75.6h.9m2.8 23.9h.9m-3-24.9h.9m-1.2 22.8h.9m69 64.3h.9m-34.4-19.7h.9m27.2-8.2h.9m-23.3 2.2h.9m-2.8-41.3h.9m-36.6-20.5h.9m49.3 104.6h.9m-24.5-64.3h.9m10.8-32.3h.9m26 16.4h.9m-33.9 28.9h.9m-19.1-58.8h.9m4.7 74.8h.9m3-82.1h.9m-7.4 78.4h.9m36.3-21h.9m9.3 36.3h.9m-26.4-39h.9m-63.7-41.9h.9m21 32.1h.9m-15.4-20.2h.9m74.3-5.9h.9m4.8 99.9h.9m-27.9-60.6h.9m11.3-38.2h.9m-2.4 34.8h.9m10.5 14.5h.9m-52.2-35.8h.9m31.1 36.3h.9m4.3-7h.9m-71.6-45h.9m4.5-15.9h.9m10.2 5.6h.9m-.8 6.3h.9m28.8 9.2h.9m15.8 26.4h.9m11.2 14.2h.9m-38.8-2.5h.9m37-25.2h.9m-88.2-.8h.9m78.9 70.2h.9m-52.7-82h.9m-15-6.7h.9m62.1 79.2h.9m-8.4-65.9h.9m-4.2 4.3h.9m11.6 16.5h.9m-25.4 21.1h.9m-23.3-40h.9m60 18.9h.9m-50.2-22.6h.9m2.4 27.9h.9m39 44.8h.9m11.1-25h.9m-62.1-62.2h.9m28.7 37.7h.9m25.7 21.5h.9m-11.4-75.9h.9m22.6 50h.9m-19.5 5.2h.9m-61.5-47.1h.9m22.3 76.5h.9m-37.6-49.7h.9m61.1 25.7h.9m-10.1 0h.9m32.1 51h.9m-44.8-25.3h.9m-19.1-35.7h.9m11.8-16.5h.9m-45.4-10.3h.9m6.5 19.1h.9m32.3 22h.9m-18.7-36.6h.9m-11.3 44.4h.9m76.6-36.4h.9m-1.4 98h.9m2.6-47.6h.9m-50.8-54.8h.9m21.5 23.7h.9m30.3 55.2h.9m-38.3-63.5h.9m12.1 45.5h.9m-26.1-31.8h.9m-1.3-30.1h.9m30.8 77.6h.9m-21.6-71h.9m20.1 12.4h.9m-53.1-36.1h.9m45.4 39.6h.9m-60.4-23.1h.9m40.2 8.2h.9m-48.7-8.5h.9m12.1 10.7h.9m85 64.3h.9m-20-64.6h.9m-64.7-20.3h.9m50.2 30.5h.9m19.5 36.1h.9m-.9 49.1h.9m-15.3-60.5h.9m-35.3-63.9h.9m32.3 47.8h.9m-39-35.8h.9m14.3 27.7h.9m-12.7-54.7h.9m14.7 43.5h.9m21.4-17.8h.9m1 9h.9m-67.2-14.6h.9m58.8 3.4h.9m-10.8 54.2h.9m.5 15.8h.9m8.8-35.8h.9m-33.6-26.9h.9m6-.6h.9m34.4 104.3h.9m-51-47.9h.9m-2.9-.5h.9m48.3-55.9h.9m6.8 66.8h.9m-46.6-78.1h.9m-27.2 18.5h.9m75.9 14.1h.9m-20.2-8h.9m-49.3-17.4h.9m24.4 50.6h.9m13.5 25.9h.9m-27.3-52.2h.9m57.7 64.3h.9m-25.8-79.4h.9m-51.2 9.2h.9m31.1 19.7h.9m16.8-28.5h.9m.4 73.4h.9m2.5-1.3h.9m-42.9-17.6h.9m44.1 9.4h.9m-58-61.4h.9m52.5 90.8h.9m-9.7-43h.9m9-32.1h.9m-44.7-23.2h.9m-19.2 16.5h.9m57.9 30.2h.9m-34.7-67.7h.9m10.7 68.6h.9m33.3 2.5h.9m-20.5-22.9h.9m10.7 28.7h.9m-47.5-52.5h.9m-13.5 8.2h.9m54.4-5.9h.9m-44.2-16.2h.9m4 6.7h.9m35 87.6h.9m5.5 18.1h.9m-60.8-98.2h.9m39.2 5.2h.9m-52.8-17.5h.9m75.1-9h.9m18.1 91.1h.9m-28.4-35.6h.9m-16.6-9.4h.9m27 30.1h.9m-35.8-19.7h.9m32.9-15.3h.9m-33.1 25.2h.9m-40.6-35.1h.9m66.3 21.5h.9m-43.5-38.8h.9m21.4 18.3h.9m-4.1-.7h.9m46.6 15.8h.9m-44.1-21.3h.9m-58.2-16.4h.9m58.9 4.6h.9m21 34.1h.9m-46.2-47.5h.9m15.2 24.2h.9m-22.6 16.4h.9m-11.6-15h.9m-18.8-14.8h.9m88.8 23.8h.9m-9.8 6.2h.9m-67.1-6.5h.9m41.9-24.6h.9m8.8 24.3h.9m25.8 72.7h.9m-92-94.3h.9m54.4 1.3h.9m-31.5 26.8h.9m48.5 81.1h.9m9.7-19.3h.9m-46.8-86.1h.9m19.2 .9h.9m-35 15h.9m13.9-21.2h.9m-42.6-5.1h.9m49.3-2.1h.9m23.4 70.1h.9m-3.2-58.9h.9m-29.8 15.8h.9m-46-1.8h.9m90.4 63.5h.9m-32.9-12.8h.9m-39.7-74.9h.9m18.2 44.9h.9m29.9-18h.9m-53.7-9h.9m52.2-3.1h.9m-8.4 20.2h.9m21.4-1.8h.9m-82.6-14.3h.9m39.8-9.7h.9m33.2 5.6h.9m-8.8-8.5h.9m24 70.2h.9m-14.3-54.2h.9m-28.2 16.5h.9m7.2-26.6h.9m-21.9 38.7h.9m38.9 47.3h.9m-65.2-96.1h.9m42.3 46.3h.9m-33.9 25.9h.9m45.5-37.5h.9m-30.5-14.7h.9m18 9h.9m-57.8-30.5h.9m24.3 48.6h.9m28.6 11.4h.9m-4.2-7.8h.9m16.7-15.5h.9m-69.3 3.3h.9m5.5-24.6h.9m6 49.3h.9m32.1-75h.9m32.8 83.1h.9m-20.3-44.2h.9m-23.5-11.8h.9m-12.9-2.8h.9m4.6 43.7h.9m19.1-38.1h.9m5.6 13h.9m27.2 3.5h.9m-8.7 60h.9m-96.4-59.5h.9m98.2 66h.9m-50.4-95.1h.9m-2-4.3h.9m-22 60.2h.9m34.8-17.5h.9m26.9-21.8h.9m-3.5 45.3h.9m9.8-7.8h.9m-15.9-42.6h.9m-43 20.3h.9m3.8 6.3h.9m3.3-39.1h.9m27.4 18.9h.9m17.7 84h.9m-4.4-9h.9m-23.2-61.5h.9m26.9-7.9h.9m-4.4 86.4h.9m-9.4-94.6h.9m-2.8 44.9h.9m-46.5-46.6h.9m-13 1.6h.9m44.8 28.3h.9m-24.1-34.9h.9m29.2 77.9h.9m-5.9-86h.9m-50.9 5.6h.9m45.7 52.4h.9m30.8 38.9h.9m-54.5-71.7h.9m-14.8-2.9h.9m18.9-4h.9m22.6 34.1h.9m-62.3-50.2h.9m65.8 61.1h.9m-62.4-70.2h.9m12.5-1.1h.9m54.5 41.8h.9m-60.8-20.7h.9m25.5 41.9h.9m12.2-82h.9m-19.2 23.6h.9m-3.9 17.6h.9m-32.1-19h.9m37.2-4.4h.9m6.6 30.3h.9m-20.6 31.6h.9m20.8-33.3h.9m21.1 59.1h.9m-67.1-75.5h.9m57.1 50.5h.9m-46.8-57.2h.9m51.8 45.4h.9m-42-29.9h.9m47.2 65.2h.9m-10.5-82.3h.9m-37.7 17.2h.9m-2.2 3.7h.9m47.4 78h.9m-66.9-82h.9m2-22.6h.9m13.4 24.3h.9m-19.3 6.2h.9m62.6 62.4h.9m-44.5-75.6h.9m-25.6 7.2h.9m28.5-25h.9m7.9 57h.9m-53.1-50.9h.9m69.3 67.9h.9m16.6-46.7h.9m-11 78.9h.9m7-50.4h.9m9.8 33.6h.9m-20.2-12.2h.9m2.1-50.6h.9m-14.2 22h.9m-49.6-6.3h.9m72-6.4h.9m-91-26.7h.9m19.4-3.5h.9m1.3 8.6h.9m-13.4-2.2h.9m7.2 4.3h.9m60.5-3.2h.9m-45.3 1.3h.9m33.7 49.1h.9m-.6 37.5h.9m-7.6-54.7h.9m14.4 29.7h.9m7.5-40.7h.9m-6.7 2.7h.9m-45.2-24.9h.9m-28.1-9.8h.9m39.7 39.3h.9m14 7.7h.9m-18.4-54.4h.9m-26 58h.9m71.2 56.8h.9m-26.8-48.2h.9m-24.3-54.9h.9m37.3 60.6h.9m-34.1-3.5h.9m-2.2 10h.9m35.4-40.2h.9m-28.6 31.5h.9m16.5-10.7h.9m11.7 46.3h.9m-63.2-80.2h.9m21.3-19.3h.9m-44.1 7.4h.9m-.2-16.4h.9m29.7 20h.9m8.5-3.2h.9m53.4 66.9h.9m-15.1-69.8h.9m-66.9-2.1h.9m-18.3 18.3h.9m81.8 7.7h.9m-60.4-7.9h.9m49.2 14.8h.9m-7.7-20.4h.9m26 30.6h.9m-83.4-37.2h.9m41.9 47.5h.9m3-3.6h.9m-52.4-49.5h.9m54.2-8.9h.9m-14.3 64.2h.9m27.5-28.6h.9m-22 1.8h.9m6.6-16.9h.9m9.8 85.9h.9m1.6-15.9h.9m-26.9-81.3h.9m12.3 34.2h.9m21.1 47.8h.9m-46.1-68.7h.9m8.3-4.6h.9m1.9 5h.9m17.4 6.3h.9m-26.8-5.9h.9m46 23.5h.9m-60.8-24.1h.9m24.5 21.7h.9m-19.9-18.8h.9m18.1-2.4h.9m-38.6-10.7h.9m26.1 9.9h.9m-3.7 50.6h.9m-37.6-48.5h.9m53.6 15.5h.9m-56.3-23h.9m26.6 10.7h.9m52.1 93.3h.9m-15.8-34.6h.9m-39.9-65.1h.9m35.9 19.7h.9m14.8-13.6h.9m-46 40.4h.9m21.9-13h.9m19.9 39.3h.9m-57.2-70.9h.9m44 52.9h.9m-67.9-54.2h.9m50.4 17.9h.9m-30.3-5.6h.9m43.3-34h.9m-56 24.3h.9m16.4 3.6h.9m33 14.2h.9m1.4 36.8h.9m20.3-30.1h.9m-30.6-22h.9m31.1 100.6h.9m-43.2-88.7h.9m37 55h.9m-49-92.5h.9m42.1 91.8h.9m-13.9-34.2h.9m3-5h.9m-71.2-51.3h.9m18 69.1h.9m28.7-58.4h.9m-29.9 47.9h.9m43.8-13.1h.9m-14.6-24.3h.9m14.8 12.5h.9m-3.2 6.1h.9m-51.8 19.8h.9m68.9 16.2h.9m-53.1 11.4h.9m22-89.9h.9m-19.9 36.5h.9m47.7 21.5h.9m-4.3 44.7h.9m-11.2-31.8h.9m5.7 38.8h.9m-61.4-83.5h.9m4.7-9.7h.9m-16-11.8h.9m43.4 27.3h.9m14.4-.5h.9m-27.9-28h.9m22.2 35.2h.9m-31.6-4.3h.9m7.2-11.1h.9m16.7 28.2h.9m9.4 8.9h.9m-26.1 17.5h.9m9.1-22.1h.9m-26.9-43.9h.9m11.5 17.6h.9m-7.6 16.4h.9m32.9 49.2h.9m-61.2-57.4h.9m-1.6-3h.9m63.7 31h.9m-33.9-39.2h.9m-53.6-17.3h.9m65.9 28.5h.9m-5.9 6.3h.9m.5 8.7h.9m-57.2-33.1h.9m96.5 47.4h.9m-39.3-24.9h.9m-22-27.9h.9m8.8 14.6h.9m-6.1 24.6h.9m-.1-20.9h.9m49.2 90.4h.9m-40.5-69.1h.9m18.6-45.5h.9m-4.6 45.5h.9m-53.7-30.2h.9m22.2-12.1h.9m-.9-4.5h.9m9.9 38.8h.9m-18.5-44.1h.9m26.7 43.8h.9m24.1 45.7h.9m-34.5-52.1h.9m-6.5-22.3h.9m38.3 57.7h.9m-16-13.6h.9m1.4 12.5h.9m22.3-49.6h.9m-100 5.8h.9m67.8 29.8h.9m25.7 38.1h.9m-16.3-58.9h.9m-10.9 24.6h.9m-6.8-31.8h.9m22.4 58.8h.9m-28.9-10.2h.9m37.2-31.5h.9m-31.4 30.2h.9m-8.2-36h.9m12.4-7.3h.9m23 50.4h.9m-50.6-25.6h.9m-42.1-22.9h.9m50.1-42h.9m19.9 91h.9m-.1-3.2h.9m21.4-11h.9m-49.6 13h.9m.9-58h.9m20.3 35h.9m-45.2-22.3h.9m27.5-17.9h.9m-26.1 7.5h.9m6.1-1.7h.9m43.1 19h.9m20.8 61.1h.9m-86.3-75.4h.9m77.8 54.2h.9m-10.7 30.8h.9m-71.4-113.8h.9m2 31.3h.9m58.1 7.6h.9m-7.9-23.2h.9m15.6 78.1h.9m-70-68h.9m50.2 7.8h.9m-16.8-31.1h.9m.3 68.3h.9m29.4-20.8h.9m-31.2 32.9h.9m3.7-34.6h.9m4.1-11.8h.9m-18.8 41.1h.9m-5.7-14.1h.9m-2.7 6.4h.9m-2.3-61.7h.9m-26.4-7.7h.9m-8.9 31.3h.9m-14.9-31.1h.9m71.1 65.4h.9m-3.7 .5h.9m3.6-31h.9m-35.5-19.1h.9m25.1 38.3h.9m27.1 44.9h.9m-18.3-105.3h.9m1.6 45.8h.9m-26.4 49.1h.9m-13.7-76.3h.9m-8.4 12.7h.9m21.7 12.1h.9m32.6 44.4h.9m-10.4-43.8h.9m-1.4-16.9h.9m-34.3-9h.9m26.5 33.4h.9m18.7 10.9h.9m-56.2-59.5h.9m18 66.6h.9m-27.4-49.3h.9m32.4-5h.9m24.5-5.4h.9m-55.1 33.4h.9m4.2 12.7h.9m53.7 56.4h.9m-9.2-27.7h.9m-47.8-75.8h.9m33.3 8.6h.9m-22.9 6.7h.9m-2.1 1.5h.9m7.9 11.2h.9m41.7-20.7h.9m-73.1-6h.9m41.9 62.5h.9m-24-13.9h.9m-4.2-51.7h.9m-9.2 66.4h.9m62.6 21.2h.9m-44.2-27.5h.9m24.4-41.9h.9m-70.3 3.7h.9m91.1-18.6h.9m-18.9 39.8h.9m2.7 10.1h.9m-21.4-25.3h.9m-1.9 2h.9m-32.9 7.9h.9m.5-13.2h.9m32.3-20.7h.9m-8.2 4.9h.9m42.2 68.3h.9m-33.1 9.1h.9m-9.5-72.3h.9m13.5 22.3h.9m-56.4-19.4h.9m26.5 14.8h.9m38.1 49.3h.9m-49.7-70.3h.9m-15.3 29.5h.9m7.4-31.5h.9m29.1 34.9h.9m-42.9-47.3h.9m59 99.5h.9m-43.9-32.2h.9m28.7-38.1h.9m-28.4 27.9h.9m17.3-60h.9m21.7 61.8h.9m-24.2-43.1h.9m14.5 31.8h.9m-21.6-52.2h.9m28.2 20.3h.9m-22.5 23h.9m-26.1 9.4h.9m9-33.1h.9m37.9 42.3h.9m-14.1-35.4h.9m-14.3 7.3h.9m-12.9-1.2h.9m-14.4-6.6h.9m53.5 31.7h.9m-11-40.8h.9m-22.2 9.4h.9m44 73.3h.9m-79.6-82h.9m-1.5 15.6h.9m18.3 12.3h.9m.1-28.6h.9m-.4 77.9h.9m6.2-47.7h.9m21.5 6.1h.9m12.9 9.6h.9m4.2 22.9h.9m-77.5-48.3h.9m72.2 80.1h.9m-78.6-89.3h.9m-.9 .6h.9m64.4 14.5h.9m25 28.9h.9m-23.3-24.5h.9m-11.5-49.9h.9m-23.1 66.7h.9m29.5-1.3h.9m21.8 29.4h.9m-56.8-71.7h.9m-21.2 1.7h.9m67.8 47.2h.9m-29.9-52.8h.9m-16.6 23.2h.9m13.9 28.2h.9m17.8 8.9h.9m-1.9-37.9h.9m-1.4 20.3h.9m-41.7-36.8h.9m12.7 58.1h.9m22.9-44.9h.9m-36.8-18.1h.9m61 48.8h.9m-50.1-38.5h.9m11.2 43.4h.9m-18.2-.4h.9m-6.9-28.1h.9m46.1 53.1h.9m-41.9-21.5h.9m-8.5-56.2h.9m65.6 40.7h.9m-78.8-43.3h.9m46.8 34.5h.9m8-6.5h.9m-8.8 12.9h.9m-28.3 13.2h.9m52.9-10.7h.9m-29.1-26.9h.9m-14 40.7h.9m27.3 16h.9m-35.1-58.5h.9m-14.7-4.2h.9m-2.8 3.5h.9m45.8 5.1h.9m-54.4-.4h.9m22-17.7h.9m51.4 105.2h.9m-24.4-88h.9m-20.7 36.4h.9m-38.2-38h.9m32 10.2h.9m26.5 71.7h.9m-48.5-85.5h.9m-19.9-8.2h.9m17.1-7.4h.9m41.1 75.8h.9m2.3 26.8h.9m-14.5-99.5h.9m1.5 22.8h.9m-43.4-9.9h.9m60.7 74.2h.9m-24.4-28.9h.9m37.5-39.6h.9m-50.7 15.3h.9m21.7 22.9h.9m-39.9-65.4h.9m5.6 40.6h.9m-11.8 14.9h.9m-18.9-45.5h.9m78.4 25.4h.9m-53.6-18.7h.9m27 8h.9m-27.3 9h.9m38 24.7h.9m.6 15.7h.9m-12.7-3.1h.9m-37-78.1h.9m-18.5 26.2h.9m35.2 37.2h.9m-20.6-60.2h.9m57 39.3h.9m-43.5-33.1h.9m29.9 87.8h.9m-39.4-60.4h.9m15.5-19.4h.9m-48.7-.9h.9m35.2 38.6h.9m-8.4-40.1h.9m50.9 10.4h.9m-10.9 2.9h.9m-50.4 6.1h.9m31.2-6.6h.9m7.4 30.8h.9m-11.8 13.3h.9m-32.7-57.2h.9m-12.7-4.3h.9m37.9 62.6h.9m-.7-48.3h.9m-20.7 6.2h.9m24.1 1.4h.9m15.4 42.6h.9m-8.8-21.4h.9m5.1-1.5h.9m-27.6 22.8h.9m7.5-3.3h.9m-8.1-34.3h.9m28.7 10.5h.9m-41.6 5.9h.9m-9.2-35.7h.9m25.3-6.6h.9m23 18.6h.9m-30-4.7h.9m21.1 46.7h.9m-42-33.6h.9m18.6 38.3h.9m22.2-16.5h.9m-32.8-15.4h.9m33.1 51h.9m-11.3-40.4h.9m-.5-24.3h.9m-41.3 8.8h.9m34.8-25.9h.9m-19.5 .3h.9m30.5 36.2h.9m10.3 27.9h.9m-77.2-52.3h.9m19.7-14.4h.9m24.3 46.2h.9m-20.2-37h.9m-30.7-7.1h.9m36.8 16.9h.9m59.7 43.9h.9m-105-64.1h.9m8.7 27h.9m16.7-21.7h.9m63.8 54.4h.9m-4.7-53h.9m-11.2 26h.9m-51 .3h.9m44.9 2.3h.9m-26.5 29.3h.9m34.3-17.5h.9m-76.6-43.4h.9m87.8 75.9h.9m-79.9-82h.9m54.5 37.3h.9m-10.8-7.6h.9m-4.7-8.3h.9m-40.7 8.1h.9m-17.6-16.1h.9m71.2 33.2h.9m-66.2-29h.9m34.5 30.8h.9m33.5 18.6h.9m-16.1-7.1h.9m21.1-18.7h.9m-28.3-11.5h.9m-47.4-25.7h.9m63.8 71.5h.9m-32.6-52.7h.9m14.6-28.3h.9m22.2 43.7h.9m-31.5 28.7h.9m-41.1-55.7h.9m-1.2 15.5h.9m5.4-7.2h.9m8.8-3h.9m-4.5-12.3h.9m37-1.6h.9m-45.6 6.2h.9m10.8-13.7h.9m13.3 32.9h.9m12.4-11.6h.9m-16.6-8.4h.9m-42.3 15.1h.9m17.7 1h.9m60.6 39.7h.9m-79.9-61.4h.9m11.1 19.5h.9m-15.7-21.5h.9m44.4 15.8h.9m27.5 46.8h.9m21.8-50.5h.9m-22.8 38.5h.9m8.8-9.7h.9m-79.3-22.9h.9m50.9 51.4h.9m-37.6-44.8h.9m-19.4-7.9h.9m54.5-9.4h.9m-15.2-9.6h.9m-30.1 35.4h.9m61.1-2.8h.9m-16.1-32.1h.9m17.8 29.1h.9m-24.4-11.8h.9m-22.4 44.1h.9m-4.5-47.4h.9m69.7 80.5h.9m-92.7-84.2h.9m49.7 47.9h.9m28.1-31.4h.9m2.1 75.3h.9m-18.9-62.6h.9m6.3 44h.9m-29.4-16.8h.9m45.5 .8h.9m-14.2-66.5h.9m-49.5 26.3h.9m48.7 29.4h.9m-39.9-34.3h.9m15.3 5h.9m-19-17.1h.9m1.3 65h.9m-24.1-12.4h.9m23.3-38.9h.9m33.6-8.4h.9m-22.4 67h.9m-26.6-25.8h.9m41.3 6h.9m8.2-18.1h.9m15.1 1.5h.9m-37.1-42.2h.9m-58.4 9.8h.9m4.9 13.9h.9m91.4 58.8h.9m-90.7-57.5h.9m51.9-19.9h.9m-25.4 41.8h.9m-7.4-.9h.9m44.7-16.7h.9m-14.1-10.4h.9m-71.4-29.9h.9m37.4 14.8h.9m-1 7.5h.9m17.9-7.3h.9m22.2 9.4h.9m-9.6 46.7h.9m-25.9-71.4h.9m19.5 32.3h.9m36 7.6h.9m-35.7-13.9h.9m20 87h.9m-21.6-35.5h.9m11-54.1h.9m-2.2 40.9h.9m-37.9-43.5h.9m41.1 65.8h.9m-1.3 39.4h.9m-2.3-34.9h.9m-54.3-82.6h.9m-.1 16.4h.9m5.9-5.3h.9m64.4 87.4h.9m-16.3-80.6h.9m13.3 40.7h.9m-101.3-57.9h.9m76.2 42.9h.9m-25.4-17.7h.9m25 24.1h.9m-73.4-35.4h.9m4.6 2.8h.9m25.9-17.7h.9m22.6 38.3h.9m-42.1-35.4h.9m41.7-12.8h.9m3.9 25.3h.9m-25.4 1.3h.9m-38-33.3h.9m13.8 59.5h.9m51-37.6h.9m-44.7 30.2h.9m51 24.3h.9m7.9 25.2h.9m-26.1-46.2h.9m19.9-3.7h.9m-2.2-6.2h.9m-13.8 10.4h.9m20.7 29.3h.9m-54.5-60h.9m-1.5 1.2h.9m-22.3-3.5h.9m23 21.7h.9m30.9-10.7h.9m-12.5 59.2h.9m4.8-59.2h.9m-17.5 31.3h.9m-21.2-18.1h.9m63.6 61h.9m-85.7-78.6h.9m36.1 26.6h.9m-14-32.2h.9m-31.2 1h.9m27.8 8.6h.9m4.1 4h.9m39.4 26.6h.9m-7.4 26.7h.9m-7.8-20.8h.9m-59.5-42.5h.9m14.1-12.2h.9m51.3 13.4h.9m-51-1h.9m26.6-3.6h.9m-30 17h.9m57.2-29.2h.9m-62.7 13.4h.9m-13.5 9.1h.9m41.3-5.6h.9m49.2 46.3h.9m-30.9 .8h.9m13.1 12.5h.9m-6.6-44.2h.9m-18.4-19.5h.9m36.7 110.5h.9m-37.8-71.2h.9m-7.3-23.1h.9m-40-19.5h.9m57.3 36.5h.9m5.7-16.2h.9m-40-28.6h.9m20.9 48.9h.9m18.5-.9h.9m-13.2-30.3h.9m-33.6-5.6h.9m-22.7 2.4h.9m-3-18.4h.9m19 27.4h.9m-16.8-3.1h.9m65.5 59.7h.9m-61.2-80.4h.9m69.5 38.9h.9m-74.4-19.5h.9m.7-9.7h.9m-25.6 6.8h.9m62.8-20.8h.9m-49.6 34.4h.9m41.7-22.3h.9m-35.3 6.6h.9m90.3 78.8h.9m-36.9 2.5h.9m13-53h.9m-15.3-14.6h.9m-51.7-6.5h.9m47.3 51.4h.9m11.1-39.6h.9m10.2 87.8h.9m-5-67.1h.9m-61.3 10.7h.9m22.3 13.4h.9m21.2-21.4h.9m-32.7 5.7h.9m3.2 17.1h.9m18.1-50.8h.9m4.6-7.2h.9m-54-4.4h.9m71.4 71h.9m-63.1-58.5h.9m50.7-8.4h.9m-23.5 1.4h.9m14 32.8h.9m5.5 5.5h.9m-73.7-30.3h.9m80 .8h.9m-50.6-14.5h.9m5.8 19.1h.9m40.2 79.2h.9m-13.9-92.8h.9m-66.3-8.7h.9m64.4 22.2h.9m5.2 52.4h.9m-42.4-57.4h.9m55.5 52.1h.9m-37.4-70.1h.9m-22.5 8.4h.9m22.7-24.1h.9m21.1 72.1h.9m-32.8-35.4h.9m-46-16.4h.9m35.9 9.2h.9m-7-9.1h.9m15.3-5.5h.9m28.2 62.4h.9m-2.5-62.5h.9m-43.2 41.6h.9m-2.7-23.6h.9m.8 29.6h.9m34.6-28.5h.9m-44 2.5h.9m40.1 14.9h.9m4.1 8.5h.9m-4.6-37h.9m11.5 80.5h.9m.1-36.6h.9m-26-18.8h.9m-46.7-31.2h.9m52.1 16.7h.9m26.1 20.5h.9m-12.4-17.9h.9m-46.1 4h.9m20.1 28.6h.9m-18.2-61h.9m-35.4 28.7h.9m57.4 13.3h.9m-59.3-26.2h.9m7.3 3.3h.9m39.2 10.3h.9m-43.7-14.5h.9m47.3 53.3h.9m-7.7-13.4h.9m20.3 10.9h.9m-1.2-38h.9m-48.7-6.1h.9m55.9 80.1h.9m-42.9-85.7h.9m17.1 17.2h.9m6.6 3.2h.9m-49.1-7.5h.9m42.2-14.6h.9m8.3 3h.9m-2.5 6.8h.9m-67-5.6h.9m100.3 68.9h.9m-70.6-73.1h.9m6.7 45.6h.9m37.7-31h.9m-28.4 51.2h.9m-9.9-74.9h.9m39.6 2h.9m-43.5 67.3h.9m26-6.1h.9m-3.7-56.8h.9m-70.9 1.6h.9m41.6-8h.9m9.5 58.3h.9m42.6 6.7h.9m-17.7 22.1h.9m-43.7-68.9h.9m55.6-12.7h.9m-7.4 21.1h.9m-42.4 34h.9m43.8-8.8h.9m-8.5 42.2h.9m-4.9-21.7h.9m-62.7-71.3h.9m27.6 11.8h.9m9.7 5.4h.9m-28.8-14h.9m16 55.4h.9m.8-64.5h.9m54.6 32.8h.9m-34.2-1.1h.9m-17.2 14.4h.9m16.6 .1h.9m-29.5-33.3h.9m-24.8-7.4h.9m37.5 10.4h.9m19.7 46.8h.9m-38.2-18.2h.9m25.9-15.9h.9m-2.2-38.6h.9m-21.9 48.9h.9m-32.9-36.6h.9m22.4 31.3h.9m22.2-22.6h.9m34.9 38.5h.9m-83.8-32.5h.9m64.1 8h.9m-58.6-23.7h.9m70.9 82.7h.9m-44.2-62.6h.9m45.2 75.2h.9m-74.6-109.9h.9m57.9 85h.9m14.6 23.3h.9m-29.6-48h.9m-32.7-19.7h.9m52.1 18.9h.9m-87-40h.9m54 66.7h.9m46.7-12.4h.9m-10.1 32.2h.9m-26.1-30h.9m-36.1-70h.9m35.8 12.5h.9m4.6 16.4h.9m2.5 62.1h.9m-68.4-68h.9m21.4-6.8h.9m28-15.9h.9m28.6 98.1h.9m-42.7-70h.9m18.8 17h.9m-31.6-14.5h.9m39.8-8.4h.9m8.7 43.6h.9m-51.2-21h.9m46.5-21.8h.9m-68.3-28.2h.9m50.8 79.1h.9m5.4 14.4h.9m-8-20.6h.9m30.8 32.8h.9m-28-27.9h.9m31.6 39.5h.9m-38.2-89.7h.9m-34.5-3.6h.9m-27.4-3.8h.9m39 7.3h.9m30-7.4h.9m-5.2 45.8h.9m-58.7-31.3h.9m.6-7.6h.9m9.4 1h.9m38.8 15.4h.9m-37.3-24.9h.9m46.1 103.2h.9m-5.5-99.9h.9m33.1 15h.9m-27.5-18.9h.9m3.1 4h.9m-62.4 6.5h.9m-7 10.8h.9m50.1-8.5h.9m-4.9 39.6h.9m3.5 21.8h.9m-7.1-21.3h.9m-32.6-44h.9m68.6 59.2h.9m-20.8-60.3h.9m17.8 75h.9m-30.9 .9h.9m30.5-62.7h.9m-27.1-25.4h.9m-3.5 12.1h.9m-22.6 43.2h.9m33.8-44.8h.9m-41.2 40.9h.9m63.3-2h.9m-38.1 20.3h.9m4.9-29.2h.9m-62.6-42.7h.9m.8 15.1h.9m-17.9-4.6h.9m46.8 62.7h.9m16.8-7.3h.9m30.4 31.2h.9m-36.8-72h.9m41.6 71.4h.9m-60.8-94.1h.9m11.4 14.2h.9m-54.7 4.3h.9m25.9-17h.9m10 10.9h.9m30.1 70.7h.9m-79.9-78.3h.9m53.6-6.6h.9m43.4 103.7h.9m-42.1-45.9h.9m8-5.8h.9m-5.9-42.7h.9m3.9 22.1h.9m26.5 48.7h.9m-10.1-78.5h.9m.4 43.4h.9m-6-34.2h.9m-29.7 12.3h.9m48.1-9.5h.9m-35.1-9h.9m25 17.1h.9m-10.7 58.6h.9m-22.3-56.3h.9m2-10.8h.9m2.1 41.6h.9m26.6 34h.9m-24.6-73.8h.9m12 70.5h.9m1.4-72.1h.9m-69.1-4.7h.9m75.2 71.7h.9m-37.4-51h.9m-21.9 14.7h.9m70.3 67.9h.9m-13.7-28.5h.9m-3.9-26.6h.9m-11.9-10h.9m16.7 33.9h.9m-20.8-47.9h.9m-13 35h.9m7.7-32.8h.9m-41-17.2h.9m-12.1-15.5h.9m7.8 27.5h.9m66.6 77.6h.9m-32.2-102.3h.9m-12.9 56.7h.9m.1-29.7h.9m5.5-14.5h.9m25.7 24.3h.9m2.4 24.5h.9m-37.4-52.7h.9m8.8 52.2h.9m-54.8-58.7h.9m9 13.8h.9m32.5 21.9h.9m16.4 9.4h.9m-9.3 7.1h.9m21.8-30.9h.9m-.7 28.8h.9m27.1-24.8h.9m-50.1 .2h.9m-40.3-12h.9m42.9-6h.9m-14.4-18.1h.9m38.8 99.4h.9m-88.8-66.4h.9m90.8 24.2h.9m-41.8-40.1h.9m-35.9-9.3h.9m49.3 30.7h.9m6.3-20.2h.9m-41.3 5.5h.9m-35-29.1h.9m97 78.3h.9m-80.7-63.1h.9m22.2 22h.9m23.5 43.5h.9m-18.3-29.6h.9m-35.6-15.4h.9m18.2-11.8h.9m-34.6-10.1h.9m13.1 27.3h.9m-15.7-13.2h.9m56.4 .7h.9m4.2 40.6h.9m-26-53.6h.9m9.4 26.9h.9m18.7-3.1h.9m-19-15.9h.9m26.7 34.9h.9m-.7-33.8h.9m-39.6 38.4h.9m60.9 28.9h.9m.3 32.3h.9m-73.9-82.2h.9m12.6 20.4h.9m47.5 31.2h.9m1.9 15h.9m-46.3-76.6h.9m32 45.1h.9m-43.4-51.9h.9m26.1 41.7h.9m-28.4-51.5h.9m33.3 8.2h.9m19.6 67.6h.9m-7.4-22.6h.9m-68.7-54.2h.9m-8.9 4.2h.9m42 41.1h.9m32.1 21.4h.9m-11.4-64.4h.9m2.1 52.2h.9m-68.6-65.7h.9m95.9 16.5h.9m-86.1 7.2h.9m23.1-22.7h.9m63.1 63.1h.9m-43.7-17.9h.9m-13.6-27.7h.9m14.7 25h.9m-23.9-17.8h.9m29.1 1.7h.9m16.4 59h.9m-88.7-78.7h.9m16.4 63.6h.9m3.7-46.5h.9m9.7-13.2h.9m18.8-1.8h.9m-7.5 14.2h.9m50.3 7.8h.9m-44.1 17.4h.9m10.6 44.9h.9m26.4 29.1h.9m-17.2-68.2h.9m9.9-45.8h.9m-33.7 21.8h.9m-33.3 40.6h.9m17.9-43.6h.9m21.1-3.3h.9m-11 7.6h.9m-6.2 27.2h.9m-43.7-55.6h.9m16 5.7h.9m-14 10.7h.9m68.8 47.4h.9m-23.1-41.9h.9m-40.3 13.2h.9m8.4-15.5h.9m22.8 17.6h.9m54.6 .8h.9m-85.4-25.4h.9m64.2 15.4h.9m-44 5.8h.9m39.4 42.4h.9m-6.9-52h.9m-28.7-27.6h.9m-20.7 13h.9m27.2 56.9h.9m-7.6-30.7h.9m-52.7-27.7h.9m20.3 5.2h.9m-12.2 15.3h.9m5.1-20.2h.9m56.4 66.9h.9m.6-20.7h.9m-4.6 39.8h.9m2.7-6.5h.9m-17.2-22h.9m25.8 31.7h.9m-61.9-52.3h.9m29.3-19h.9m-20.8 11.5h.9m54.3 55h.9m-28-66.9h.9m-8.1 3.4h.9m40.1-4.7h.9m-18.5 47h.9m.6-47.5h.9m-43.8-22h.9m40.6 28.6h.9m-35.3 36.5h.9m31.5-28h.9m-61.8-12.1h.9m72 57.1h.9m-13.4-57.5h.9m5 9.7h.9m-22.1 20.5h.9m-18.7-39.2h.9m15.1 34.7h.9m-2.1-60.7h.9m-38.9 34.2h.9m45.5-.4h.9m13.1 67.3h.9m-18.4-62h.9m-13 22.9h.9m-27.5-30.2h.9m35.3 33.7h.9m6.1 2.8h.9m16.9-42.3h.9m-54.1 6.5h.9m56.7 12.3h.9m-9.5 62.5h.9m-.2 12.2h.9m-5-16.1h.9m-86.9-104.2h.9m74.7 45.4h.9m-2.6 32h.9m-60.8-68.8h.9m83.7 90.5h.9m-23.4-12.3h.9m-29.5-81.4h.9m-32.8 13.8h.9m80.3 69.6h.9m-19.7-65.2h.9m-18.2-20.6h.9m-41.2 20.2h.9m34.9 48.7h.9m-41.4-37.3h.9m51.3-14.9h.9m31.9 59.1h.9m-52.6-25.1h.9m59.1 49.6h.9m-25.4-58.8h.9m-23 19.7h.9m4.6-30.7h.9m-21.7-10.3h.9m49.9 81.7h.9m-52.6-71.3h.9m-23.1-29.1h.9m48.2 39.1h.9m1.2 24.9h.9m10.7 33h.9m2.8-59.4h.9m-75.7-13.2h.9m17.1 26.8h.9m22.2-30.1h.9m-2.4 11.4h.9m28.3 38.3h.9m-12.4-62.4h.9m12.6 96.3h.9m-53.4-70h.9m20.9-26.5h.9m-8.4 5.2h.9m2.1-14.6h.9m35.8 35.1h.9m-40.1 3h.9m-3 12.8h.9m-7.3-26.1h.9m31.3-25.4h.9m-27.9 42.8h.9m28.1-19.8h.9m-22.7 41h.9m10 14.9h.9m-36.1-62.9h.9m65.4 77.4h.9m-51.9-87.7h.9m46.2 32.3h.9m-2.8 18.6h.9m-77.2-56.8h.9m43.9 84.7h.9m7.1-55h.9m-5.2-10.1h.9m-35.8 22.2h.9m14.8 25.1h.9m12.7 .6h.9m11.1-6.3h.9m39.4-5.9h.9m-24.5-23.2h.9m-44.5 47.3h.9m22.6 3.4h.9m4-13.8h.9m-14.9-18.5h.9m-29.6-21.8h.9m49.8 12.9h.9m-40.1 39.4h.9m50.6 26h.9m-9.3-64h.9m17.2-15.5h.9m-68.2-18.1h.9m44.3 60.5h.9m2.7 12.1h.9m-22.3-33.6h.9m-17.4-28.7h.9m70.3 53h.9m-74.1-25.3h.9m61.2 12.6h.9m-85.5-46.5h.9m-7.9 4.6h.9m79.7 14.5h.9m-74.8-11h.9m29.8-11.9h.9m12.1 16.5h.9m33.3 59.8h.9m-47.1-63.5h.9m-6 49.6h.9m54.2 44.4h.9m-56.1-110.5h.9m47.1 94.7h.9m-27.5-44.8h.9m-4.2 .3h.9m37.3 31.1h.9m-4.7 2.3h.9m-47.3-84.9h.9m32.3 49.5h.9m11.9 17.5h.9m-37.9-4.9h.9m-11.8-25.1h.9m10.7-20.1h.9m-28.2 3.9h.9m35.7 24.8h.9m3 29.4h.9m0-7.6h.9m-36.3-53.3h.9m41.6 11.6h.9m-13.6 16.3h.9m22.9-3.3h.9m.3 39h.9m-40.8-46h.9m-.7-.7h.9m34.3 2.3h.9m-38.1-19.8h.9m39.9 88.9h.9m8-67.8h.9m-23.9-3.1h.9m8.4-17.7h.9m-84.1-6.2h.9m49.5 9.1h.9m3.5 39.6h.9m31.7 51.7h.9m-70.2-102.9h.9m61.7 85.4h.9m11.8-31.9h.9m-15.4 7.8h.9m-28.9 4.3h.9m39 15.4h.9m-4.4-12.9h.9m-14.4-37.7h.9m-24.9-7.6h.9m25.5 11.8h.9m8.4 5.9h.9m3.4-5.7h.9m-6 57.6h.9m-15.8-62.5h.9m-49.2-38.1h.9m9.4 20.3h.9m31 17.3h.9m2.1 69.7h.9m-.2-47.4h.9m1.1 13.6h.9m24 9.9h.9m-40.2-59.1h.9m38 61.8h.9m-47.3-9.1h.9m-2.9 6.7h.9m21.7-23.7h.9m17.3 36.3h.9m-10.7-44.6h.9m-67.9-35.6h.9m33.4 37h.9m1.3 22.4h.9m24.9 3.2h.9m-42.4-73.8h.9m5.8 22.3h.9m-47.7-12.9h.9m80.9 36.8h.9m14-38h.9m-81.5 6h.9m43.5 13.7h.9m27.8 38.8h.9m-30.8-64.3h.9m22.9 12.6h.9m-26.7 44.6h.9m32.2 49.8h.9m-6.5-84.5h.9m-38.5 25.3h.9m-21.8-48.7h.9m-5.9 24.9h.9m67.2 3.5h.9m9.6 49.7h.9m-36.5-75.9h.9m36.8 108.2h.9m-66.1-91.2h.9m-9.2-11.1h.9m-4.8-7.1h.9m47.8 36.3h.9m30.1 56.1h.9m-53.4-87.8h.9m33.2 8.9h.9m-41.3 48.1h.9m48-51.7h.9m-47.2-4.2h.9m-27 2.5h.9m53.9 58.9h.9m-4.5-21.1h.9m-62.1-21.6h.9m92.8 61.6h.9m-68.9-63.4h.9m68.6-3.7h.9m-38.7 11.3h.9m-44.3-6.6h.9m45.9 27.8h.9m28.5-29.4h.9m1.9 86h.9m-54.9-111.5h.9m13.9 41h.9m41.4 48.4h.9m-24.6-28.5h.9m-57.4-46.7h.9m3.9 6h.9m9.2-2.8h.9m36-14.1h.9m-32.3 59.1h.9m22.5-34.2h.9m19.6 15.4h.9m9.2-20.8h.9m-47.5 1.3h.9m39.5 81.6h.9m-30.7-60.8h.9m-36.5-15.4h.9m20.3-17.8h.9m-4.5 11.5h.9m23.5 30.6h.9m10.7 12.9h.9m-17.8-4.1h.9m23.5-47h.9m-9 45.5h.9m-12.7-1h.9m33.2-21.9h.9m.1 48.9h.9m-54.8-53.4h.9m-35.2-13h.9m74.4 48.5h.9m-49.1-74.9h.9m5.8 75.4h.9m41.1-31.2h.9m-37.5 43.4h.9m40.7 12h.9m-33.2-34.6h.9m37.2 13.6h.9m-32.4-15.7h.9m-7.6-23h.9m-2-8.2h.9m-12-4h.9m51.5 17.4h.9m-68.3-27h.9m49.4 11.8h.9m7.6-28h.9m-61.3 19h.9m39.2 70.2h.9m8.3-47.3h.9m-60.3-12.5h.9m65.7-15.1h.9m-6 14.4h.9m-19.5-18h.9m38.5 99.6h.9m-33.6-99.5h.9m25.3 65.1h.9m-16.1-6.1h.9m-63.8-49.8h.9m68.3 12.1h.9m13.7 48.6h.9m-7.9-60.5h.9m-75.8-6.1h.9m65 22.3h.9m-67.8-29.6h.9m74.3 73h.9m-46.9-54.1h.9m20.4 3.4h.9m10.9 29.3h.9m-36.3-38h.9m51.6 101.6h.9m-8.8-71.1h.9m3.4-24.2h.9m-72.4 16.1h.9m65 11.6h.9m.3 20.5h.9m4.2-15.1h.9m-52.9-17.9h.9m-3.7-35h.9m12.6-10.4h.9m42.5 54.5h.9m-75.5-16h.9m29.1 2.2h.9m41 44.8h.9m1.2 21h.9m-13.6-85.7h.9m-63.4-.3h.9m73.1 86h.9m-19.4-71.8h.9m-33.8-12.9h.9m-37.1 1.5h.9m8.3 12.2h.9m-5.6-42.3h.9m27.2 21.1h.9m39.1 9.1h.9m-38.8-6.1h.9m-13.4 25.3h.9m28.6-.3h.9m-21.2 46.4h.9m41.4-6.2h.9m-39.7-69.8h.9m25 1h.9m12.9 66.2h.9m-27.6-56.9h.9m-27.9 71.6h.9m-6.8-80.1h.9m1.1-2.1h.9m35.1 13.3h.9m25.4 102.2h.9m-58.4-52.2h.9m29.4 10.8h.9m-31.2-57.1h.9m59.1 57.8h.9m-48.1 .1h.9m50.7 25.5h.9m-27.8-45.9h.9m-.9 40.3h.9m-11.2-66.1h.9m21.4 40.3h.9m-14.1-38.6h.9m23.1-22.7h.9m-34.2 34.2h.9m23.8 18.4h.9m-23-41.3h.9m15.7 13.5h.9m24.9-7.5h.9m-1.2 75.7h.9m-85.7-82h.9m19.9-35.8h.9m11.9 45.1h.9m-24.7-.2h.9m72.3 28.5h.9m-43.1-43.7h.9m-8-3.6h.9m55.5 101h.9m-82-100.6h.9m34.9 10.9h.9m28.9 34.6h.9m-20.2-8.7h.9m12.1-55.5h.9m-69 9.6h.9m67.6 51.8h.9m-1.3 28.9h.9m-9.1-42.7h.9m-20 36h.9m31.6-76.9h.9m-36.1 55.7h.9m-2.5-41.6h.9m21.6 31.4h.9m-11.1-18.8h.9m-31.5-17.6h.9m-23.4-8.8h.9m12.7-7.4h.9m-17.4 11h.9m23.4 19.8h.9m41-6.3h.9m-37.5 24.2h.9m46.7 43.5h.9m-80.9-92.2h.9m42.7 37h.9m56.8-28.2h.9m-15.2 64.3h.9m-41.7-39.4h.9m.3 32.7h.9m-3.8-60.5h.9m-36.2 31.9h.9m10.8-24.1h.9m-32.2 19.2h.9m61.8-19.9h.9m-37.7 22.6h.9m62 49.3h.9m-78.3-60.3h.9m80.6 12.5h.9m-53.1-19h.9m61.1 66.3h.9m.9 28.6h.9m-48.5-19.6h.9m20.4-13.8h.9m10.6 42.3h.9m-41.9-102.8h.9m33.7 48.6h.9m10.5-30.9h.9m-37 32.7h.9m-47-42.4h.9m30.8 45.4h.9m19.9 20.1h.9m22.9-37.1h.9m-13.8-17.8h.9m-30.9 29.5h.9m-22-68.5h.9m36.7 58.8h.9m-12-44h.9m11 4.6h.9m15.4 7.9h.9m9.3 77.5h.9m-11.1-72h.9m5.4 18.5h.9m-17.7 32.4h.9m1.9-51.7h.9m32.8 39.5h.9m-8.4 30.5h.9m-1.3-17.4h.9m-5.2-2.5h.9m-6.1-56.1h.9m5.1 14.7h.9m-65.2-25.8h.9m12.7-4.8h.9m21.9 43.7h.9m38.6 48.7h.9m-24-56.6h.9m-39.5-32.8h.9m-14.6-2.9h.9m4.9 19.2h.9m49.5 76.3h.9m-65.5-73h.9m67 56.5h.9m-20-53.2h.9m6.3 13.5h.9m-.7-30.2h.9m1.5 31.7h.9m-23.2-7.4h.9m-20.9 9.7h.9m-23.9-40h.9m66.8 33.1h.9m-73.7-28.7h.9m15.9 45.3h.9m52.4-33.7h.9m-9.2 33.2h.9m13.8-16.5h.9m5.9 46.2h.9m-56.7-86h.9m-6.9 31.1h.9m41.4-12.7h.9m29.6 9.2h.9m-8.9-3.1h.9m-30 12.9h.9m-25.1 44.8h.9m58.6 18.4h.9m-57.3-29h.9m18.5-23h.9m14.6-23.6h.9m8.8 80.2h.9m-31.7-62.4h.9m-.9-7.3h.9m-37.4-14.9h.9m53 47.3h.9m4.5-8.4h.9m-40.9-52h.9m17.1 43.6h.9m10.9-33.3h.9m2.3 1.7h.9m-16.7-11.6h.9m6.3 22.5h.9m-29.7-15.4h.9m22.8-.9h.9m-27.5 21.7h.9m48.6-20.1h.9m-15.6 42.6h.9m-20.1-35h.9m-19.5-10.7h.9m-19.4 18.7h.9m63.3-4.2h.9m-11.3-1.9h.9m17.4 48.7h.9m-30.6 11.6h.9m36.6 12.3h.9m-55-71.4h.9m20.1-20.9h.9m-22.6 9.7h.9m45.1 35h.9m-34.6-59.8h.9m41.5 48.2h.9m6.3 58.2h.9m-45-29.4h.9m-9.4-42.3h.9m-2.7-31h.9m-7.9 30.5h.9m20.7-17.8h.9m28.1 10.3h.9m-6.2 35h.9m-17.9-34.2h.9m13.4 8.8h.9m-35.6-8.9h.9m57.4 27.5h.9m-61.6 26.4h.9m-3.3-77.3h.9m-1.2 29.3h.9m3-14.6h.9m-7.8 14.3h.9m51.1 34.2h.9m-43.1-47.8h.9m6.7 43.5h.9m8.9-16.8h.9m-41.9-20.1h.9m27.1 53.4h.9m35.7-24h.9m14.4 46.5h.9m-9-4.6h.9m3.1 20.9h.9m-19.2-80.1h.9m-63.9-4.1h.9m56.6-22.1h.9m7.8 78.4h.9m-70.1-58.3h.9m81.7 90h.9m-13.3-15.5h.9m-63.8-96h.9m80.7 111.8h.9m-18.7-71.7h.9m-40-3.8h.9m-44.4-29.1h.9m75 80.1h.9m-2.6-33.6h.9m3.7 12.3h.9m-3.1-27.2h.9m-53.1 3.1h.9m49-21.8h.9m-18.1 4.7h.9m7.9 61.9h.9m-33.1-71.6h.9m-32.7 3.7h.9m69.1 44.5h.9m-74.2-42h.9m10-10.8h.9m53.5 45.6h.9m-20.8 13.3h.9m4.3-39.9h.9m-3.3 29h.9m-31.8-29.7h.9m65.6-11.7h.9m-29.1 64.2h.9m37.7 11.6h.9m-42.9-44h.9m29.3-49.3h.9m-76.6 8h.9m36.6 32.5h.9m18.4-7.5h.9m-16.5-16.3h.9m-28.7 17.1h.9m41.3 43.4h.9m23.3-62.6h.9m-62.4-24.7h.9m-13.2 25h.9m59.7 17.4h.9m-23.3-21.8h.9m-41.7-6.7h.9m74.4 9.1h.9m-50.5-8.2h.9m9.7 4.9h.9m-21 29.4h.9m18.5-21.4h.9m-9.3 42.4h.9m44.8-33.3h.9m-19.3-4.1h.9m-25.1-11h.9m3 13.8h.9m21.8 21.6h.9m-47.4-37.4h.9m48.1 53h.9m24.4-43.7h.9m-2.6 47.6h.9m-20.1-67.7h.9m-72.7 1.9h.9m93.5 60.2h.9m-17-13.8h.9m3.2 7.1h.9m-28.7-14.8h.9m-5.2 8.9h.9m-31.5-34.5h.9m38.9 67.4h.9m18.6-13h.9m-27.9 .8h.9m-20.7-16.5h.9m6.7-26.1h.9m15.1 62.7h.9m-47.9-63.6h.9m75.2-2.6h.9m19 82.2h.9m-64.6-98h.9m4.3 62.9h.9m-4.4-69.8h.9m49.9 36.3h.9m-49.8 1.2h.9m-42.6-22.7h.9m24.2-22.6h.9m-6.9 18.7h.9m75.5 54.3h.9m-64-25h.9m14.1-23.2h.9m34.1 82h.9m-60.1-89.6h.9m60.4 27.7h.9m-1.3 79h.9m-33.4-63.9h.9m-18.8-36.5h.9m36.4 21.9h.9m16.2 49.3h.9m-43.3-37.9h.9m4.8-7.3h.9m-38.7-19.5h.9m5.3 26.3h.9m33.3-10.8h.9m3.5 5.4h.9m10.1 13.1h.9m-13.8-51.7h.9m-5.4 2.2h.9m32.7 77.9h.9m-8.6-13.8h.9m.5-54.3h.9m-17.6 57h.9m-25.2-62.4h.9m47.1 47.1h.9m-3.9-.8h.9m-10.3-35.4h.9m-16.3 41.3h.9m-.1 1.6h.9m-4.9-9.5h.9m-25.4-46.9h.9m40.8 24.6h.9m-2.6-4h.9m-16 11.9h.9m-3.7 12.6h.9m17.3-14.9h.9m-53.6-19.8h.9m-7 5.9h.9m48.1-6.9h.9m-51.1 3.9h.9m52.7 23.3h.9m-34.6-36.6h.9m44.2 47.3h.9m-30.4-41.6h.9m-23.8 6.1h.9m-16.2-1.6h.9m77.6 8.6h.9m-29.7 13.4h.9m-43.4-29.5h.9m53.5 35h.9m-24.3-23.5h.9m45.3 8.2h.9m-62.1-4.7h.9m33.2 40.3h.9m-6.5-49.1h.9m-7 23.8h.9m-45.8-5.5h.9m55.2 11.3h.9m-29.9-35.1h.9m65.1 30.5h.9m-77.3-27.6h.9m51.8 50.8h.9m-9.6-45.7h.9m21.9-7h.9m-7.6 34.4h.9m-31.8 7.6h.9m-38.3-29.3h.9m70.8 11.5h.9m-30.3-15.3h.9m36.9 92.4h.9m-47.4-57.6h.9m19.3-37.7h.9m-25.8-3.1h.9m-34.4-13.7h.9m51.2 37.9h.9m12-5.5h.9m-24.1-10.6h.9m-21.4 61.1h.9m34.7-28.3h.9m20.7 57.7h.9m-31.8-82.4h.9m-27.3-9.1h.9m14.9-8.4h.9m-23 11.2h.9m-8.8-32.9h.9m78.8 106.7h.9m-36.4-79.5h.9m7.1 25.6h.9m17.9 6.6h.9m-47.6-22.9h.9m37.8 51.5h.9m-55.4-24.9h.9m69.5-27.9h.9m-32-10.6h.9m-3 14.5h.9m14.6 3.8h.9m-24.3-20.3h.9m1.4 9.7h.9m4.8 43.7h.9m17.3-35.2h.9m-84.6-2.3h.9m75.1 9.6h.9m-45.7-42h.9m-40.7 1.3h.9m9.1 7.7h.9m49.4 18.9h.9m24.3 59.1h.9m-29.3-14.5h.9m-3.8-11.9h.9m39.4 29.8h.9m-39.7-75.5h.9m-35 10.3h.9m69.5 34.9h.9m-40.3 .9h.9m-29.6-46h.9m51.9 23.9h.9m-28.3 19.9h.9m11.6-.7h.9m7.9-26.6h.9m16.5-24h.9m-26.6 7.4h.9m-7.8 46.6h.9m32.5-19.9h.9m-41.1 21.2h.9m45.3 19.3h.9m-40.3-68.6h.9m49.1 84.7h.9m-32.4-68.9h.9m22.5 .5h.9m-34.8 20.3h.9m-20.4-29.1h.9m-6.8 2.3h.9m33.8 .2h.9m-13.8 37.4h.9m25.3-3.1h.9m-27.4 22.9h.9m2.9-64.5h.9m31.6 84.2h.9m-5-70h.9m-52.3-32h.9m-6.6 25.4h.9m9.2 31.5h.9m-29.1-31.3h.9m42.4-18.6h.9m-40.7 3.3h.9m50.2 31.1h.9m-21.3-27.2h.9m-29.8 2.9h.9m59.9 15.1h.9m5.4-12h.9m-18.8-3.6h.9m-28.6 5.9h.9m-33.5-15.2h.9m69.5 51.4h.9m-36.9 15h.9m45.2-54.6h.9m-7.4 20.7h.9m-16.1-5.2h.9m-43.8-23.3h.9m38.1 63.8h.9m-30.8-47.2h.9m8.1-11.1h.9m47.1 84.9h.9m-14 13.6h.9m-18-21h.9m-54.2-81.8h.9m51.3 18.4h.9m28.8 45.7h.9m-9.8-32.2h.9m18.2 37.9h.9m-56.3-89.7h.9m-5.1 25.4h.9m51.1 21.6h.9m-33.3-.9h.9m-10.7 0h.9m42.6-15.1h.9m-29.3 38.8h.9m-36.3 11.5h.9m40.8-48.9h.9m21.5 91h.9m-10.3-88.7h.9m-41.1 32.7h.9m36.7 18.2h.9m-26.5-61.9h.9m-15.9 60.9h.9m21.1-32.1h.9m16.9-15.5h.9m-36.4 7.4h.9m29.4-2.3h.9m-3.3-1h.9m-17.8 41.7h.9m6.1-47.2h.9m-2 23.8h.9m-11 5.6h.9m13.8-34.1h.9m1.5 24.4h.9m20.2 3.7h.9m-53.6-7h.9m12.8 7.3h.9m16.8 2.9h.9m-8.3-15.5h.9m-27.7-9.3h.9m35.5 60h.9m-18.7-97.3h.9m-12.8 47.8h.9m9.1-38.8h.9m6.2 7.3h.9m-12.8 22.9h.9m52.2 43.4h.9m-11.7 34.5h.9m-25-91.7h.9m28.9 41.8h.9m-46.8 3.4h.9m4.3-24.4h.9m-16.8-3.2h.9m57.4-15.5h.9m-14.8-9.5h.9m-5.2 27.9h.9m-13.2 2.7h.9m-28.3-15.7h.9m37.2 20.4h.9m-33-15h.9m-29.8-12.5h.9m18.8-4.5h.9m21.8-.3h.9m-45.9 14.2h.9m26.7 13.3h.9m5.6-20.3h.9m-15.7-.2h.9m64.2 77.8h.9m-45.4-77.9h.9m-22.3 11.1h.9m46.6 2.1h.9m-12.8 8.7h.9m12.2 31.9h.9m21.9-45.4h.9m-94.8-33.2h.9m37.7 21.5h.9m16.8 6.5h.9m36.7 24.7h.9m-38.8-23h.9m-7.6 16.4h.9m28.7 36.7h.9m-30.4-62.9h.9m47 22.5h.9m-88-9.6h.9m49.7 51.9h.9m17.3-12.8h.9m-2.2 26.1h.9m-75.9-79.2h.9m77.3 94.9h.9m-21.7-86.1h.9m13 17.6h.9m-21.8 40.1h.9m-22.3-64.6h.9m47.3 5.9h.9m5.6-25.5h.9m-102.6-.1h.9m49.5 33h.9m-5.7 27.4h.9m40-1.3h.9m-10.7 6.6h.9m-5.9-31.8h.9m-17.8 60.6h.9m-4.1-66.2h.9m34.8 32.6h.9m-73.2-28.8h.9m70.2 49.8h.9m4.2-46.6h.9m-36.7-17.4h.9m-5 22.6h.9m58 14.7h.9m-55.1 19.9h.9m33.4-59.5h.9m-71.9 14.8h.9m27.6 19.8h.9m60.9 41.9h.9m-43.7-43.7h.9m1.9 20.7h.9m-32.4-54.9h.9m11.3 24h.9m3.4-37.3h.9m-28.4 7.7h.9m-8.3 12.1h.9m7-3h.9m67.2 70.3h.9m-25.8-69.8h.9m-1.3 2.5h.9m-2.7 20.7h.9m5 16.1h.9m12.3 8.8h.9m-35.2-26.4h.9m9.9-14.3h.9m-44.8-15.1h.9m13.3 19.2h.9m11.3-8.8h.9m44.7-1.7h.9m-19.2 13.6h.9m17.9 34.6h.9m-53.9-37.7h.9m37.2 32.7h.9m-41.7 .8h.9m30.1 9.9h.9m18.7 22.8h.9m-71.2-99.6h.9m47.4 60.7h.9m-8.6-21.4h.9m41.8 15.6h.9m-80-23.7h.9m17.7 54.8h.9m26.4-61.6h.9m-27.2-8.3h.9m70.7 103.9h.9m-57.9-67.2h.9m39 43.2h.9m-27.4-77.2h.9m36.8 38.5h.9m-38.2-12.3h.9m14.9-8.6h.9m16.1-8.9h.9m-79.1-7.3h.9m38.1 47.4h.9m-39.6-39.8h.9m26.1 31.3h.9m-4.2-44.9h.9m9 14.1h.9m46.2 60h.9m-22.3-41.1h.9m-25.2-17.8h.9m35.2 23.4h.9m-26.1 24.2h.9m-25.8-13.5h.9m-2 19.8h.9m18.7-12.4h.9m-6.2-54.2h.9m-16.4 22.2h.9m56.3 38.9h.9m-11.1-59.2h.9m-40.8 20.7h.9m32.7-4h.9m29.2 12.2h.9m-78.4 7.6h.9m55.5-22.9h.9m-47.6 3.7h.9m43.4-9.7h.9m-16.4 37.3h.9m-19.1-27.8h.9m6.3 1.3h.9m35.4 69.3h.9m-46.5-80.3h.9m31.1 .2h.9m13.8 83.7h.9m-21.5-60.8h.9m-46.3-25.1h.9m62.3 49.9h.9m-16.7-61.5h.9m-15.7 1.4h.9m11.8 77.4h.9m4.7-24.5h.9m-35.7-10.9h.9m23.2-38.6h.9m-22.7 17.8h.9m62.2 20.4h.9m-72.2-44.1h.9m31.2 3.6h.9m-50 15h.9m15 46.6h.9m54.5 41.4h.9m-5.9-46h.9m-17.5-9.7h.9m9.3-38h.9m-15.2-1.9h.9m40.6 83.9h.9m-14.7 .5h.9m-52.9-69.3h.9m6-34.7h.9m45.1 110.5h.9m-45.3-86.9h.9m46.7 77.2h.9m-10.4-8.5h.9m-56.6-62.4h.9m30.6 16.5h.9m-50.9-21.8h.9m-6.9-17.7h.9m34.4 20.9h.9m30.9 23.7h.9m-31.6-22.3h.9m45.8 28.6h.9m-5.8-36.7h.9m-38.3-9.5h.9m10.7-2.5h.9m-11.4 6.2h.9m45.7 104.3h.9m-.6-20.9h.9m-11.2 28.5h.9m-30.1-90.1h.9m.3 5.6h.9m8.2-9h.9m-41-1.4h.9m31.5 49.1h.9m12.5-10.4h.9m-18.2-51.3h.9m31 3.5h.9m-77.4-14.4h.9m-2.1 21.3h.9m34-19.7h.9m-28.6-5.8h.9m-4.4 11.6h.9m46.2 43.7h.9m-2.7 5.2h.9m.1-31.7h.9m-47.3-28.4h.9m88.3 29.4h.9m-31.1-5.8h.9m-33.8 39.7h.9m15.5-53.9h.9m6.9 27.5h.9m-44-23h.9m44.8 15.7h.9m1.9-1.5h.9m-12 10.5h.9m7.3 25.5h.9m-14.4-55.1h.9m-16.4-5.6h.9m41.8 42.8h.9m-45.1-22.8h.9m55.1 72.1h.9m-54.4-65.4h.9m43.8-.3h.9m-50.8-25.6h.9m46.1 18.1h.9m-24.5 44.5h.9m-40.7-31.9h.9m25.1-12.9h.9m51.6 61h.9m-29.2-9.9h.9m11.1 29.5h.9m-32.2-82.9h.9m27.3-.7h.9m-1.2-12.8h.9m28.6 84h.9m-78.1-72.8h.9m9.5-10h.9m32.6 11.6h.9m15.5 85.4h.9m-5-13.4h.9m-85.2-78.9h.9m25.1 .5h.9m19.2 9.9h.9m30 18.8h.9m-61.1-39.5h.9m-4.6 10.6h.9m59.7 45.7h.9m-57.2-27.3h.9m56.6-3.3h.9m-19.5 12.2h.9m20.2 1.9h.9m22.7-41.1h.9m-20.1 11h.9m-20.6 36.8h.9m-40.3-47.2h.9m32.2 40.2h.9m-56.1-8.2h.9m29.6-23.8h.9m25.2 78.2h.9m-50.5-56.5h.9m44.8-34.7h.9m30.6 60.3h.9m-51.8-24.7h.9m7.3 18.2h.9m-1.9-9.4h.9m-3.9 30.1h.9m26-31.5h.9m28.5 86h.9m1.3-120.9h.9m-56.5 2.5h.9m-12.8 20.6h.9m18.5-.3h.9m-8-20.6h.9m44.3 5.8h.9m3.6 31.9h.9m-27.1-31.3h.9m27.9 94.6h.9m-70.7-88.4h.9m82.4 96.6h.9m-34.9-95.3h.9m-11.3 44h.9m35.8 19.5h.9m-43.5-90.7h.9m-41.2 57.5h.9m79.5-3.2h.9m-71.2-26.7h.9m78.7 69h.9m-29.5-53.8h.9m16.4-16.8h.9m-48.4 62.1h.9m-13.1-82.1h.9m23.4 32.9h.9m28.4 25.9h.9m-7-17.6h.9m-40.5-36h.9m39.3 68.6h.9m-27.8-16.1h.9m-10.6 14.4h.9m-8.3-66.4h.9m27.7 37.1h.9m-65.9-29.1h.9m59.5 12.8h.9m-22.4-6.7h.9m3.1 4h.9m47.2 20.4h.9m-53.6-22.2h.9m13.6-11.9h.9m-56 11.6h.9m55.3 7.4h.9m34.1 63.5h.9m-60.9-87.2h.9m69.2 36.6h.9m-26.2-22h.9m-5.9-.3h.9m-54.9-9h.9m30.1 8.3h.9m-33.6-11.4h.9m85.1 97.2h.9m-65.6-86.7h.9m56.8 76.5h.9m-14.4-77h.9m-9.6 20h.9m-45.6-37.7h.9m34.1 21.4h.9m-10.9 37.9h.9m-5.2 29.6h.9m-40-60.2h.9m48.9-5.8h.9m-.9 13.1h.9m-19.4-27.4h.9m32.6 53.4h.9m18.4 45h.9m-76.8-88h.9m41.9 8.8h.9m16.7 14.3h.9m-3 19.6h.9m-64.1-26.2h.9m66.5 68.8h.9m2.7-1.1h.9m-33.3-44.7h.9m42.4 14h.9m-33.5-54.7h.9m-15.1 10.5h.9m16.6 16.2h.9m-57.1-20.1h.9m42.3 34.9h.9m-13.8-26.6h.9m-27-10h.9m31.3 3.7h.9m-11.7-3.8h.9m37.4 45.6h.9m10.2-47.4h.9m4.2 87.3h.9m-46.7-78.5h.9m-.3-19.2h.9m-9.5 9.9h.9m-34.4-1.6h.9m91.4 74.2h.9m-40.4-46.9h.9m32.3 36.1h.9m-38.5-16.3h.9m37.3-26h.9m-50.5-18.8h.9m40.2 61.7h.9m-31.9-25.1h.9m-7.5 20.4h.9m54.4 3.2h.9m-28.6-7.7h.9m-12.7-3h.9m-52.2-51h.9m12.6-17.7h.9m43.7 16.1h.9m1.8 30.4h.9m26.8-2.9h.9m-30.2 25.5h.9m28.7-49.2h.9m-7.7 73h.9m-65.3-62.8h.9m68.1 53.4h.9m-78.1-69.4h.9m40.6 43.1h.9m-39.1-30.9h.9m18.1 9.4h.9m38.6-8.3h.9m-64.9-.5h.9m-7.7-12.5h.9m51.8 16.8h.9m-58.3-13.1h.9m17.7-7.8h.9m-11.3-3.2h.9m28.9-6.6h.9m-7.6 3h.9m34.1 .6h.9m-42.1-3.8h.9m7.1 .8h.9m34.2 98.4h.9m-36-36.4h.9m23.8-45.7h.9m22.1 71.3h.9m-24.8-70.8h.9m-53.4 1.6h.9m76.8-1.1h.9m-31.9 61.1h.9m19.9-87.6h.9m-45.8 48.1h.9m38-16.4h.9m-14.4 38.8h.9m7.4-19.4h.9m-61.9-28.8h.9m84.4 31.5h.9m.5-6.3h.9m-31.8-47.2h.9m-10.2 76.3h.9m39.5 18.5h.9m-66.5-75.1h.9m40.7 4.9h.9m29.5 2.2h.9m-34.9 30.3h.9m24.7 39.5h.9m-85.6-78.6h.9m109.7 45.3h.9m-37.1 58.5h.9m-40.1-104.6h.9m43.7 84.7h.9m-5.2-62.9h.9m-4.4 56.6h.9m-6.8-32.9h.9m-14.1-46.2h.9m-37.9 37.8h.9m55.8 25.3h.9m12.3-37.7h.9m-40.1-13.1h.9m19.8 10.9h.9m14.7 20.8h.9m-13.2-35.2h.9m3.1 6.8h.9m-22.6-26.6h.9m-27.8 35.3h.9m36.8 14h.9m28.5 17.7h.9m-15.1-39.9h.9m-10.1 4h.9m-14.9-13.2h.9m28.5 17.9h.9m-56.4-28h.9m-18.3 2.9h.9m26.9 2.1h.9m-5.4 4h.9m22.4 7.5h.9m-17.3 .2h.9m-9.4 4.2h.9m11.4 17.4h.9m2.9-19.4h.9m-14.3-33.7h.9m-13.8 83.9h.9m38.8-43.9h.9m-56-20.7h.9m75 62.6h.9m-42.4-64.1h.9m-47.5 7h.9m32.2-18.7h.9m-19.9-4.7h.9m52.1 11.4h.9m-15.7 25h.9m-17.8 8.5h.9m-2.7-14.9h.9m10.8 5.1h.9m-3.6 44.8h.9m37-45.2h.9m-70.5-11h.9m88.6 40.4h.9m-54.1-47.1h.9m-8.7 7.3h.9m15.5 27.6h.9m-5.6 26.5h.9m46.4-23.2h.9m-72.6-13.1h.9m59.2 43.7h.9m-60.9-63.4h.9m66.2 47.2h.9m-49-45.9h.9m34.5 37.9h.9m25.1 8h.9m-77.9-38.5h.9m55 13.5h.9m-63.1-14.8h.9m39.7 51.1h.9m-45.3-14.2h.9m54.7-14.3h.9m1.6-16.6h.9m-3.2-1.2h.9m-12.8-8.3h.9m-2.9 42.5h.9m-30.7-60.4h.9m23.2 44.1h.9m14.9-5.4h.9m-35 17.4h.9m-27.5-54.2h.9m19.7 28.9h.9m53.1 49.9h.9m23.6-28.1h.9m-31.6-11.4h.9m14.1 71.6h.9m-5.1-95.6h.9m-65.9-.2h.9m32.3 2.9h.9m-5 24.8h.9m-6.9 3.4h.9m18.9-43.1h.9m12.4 22.7h.9m-83.8-22.6h.9m39.5 34.5h.9m33.3-11.8h.9m-39.4-9.7h.9m37.4 17.5h.9m-10.3 12.7h.9m-11.2-6.1h.9m-.6-5.9h.9m2.9-15.4h.9m-20.3-18h.9m49.1 105.8h.9m-66.5-91.3h.9m8.6-12.5h.9m-4.8 16.4h.9m61.6 86.7h.9m-51.2-94.1h.9m4.2 4.3h.9m-16.9 10.3h.9m12.4-8.8h.9m7.6 58.2h.9m-2.9-53.6h.9m47 48.5h.9m-74.8-51.2h.9m-10.7 3.7h.9m53.9 16.9h.9m36.2 66.2h.9m-79.2-104.7h.9m20.6 12.3h.9m23.8-2h.9m-.4 48.9h.9m-2.2-43.6h.9m-46.2-15.8h.9m61.8 77.5h.9m-.5-53.3h.9" stroke="#2f3fbf" stroke-width="0.9" fill="none"/>
<path d="M317.3 410.4h.9m3.5-57.7h.9m-.8 5h.9m-19 1.9h.9m-5.9-3.9h.9m12.5-7.4h.9m-15.1 21.2h.9m34.9-22.8h.9m-34.4 1.4h.9m35.6 11.3h.9m-42-2.8h.9m-32-5.4h.9m61.7 25.6h.9m-6.6-15.9h.9m5.9 13.7h.9m-34.4-27.1h.9m-17.2 5.1h.9m-10.3-10.4h.9m43.7 53.8h.9m11.5-40.8h.9m-24.7 8.8h.9m27.4 11.4h.9m-30.1-11.9h.9m6.1-3.3h.9m-11.6-1h.9m29.1 13h.9m-16.9-13.1h.9m-31.8-9.2h.9m63.5 29.2h.9m-38.8-28.2h.9m11 22.6h.9m-26.9-17.8h.9m52.4 60h.9m-56.2-55.5h.9m-15.8-11.8h.9m54.8 56.2h.9m11.1-42.1h.9m-34.1 33.8h.9m-9.7-35.1h.9m-22.5-2.1h.9m-7-5.9h.9m47 41.9h.9m3.8-30.7h.9m-4-.1h.9m18.3 32.8h.9m-22.7-45.2h.9m-28.4-3.3h.9m-9.8 10h.9m18.8 2.9h.9m15.4 8.1h.9m-19.2-9.3h.9m-31.2-2.7h.9m73.9 .3h.9m-67.1 2.7h.9m74.9 88.5h.9m-57.6-100.3h.9m-25.7-3.1h.9m31.4 27.7h.9m-13.2-5.7h.9m12.7-14.6h.9m-41.6 9.2h.9m69.3-11.3h.9m-33.6 19.1h.9m22.2 3.6h.9m21.9 39h.9m-10.2-18.5h.9m-59.8-39.1h.9m61.9-5.2h.9m-22.1 11.2h.9m3.1 44.4h.9m-5.1 7.1h.9m12.3-30.8h.9m-36.8-21.4h.9m24.3 32.1h.9m6.8 4.2h.9m-11.4-43.8h.9m3.9-4.4h.9m-32.2 13.7h.9m41.5 8.3h.9m-12.1-13.8h.9m3.4 12.2h.9m-3.8 5.7h.9m-14.6-4.7h.9m-3.8 2.4h.9m.8-20.9h.9m-28.8 10.1h.9m48.2 41.3h.9m-.5-48.1h.9m-35 2.7h.9m22.4 13.9h.9m-13-16h.9m24.5 20.5h.9m-40.8-7.6h.9m-26.7-8.4h.9m51.7 5.1h.9m-11.4 4.8h.9m22 27.9h.9m-19.1-32h.9m7 22.8h.9m-45.4-32.3h.9m64.1 25.3h.9m-67.4-29.9h.9m56.4 42.6h.9m-6.3-7.4h.9m10.6-10.3h.9m-52.4-14.1h.9m-19.8-.3h.9m36 1.8h.9m31.9 14h.9" stroke="#5cc04a" stroke-width="0.9" fill="none"/>
<path d="M335.2 397.3h.9m-48.6-32.4h.9m15.5-5.1h.9m-10.5-11.7h.9m15.7 6.6h.9m-8.2 25.3h.9m-1-1.1h.9m35.7 12h.9m-49.8-47.9h.9m18.7-2.4h.9m7.1 63h.9m30.9 14.6h.9m-68.3-65.4h.9m40.9 37.9h.9m30.8 27.4h.9m-72.1-67h.9m49.3 37.6h.9m24.9 60.7h.9m-34.2-72.9h.9m-16 16.2h.9m-40.6-35.6h.9m57.2 11.1h.9m26.3 41.7h.9m-86.3-48.6h.9m-3.4-8.2h.9m28.3 10.5h.9m-3.6-12.3h.9m35.9 43.9h.9m7.9 15h.9m-22.5-52.3h.9m25 23.8h.9m-52.4-38.4h.9m-17.5 13.1h.9m62.4 3.8h.9m-32.6 2h.9m-7.6 4h.9m22.9-23h.9m12.7 45.3h.9m-34.1 26.8h.9m29.2-31.9h.9m-18.8-13.4h.9m33.9 59.2h.9m-48.7-40.4h.9m33-12.5h.9m-17.8-4.7h.9m13.4 17.6h.9m-12.9 1.3h.9m-41.6-18.8h.9m48.6-21.2h.9m-60.8 8.6h.9m2-9.2h.9m60.4-.4h.9m-47.1 17.3h.9m51.4 3h.9m-.9 18.1h.9m-34.2-48.1h.9m-4.8 23.4h.9m26.2 24.4h.9m3.3-1.9h.9m-3.7 16.3h.9m-19.8-5.7h.9m-37.6-38h.9m10.3-4.2h.9m-1.3 18.6h.9m-3.9-17.9h.9m20.9 20.5h.9m-32.3-26.7h.9m37.7 13.1h.9m-10.5 .1h.9m-1.9-2.2h.9m34.8 34.8h.9m-10.8-34.9h.9m4.5 27.6h.9m-8.7-33h.9m-20.2-12.9h.9m-1.6 17h.9m-33.5-13.6h.9m52.7 65.1h.9m-21.9-3.8h.9m-21-59.8h.9m12.5 5.6h.9m33.6 26.9h.9m5 19.8h.9m-12.6 33.9h.9m18 22.8h.9m-56.1-111.9h.9m27.7 29.8h.9m-14.3-26.5h.9m29.7 78.7h.9m-19.7-26h.9m17.6-28.8h.9m-14.8 16.2h.9m-13.8 23.5h.9m-11.2-67.8h.9m-11.3 61.8h.9m-18.2-57.3h.9m15.6 16h.9m-11.2-15.5h.9m51 5.6h.9m-29.1-9.4h.9m12.5 26.4h.9m-8.6-25.3h.9m32 13h.9m-59.1-13.3h.9m-4.6 7.4h.9m33.8 48.3h.9m5.8-26.4h.9m-19.2 23.8h.9m20.5-31.7h.9m1.5 7.2h.9m-52.6-8.6h.9m12.6-5h.9m14.8 2.7h.9m24.8 42h.9m-49.5-57.7h.9m9.5 15.4h.9m50.1 9.8h.9m-45.1-13.5h.9m35-2.3h.9m3.4 65.4h.9m-7.8-46.1h.9m-1.8-9.3h.9m-41 7.3h.9m-10.8-8h.9m2.6 35.1h.9m17.9-54.3h.9m41 94h.9m-14.5-72.7h.9m3.8 43.1h.9m-11.5-59h.9m-37.7 12.3h.9m-3.1-10.3h.9m41 12.3h.9m-69-9.9h.9m72.5 45.8h.9m-55.4-40.9h.9m27.3 37.2h.9m44.9-62h.9m-50.4 23.1h.9m-9.2 11.7h.9m-19.5-23h.9m2.6 5h.9m18.2 .6h.9m50.1-20.1h.9m-11.6 46.6h.9m-42.6 26.7h.9m-21.4-58.9h.9m60.8 66.6h.9m-44.3-61.7h.9m17.2 54.6h.9m-13 .2h.9m2.9-41.2h.9m27.6-8.2h.9m-19.7-2.9h.9m-26.6 9.2h.9m-7-8.9h.9m19.7-10.9h.9m-1.6 2.1h.9m12 33.5h.9m-10.8-22.7h.9m34.8 63.9h.9m-67.2-52.1h.9m82.4 87.9h.9m-63-108.7h.9m22.2 45.6h.9m4.2-16.5h.9m1.5 22.6h.9m-54.2-36.7h.9m58.6 .7h.9m-36.9-10.5h.9m8.3 16.4h.9m14.3 38.8h.9m-12.6-17.7h.9m-11-15.3h.9m-5.9-12.3h.9m46.4 25.8h.9m-18.3-40.3h.9m-26.4 13h.9m28 18.7h.9m22.6 48.6h.9m-76.8-71.2h.9m2.3-2.2h.9m13.7 3.2h.9m-30.4-1.4h.9m67.6 39.1h.9m.2-15.2h.9m-18.7-7.9h.9m5.2-6.7h.9m-9.9 32.9h.9m-18.3-56.2h.9m-18.8 22.4h.9m10.2 3.8h.9m13.6 25.3h.9m-38-32.8h.9m77.4 77.6h.9m-21.1-55.4h.9m-16.2 27.9h.9m-1.9-36.8h.9m-32.3-7.4h.9m-6.3-11.7h.9m40.5 31.5h.9m32.7 27.4h.9m-71.5-63.7h.9m22.9-7.9h.9m-15.1 12.4h.9m-19-10.3h.9m60.2 15.2h.9m-10.2 7.3h.9m-7.5-13.5h.9m-32.2 5.4h.9m37.9 66.6h.9m-6.8-71.7h.9m-36.6-2.7h.9m35.5 18.4h.9m23.5 26.6h.9m1.6-46h.9m-2 8.2h.9m-45.6-7.4h.9m41.5 20.4h.9m-55.5-23.3h.9m61.8 27.2h.9m-7.2 4.7h.9m-66.4-39.4h.9m51 28h.9m5.2-2.5h.9m0 28.2h.9m-21.5-4.2h.9m11.5-32.8h.9m-13.6 37.5h.9m-41.3-34.7h.9m71.1 60.9h.9m-42.1-75.8h.9m-26.3 5.2h.9m28.9 5.5h.9m-36.3-7.7h.9m58.5 27.9h.9m-32.8-18.1h.9m23 3.2h.9m2.6 9.2h.9m13.2 4.1h.9m-55-3.7h.9m10.5-9.6h.9m-5.7-.8h.9m42.1 22.7h.9m-46.4-22.6h.9m39.7 27.9h.9m-50.3-41.7h.9m65 19.1h.9m-16.7-9.6h.9m-72.4-1.9h.9m65 18.6h.9m-31.1-27.4h.9m-37.3 2.3h.9m21.7 2.8h.9m42.7 24.9h.9m-12.6-22.7h.9m-2.5-1.9h.9m18.2 18.4h.9m-12.8 4.3h.9m14-14.3h.9m-70.8-17.8h.9m74.9 78.6h.9m-73.3-66h.9m42.4 18.4h.9m-7.8-11.4h.9m35.9 68.2h.9m-22.2-54.6h.9m17.7 61.1h.9m-10.1-81.6h.9m15.4 16.9h.9m-64.5-7h.9m43.3 5.3h.9m-7.7 11h.9m-47.2-10.5h.9m43.2 1.9h.9m-47.6-19.7h.9m17.3 1.9h.9m22.6 5h.9m2.7 .4h.9m-14.4-9.7h.9m29 62.7h.9m-78.7-64.2h.9m44.1 6h.9m-3.9-4.8h.9m36.3 6.6h.9m4.5 74.6h.9m-70.6-73.4h.9m59.1 40.9h.9m-68.1-42.1h.9m75.6 13.6h.9m-20.1-6.3h.9m30.1 68.4h.9m-93.3-81.8h.9m8.9-5h.9m38.2 11.4h.9m27 6.3h.9m-29.9-4.8h.9m29.1 1.6h.9m-10.4 9.2h.9m17.9 70.6h.9m-43-87.2h.9m13.1 1.6h.9m9.4 9.4h.9m-41.8-14.7h.9m59.8 18.6h.9m-44.4 6.4h.9m20.5 22.7h.9m-60.2-40.2h.9m61.5 21.1h.9m6.3 27.9h.9m-68.6-63h.9m40.3 5.7h.9m39.8 96.4h.9m-63.6-93.5h.9m32.2 37h.9m-2.1-40.3h.9m-17 50.5h.9m8-30.8h.9m37.6 23.8h.9m-43.1-40.6h.9m-13.1 15.6h.9m42.6 45.6h.9m3.2-31.2h.9m-82.4-36.1h.9m15.2 11.7h.9m37.7 48.6h.9m-34.5-56.6h.9m3.5 7.2h.9m5.9 11.3h.9m7.3 34.5h.9m-4.5-35.9h.9m1.7-19.2h.9m19.2 49h.9m-15.4-27.5h.9m-1.2 34.9h.9m-49.6-61.3h.9m82.3 35.7h.9m-84.3-23h.9m49.6 4.3h.9m8.8-8.9h.9m3.6 12.6h.9m-49.4-8h.9m18.1-.4h.9m15.2 46.5h.9m36.2 16.9h.9m-43.4-68.4h.9m37.6-13.9h.9m-42.8 7.7h.9m42.1 96.1h.9m-80.3-89.2h.9m20.6 6.1h.9m-8.6-4h.9m60.4 55.1h.9m-77.1-56.2h.9m43.2 19h.9m19.5 6.5h.9m-14.2-7.6h.9m7.9-11.8h.9m-23.4 20h.9m36.2 15h.9m-59.3-50.6h.9m56.7 54.3h.9m-45.9-44.3h.9m-12.6-11.3h.9m10 1.9h.9m2.7 20.8h.9m-29.6 2h.9m23.5-10.3h.9m47.5 70h.9m-47.7-62.8h.9m61.3-12.2h.9m-14.4 37.3h.9m4.1 46.1h.9m-47.3-72.9h.9m25.2 25.4h.9m-35.8-18.4h.9m22 34.5h.9m-16.9-35.7h.9m31 21.9h.9m-60-42.1h.9m61.8 70.8h.9m-37.3-49h.9m43.9 55.2h.9m-48.4-79.9h.9m22.4 15.2h.9m3.9 11.9h.9m8.5 21.2h.9m15.3-31h.9m-46.6-9.9h.9m-38.8 4.8h.9m76 .3h.9m-20.7 43.4h.9m-8.8-3h.9m2-41.7h.9m-5.4 55.9h.9m-12.3-62.2h.9m19.1 48.6h.9m17.8-17h.9m-25.4 9.7h.9m-36.7-38.9h.9m66.5 83.3h.9m-56.3-79.1h.9m52.3 9.2h.9m-20.9 .1h.9m-34.3-8.7h.9m37.2 25.8h.9m8.7 20.1h.9m-17.6-30.9h.9m18-19h.9m-44-8.4h.9m46.9 66.3h.9m-35.9 7.2h.9m8.2-10.6h.9m-5.2-10.7h.9m8.7 18.5h.9m-11.4-39.6h.9m-19.3-17.9h.9m2.9 3.1h.9m38.9 7.9h.9m-75.1-8.5h.9m70 8h.9m-42.4 2.4h.9m31.4 7h.9m-1.1 .2h.9m-1.1 33.3h.9m18.9-49h.9m-72.9-1.2h.9m5.3 8.6h.9m51.6 18.9h.9m12.1-29.4h.9m-11.2 41.1h.9m-64.3-35.8h.9m42.5-1.4h.9m-37.7 4.3h.9m12.2 3.1h.9m-31.3-14.9h.9m54.9 33.8h.9m-10.9 34.3h.9m6.4-38h.9m-20.2-25.1h.9m-24.6 3.6h.9m15.8-7.6h.9m33.2-5.6h.9m-20.6-2.4h.9m-.1 26.9h.9m48.7 63.9h.9m-25.4-47.4h.9m4.2-13.2h.9m-5.8-31.4h.9m-55.1 14.9h.9m-8.1-18.6h.9m5.7 18.8h.9m38.1 14h.9m26.8 3.3h.9m-50-28.2h.9m-22.2 12.2h.9m33.3-5.2h.9m30.8 23.8h.9m-10.5-11.1h.9m-58.5-19h.9m67.3 29h.9m-44.2-35.9h.9m9.7 1.7h.9m11.4 37.6h.9m-7.7-36.3h.9m-47.3 4.1h.9m68.3 4.8h.9m4.6 44.3h.9m-25.9 .8h.9m-22.9-47.6h.9m-27-.8h.9m2.6 9.9h.9m41.3-7.9h.9m-24.5 12.6h.9m46.4 6.8h.9m-57-17.3h.9m34 31.5h.9m-24.9-25.1h.9m37.7 19.9h.9m-3.3-8.5h.9m-60.6-22.3h.9m70.7 23.3h.9m6.4-1.1h.9m-8.5-10.4h.9m-40.2 1.2h.9m36.8 2.7h.9m-71.2-11.8h.9m76.9 30.5h.9m-27.9 9.5h.9m-41-48.3h.9m56.7 25.5h.9m1.1 17.7h.9m-65.3-44.6h.9m26.1 49.3h.9m13.7-53.4h.9m-33.4 19.4h.9m11.5-19.9h.9m20.8 4.2h.9m-3 20.6h.9m27.4-4.8h.9m-63-1.8h.9m49.8 1.2h.9m-2-6.3h.9m20 72.1h.9m-9.7-44.6h.9m-29.3 30.5h.9m-51.8-52.7h.9m55.7 3.3h.9m17.7 55h.9m-16.4-70.1h.9m-20.8 7.3h.9m-.9 12.4h.9m-35.9-18.7h.9m82.1 81.1h.9m-11.4-22.2h.9m-27.1-54.7h.9m29.4 84.7h.9m-36.4-51.1h.9m24.3-21.5h.9m-21.8 5.7h.9m2.9-3.7h.9m-44.1-4.8h.9m.4 1.8h.9m22.5-18h.9m41.7 20.4h.9m2.8-9h.9m-62.1 12.7h.9m67.1 86.1h.9m-52.9-85.7h.9m10.5-9.4h.9m26.8 23.1h.9m-2.5-2.3h.9m-9.7-4h.9m-2.6 5h.9m-62.4-20.7h.9m22.1-6.8h.9m17 11.1h.9m23 25.6h.9m-9.3 .3h.9m6.9-17.4h.9m-11-10.4h.9m28.8 67.8h.9m-37.9-57.3h.9m-52.6-24.6h.9m73.2 24h.9m-49.5-30.1h.9m20.6 5.9h.9m.9 57.4h.9m12-12.6h.9m-44.4-16.7h.9m37.2-22.8h.9m20.7 1.8h.9m-5 44h.9m20.4 49.4h.9m-35-83h.9m9.6 37.9h.9m36.7-39.8h.9m-75-9.4h.9m33.8 23.7h.9m-25.5-13.9h.9m17.2 35.7h.9m6-8.2h.9m9.5-15h.9m-6-3.5h.9m-.5-.7h.9m-55.1-23h.9m11.6 1.2h.9m9.1 2.6h.9m-23 4.4h.9m44.3 53h.9m5.8-67.4h.9m-13.7 19.9h.9m-19.7-1.6h.9m-15.9 5h.9m35.8 33.6h.9m-22.7-41.4h.9m33.2 6.9h.9m-6 15.2h.9m-55.6-42.2h.9m66.5 29.8h.9m.2 8.3h.9m-12.6 16.1h.9m-16.5-20.3h.9m-12.9-22.5h.9m-7.2 13.8h.9m21 31.2h.9m-20.3-27.4h.9m39.3-21.8h.9m-2.3 54.8h.9m-34.7-38.7h.9m-19.7-7.3h.9m14.4-2.1h.9m20 42.2h.9m12.8-22.1h.9m-39.2-22.4h.9m8 29.7h.9m29.3-5.7h.9m-6.5 17.1h.9m-51.1-33.2h.9m14.1 18.3h.9m21.1-13.9h.9m-22.6-12.6h.9m-27.2-2.9h.9m9 14h.9m38.4 29.1h.9m6.7-30.9h.9m-58-9.5h.9m.1 2.7h.9m21.1 15.9h.9m17.5-14.1h.9m2.7 22.2h.9m26 51.7h.9m-41.3-32.3h.9m-32.2-44.4h.9m43.7 27.5h.9m27.4 32.1h.9m-8.9-29.9h.9m-2.5-3.2h.9m23.5 59.9h.9" stroke="#e8e030" stroke-width="0.9" fill="none"/>
<path d="M327.9 358.6h.9m-.2 1.9h.9m-65.5-7.8h.9m89.6 81h.9m-81-85.1h.9m43 20.3h.9m-4.7-15.2h.9m30.9 12.8h.9m-67.4-16.2h.9m55.9 34.8h.9m-11.4-6.9h.9m-52.1-28.6h.9m41.1 33.8h.9m25.9-12.2h.9m-67.4-23.8h.9m40.6 10.8h.9m6.5 12.5h.9m-46.9-22.4h.9m11.9 6h.9m-27.9-10.6h.9m58.1 41.4h.9m-28.8-33.5h.9m42.6 19.9h.9m-9.7 12.7h.9m-4.1-18.5h.9m-23.6-1.3h.9m27 1.2h.9m-54.9-17.7h.9m15.1 10.7h.9m29.1-9.6h.9m-43.8 14.5h.9m62.5 24.5h.9m-46.9-33.5h.9m10.6 3.5h.9m26.6 30.3h.9m6.2-25.2h.9m-13.3 36.1h.9m2.1-35h.9m.8-2.5h.9m-40.3-3.6h.9m32.5 8h.9m-46-11.2h.9m-13.7-8.4h.9m3.3-.2h.9m41 42.9h.9m-1.2-20.3h.9m-1.8-2.7h.9m2.9 14.1h.9m6.9 6.6h.9m1-13.5h.9m-44.6-9.2h.9m6.9-20.3h.9m-1.1 21.1h.9m5.5-19.4h.9" stroke="#f59a20" stroke-width="0.9" fill="none"/>
<path d="M320.1 352.1h.9m16.8 37.9h.9m-10.3-12.8h.9m-11.6 26.7h.9m23.7-41.7h.9m-64.5-9.8h.9m30.4-4.6h.9m40.4 70.4h.9m-15.5-35.2h.9m-6.7-31.4h.9m-34.9 2h.9m28.5 27h.9m-53.5-31.7h.9m52.5 21.1h.9m-27.3-16.5h.9m27.2 23.6h.9m-19.4-13.3h.9m-4.1-17.3h.9m28.1 32.9h.9m15.8 71.7h.9m-37.7-104.1h.9m-30.9-4.7h.9m39.7 38.9h.9m-44.4-27.3h.9m17.5 18h.9m25.9 18.9h.9m-6.9-27.6h.9m-28.9-21.6h.9m62.3 94.6h.9m-29.5-62h.9m-35.2-7.3h.9m39.9 1.2h.9m-7.3 6.9h.9m23.6 52.3h.9m-41.1-51.4h.9m33.1 54.1h.9m-41.6-88.9h.9m-10.2 13.7h.9m10.4-10.3h.9m-24.9 9.3h.9m49.3 15.8h.9m-37-22h.9m11.7-9.6h.9m-5.8 14h.9m16.8 18.9h.9m-37.6-12.5h.9m69.7 75.6h.9m-13.8-66.4h.9m-54.8-17.3h.9m11 17.9h.9m27.6-1.1h.9m-31.7-3.3h.9m-4 6h.9m-28.5-7.4h.9m.3-2.9h.9m42 49.7h.9m-7.7-44.9h.9m25.9 44.6h.9m-61.4-63.7h.9m33 10.9h.9m14.5 17.2h.9m-42.5-14.7h.9m17.1 3.6h.9m15.4 36h.9m22.2-35.7h.9m-62.2-10.5h.9m17.7 1.5h.9m24.8 41.4h.9m14.7-7.3h.9m-25.1-33.8h.9m29.9 26.7h.9m-67.5-25.9h.9m63.7 45.2h.9m2.6-22.1h.9m-68-20.8h.9m42-2.8h.9m27.2 42.3h.9m-20.4 11.8h.9m23.2 35.6h.9m-58.7-92.4h.9m58.7 79.1h.9m-46.5-69.2h.9m-11.9-12.6h.9m-30.9 11.2h.9m29-4.8h.9m-15.1-11.8h.9m67.8 63.5h.9m-27.5-16.3h.9m-17.1-27.8h.9m2.1-16.5h.9m28.4 15h.9m-39.5-13.8h.9" stroke="#e82a1a" stroke-width="0.9" fill="none"/>
<polygon points="258.8,332.9 296.3,332.9 296.3,390.3 258.8,390.3" fill="none" stroke="#231f20" stroke-width="0.9"/>
<polygon points="296.3,332.9 326.2,332.9 326.2,390.3 296.3,390.3" fill="none" stroke="#231f20" stroke-width="0.9"/>
<polygon points="326.2,332.9 367.0,332.9 365.4,419.2 337.4,419.2 326.2,390.3" fill="none" stroke="#231f20" stroke-width="0.9"/>
<polygon points="337.4,419.2 364.4,419.2 364.4,462.9 337.4,462.9" fill="none" stroke="#231f20" stroke-width="0.9"/>
<text x="241.7" y="304.3">CD10<tspan dy="-3.5" font-size="6.5">+</tspan></text>
<text x="240.1" y="314.8">CD20<tspan dy="-3.5" font-size="6.5">–</tspan></text>
<text x="245.0" y="326.1">18.8</text>
<text x="298.0" y="304.3">CD10<tspan dy="-3.5" font-size="6.5">+</tspan></text>
<text x="297.0" y="314.8">CD20<tspan dy="-3.5" font-size="6.5">+</tspan></text>
<text x="299.5" y="326.1">26.6</text>
<text x="347.7" y="304.6">CD10<tspan dy="-3.5" font-size="6.5">+</tspan></text>
<text x="347.7" y="316.8">CD20<tspan dy="-3.5" font-size="6.5">++</tspan></text>
<text x="346.0" y="329.6">34.8</text>
<text x="289.3" y="437.9">CD10<tspan dy="-3.5" font-size="6.5">–</tspan></text>
<text x="289.3" y="447.5">CD20<tspan dy="-3.5" font-size="6.5">++</tspan></text>
<text x="288.3" y="460.3">6.95</text>
<text x="316.2" y="482.8" text-anchor="middle">CD20</text>
<text transform="translate(418.0 270.1) scale(0.92 1)" font-size="15.5" font-weight="bold" fill="#000" stroke="#000" stroke-width="0.45">d</text>
<text x="477.0" y="272.8" textLength="186.4" lengthAdjust="spacingAndGlyphs">CD34<tspan dy="-3.5" font-size="6.5">+</tspan><tspan dy="3.5"> HSPC-derived B cell progenitors</tspan></text>
<circle cx="489.8" cy="286.3" r="3.6" fill="#111"/>
<text x="498.6" y="289.8"><tspan font-style="italic">AAVS1</tspan> sg1 + sg2</text>
<path d="M489.8 297.9l3.9 3.9l-3.9 3.9l-3.9 -3.9z" fill="#111"/>
<text x="498.6" y="305.2"><tspan font-style="italic">AAVS1</tspan> sg1</text>
<circle cx="598.3" cy="286.3" r="3.6" fill="#e8312a"/>
<text x="607.6" y="289.8"><tspan font-style="italic">CBL</tspan> sg1 + sg2</text>
<path d="M598.3 297.3l3.9 3.9l-3.9 3.9l-3.9 -3.9z" fill="#e8312a"/>
<text x="607.6" y="305.2"><tspan font-style="italic">CBL</tspan> sg1 + sg3</text>
<line x1="456.5" y1="272.9" x2="456.5" y2="453.2" stroke="#333" stroke-width="0.8"/>
<line x1="456.5" y1="453.2" x2="683.1" y2="453.2" stroke="#333" stroke-width="0.8"/>
<line x1="451.1" y1="453.2" x2="456.5" y2="453.2" stroke="#333" stroke-width="0.8"/>
<text x="447.9" y="456.7" text-anchor="end">0</text>
<line x1="451.1" y1="427.5" x2="456.5" y2="427.5" stroke="#333" stroke-width="0.8"/>
<text x="447.9" y="431.0" text-anchor="end">10</text>
<line x1="451.1" y1="401.8" x2="456.5" y2="401.8" stroke="#333" stroke-width="0.8"/>
<text x="447.9" y="405.3" text-anchor="end">20</text>
<line x1="451.1" y1="376.1" x2="456.5" y2="376.1" stroke="#333" stroke-width="0.8"/>
<text x="447.9" y="379.6" text-anchor="end">30</text>
<line x1="451.1" y1="350.4" x2="456.5" y2="350.4" stroke="#333" stroke-width="0.8"/>
<text x="447.9" y="353.9" text-anchor="end">40</text>
<line x1="451.1" y1="324.8" x2="456.5" y2="324.8" stroke="#333" stroke-width="0.8"/>
<text x="447.9" y="328.2" text-anchor="end">50</text>
<line x1="451.1" y1="299.1" x2="456.5" y2="299.1" stroke="#333" stroke-width="0.8"/>
<text x="447.9" y="302.6" text-anchor="end">60</text>
<line x1="451.1" y1="273.4" x2="456.5" y2="273.4" stroke="#333" stroke-width="0.8"/>
<text x="447.9" y="276.9" text-anchor="end">70</text>
<line x1="483.6" y1="453.2" x2="483.6" y2="457.7" stroke="#333" stroke-width="0.8"/>
<line x1="541.6" y1="453.2" x2="541.6" y2="457.7" stroke="#333" stroke-width="0.8"/>
<line x1="598.6" y1="453.2" x2="598.6" y2="457.7" stroke="#333" stroke-width="0.8"/>
<line x1="656.6" y1="453.2" x2="656.6" y2="457.7" stroke="#333" stroke-width="0.8"/>
<g transform="translate(489.6 468.5) rotate(-45)"><text text-anchor="end">CD10<tspan dy="-3.5" font-size="6.5">+</tspan></text><text y="10" x="0" text-anchor="end">CD20<tspan dy="-3.5" font-size="6.5">–</tspan></text></g>
<g transform="translate(547.6 468.5) rotate(-45)"><text text-anchor="end">CD10<tspan dy="-3.5" font-size="6.5">+</tspan></text><text y="10" x="0" text-anchor="end">CD20<tspan dy="-3.5" font-size="6.5">+</tspan></text></g>
<g transform="translate(604.6 468.5) rotate(-45)"><text text-anchor="end">CD10<tspan dy="-3.5" font-size="6.5">+</tspan></text><text y="10" x="0" text-anchor="end">CD20<tspan dy="-3.5" font-size="6.5">++</tspan></text></g>
<g transform="translate(662.6 468.5) rotate(-45)"><text text-anchor="end">CD10<tspan dy="-3.5" font-size="6.5">–</tspan></text><text y="10" x="0" text-anchor="end">CD20<tspan dy="-3.5" font-size="6.5">++</tspan></text></g>
<text x="428.0" y="363.8" text-anchor="middle" transform="rotate(-90 428.0 363.8)" textLength="97.8" lengthAdjust="spacingAndGlyphs">Percentage of CD19<tspan dy="-3.5" font-size="6.5">+</tspan></text>
<path d="M463.1 279.2l3.3 3.3l-3.3 3.3l-3.3 -3.3z" fill="#111"/>
<path d="M463.1 345.2l3.3 3.3l-3.3 3.3l-3.3 -3.3z" fill="#111"/>
<circle cx="473.4" cy="346.3" r="3.6" fill="#111"/>
<circle cx="473.4" cy="361.0" r="3.6" fill="#111"/>
<circle cx="473.4" cy="370.4" r="3.6" fill="#111"/>
<circle cx="483.6" cy="379.3" r="3.6" fill="#e8312a"/>
<circle cx="483.6" cy="385.3" r="3.6" fill="#e8312a"/>
<circle cx="483.6" cy="395.6" r="3.6" fill="#e8312a"/>
<path d="M493.9 372.7l3.3 3.3l-3.3 3.3l-3.3 -3.3z" fill="#e8312a"/>
<path d="M493.9 385.0l3.3 3.3l-3.3 3.3l-3.3 -3.3z" fill="#e8312a"/>
<path d="M493.9 405.0l3.3 3.3l-3.3 3.3l-3.3 -3.3z" fill="#e8312a"/>
<path d="M521.0 366.7l3.3 3.3l-3.3 3.3l-3.3 -3.3z" fill="#111"/>
<path d="M521.0 387.8l3.3 3.3l-3.3 3.3l-3.3 -3.3z" fill="#111"/>
<circle cx="531.3" cy="361.2" r="3.6" fill="#111"/>
<circle cx="531.3" cy="373.7" r="3.6" fill="#111"/>
<circle cx="531.3" cy="375.0" r="3.6" fill="#111"/>
<circle cx="541.6" cy="386.8" r="3.6" fill="#e8312a"/>
<circle cx="541.6" cy="389.6" r="3.6" fill="#e8312a"/>
<circle cx="541.6" cy="387.8" r="3.6" fill="#e8312a"/>
<path d="M551.5 372.3l3.3 3.3l-3.3 3.3l-3.3 -3.3z" fill="#e8312a"/>
<path d="M551.5 378.8l3.3 3.3l-3.3 3.3l-3.3 -3.3z" fill="#e8312a"/>
<path d="M578.5 406.0l3.3 3.3l-3.3 3.3l-3.3 -3.3z" fill="#111"/>
<path d="M578.5 432.5l3.3 3.3l-3.3 3.3l-3.3 -3.3z" fill="#111"/>
<circle cx="588.9" cy="392.1" r="3.6" fill="#111"/>
<circle cx="588.9" cy="399.0" r="3.6" fill="#111"/>
<circle cx="588.9" cy="404.2" r="3.6" fill="#111"/>
<circle cx="599.0" cy="351.9" r="3.6" fill="#e8312a"/>
<circle cx="599.0" cy="373.7" r="3.6" fill="#e8312a"/>
<circle cx="599.0" cy="378.4" r="3.6" fill="#e8312a"/>
<path d="M609.3 338.1l3.3 3.3l-3.3 3.3l-3.3 -3.3z" fill="#e8312a"/>
<path d="M609.3 367.6l3.3 3.3l-3.3 3.3l-3.3 -3.3z" fill="#e8312a"/>
<path d="M609.3 374.7l3.3 3.3l-3.3 3.3l-3.3 -3.3z" fill="#e8312a"/>
<path d="M635.7 446.1l3.3 3.3l-3.3 3.3l-3.3 -3.3z" fill="#111"/>
<path d="M635.7 448.9l3.3 3.3l-3.3 3.3l-3.3 -3.3z" fill="#111"/>
<circle cx="646.7" cy="447.6" r="3.6" fill="#111"/>
<circle cx="646.7" cy="448.5" r="3.6" fill="#111"/>
<circle cx="656.6" cy="430.7" r="3.6" fill="#e8312a"/>
<circle cx="656.6" cy="436.9" r="3.6" fill="#e8312a"/>
<circle cx="656.6" cy="440.1" r="3.6" fill="#e8312a"/>
<path d="M666.9 422.4l3.3 3.3l-3.3 3.3l-3.3 -3.3z" fill="#e8312a"/>
<path d="M666.9 434.9l3.3 3.3l-3.3 3.3l-3.3 -3.3z" fill="#e8312a"/>
<path d="M666.9 444.7l3.3 3.3l-3.3 3.3l-3.3 -3.3z" fill="#e8312a"/>
<line x1="459.8" y1="315.2" x2="466.4" y2="315.2" stroke="#222" stroke-width="0.9"/>
<line x1="517.7" y1="380.3" x2="524.3" y2="380.3" stroke="#222" stroke-width="0.9"/>
<line x1="575.2" y1="422.7" x2="581.8" y2="422.7" stroke="#666" stroke-width="0.9"/>
<line x1="595.7" y1="368.1" x2="602.3" y2="368.1" stroke="#222" stroke-width="0.9"/>
<line x1="606.0" y1="363.5" x2="612.6" y2="363.5" stroke="#222" stroke-width="0.9"/>
<line x1="490.6" y1="388.3" x2="497.2" y2="388.3" stroke="#666" stroke-width="0.9"/>
<line x1="528.0" y1="372.5" x2="534.6" y2="372.5" stroke="#222" stroke-width="0.9"/>
<polyline points="583.3,350.4 583.3,320.5 607.6,320.5 607.6,330.2" fill="none" stroke="#555" stroke-width="0.7"/>
<line x1="578.5" y1="350.4" x2="588.9" y2="350.4" stroke="#555" stroke-width="0.8"/>
<line x1="602.0" y1="330.2" x2="612.1" y2="330.2" stroke="#555" stroke-width="0.8"/>
<path d="M593.50 317.30L593.50 315.20M593.50 317.30L595.50 316.65M593.50 317.30L594.73 319.00M593.50 317.30L592.27 319.00M593.50 317.30L591.50 316.65" stroke="#222" stroke-width="1.1" stroke-linecap="round"/>
<path d="M598.30 317.30L598.30 315.20M598.30 317.30L600.30 316.65M598.30 317.30L599.53 319.00M598.30 317.30L597.07 319.00M598.30 317.30L596.30 316.65" stroke="#222" stroke-width="1.1" stroke-linecap="round"/>
<text transform="translate(0.0 520.3) scale(0.92 1)" font-size="15.5" font-weight="bold" fill="#000" stroke="#000" stroke-width="0.45">e</text>
<text x="66.4" y="521.7" textLength="158.6" lengthAdjust="spacingAndGlyphs">CD10<tspan dy="-3.5" font-size="6.5">+</tspan><tspan dy="3.5">CD20</tspan><tspan dy="-3.5" font-size="6.5">dim</tspan><tspan dy="3.5">  B cell progenitors</tspan></text>
<text x="93.0" y="536.2" textLength="113.8" lengthAdjust="spacingAndGlyphs"><tspan font-style="italic">PI3K</tspan><tspan dy="-3.5" font-size="6.5">GOF</tspan><tspan dy="3.5"> down signature</tspan></text>
<text x="100.5" y="649.4" textLength="98.3" lengthAdjust="spacingAndGlyphs"><tspan font-style="italic">PI3K</tspan><tspan dy="-3.5" font-size="6.5">GOF</tspan><tspan dy="3.5"> up signature</tspan></text>
<line x1="47.4" y1="540.1" x2="47.4" y2="634.1" stroke="#444" stroke-width="0.8"/>
<line x1="47.4" y1="634.1" x2="254.5" y2="634.1" stroke="#444" stroke-width="0.8"/>
<line x1="254.5" y1="518.0" x2="254.5" y2="634.1" stroke="#777" stroke-width="0.7"/>
<line x1="43.4" y1="544.9" x2="47.4" y2="544.9" stroke="#444" stroke-width="0.8"/>
<text x="39.2" y="548.4" text-anchor="end">0</text>
<line x1="43.4" y1="571.0" x2="47.4" y2="571.0" stroke="#444" stroke-width="0.8"/>
<text x="39.2" y="574.5" text-anchor="end">−0.25</text>
<line x1="43.4" y1="597.4" x2="47.4" y2="597.4" stroke="#444" stroke-width="0.8"/>
<text x="39.2" y="600.9" text-anchor="end">−0.5</text>
<line x1="43.4" y1="623.2" x2="47.4" y2="623.2" stroke="#444" stroke-width="0.8"/>
<text x="39.2" y="626.7" text-anchor="end">−0.75</text>
<line x1="47.4" y1="619.1" x2="254.5" y2="619.1" stroke="#f08080" stroke-width="1.0" stroke-dasharray="3.2 2.6"/>
<path d="M64.7 539.8V549.5M83.0 539.8V549.5M85.6 539.8V549.5M104.5 539.8V549.5M106.4 539.8V549.5M112.1 539.8V549.5M118.4 539.8V549.5M119.1 539.8V549.5M130.5 539.8V549.5M131.7 539.8V549.5M136.1 539.8V549.5M160.8 539.8V549.5" stroke="#787878" stroke-width="0.66"/>
<path d="M65.3 539.8V549.5M72.9 539.8V549.5M75.5 539.8V549.5M78.6 539.8V549.5M92.5 539.8V549.5M93.2 539.8V549.5M107.1 539.8V549.5M110.9 539.8V549.5M114.0 539.8V549.5M121.0 539.8V549.5M136.8 539.8V549.5M141.8 539.8V549.5M148.2 539.8V549.5M158.3 539.8V549.5M165.2 539.8V549.5M169.0 539.8V549.5M182.9 539.8V549.5M183.6 539.8V549.5M184.8 539.8V549.5M188.0 539.8V549.5M191.1 539.8V549.5M191.8 539.8V549.5M196.8 539.8V549.5M198.1 539.8V549.5" stroke="#303030" stroke-width="0.66"/>
<path d="M66.6 539.8V549.5M69.1 539.8V549.5M79.9 539.8V549.5M90.0 539.8V549.5M96.3 539.8V549.5M98.2 539.8V549.5M109.6 539.8V549.5M134.2 539.8V549.5M144.4 539.8V549.5M154.5 539.8V549.5M166.5 539.8V549.5M171.5 539.8V549.5M181.7 539.8V549.5M186.7 539.8V549.5M193.7 539.8V549.5M194.3 539.8V549.5M205.0 539.8V549.5M206.3 539.8V549.5" stroke="#6c6c6c" stroke-width="0.66"/>
<path d="M67.2 539.8V549.5M80.5 539.8V549.5M82.4 539.8V549.5M91.3 539.8V549.5M98.9 539.8V549.5M117.2 539.8V549.5M117.8 539.8V549.5M122.2 539.8V549.5M123.5 539.8V549.5M127.9 539.8V549.5M132.4 539.8V549.5M133.0 539.8V549.5M151.9 539.8V549.5M156.4 539.8V549.5M161.4 539.8V549.5M176.0 539.8V549.5M176.6 539.8V549.5M179.1 539.8V549.5M184.2 539.8V549.5M193.0 539.8V549.5M201.9 539.8V549.5" stroke="#484848" stroke-width="0.66"/>
<path d="M67.9 539.8V549.5M71.0 539.8V549.5M95.7 539.8V549.5M97.0 539.8V549.5M100.1 539.8V549.5M110.2 539.8V549.5M112.8 539.8V549.5M122.9 539.8V549.5M124.1 539.8V549.5M126.7 539.8V549.5M133.6 539.8V549.5M138.0 539.8V549.5M139.9 539.8V549.5M143.1 539.8V549.5M148.8 539.8V549.5M150.1 539.8V549.5M162.7 539.8V549.5M163.3 539.8V549.5M164.0 539.8V549.5M172.2 539.8V549.5M173.4 539.8V549.5M174.1 539.8V549.5M174.7 539.8V549.5M189.9 539.8V549.5M205.7 539.8V549.5" stroke="#242424" stroke-width="0.66"/>
<path d="M69.8 539.8V549.5M71.7 539.8V549.5M79.3 539.8V549.5M83.7 539.8V549.5M103.3 539.8V549.5M127.3 539.8V549.5M128.6 539.8V549.5M137.4 539.8V549.5M138.7 539.8V549.5M139.3 539.8V549.5M140.6 539.8V549.5M146.3 539.8V549.5M146.9 539.8V549.5M147.5 539.8V549.5M152.6 539.8V549.5M157.0 539.8V549.5M162.1 539.8V549.5M196.2 539.8V549.5M197.5 539.8V549.5M198.7 539.8V549.5M201.3 539.8V549.5M202.5 539.8V549.5" stroke="#606060" stroke-width="0.66"/>
<path d="M76.7 539.8V549.5M84.9 539.8V549.5M93.8 539.8V549.5M100.7 539.8V549.5M101.4 539.8V549.5M116.6 539.8V549.5M126.0 539.8V549.5M131.1 539.8V549.5M145.0 539.8V549.5M158.9 539.8V549.5M170.9 539.8V549.5M179.8 539.8V549.5M181.0 539.8V549.5M185.4 539.8V549.5M190.5 539.8V549.5M195.6 539.8V549.5M200.0 539.8V549.5M203.8 539.8V549.5" stroke="#545454" stroke-width="0.66"/>
<path d="M81.2 539.8V549.5M95.1 539.8V549.5M105.8 539.8V549.5M107.7 539.8V549.5M109.0 539.8V549.5M115.3 539.8V549.5M119.7 539.8V549.5M134.9 539.8V549.5M165.9 539.8V549.5M178.5 539.8V549.5M182.3 539.8V549.5M186.1 539.8V549.5M203.1 539.8V549.5" stroke="#3c3c3c" stroke-width="0.66"/>
<path d="M81.8 539.8V549.5M88.1 539.8V549.5M102.0 539.8V549.5M113.4 539.8V549.5" stroke="#848484" stroke-width="0.66"/>
<path d="M115.9 539.8V549.5M121.6 539.8V549.5M125.4 539.8V549.5M129.2 539.8V549.5M129.8 539.8V549.5M141.2 539.8V549.5M145.6 539.8V549.5M150.7 539.8V549.5M153.8 539.8V549.5M155.7 539.8V549.5M159.5 539.8V549.5M164.6 539.8V549.5M168.4 539.8V549.5M170.3 539.8V549.5M187.3 539.8V549.5M199.4 539.8V549.5" stroke="#181818" stroke-width="0.66"/>
<path d="M135.5 539.8V549.5M143.7 539.8V549.5M153.2 539.8V549.5M155.1 539.8V549.5M157.6 539.8V549.5M160.2 539.8V549.5M167.1 539.8V549.5M167.8 539.8V549.5M169.6 539.8V549.5M172.8 539.8V549.5M175.3 539.8V549.5M177.2 539.8V549.5M177.9 539.8V549.5M180.4 539.8V549.5M189.2 539.8V549.5M192.4 539.8V549.5M194.9 539.8V549.5M200.6 539.8V549.5" stroke="#0c0c0c" stroke-width="0.66"/>
<path d="M188.6 539.8V549.5M204.4 539.8V549.5M206.9 539.8V549.5M207.6 539.8V549.5M208.2 539.8V549.5M208.8 539.8V549.5M209.5 539.8V549.5M210.1 539.8V549.5M210.7 539.8V549.5M211.4 539.8V549.5M212.0 539.8V549.5M212.6 539.8V549.5M213.3 539.8V549.5M213.9 539.8V549.5M214.5 539.8V549.5M215.2 539.8V549.5M215.8 539.8V549.5M216.4 539.8V549.5M217.1 539.8V549.5M217.7 539.8V549.5M218.3 539.8V549.5M219.0 539.8V549.5M219.6 539.8V549.5M220.2 539.8V549.5M220.8 539.8V549.5M221.5 539.8V549.5M222.1 539.8V549.5M222.7 539.8V549.5M223.4 539.8V549.5M224.0 539.8V549.5M224.6 539.8V549.5M225.3 539.8V549.5M225.9 539.8V549.5M226.5 539.8V549.5M227.2 539.8V549.5M227.8 539.8V549.5M228.4 539.8V549.5M229.1 539.8V549.5M229.7 539.8V549.5M230.3 539.8V549.5M231.0 539.8V549.5M231.6 539.8V549.5M232.2 539.8V549.5M232.9 539.8V549.5M233.5 539.8V549.5M234.1 539.8V549.5M234.8 539.8V549.5M235.4 539.8V549.5M236.0 539.8V549.5M236.7 539.8V549.5M237.3 539.8V549.5M237.9 539.8V549.5M238.5 539.8V549.5M239.2 539.8V549.5M239.8 539.8V549.5M240.4 539.8V549.5M241.1 539.8V549.5M241.7 539.8V549.5M242.3 539.8V549.5M243.0 539.8V549.5M243.6 539.8V549.5M244.2 539.8V549.5M244.9 539.8V549.5M245.5 539.8V549.5" stroke="#000000" stroke-width="0.66"/>
<line x1="47.4" y1="544.9" x2="254.5" y2="544.9" stroke="#e06060" stroke-width="0.9" stroke-dasharray="3.2 2.6" opacity="0.8"/>
<path d="M56.7 544.5C57.9 545.2 61.5 547.2 64.1 548.6C66.7 550.0 68.1 551.1 72.1 553.1C76.1 555.1 82.8 557.8 88.2 560.5C93.6 563.2 98.9 566.2 104.2 569.2C109.5 572.2 114.9 575.2 120.3 578.2C125.7 581.2 131.0 584.3 136.3 587.2C141.7 590.1 147.0 592.9 152.4 595.8C157.8 598.7 163.2 601.8 168.5 604.5C173.8 607.2 179.2 609.8 184.5 611.9C189.8 614.0 196.3 616.2 200.6 617.3C204.9 618.4 207.8 618.4 210.2 618.4C212.6 618.4 213.4 618.0 215.0 617.3C216.6 616.6 217.9 615.3 219.8 614.1C221.7 612.9 224.2 612.1 226.3 610.3C228.5 608.5 230.8 605.9 232.7 603.2C234.6 600.5 236.2 597.8 237.5 594.2C238.8 590.6 239.8 586.2 240.7 581.4C241.6 576.6 242.3 570.9 243.0 565.3C243.7 559.7 244.3 551.2 244.6 547.7C244.9 544.2 244.8 545.0 244.9 544.5" fill="none" stroke="#5cbd3c" stroke-width="1.1"/>
<text x="148.9" y="568.3"><tspan font-style="italic">P</tspan> = 1.74 × 10<tspan dy="-3.5" font-size="6.5">−211</tspan></text>
<text x="148.9" y="582.3">NES = −3.211</text>
<line x1="47.4" y1="653.3" x2="47.4" y2="755.3" stroke="#444" stroke-width="0.8"/>
<line x1="47.4" y1="653.3" x2="254.5" y2="653.3" stroke="#777" stroke-width="0.7"/>
<line x1="254.5" y1="653.3" x2="254.5" y2="755.3" stroke="#777" stroke-width="0.7"/>
<line x1="43.4" y1="685.0" x2="47.4" y2="685.0" stroke="#444" stroke-width="0.8"/>
<text x="38.9" y="688.5" text-anchor="end">0.5</text>
<line x1="43.4" y1="716.9" x2="47.4" y2="716.9" stroke="#444" stroke-width="0.8"/>
<text x="38.9" y="720.4" text-anchor="end">0.25</text>
<line x1="43.4" y1="748.6" x2="47.4" y2="748.6" stroke="#444" stroke-width="0.8"/>
<text x="38.9" y="752.1" text-anchor="end">0</text>
<line x1="47.4" y1="665.1" x2="254.5" y2="665.1" stroke="#f08080" stroke-width="1.0" stroke-dasharray="3.2 2.6"/>
<path d="M56.7 743.1V754.2M57.3 743.1V754.2M57.9 743.1V754.2M58.6 743.1V754.2M59.2 743.1V754.2M59.8 743.1V754.2M60.4 743.1V754.2M61.0 743.1V754.2M61.7 743.1V754.2M62.3 743.1V754.2M62.9 743.1V754.2M63.5 743.1V754.2M64.2 743.1V754.2M64.8 743.1V754.2M65.4 743.1V754.2M66.0 743.1V754.2M66.6 743.1V754.2M67.3 743.1V754.2M67.9 743.1V754.2M68.5 743.1V754.2M69.1 743.1V754.2M69.7 743.1V754.2M70.4 743.1V754.2M71.0 743.1V754.2M71.6 743.1V754.2M72.2 743.1V754.2M72.9 743.1V754.2M73.5 743.1V754.2M74.1 743.1V754.2M74.7 743.1V754.2M75.3 743.1V754.2M76.0 743.1V754.2M76.6 743.1V754.2M77.2 743.1V754.2M77.8 743.1V754.2M78.4 743.1V754.2M79.1 743.1V754.2M79.7 743.1V754.2M80.3 743.1V754.2M80.9 743.1V754.2M81.6 743.1V754.2M82.2 743.1V754.2M82.8 743.1V754.2M83.4 743.1V754.2M84.0 743.1V754.2M84.7 743.1V754.2M85.3 743.1V754.2M85.9 743.1V754.2M86.5 743.1V754.2M87.1 743.1V754.2M87.8 743.1V754.2M88.4 743.1V754.2M89.0 743.1V754.2M89.6 743.1V754.2M90.3 743.1V754.2M90.9 743.1V754.2M91.5 743.1V754.2M92.1 743.1V754.2M92.7 743.1V754.2M93.4 743.1V754.2M94.0 743.1V754.2M94.6 743.1V754.2M95.2 743.1V754.2M95.8 743.1V754.2M96.5 743.1V754.2M97.1 743.1V754.2M97.7 743.1V754.2M98.3 743.1V754.2M99.0 743.1V754.2M99.6 743.1V754.2M100.2 743.1V754.2M100.8 743.1V754.2M101.4 743.1V754.2M102.1 743.1V754.2M102.7 743.1V754.2M103.3 743.1V754.2M103.9 743.1V754.2M104.5 743.1V754.2M105.2 743.1V754.2M105.8 743.1V754.2M106.4 743.1V754.2M107.0 743.1V754.2M107.7 743.1V754.2M108.3 743.1V754.2M108.9 743.1V754.2M109.5 743.1V754.2M110.1 743.1V754.2M110.8 743.1V754.2M111.4 743.1V754.2M112.0 743.1V754.2M112.6 743.1V754.2M113.2 743.1V754.2M113.9 743.1V754.2M114.5 743.1V754.2M115.1 743.1V754.2M115.7 743.1V754.2M116.4 743.1V754.2M117.0 743.1V754.2M117.6 743.1V754.2M118.2 743.1V754.2M118.8 743.1V754.2M119.5 743.1V754.2M120.1 743.1V754.2M120.7 743.1V754.2M121.3 743.1V754.2M121.9 743.1V754.2M122.6 743.1V754.2M123.2 743.1V754.2M125.1 743.1V754.2M126.9 743.1V754.2M131.3 743.1V754.2" stroke="#000000" stroke-width="0.65"/>
<path d="M123.8 743.1V754.2M124.4 743.1V754.2M128.8 743.1V754.2M132.5 743.1V754.2M135.6 743.1V754.2M143.1 743.1V754.2M145.6 743.1V754.2M149.9 743.1V754.2M151.2 743.1V754.2M152.4 743.1V754.2M153.6 743.1V754.2M159.9 743.1V754.2M167.3 743.1V754.2M169.2 743.1V754.2M172.3 743.1V754.2M184.7 743.1V754.2M188.4 743.1V754.2M194.0 743.1V754.2M196.5 743.1V754.2M198.4 743.1V754.2M204.6 743.1V754.2M232.6 743.1V754.2" stroke="#303030" stroke-width="0.65"/>
<path d="M125.7 743.1V754.2M135.0 743.1V754.2M136.9 743.1V754.2M143.7 743.1V754.2M147.4 743.1V754.2M148.7 743.1V754.2M161.1 743.1V754.2M165.4 743.1V754.2M178.5 743.1V754.2" stroke="#181818" stroke-width="0.65"/>
<path d="M126.3 743.1V754.2M130.6 743.1V754.2M139.3 743.1V754.2M146.2 743.1V754.2M163.6 743.1V754.2M180.4 743.1V754.2M210.8 743.1V754.2M215.2 743.1V754.2" stroke="#606060" stroke-width="0.65"/>
<path d="M127.5 743.1V754.2M141.8 743.1V754.2M148.0 743.1V754.2M149.3 743.1V754.2M162.3 743.1V754.2M166.7 743.1V754.2M173.5 743.1V754.2M175.4 743.1V754.2M184.1 743.1V754.2M190.9 743.1V754.2M207.1 743.1V754.2M218.3 743.1V754.2M220.8 743.1V754.2M227.6 743.1V754.2" stroke="#242424" stroke-width="0.65"/>
<path d="M128.2 743.1V754.2M138.7 743.1V754.2M141.2 743.1V754.2M144.9 743.1V754.2M146.8 743.1V754.2M153.0 743.1V754.2M157.4 743.1V754.2M158.6 743.1V754.2M160.5 743.1V754.2M163.0 743.1V754.2M164.2 743.1V754.2M170.4 743.1V754.2M186.6 743.1V754.2M189.7 743.1V754.2M192.2 743.1V754.2M199.6 743.1V754.2M200.9 743.1V754.2M224.5 743.1V754.2" stroke="#3c3c3c" stroke-width="0.65"/>
<path d="M129.4 743.1V754.2M130.0 743.1V754.2M134.4 743.1V754.2M144.3 743.1V754.2M150.5 743.1V754.2M154.9 743.1V754.2M164.8 743.1V754.2M176.6 743.1V754.2M182.8 743.1V754.2M195.3 743.1V754.2M202.1 743.1V754.2M207.7 743.1V754.2M217.0 743.1V754.2M228.2 743.1V754.2" stroke="#545454" stroke-width="0.65"/>
<path d="M131.9 743.1V754.2M133.8 743.1V754.2M137.5 743.1V754.2M138.1 743.1V754.2M140.6 743.1V754.2M156.7 743.1V754.2M159.2 743.1V754.2M161.7 743.1V754.2M186.0 743.1V754.2M190.3 743.1V754.2M195.9 743.1V754.2M212.7 743.1V754.2M229.5 743.1V754.2" stroke="#6c6c6c" stroke-width="0.65"/>
<path d="M133.1 743.1V754.2M142.5 743.1V754.2M167.9 743.1V754.2M169.8 743.1V754.2" stroke="#0c0c0c" stroke-width="0.65"/>
<path d="M136.2 743.1V754.2M140.0 743.1V754.2M151.8 743.1V754.2M172.9 743.1V754.2M177.3 743.1V754.2M179.1 743.1V754.2M182.2 743.1V754.2M189.1 743.1V754.2M194.7 743.1V754.2" stroke="#484848" stroke-width="0.65"/>
<path d="M154.3 743.1V754.2M155.5 743.1V754.2M158.0 743.1V754.2M174.1 743.1V754.2M183.5 743.1V754.2M187.8 743.1V754.2M199.0 743.1V754.2M200.2 743.1V754.2M208.3 743.1V754.2M223.2 743.1V754.2M234.4 743.1V754.2M240.0 743.1V754.2" stroke="#787878" stroke-width="0.65"/>
<path d="M168.6 743.1V754.2M177.9 743.1V754.2M205.2 743.1V754.2M219.5 743.1V754.2M222.6 743.1V754.2M236.3 743.1V754.2M237.5 743.1V754.2" stroke="#848484" stroke-width="0.65"/>
<path d="M215.8 743.1V754.2M226.3 743.1V754.2M230.1 743.1V754.2M236.9 743.1V754.2" stroke="#909090" stroke-width="0.65"/>
<line x1="47.4" y1="748.6" x2="254.5" y2="748.6" stroke="#e06060" stroke-width="0.9" stroke-dasharray="3.2 2.6" opacity="0.8"/>
<path d="M56.7 748.3C56.8 745.2 57.0 735.7 57.3 730.0C57.6 724.3 58.0 720.6 58.6 714.2C59.2 707.8 59.7 698.1 60.9 691.7C62.1 685.3 63.8 679.7 65.7 675.7C67.6 671.7 69.4 669.5 72.1 667.7C74.8 665.9 78.8 665.3 81.7 664.8C84.7 664.3 86.0 664.3 89.8 664.8C93.5 665.3 99.1 666.2 104.2 667.7C109.3 669.2 114.9 671.7 120.3 674.1C125.7 676.5 131.0 679.2 136.3 682.1C141.7 685.0 147.0 688.2 152.4 691.7C157.8 695.2 163.2 699.2 168.5 703.0C173.8 706.8 179.2 710.6 184.5 714.2C189.8 717.8 195.2 721.4 200.6 724.5C205.9 727.6 211.2 730.1 216.6 732.9C221.9 735.7 228.1 739.1 232.7 741.5C237.2 743.9 241.8 746.2 243.9 747.3C246.0 748.4 245.2 748.1 245.5 748.3" fill="none" stroke="#5cbd3c" stroke-width="1.1"/>
<text x="78.8" y="721.4"><tspan font-style="italic">P</tspan> = 2.92 × 10<tspan dy="-3.5" font-size="6.5">−110</tspan></text>
<text x="78.8" y="733.0">NES = 2.70</text>
<line x1="47.4" y1="755.3" x2="47.4" y2="757.5" stroke="#444" stroke-width="0.8"/>
<line x1="254.5" y1="755.3" x2="254.5" y2="757.5" stroke="#444" stroke-width="0.8"/>
<text x="8.8" y="648.0" text-anchor="middle" transform="rotate(-90 8.8 648.0)" textLength="85.9" lengthAdjust="spacingAndGlyphs">Enrichment score</text>
<text x="14.8" y="769.5"><tspan font-style="italic">CBL</tspan> Ub<tspan dy="-3.5" font-size="6.5">LOF</tspan><tspan dy="3.5"> Up</tspan></text>
<text x="258.0" y="767.8" text-anchor="end">Down</text>
<text transform="translate(266.5 519.6) scale(0.92 1)" font-size="15.5" font-weight="bold" fill="#000" stroke="#000" stroke-width="0.45">f</text>
<rect x="293.1" y="513.0" width="6.0" height="6.0" fill="#000"/>
<text x="304.8" y="519.3" font-size="9.3">Healthy controls</text>
<circle cx="296.1" cy="529.9" r="3.2" fill="#111"/>
<text x="304.8" y="533.2" font-size="9.3">Parent WT/WT</text>
<circle cx="390.8" cy="516.0" r="3.2" fill="#4a8fd4"/>
<text x="399.5" y="519.3" font-size="9.3">Parent M/WT</text>
<circle cx="390.8" cy="529.9" r="3.2" fill="#e8312a"/>
<text x="399.5" y="533.2" font-size="9.3">P1, P2, P3</text>
<path d="M471.7 513.1l3.4 5.9h-6.8z" fill="#8e2c8e"/>
<text x="480.3" y="519.3" font-size="9.3">P4</text>
<circle cx="471.7" cy="529.9" r="3.2" fill="#2bb54a"/>
<text x="480.3" y="533.2" font-size="9.3">P6</text>
<line x1="310.2" y1="546.7" x2="310.2" y2="725.4" stroke="#444" stroke-width="0.8"/>
<line x1="310.2" y1="725.4" x2="495.7" y2="725.4" stroke="#444" stroke-width="0.8"/>
<line x1="305.7" y1="546.6" x2="310.2" y2="546.6" stroke="#444" stroke-width="0.8"/>
<text x="302.0" y="550.1" font-size="9.3" text-anchor="end">10<tspan dy="-3.8" font-size="6.3">2</tspan></text>
<line x1="305.7" y1="600.5" x2="310.2" y2="600.5" stroke="#444" stroke-width="0.8"/>
<text x="302.0" y="604.0" font-size="9.3" text-anchor="end">10<tspan dy="-3.8" font-size="6.3">1</tspan></text>
<line x1="305.7" y1="655.1" x2="310.2" y2="655.1" stroke="#444" stroke-width="0.8"/>
<text x="302.0" y="658.6" font-size="9.3" text-anchor="end">10<tspan dy="-3.8" font-size="6.3">0</tspan></text>
<line x1="305.7" y1="709.4" x2="310.2" y2="709.4" stroke="#444" stroke-width="0.8"/>
<text x="302.0" y="712.9" font-size="9.3" text-anchor="end">10<tspan dy="-3.8" font-size="6.3">–1</tspan></text>
<line x1="310.2" y1="562.7" x2="495.7" y2="562.7" stroke="#555" stroke-width="0.8" stroke-dasharray="2.6 2.2"/>
<line x1="326.3" y1="725.4" x2="326.3" y2="729.4" stroke="#444" stroke-width="0.8"/>
<line x1="377.4" y1="725.4" x2="377.4" y2="729.4" stroke="#444" stroke-width="0.8"/>
<line x1="428.4" y1="725.4" x2="428.4" y2="729.4" stroke="#444" stroke-width="0.8"/>
<line x1="479.0" y1="725.4" x2="479.0" y2="729.4" stroke="#444" stroke-width="0.8"/>
<text x="326.3" y="744.0" text-anchor="middle">Transi-</text>
<text x="326.3" y="756.9" text-anchor="middle">tional</text>
<text x="377.4" y="744.0" text-anchor="middle">Naive</text>
<text x="428.4" y="744.0" text-anchor="middle">Memory</text>
<text x="479.0" y="744.0" text-anchor="middle">Mono-</text>
<text x="479.0" y="756.9" text-anchor="middle">cytes</text>
<text x="276.5" y="636.4" text-anchor="middle" transform="rotate(-90 276.5 636.4)" textLength="118.9" lengthAdjust="spacingAndGlyphs">Allele ratio (WT/total) (%)</text>
<line x1="310.2" y1="663.1" x2="343.3" y2="663.1" stroke="#9a9a9a" stroke-width="1.0"/>
<line x1="326.3" y1="663.1" x2="326.3" y2="649.6" stroke="#9a9a9a" stroke-width="0.9"/>
<line x1="319.0" y1="649.6" x2="335.3" y2="649.6" stroke="#9a9a9a" stroke-width="0.9"/>
<line x1="361.0" y1="624.6" x2="394.7" y2="624.6" stroke="#9a9a9a" stroke-width="1.0"/>
<line x1="377.4" y1="624.6" x2="377.4" y2="609.8" stroke="#9a9a9a" stroke-width="0.9"/>
<line x1="369.0" y1="609.8" x2="385.7" y2="609.8" stroke="#9a9a9a" stroke-width="0.9"/>
<line x1="412.4" y1="594.1" x2="445.1" y2="594.1" stroke="#9a9a9a" stroke-width="1.0"/>
<line x1="428.4" y1="594.1" x2="428.4" y2="587.7" stroke="#9a9a9a" stroke-width="0.9"/>
<line x1="420.0" y1="587.7" x2="437.0" y2="587.7" stroke="#9a9a9a" stroke-width="0.9"/>
<line x1="462.4" y1="664.3" x2="495.7" y2="664.3" stroke="#9a9a9a" stroke-width="1.0"/>
<line x1="479.0" y1="664.3" x2="479.0" y2="657.3" stroke="#9a9a9a" stroke-width="0.9"/>
<line x1="470.0" y1="657.3" x2="488.0" y2="657.3" stroke="#9a9a9a" stroke-width="0.9"/>
<circle cx="321.9" cy="547.3" r="3.25" fill="#111"/>
<rect x="328.1" y="544.1" width="6.3" height="6.3" fill="#000"/>
<circle cx="326.9" cy="562.7" r="3.25" fill="#4a8fd4"/>
<circle cx="322.4" cy="647.7" r="3.25" fill="#e8312a"/>
<circle cx="322.4" cy="662.2" r="3.25" fill="#e8312a"/>
<circle cx="331.1" cy="663.8" r="3.25" fill="#e8312a"/>
<circle cx="331.1" cy="717.7" r="3.25" fill="#2bb54a"/>
<text x="329.5" y="694.3" text-anchor="middle">0.7</text>
<rect x="370.8" y="544.1" width="6.3" height="6.3" fill="#000"/>
<rect x="374.2" y="544.1" width="6.3" height="6.3" fill="#000"/>
<circle cx="381.2" cy="547.3" r="3.25" fill="#111"/>
<path d="M375.0 562.2l3.4 5.9h-6.8z" fill="#8e2c8e"/>
<circle cx="380.3" cy="564.2" r="3.25" fill="#4a8fd4"/>
<circle cx="374.8" cy="604.7" r="3.25" fill="#2bb54a"/>
<circle cx="369.6" cy="638.7" r="3.25" fill="#e8312a"/>
<circle cx="385.1" cy="640.0" r="3.25" fill="#e8312a"/>
<circle cx="390.8" cy="639.2" r="3.25" fill="#e8312a"/>
<text x="378.0" y="663.8" text-anchor="middle">3.6</text>
<circle cx="419.7" cy="547.3" r="3.25" fill="#111"/>
<rect x="425.4" y="544.1" width="6.3" height="6.3" fill="#000"/>
<rect x="434.1" y="544.1" width="6.3" height="6.3" fill="#000"/>
<circle cx="424.1" cy="565.1" r="3.25" fill="#4a8fd4"/>
<path d="M432.8 565.1l3.4 5.9h-6.8z" fill="#8e2c8e"/>
<circle cx="423.6" cy="585.7" r="3.25" fill="#2bb54a"/>
<circle cx="414.9" cy="594.4" r="3.25" fill="#e8312a"/>
<circle cx="423.6" cy="596.3" r="3.25" fill="#e8312a"/>
<circle cx="432.6" cy="603.4" r="3.25" fill="#e8312a"/>
<text x="425.2" y="627.8" text-anchor="middle">13.1</text>
<rect x="467.1" y="544.1" width="6.3" height="6.3" fill="#000"/>
<circle cx="479.0" cy="547.3" r="3.25" fill="#111"/>
<rect x="484.6" y="544.1" width="6.3" height="6.3" fill="#000"/>
<circle cx="479.0" cy="562.7" r="3.25" fill="#4a8fd4"/>
<path d="M479.0 620.1l3.4 5.9h-6.8z" fill="#8e2c8e"/>
<circle cx="465.7" cy="658.9" r="3.25" fill="#e8312a"/>
<circle cx="483.2" cy="661.4" r="3.25" fill="#e8312a"/>
<circle cx="483.2" cy="673.9" r="3.25" fill="#e8312a"/>
<text transform="translate(511.5 520.6) scale(0.92 1)" font-size="15.5" font-weight="bold" fill="#000" stroke="#000" stroke-width="0.45">g</text>
<text x="585.9" y="523.3" textLength="69.4" lengthAdjust="spacingAndGlyphs">Primary B cells</text>
<path d="M565.2 539.0l3.0 3.0l-3.0 3.0l-3.0 -3.0z" fill="#111"/>
<text x="572.9" y="545.9" font-size="9.3" textLength="71.6" lengthAdjust="spacingAndGlyphs">Controls 4–15 y.o.</text>
<circle cx="565.2" cy="557.0" r="2.9" fill="#e8312a"/>
<text x="572.9" y="560.9" font-size="9.3" textLength="111.3" lengthAdjust="spacingAndGlyphs">Pediatric participants (LOH)</text>
<line x1="556.5" y1="584.5" x2="556.5" y2="709.0" stroke="#444" stroke-width="0.8"/>
<line x1="556.5" y1="709.0" x2="684.0" y2="709.0" stroke="#444" stroke-width="0.8"/>
<line x1="552.5" y1="709.0" x2="556.5" y2="709.0" stroke="#444" stroke-width="0.8"/>
<text x="548.0" y="712.5" text-anchor="end">0</text>
<line x1="552.5" y1="677.9" x2="556.5" y2="677.9" stroke="#444" stroke-width="0.8"/>
<text x="548.0" y="681.4" text-anchor="end">200</text>
<line x1="552.5" y1="646.8" x2="556.5" y2="646.8" stroke="#444" stroke-width="0.8"/>
<text x="548.0" y="650.3" text-anchor="end">400</text>
<line x1="552.5" y1="615.7" x2="556.5" y2="615.7" stroke="#444" stroke-width="0.8"/>
<text x="548.0" y="619.2" text-anchor="end">600</text>
<line x1="552.5" y1="584.6" x2="556.5" y2="584.6" stroke="#444" stroke-width="0.8"/>
<text x="548.0" y="588.1" text-anchor="end">800</text>
<line x1="572.4" y1="709.0" x2="572.4" y2="714.5" stroke="#444" stroke-width="0.8"/>
<line x1="604.1" y1="709.0" x2="604.1" y2="714.5" stroke="#444" stroke-width="0.8"/>
<line x1="636.3" y1="709.0" x2="636.3" y2="714.5" stroke="#444" stroke-width="0.8"/>
<line x1="668.1" y1="709.0" x2="668.1" y2="714.5" stroke="#444" stroke-width="0.8"/>
<text x="576.4" y="723.0" text-anchor="end" transform="rotate(-45 576.4 723.0)">Transitional</text>
<text x="608.1" y="723.0" text-anchor="end" transform="rotate(-45 608.1 723.0)">Naive</text>
<text x="640.3" y="723.0" text-anchor="end" transform="rotate(-45 640.3 723.0)">Memory</text>
<text x="672.1" y="723.0" text-anchor="end" transform="rotate(-45 672.1 723.0)">Plasmablasts</text>
<text x="521.0" y="646.4" text-anchor="middle" transform="rotate(-90 521.0 646.4)" textLength="107.0" lengthAdjust="spacingAndGlyphs">Median intensity CD38</text>
<line x1="567.1" y1="626.9" x2="567.1" y2="591.3" stroke="#555" stroke-width="0.7"/>
<line x1="567.1" y1="591.3" x2="578.1" y2="591.3" stroke="#555" stroke-width="0.7"/>
<line x1="578.1" y1="591.3" x2="578.1" y2="616.7" stroke="#aaa" stroke-width="0.7"/>
<path d="M572.80 587.60L572.80 585.30M572.80 587.60L574.99 586.89M572.80 587.60L574.15 589.46M572.80 587.60L571.45 589.46M572.80 587.60L570.61 586.89" stroke="#222" stroke-width="1.1" stroke-linecap="round"/>
<line x1="597.6" y1="626.9" x2="597.6" y2="591.3" stroke="#555" stroke-width="0.7"/>
<line x1="597.6" y1="591.3" x2="608.4" y2="591.3" stroke="#555" stroke-width="0.7"/>
<line x1="608.4" y1="591.3" x2="608.4" y2="616.7" stroke="#aaa" stroke-width="0.7"/>
<path d="M603.50 587.60L603.50 585.30M603.50 587.60L605.69 586.89M603.50 587.60L604.85 589.46M603.50 587.60L602.15 589.46M603.50 587.60L601.31 586.89" stroke="#222" stroke-width="1.1" stroke-linecap="round"/>
<line x1="631.4" y1="626.9" x2="631.4" y2="591.3" stroke="#555" stroke-width="0.7"/>
<line x1="631.4" y1="591.3" x2="642.2" y2="591.3" stroke="#555" stroke-width="0.7"/>
<line x1="642.2" y1="591.3" x2="642.2" y2="616.7" stroke="#aaa" stroke-width="0.7"/>
<path d="M637.00 587.60L637.00 585.30M637.00 587.60L639.19 586.89M637.00 587.60L638.35 589.46M637.00 587.60L635.65 589.46M637.00 587.60L634.81 586.89" stroke="#222" stroke-width="1.1" stroke-linecap="round"/>
<line x1="663.2" y1="600.4" x2="663.2" y2="591.3" stroke="#555" stroke-width="0.7"/>
<line x1="663.2" y1="591.3" x2="673.8" y2="591.3" stroke="#555" stroke-width="0.7"/>
<line x1="673.8" y1="591.3" x2="673.8" y2="620.5" stroke="#aaa" stroke-width="0.7"/>
<path d="M668.50 587.60L668.50 585.30M668.50 587.60L670.69 586.89M668.50 587.60L669.85 589.46M668.50 587.60L667.15 589.46M668.50 587.60L666.31 586.89" stroke="#222" stroke-width="1.1" stroke-linecap="round"/>
<path d="M567.1 669.0l2.3 2.3l-2.3 2.3l-2.3 -2.3z" fill="#111"/>
<path d="M563.3 674.2l2.3 2.3l-2.3 2.3l-2.3 -2.3z" fill="#111"/>
<path d="M571.0 674.2l2.3 2.3l-2.3 2.3l-2.3 -2.3z" fill="#111"/>
<path d="M566.0 677.2l2.3 2.3l-2.3 2.3l-2.3 -2.3z" fill="#111"/>
<path d="M561.0 680.2l2.3 2.3l-2.3 2.3l-2.3 -2.3z" fill="#111"/>
<path d="M569.5 680.7l2.3 2.3l-2.3 2.3l-2.3 -2.3z" fill="#111"/>
<path d="M564.5 682.1l2.3 2.3l-2.3 2.3l-2.3 -2.3z" fill="#111"/>
<path d="M572.5 677.7l2.3 2.3l-2.3 2.3l-2.3 -2.3z" fill="#111"/>
<path d="M559.5 677.2l2.3 2.3l-2.3 2.3l-2.3 -2.3z" fill="#111"/>
<path d="M568.5 675.7l2.3 2.3l-2.3 2.3l-2.3 -2.3z" fill="#111"/>
<path d="M595.0 700.7l2.3 2.3l-2.3 2.3l-2.3 -2.3z" fill="#111"/>
<path d="M597.5 699.7l2.3 2.3l-2.3 2.3l-2.3 -2.3z" fill="#111"/>
<path d="M600.0 700.2l2.3 2.3l-2.3 2.3l-2.3 -2.3z" fill="#111"/>
<path d="M602.5 701.2l2.3 2.3l-2.3 2.3l-2.3 -2.3z" fill="#111"/>
<path d="M596.0 702.7l2.3 2.3l-2.3 2.3l-2.3 -2.3z" fill="#111"/>
<path d="M599.0 702.9l2.3 2.3l-2.3 2.3l-2.3 -2.3z" fill="#111"/>
<path d="M601.5 702.9l2.3 2.3l-2.3 2.3l-2.3 -2.3z" fill="#111"/>
<path d="M603.5 702.2l2.3 2.3l-2.3 2.3l-2.3 -2.3z" fill="#111"/>
<path d="M598.0 701.2l2.3 2.3l-2.3 2.3l-2.3 -2.3z" fill="#111"/>
<path d="M594.5 702.2l2.3 2.3l-2.3 2.3l-2.3 -2.3z" fill="#111"/>
<path d="M627.0 704.2l2.3 2.3l-2.3 2.3l-2.3 -2.3z" fill="#111"/>
<path d="M629.5 703.7l2.3 2.3l-2.3 2.3l-2.3 -2.3z" fill="#111"/>
<path d="M632.0 704.5l2.3 2.3l-2.3 2.3l-2.3 -2.3z" fill="#111"/>
<path d="M634.5 705.2l2.3 2.3l-2.3 2.3l-2.3 -2.3z" fill="#111"/>
<path d="M628.0 705.7l2.3 2.3l-2.3 2.3l-2.3 -2.3z" fill="#111"/>
<path d="M631.0 706.1l2.3 2.3l-2.3 2.3l-2.3 -2.3z" fill="#111"/>
<path d="M626.5 705.3l2.3 2.3l-2.3 2.3l-2.3 -2.3z" fill="#111"/>
<path d="M633.0 705.9l2.3 2.3l-2.3 2.3l-2.3 -2.3z" fill="#111"/>
<path d="M662.4 608.1l2.3 2.3l-2.3 2.3l-2.3 -2.3z" fill="#111"/>
<path d="M666.6 606.6l2.3 2.3l-2.3 2.3l-2.3 -2.3z" fill="#111"/>
<path d="M659.6 615.0l2.3 2.3l-2.3 2.3l-2.3 -2.3z" fill="#111"/>
<path d="M662.8 615.0l2.3 2.3l-2.3 2.3l-2.3 -2.3z" fill="#111"/>
<path d="M666.6 615.0l2.3 2.3l-2.3 2.3l-2.3 -2.3z" fill="#111"/>
<path d="M659.6 621.4l2.3 2.3l-2.3 2.3l-2.3 -2.3z" fill="#111"/>
<path d="M663.8 621.8l2.3 2.3l-2.3 2.3l-2.3 -2.3z" fill="#111"/>
<path d="M662.8 627.3l2.3 2.3l-2.3 2.3l-2.3 -2.3z" fill="#111"/>
<path d="M663.2 634.1l2.3 2.3l-2.3 2.3l-2.3 -2.3z" fill="#111"/>
<circle cx="578.1" cy="650.8" r="2.3" fill="#e8312a"/>
<circle cx="574.9" cy="668.1" r="2.3" fill="#e8312a"/>
<circle cx="578.1" cy="672.0" r="2.3" fill="#e8312a"/>
<circle cx="581.3" cy="672.0" r="2.3" fill="#e8312a"/>
<circle cx="578.1" cy="678.7" r="2.3" fill="#e8312a"/>
<circle cx="609.9" cy="684.0" r="2.3" fill="#e8312a"/>
<circle cx="606.7" cy="688.7" r="2.3" fill="#e8312a"/>
<circle cx="609.9" cy="691.0" r="2.3" fill="#e8312a"/>
<circle cx="613.5" cy="691.0" r="2.3" fill="#e8312a"/>
<circle cx="609.9" cy="702.6" r="2.3" fill="#e8312a"/>
<circle cx="638.4" cy="701.2" r="2.3" fill="#e8312a"/>
<circle cx="638.4" cy="704.8" r="2.3" fill="#e8312a"/>
<circle cx="641.6" cy="704.8" r="2.3" fill="#e8312a"/>
<circle cx="644.8" cy="704.8" r="2.3" fill="#e8312a"/>
<circle cx="638.4" cy="705.8" r="2.3" fill="#e8312a"/>
<circle cx="670.6" cy="629.6" r="2.3" fill="#e8312a"/>
<circle cx="677.0" cy="630.7" r="2.3" fill="#e8312a"/>
<circle cx="673.8" cy="636.8" r="2.3" fill="#e8312a"/>
<circle cx="673.8" cy="645.5" r="2.3" fill="#e8312a"/>
<circle cx="673.8" cy="676.2" r="2.3" fill="#e8312a"/>
<line x1="572.5" y1="671.8" x2="577.5" y2="671.8" stroke="#111" stroke-width="1.1"/>
<line x1="603.5" y1="691.0" x2="608.5" y2="691.0" stroke="#111" stroke-width="1.1"/>
<line x1="635.0" y1="705.5" x2="640.0" y2="705.5" stroke="#111" stroke-width="1.1"/>
<line x1="659.5" y1="617.3" x2="667.0" y2="617.3" stroke="#111" stroke-width="1.1"/>
<line x1="668.7" y1="636.8" x2="679.1" y2="636.8" stroke="#111" stroke-width="1.1"/>
<text transform="translate(0.0 791.7) scale(0.92 1)" font-size="15.5" font-weight="bold" fill="#000" stroke="#000" stroke-width="0.45">h</text>
<text x="61.5" y="813.0" textLength="115.8" lengthAdjust="spacingAndGlyphs">CD19<tspan dy="-3.5" font-size="6.5">+</tspan><tspan dy="3.5"> B cell progenitors</tspan></text>
<circle cx="59.9" cy="825.8" r="3.0" fill="#222"/>
<text x="68.6" y="829.0" font-size="9.3">NS</text>
<circle cx="59.9" cy="841.3" r="3.0" fill="#8c8c8c"/>
<text x="68.7" y="843.6" font-size="9.3" textLength="106.1" lengthAdjust="spacingAndGlyphs">Daratumumab (anti-CD38)</text>
<line x1="51.8" y1="830.0" x2="51.8" y2="963.7" stroke="#777" stroke-width="0.8"/>
<line x1="51.8" y1="963.7" x2="186.3" y2="963.7" stroke="#777" stroke-width="0.8"/>
<line x1="46.8" y1="963.7" x2="51.8" y2="963.7" stroke="#555" stroke-width="0.8"/>
<text x="41.8" y="967.2" text-anchor="end">0</text>
<line x1="46.8" y1="930.3" x2="51.8" y2="930.3" stroke="#555" stroke-width="0.8"/>
<text x="41.8" y="933.8" text-anchor="end">20</text>
<line x1="46.8" y1="896.8" x2="51.8" y2="896.8" stroke="#555" stroke-width="0.8"/>
<text x="41.8" y="900.3" text-anchor="end">40</text>
<line x1="46.8" y1="863.4" x2="51.8" y2="863.4" stroke="#555" stroke-width="0.8"/>
<text x="41.8" y="866.9" text-anchor="end">60</text>
<line x1="46.8" y1="830.0" x2="51.8" y2="830.0" stroke="#555" stroke-width="0.8"/>
<text x="41.8" y="833.5" text-anchor="end">80</text>
<line x1="66.7" y1="963.7" x2="66.7" y2="968.1" stroke="#555" stroke-width="0.8"/>
<line x1="101.7" y1="963.7" x2="101.7" y2="968.1" stroke="#555" stroke-width="0.8"/>
<line x1="136.3" y1="963.7" x2="136.3" y2="968.1" stroke="#555" stroke-width="0.8"/>
<line x1="171.4" y1="963.7" x2="171.4" y2="968.1" stroke="#555" stroke-width="0.8"/>
<rect x="56.4" y="905.3" width="8.1" height="58.4" fill="#8a8a8a" stroke="#555" stroke-width="0.7"/>
<rect x="69.6" y="875.0" width="8.1" height="88.7" fill="#b4b4b4" stroke="#555" stroke-width="0.7"/>
<rect x="91.5" y="909.6" width="8.1" height="54.1" fill="#8a8a8a" stroke="#555" stroke-width="0.7"/>
<rect x="104.2" y="898.5" width="8.5" height="65.2" fill="#b4b4b4" stroke="#555" stroke-width="0.7"/>
<rect x="126.5" y="909.2" width="8.1" height="54.5" fill="#8a8a8a" stroke="#555" stroke-width="0.7"/>
<rect x="139.0" y="901.3" width="8.7" height="62.4" fill="#b4b4b4" stroke="#555" stroke-width="0.7"/>
<rect x="161.1" y="909.6" width="8.1" height="54.1" fill="#8a8a8a" stroke="#555" stroke-width="0.7"/>
<rect x="174.0" y="896.3" width="8.8" height="67.4" fill="#b4b4b4" stroke="#555" stroke-width="0.7"/>
<circle cx="60.4" cy="898.5" r="2.65" fill="#2a2a2a"/>
<circle cx="60.4" cy="904.2" r="2.65" fill="#2a2a2a"/>
<circle cx="60.4" cy="913.4" r="2.65" fill="#2a2a2a"/>
<circle cx="94.7" cy="907.4" r="2.65" fill="#2a2a2a"/>
<circle cx="95.8" cy="909.2" r="2.65" fill="#2a2a2a"/>
<circle cx="97.4" cy="909.2" r="2.65" fill="#2a2a2a"/>
<circle cx="128.7" cy="909.2" r="2.65" fill="#2a2a2a"/>
<circle cx="130.9" cy="909.2" r="2.65" fill="#2a2a2a"/>
<circle cx="133.1" cy="909.2" r="2.65" fill="#2a2a2a"/>
<circle cx="163.3" cy="904.6" r="2.65" fill="#2a2a2a"/>
<circle cx="163.3" cy="910.1" r="2.65" fill="#2a2a2a"/>
<circle cx="167.0" cy="909.6" r="2.65" fill="#2a2a2a"/>
<circle cx="73.5" cy="859.0" r="2.65" fill="#8c8c8c"/>
<circle cx="72.4" cy="883.8" r="2.65" fill="#8c8c8c"/>
<circle cx="75.0" cy="882.3" r="2.65" fill="#8c8c8c"/>
<circle cx="108.3" cy="889.3" r="2.65" fill="#8c8c8c"/>
<circle cx="107.9" cy="902.4" r="2.65" fill="#8c8c8c"/>
<circle cx="109.6" cy="900.9" r="2.65" fill="#8c8c8c"/>
<circle cx="142.9" cy="891.9" r="2.65" fill="#8c8c8c"/>
<circle cx="141.8" cy="905.7" r="2.65" fill="#8c8c8c"/>
<circle cx="144.0" cy="905.0" r="2.65" fill="#8c8c8c"/>
<circle cx="176.4" cy="888.2" r="2.65" fill="#8c8c8c"/>
<circle cx="179.7" cy="891.5" r="2.65" fill="#8c8c8c"/>
<circle cx="178.0" cy="908.3" r="2.65" fill="#8c8c8c"/>
<text x="23.5" y="896.6" text-anchor="middle" transform="rotate(-90 23.5 896.6)" textLength="115.9" lengthAdjust="spacingAndGlyphs">Percent Annexin V<tspan dy="-3.5" font-size="6.5">+</tspan><tspan dy="3.5"> cells</tspan></text>
<text x="3.5" y="993.1">sgRNA</text>
<text x="71.9" y="976.0" text-anchor="end" transform="rotate(-45 71.9 976.0)"><tspan font-style="italic">AAVS1</tspan> 1 + 2</text>
<text x="106.9" y="976.0" text-anchor="end" fill="#e8312a" transform="rotate(-45 106.9 976.0)"><tspan font-style="italic">CBL</tspan> 4 + 2</text>
<text x="141.5" y="976.0" text-anchor="end" fill="#e8312a" transform="rotate(-45 141.5 976.0)"><tspan font-style="italic">CBL</tspan> 1 + 2</text>
<text x="176.6" y="976.0" text-anchor="end" fill="#e8312a" transform="rotate(-45 176.6 976.0)"><tspan font-style="italic">CBL</tspan> 1 + 3</text>
<text transform="translate(199.0 791.6) scale(0.92 1)" font-size="15.5" font-weight="bold" fill="#000" stroke="#000" stroke-width="0.45">i</text>
<line x1="236.7" y1="818.1" x2="236.7" y2="964.3" stroke="#555" stroke-width="0.8"/>
<line x1="236.7" y1="964.3" x2="362.6" y2="964.3" stroke="#555" stroke-width="0.8"/>
<line x1="231.2" y1="964.3" x2="236.7" y2="964.3" stroke="#555" stroke-width="0.8"/>
<text x="228.5" y="967.8" text-anchor="end">0</text>
<line x1="231.2" y1="935.1" x2="236.7" y2="935.1" stroke="#555" stroke-width="0.8"/>
<text x="228.5" y="938.6" text-anchor="end">20</text>
<line x1="231.2" y1="905.8" x2="236.7" y2="905.8" stroke="#555" stroke-width="0.8"/>
<text x="228.5" y="909.3" text-anchor="end">40</text>
<line x1="231.2" y1="876.6" x2="236.7" y2="876.6" stroke="#555" stroke-width="0.8"/>
<text x="228.5" y="880.1" text-anchor="end">60</text>
<line x1="231.2" y1="847.3" x2="236.7" y2="847.3" stroke="#555" stroke-width="0.8"/>
<text x="228.5" y="850.8" text-anchor="end">80</text>
<line x1="231.2" y1="818.1" x2="236.7" y2="818.1" stroke="#555" stroke-width="0.8"/>
<text x="228.5" y="821.6" text-anchor="end">100</text>
<line x1="272.7" y1="964.3" x2="272.7" y2="968.5" stroke="#555" stroke-width="0.8"/>
<line x1="334.0" y1="964.3" x2="334.0" y2="968.5" stroke="#555" stroke-width="0.8"/>
<rect x="247.7" y="869.5" width="19.8" height="94.8" fill="#7a7a7a" stroke="#444" stroke-width="0.7"/>
<rect x="278.9" y="871.5" width="19.6" height="92.8" fill="#f07575" stroke="#444" stroke-width="0.7"/>
<rect x="308.5" y="909.2" width="19.3" height="55.1" fill="#7a7a7a" stroke="#444" stroke-width="0.7"/>
<rect x="339.7" y="893.8" width="19.6" height="70.5" fill="#f07575" stroke="#444" stroke-width="0.7"/>
<line x1="257.4" y1="852.3" x2="288.5" y2="856.6" stroke="#222" stroke-width="0.75"/>
<line x1="257.4" y1="857.1" x2="288.5" y2="861.9" stroke="#222" stroke-width="0.75"/>
<line x1="257.4" y1="859.7" x2="288.5" y2="866.3" stroke="#222" stroke-width="0.75"/>
<line x1="257.4" y1="866.7" x2="288.5" y2="871.0" stroke="#222" stroke-width="0.75"/>
<line x1="257.4" y1="869.8" x2="288.5" y2="878.1" stroke="#222" stroke-width="0.75"/>
<line x1="257.4" y1="881.9" x2="288.5" y2="872.8" stroke="#222" stroke-width="0.75"/>
<line x1="257.4" y1="891.7" x2="288.5" y2="886.4" stroke="#222" stroke-width="0.75"/>
<line x1="318.0" y1="873.2" x2="349.3" y2="862.8" stroke="#222" stroke-width="0.75"/>
<line x1="318.0" y1="888.5" x2="349.3" y2="878.8" stroke="#222" stroke-width="0.75"/>
<line x1="318.0" y1="903.3" x2="349.3" y2="887.6" stroke="#222" stroke-width="0.75"/>
<line x1="318.0" y1="914.0" x2="349.3" y2="897.4" stroke="#222" stroke-width="0.75"/>
<line x1="318.0" y1="917.1" x2="349.3" y2="901.1" stroke="#222" stroke-width="0.75"/>
<line x1="318.0" y1="927.7" x2="349.3" y2="917.5" stroke="#222" stroke-width="0.75"/>
<line x1="318.0" y1="935.5" x2="349.3" y2="906.2" stroke="#222" stroke-width="0.75"/>
<circle cx="257.4" cy="852.3" r="2.7" fill="#000"/>
<circle cx="288.5" cy="856.6" r="2.7" fill="#e8262a"/>
<circle cx="257.4" cy="857.1" r="2.7" fill="#000"/>
<circle cx="288.5" cy="861.9" r="2.7" fill="#e8262a"/>
<circle cx="257.4" cy="859.7" r="2.7" fill="#000"/>
<circle cx="288.5" cy="866.3" r="2.7" fill="#e8262a"/>
<circle cx="257.4" cy="866.7" r="2.7" fill="#000"/>
<circle cx="288.5" cy="871.0" r="2.7" fill="#e8262a"/>
<circle cx="257.4" cy="869.8" r="2.7" fill="#000"/>
<circle cx="288.5" cy="878.1" r="2.7" fill="#e8262a"/>
<circle cx="257.4" cy="881.9" r="2.7" fill="#000"/>
<circle cx="288.5" cy="872.8" r="2.7" fill="#e8262a"/>
<circle cx="257.4" cy="891.7" r="2.7" fill="#000"/>
<circle cx="288.5" cy="886.4" r="2.7" fill="#e8262a"/>
<circle cx="318.0" cy="873.2" r="2.7" fill="#000"/>
<circle cx="349.3" cy="862.8" r="2.7" fill="#e8262a"/>
<circle cx="318.0" cy="888.5" r="2.7" fill="#000"/>
<circle cx="349.3" cy="878.8" r="2.7" fill="#e8262a"/>
<circle cx="318.0" cy="903.3" r="2.7" fill="#000"/>
<circle cx="349.3" cy="887.6" r="2.7" fill="#e8262a"/>
<circle cx="318.0" cy="914.0" r="2.7" fill="#000"/>
<circle cx="349.3" cy="897.4" r="2.7" fill="#e8262a"/>
<circle cx="318.0" cy="917.1" r="2.7" fill="#000"/>
<circle cx="349.3" cy="901.1" r="2.7" fill="#e8262a"/>
<circle cx="318.0" cy="927.7" r="2.7" fill="#000"/>
<circle cx="349.3" cy="917.5" r="2.7" fill="#e8262a"/>
<circle cx="318.0" cy="935.5" r="2.7" fill="#000"/>
<circle cx="349.3" cy="906.2" r="2.7" fill="#e8262a"/>
<polyline points="257.6,847.2 257.6,838.5 288.6,838.5 288.6,847.2" fill="none" stroke="#444" stroke-width="0.7"/>
<text x="273.1" y="834.7" font-size="10.5" text-anchor="middle">0.24</text>
<polyline points="318.1,857.1 318.1,850.9 348.9,850.9 348.9,856.6" fill="none" stroke="#888" stroke-width="0.7"/>
<text x="333.5" y="845.9" font-size="10.5" text-anchor="middle">0.0009</text>
<text x="311.2" y="810.4">REH cells</text>
<rect x="311.0" y="815.4" width="5.4" height="5.4" fill="#7a7a7a" stroke="#333" stroke-width="0.5"/>
<text x="320.9" y="821.2" font-size="9">WT</text>
<rect x="311.0" y="824.6" width="5.4" height="5.4" fill="#e8262a" stroke="#333" stroke-width="0.5"/>
<text x="320.9" y="830.4" font-size="9">Y371C</text>
<text x="273.2" y="982.0" text-anchor="middle">NS</text>
<text x="298.0" y="982.0" textLength="68.6" lengthAdjust="spacingAndGlyphs">Daratumumab</text>
<text x="300.4" y="993.8" textLength="66.2" lengthAdjust="spacingAndGlyphs">(0.06 μg ml<tspan dy="-3.5" font-size="6.5">−1</tspan><tspan dy="3.5">)</tspan></text>
<text x="208.5" y="891.6" text-anchor="middle" transform="rotate(-90 208.5 891.6)" textLength="80.3" lengthAdjust="spacingAndGlyphs">Percent live cells</text>
<text transform="translate(379.0 791.6) scale(0.92 1)" font-size="15.5" font-weight="bold" fill="#000" stroke="#000" stroke-width="0.45">j</text>
<text x="495.1" y="793.8" textLength="96.5" lengthAdjust="spacingAndGlyphs">Daratumumab (min)</text>
<line x1="426.6" y1="799.9" x2="659.7" y2="799.9" stroke="#999" stroke-width="0.8"/>
<line x1="426.6" y1="819.2" x2="506.6" y2="819.2" stroke="#999" stroke-width="0.8"/>
<text x="466.6" y="816.0" font-size="9.3" text-anchor="middle">0</text>
<line x1="511.6" y1="819.2" x2="583.8" y2="819.2" stroke="#999" stroke-width="0.8"/>
<text x="547.7" y="816.0" font-size="9.3" text-anchor="middle">5</text>
<line x1="588.9" y1="819.2" x2="659.7" y2="819.2" stroke="#999" stroke-width="0.8"/>
<text x="624.3" y="816.0" font-size="9.3" text-anchor="middle">15</text>
<text x="422.9" y="835.6" font-size="9.8" text-anchor="end">REH</text>
<text x="422.9" y="847.6" font-size="9.8" text-anchor="end">cells</text>
<text x="443.2" y="850.2" font-size="8.4" stroke="#231f20" stroke-width="0.18" transform="rotate(-90 443.2 850.2)" textLength="15.0" lengthAdjust="spacingAndGlyphs">WT1</text>
<text x="462.6" y="850.2" font-size="8.4" stroke="#231f20" stroke-width="0.18" transform="rotate(-90 462.6 850.2)" textLength="15.0" lengthAdjust="spacingAndGlyphs">WT2</text>
<text x="481.9" y="850.2" font-size="8.4" stroke="#231f20" stroke-width="0.18" transform="rotate(-90 481.9 850.2)" textLength="9.8" lengthAdjust="spacingAndGlyphs">KI1</text>
<text x="501.2" y="850.2" font-size="8.4" stroke="#231f20" stroke-width="0.18" transform="rotate(-90 501.2 850.2)" textLength="9.8" lengthAdjust="spacingAndGlyphs">KI2</text>
<text x="520.6" y="850.2" font-size="8.4" stroke="#231f20" stroke-width="0.18" transform="rotate(-90 520.6 850.2)" textLength="15.0" lengthAdjust="spacingAndGlyphs">WT1</text>
<text x="540.0" y="850.2" font-size="8.4" stroke="#231f20" stroke-width="0.18" transform="rotate(-90 540.0 850.2)" textLength="15.0" lengthAdjust="spacingAndGlyphs">WT2</text>
<text x="559.3" y="850.2" font-size="8.4" stroke="#231f20" stroke-width="0.18" transform="rotate(-90 559.3 850.2)" textLength="9.8" lengthAdjust="spacingAndGlyphs">KI1</text>
<text x="578.6" y="850.2" font-size="8.4" stroke="#231f20" stroke-width="0.18" transform="rotate(-90 578.6 850.2)" textLength="9.8" lengthAdjust="spacingAndGlyphs">KI2</text>
<text x="598.0" y="850.2" font-size="8.4" stroke="#231f20" stroke-width="0.18" transform="rotate(-90 598.0 850.2)" textLength="15.0" lengthAdjust="spacingAndGlyphs">WT1</text>
<text x="617.4" y="850.2" font-size="8.4" stroke="#231f20" stroke-width="0.18" transform="rotate(-90 617.4 850.2)" textLength="15.0" lengthAdjust="spacingAndGlyphs">WT2</text>
<text x="636.7" y="850.2" font-size="8.4" stroke="#231f20" stroke-width="0.18" transform="rotate(-90 636.7 850.2)" textLength="9.8" lengthAdjust="spacingAndGlyphs">KI1</text>
<text x="656.0" y="850.2" font-size="8.4" stroke="#231f20" stroke-width="0.18" transform="rotate(-90 656.0 850.2)" textLength="9.8" lengthAdjust="spacingAndGlyphs">KI2</text>
<rect x="423" y="855.2" width="238.4" height="24.4" fill="#ebebeb"/>
<g filter="url(#bb)"><rect x="430.7" y="864.1" width="16.0" height="3.0" rx="1.5" fill="#e3e3e3"/><rect x="430.4" y="870.7" width="16.5" height="3.4" rx="1.7" fill="#e1e1e1"/><rect x="449.7" y="864.1" width="16.0" height="3.0" rx="1.5" fill="#dedede"/><rect x="449.4" y="870.7" width="16.5" height="3.4" rx="1.7" fill="#dcdcdc"/><rect x="468.7" y="864.1" width="16.0" height="3.0" rx="1.5" fill="#e3e3e3"/><rect x="468.4" y="870.7" width="16.5" height="3.4" rx="1.7" fill="#dadada"/><rect x="487.7" y="864.1" width="16.0" height="3.0" rx="1.5" fill="#dedede"/><rect x="487.4" y="870.7" width="16.5" height="3.4" rx="1.7" fill="#d5d5d5"/><rect x="506.7" y="864.1" width="16.0" height="3.0" rx="1.5" fill="#dadada"/><rect x="506.5" y="870.7" width="16.5" height="3.4" rx="1.7" fill="#a2a2a2"/><rect x="525.7" y="864.1" width="16.0" height="3.0" rx="1.5" fill="#c7c7c7"/><rect x="525.5" y="870.7" width="16.5" height="3.4" rx="1.7" fill="#8b8b8b"/><rect x="544.7" y="863.4" width="16.0" height="4.4" rx="2.2" fill="#1b1b1b"/><rect x="544.5" y="869.3" width="16.5" height="6.2" rx="3.0" fill="#000000"/><rect x="563.7" y="863.4" width="16.0" height="4.4" rx="2.2" fill="#1b1b1b"/><rect x="563.5" y="869.3" width="16.5" height="6.2" rx="3.0" fill="#000000"/><rect x="582.7" y="864.1" width="16.0" height="3.0" rx="1.5" fill="#d7d7d7"/><rect x="582.5" y="870.7" width="16.5" height="3.4" rx="1.7" fill="#a7a7a7"/><rect x="601.7" y="864.1" width="16.0" height="3.0" rx="1.5" fill="#b9b9b9"/><rect x="601.5" y="870.7" width="16.5" height="3.4" rx="1.7" fill="#868686"/><rect x="620.7" y="863.4" width="16.0" height="4.4" rx="2.2" fill="#1b1b1b"/><rect x="620.5" y="869.3" width="16.5" height="6.2" rx="3.0" fill="#000000"/><rect x="639.7" y="863.4" width="16.0" height="4.4" rx="2.2" fill="#1b1b1b"/><rect x="639.5" y="869.3" width="16.5" height="6.2" rx="3.0" fill="#000000"/></g>
<rect x="423" y="891.8" width="238.4" height="25.0" fill="#ebebeb"/>
<g filter="url(#bb)"><rect x="430.8" y="900.8" width="15.8" height="5.0" rx="2.5" fill="#060606"/><rect x="430.8" y="908.1" width="15.8" height="4.2" rx="2.1" fill="#3a3a3a"/><rect x="449.8" y="903.2" width="15.8" height="5.0" rx="2.5" fill="#060606"/><rect x="449.8" y="909.8" width="15.8" height="4.2" rx="2.1" fill="#3a3a3a"/><rect x="468.8" y="903.2" width="15.8" height="5.0" rx="2.5" fill="#060606"/><rect x="468.8" y="909.8" width="15.8" height="4.2" rx="2.1" fill="#3a3a3a"/><rect x="487.8" y="903.2" width="15.8" height="5.0" rx="2.5" fill="#060606"/><rect x="487.8" y="909.8" width="15.8" height="4.2" rx="2.1" fill="#3a3a3a"/><rect x="506.8" y="903.2" width="15.8" height="5.0" rx="2.5" fill="#060606"/><rect x="506.8" y="909.8" width="15.8" height="4.2" rx="2.1" fill="#3a3a3a"/><rect x="525.8" y="903.2" width="15.8" height="5.0" rx="2.5" fill="#060606"/><rect x="525.8" y="909.8" width="15.8" height="4.2" rx="2.1" fill="#3a3a3a"/><rect x="544.8" y="903.2" width="15.8" height="5.0" rx="2.5" fill="#060606"/><rect x="544.8" y="909.8" width="15.8" height="4.2" rx="2.1" fill="#3a3a3a"/><rect x="563.8" y="903.2" width="15.8" height="5.0" rx="2.5" fill="#060606"/><rect x="563.8" y="909.8" width="15.8" height="4.2" rx="2.1" fill="#3a3a3a"/><rect x="582.8" y="903.2" width="15.8" height="5.0" rx="2.5" fill="#060606"/><rect x="582.8" y="909.8" width="15.8" height="4.2" rx="2.1" fill="#3a3a3a"/><rect x="601.8" y="903.2" width="15.8" height="5.0" rx="2.5" fill="#060606"/><rect x="601.8" y="909.8" width="15.8" height="4.2" rx="2.1" fill="#3a3a3a"/><rect x="620.8" y="903.2" width="15.8" height="5.0" rx="2.5" fill="#060606"/><rect x="620.8" y="909.8" width="15.8" height="4.2" rx="2.1" fill="#3a3a3a"/><rect x="639.8" y="903.2" width="15.8" height="5.0" rx="2.5" fill="#060606"/><rect x="639.8" y="909.8" width="15.8" height="4.2" rx="2.1" fill="#3a3a3a"/></g>
<rect x="423" y="925.4" width="238.4" height="36.2" fill="#ebebeb"/>
<g filter="url(#bb)"><rect x="431.4" y="937.5" width="14.5" height="2.4" rx="1.2" fill="#686868"/><rect x="450.4" y="938.4" width="14.5" height="2.4" rx="1.2" fill="#686868"/><rect x="469.4" y="939.3" width="14.5" height="2.4" rx="1.2" fill="#686868"/><rect x="488.4" y="940.2" width="14.5" height="2.4" rx="1.2" fill="#686868"/><rect x="507.5" y="941.1" width="14.5" height="2.4" rx="1.2" fill="#686868"/><rect x="526.5" y="942.0" width="14.5" height="2.4" rx="1.2" fill="#686868"/><rect x="545.5" y="942.8" width="14.5" height="2.4" rx="1.2" fill="#686868"/><rect x="564.5" y="943.7" width="14.5" height="2.4" rx="1.2" fill="#686868"/><rect x="583.5" y="944.6" width="14.5" height="2.4" rx="1.2" fill="#686868"/><rect x="602.5" y="945.5" width="14.5" height="2.4" rx="1.2" fill="#686868"/><rect x="621.5" y="946.4" width="14.5" height="2.4" rx="1.2" fill="#686868"/><rect x="640.5" y="947.3" width="14.5" height="2.4" rx="1.2" fill="#686868"/></g>
<rect x="423" y="970" width="238.4" height="37.7" fill="#ebebeb"/>
<g filter="url(#bb)"><rect x="430.9" y="982.0" width="15.5" height="5.6" rx="2.8" fill="#060606"/><rect x="449.9" y="982.0" width="15.5" height="5.6" rx="2.8" fill="#060606"/><rect x="468.9" y="984.1" width="15.5" height="3.8" rx="1.9" fill="#585858"/><rect x="487.9" y="984.1" width="15.5" height="3.8" rx="1.9" fill="#4a4a4a"/><rect x="507.0" y="982.4" width="15.5" height="5.6" rx="2.8" fill="#171717"/><rect x="526.0" y="982.4" width="15.5" height="5.6" rx="2.8" fill="#060606"/><rect x="545.0" y="984.5" width="15.5" height="3.8" rx="1.9" fill="#585858"/><rect x="564.0" y="984.5" width="15.5" height="3.8" rx="1.9" fill="#4a4a4a"/><rect x="583.0" y="985.2" width="15.5" height="5.6" rx="2.8" fill="#171717"/><rect x="602.0" y="985.2" width="15.5" height="5.6" rx="2.8" fill="#060606"/><rect x="621.0" y="987.2" width="15.5" height="3.8" rx="1.9" fill="#4a4a4a"/><rect x="640.0" y="987.2" width="15.5" height="3.8" rx="1.9" fill="#333333"/></g>
<circle cx="491.9" cy="999.0" r="1.2" fill="#111"/>
<circle cx="440.6" cy="999.0" r="0.7" fill="#888"/>
<text x="418.3" y="870.0" text-anchor="end">pERK</text>
<text x="418.3" y="906.9" text-anchor="end">ERK</text>
<text x="418.3" y="944.6" text-anchor="end">CBL</text>
<text x="418.3" y="992.6" text-anchor="end">Vinculin</text>
<text x="667.3" y="860.6" font-size="9.3">kDa</text>
<line x1="662.0" y1="876.8" x2="665.5" y2="876.8" stroke="#333" stroke-width="0.8"/>
<text x="669.0" y="880.1" font-size="9.3">40</text>
<line x1="662.0" y1="918.2" x2="665.5" y2="918.2" stroke="#333" stroke-width="0.8"/>
<text x="669.0" y="921.5" font-size="9.3">40</text>
<line x1="662.0" y1="959.6" x2="665.5" y2="959.6" stroke="#333" stroke-width="0.8"/>
<text x="669.0" y="962.9" font-size="9.3">100</text>
<line x1="662.0" y1="1006.9" x2="665.5" y2="1006.9" stroke="#333" stroke-width="0.8"/>
<text x="669.0" y="1010.2" font-size="9.3">100</text>
</svg></body></html>
